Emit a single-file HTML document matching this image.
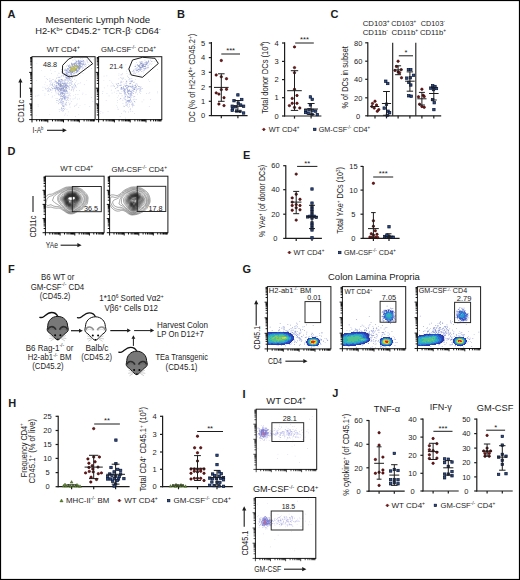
<!DOCTYPE html>
<html><head><meta charset="utf-8"><style>
html,body{margin:0;padding:0;background:#fff;}
svg{display:block;}
text{font-family:"Liberation Sans", sans-serif;fill:#1c1c1c;}
</style></head><body>
<svg width="520" height="580" viewBox="0 0 520 580" font-family='"Liberation Sans", sans-serif'>
<rect x="0" y="0" width="520" height="580" fill="#fff"/>
<text x="7.40" y="17.90" font-size="11" font-weight="bold" fill="#000">A</text>
<text x="177.00" y="17.90" font-size="11" font-weight="bold" fill="#000">B</text>
<text x="330.40" y="17.90" font-size="11" font-weight="bold" fill="#000">C</text>
<text x="7.60" y="154.80" font-size="11" font-weight="bold" fill="#000">D</text>
<text x="243.00" y="159.20" font-size="11" font-weight="bold" fill="#000">E</text>
<text x="8.00" y="273.20" font-size="11" font-weight="bold" fill="#000">F</text>
<text x="242.50" y="272.90" font-size="11" font-weight="bold" fill="#000">G</text>
<text x="8.20" y="406.80" font-size="11" font-weight="bold" fill="#000">H</text>
<text x="242.40" y="397.80" font-size="11" font-weight="bold" fill="#000">I</text>
<text x="332.20" y="397.40" font-size="11" font-weight="bold" fill="#000">J</text>
<line x1="211.40" y1="42.00" x2="211.40" y2="116.10" stroke="#1c1c1c" stroke-width="1.2"/>
<line x1="208.80" y1="43.00" x2="211.40" y2="43.00" stroke="#1c1c1c" stroke-width="1.2"/>
<text x="203.20" y="45.70" font-size="7.5" text-anchor="middle">5</text>
<line x1="208.80" y1="57.60" x2="211.40" y2="57.60" stroke="#1c1c1c" stroke-width="1.2"/>
<text x="203.20" y="60.30" font-size="7.5" text-anchor="middle">4</text>
<line x1="208.80" y1="72.30" x2="211.40" y2="72.30" stroke="#1c1c1c" stroke-width="1.2"/>
<text x="203.20" y="75.00" font-size="7.5" text-anchor="middle">3</text>
<line x1="208.80" y1="86.80" x2="211.40" y2="86.80" stroke="#1c1c1c" stroke-width="1.2"/>
<text x="203.20" y="89.50" font-size="7.5" text-anchor="middle">2</text>
<line x1="208.80" y1="101.30" x2="211.40" y2="101.30" stroke="#1c1c1c" stroke-width="1.2"/>
<text x="203.20" y="104.00" font-size="7.5" text-anchor="middle">1</text>
<line x1="208.80" y1="115.60" x2="211.40" y2="115.60" stroke="#1c1c1c" stroke-width="1.2"/>
<text x="203.20" y="118.30" font-size="7.5" text-anchor="middle">0</text>
<line x1="210.90" y1="115.60" x2="247.60" y2="115.60" stroke="#1c1c1c" stroke-width="1.2"/>
<line x1="221.30" y1="115.60" x2="221.30" y2="118.20" stroke="#1c1c1c" stroke-width="1.2"/>
<line x1="237.90" y1="115.60" x2="237.90" y2="118.20" stroke="#1c1c1c" stroke-width="1.2"/>
<text x="194.90" y="78.00" font-size="8.7" text-anchor="middle" textLength="88.50" lengthAdjust="spacingAndGlyphs" transform="rotate(-90 194.90 78.00)">DC (% of H2-K<tspan font-size="5.39" dy="-3.31">b+</tspan><tspan dy="3.31"> CD45.2</tspan><tspan font-size="5.39" dy="-3.31">+</tspan><tspan dy="3.31">)</tspan></text>
<line x1="221.30" y1="54.00" x2="240.00" y2="54.00" stroke="#1c1c1c" stroke-width="1.0"/>
<text x="230.65" y="53.40" font-size="7.6" text-anchor="middle">***</text>
<circle cx="221.30" cy="60.50" r="1.2" fill="#7d1416" stroke="#2a0505" stroke-width="0.6"/>
<circle cx="216.20" cy="75.00" r="1.2" fill="#7d1416" stroke="#2a0505" stroke-width="0.6"/>
<circle cx="221.30" cy="76.80" r="1.2" fill="#7d1416" stroke="#2a0505" stroke-width="0.6"/>
<circle cx="226.50" cy="78.70" r="1.2" fill="#7d1416" stroke="#2a0505" stroke-width="0.6"/>
<circle cx="221.30" cy="89.60" r="1.2" fill="#7d1416" stroke="#2a0505" stroke-width="0.6"/>
<circle cx="226.50" cy="89.30" r="1.2" fill="#7d1416" stroke="#2a0505" stroke-width="0.6"/>
<circle cx="216.20" cy="92.90" r="1.2" fill="#7d1416" stroke="#2a0505" stroke-width="0.6"/>
<circle cx="218.90" cy="94.10" r="1.2" fill="#7d1416" stroke="#2a0505" stroke-width="0.6"/>
<circle cx="224.00" cy="97.70" r="1.2" fill="#7d1416" stroke="#2a0505" stroke-width="0.6"/>
<circle cx="218.90" cy="104.00" r="1.2" fill="#7d1416" stroke="#2a0505" stroke-width="0.6"/>
<circle cx="224.00" cy="105.60" r="1.2" fill="#7d1416" stroke="#2a0505" stroke-width="0.6"/>
<line x1="214.00" y1="87.40" x2="228.60" y2="87.40" stroke="#1c1c1c" stroke-width="1.0"/>
<line x1="221.30" y1="73.80" x2="221.30" y2="101.30" stroke="#1c1c1c" stroke-width="1.0"/>
<line x1="218.00" y1="73.80" x2="224.60" y2="73.80" stroke="#1c1c1c" stroke-width="1.0"/>
<line x1="218.00" y1="101.30" x2="224.60" y2="101.30" stroke="#1c1c1c" stroke-width="1.0"/>
<rect x="236.70" y="93.70" width="2.40" height="2.40" fill="#2b4e8e" stroke="#0b1530" stroke-width="0.7"/>
<rect x="232.80" y="99.50" width="2.40" height="2.40" fill="#2b4e8e" stroke="#0b1530" stroke-width="0.7"/>
<rect x="240.60" y="98.30" width="2.40" height="2.40" fill="#2b4e8e" stroke="#0b1530" stroke-width="0.7"/>
<rect x="237.00" y="101.90" width="2.40" height="2.40" fill="#2b4e8e" stroke="#0b1530" stroke-width="0.7"/>
<rect x="239.40" y="103.80" width="2.40" height="2.40" fill="#2b4e8e" stroke="#0b1530" stroke-width="0.7"/>
<rect x="242.40" y="105.00" width="2.40" height="2.40" fill="#2b4e8e" stroke="#0b1530" stroke-width="0.7"/>
<rect x="231.00" y="105.00" width="2.40" height="2.40" fill="#2b4e8e" stroke="#0b1530" stroke-width="0.7"/>
<rect x="234.60" y="105.60" width="2.40" height="2.40" fill="#2b4e8e" stroke="#0b1530" stroke-width="0.7"/>
<rect x="231.30" y="107.70" width="2.40" height="2.40" fill="#2b4e8e" stroke="#0b1530" stroke-width="0.7"/>
<rect x="231.00" y="109.20" width="2.40" height="2.40" fill="#2b4e8e" stroke="#0b1530" stroke-width="0.7"/>
<rect x="235.40" y="109.80" width="2.40" height="2.40" fill="#2b4e8e" stroke="#0b1530" stroke-width="0.7"/>
<rect x="238.80" y="110.20" width="2.40" height="2.40" fill="#2b4e8e" stroke="#0b1530" stroke-width="0.7"/>
<rect x="242.40" y="111.80" width="2.40" height="2.40" fill="#2b4e8e" stroke="#0b1530" stroke-width="0.7"/>
<line x1="232.60" y1="106.20" x2="243.20" y2="106.20" stroke="#1c1c1c" stroke-width="1.0"/>
<line x1="237.90" y1="100.50" x2="237.90" y2="111.50" stroke="#1c1c1c" stroke-width="1.0"/>
<line x1="234.60" y1="100.50" x2="241.20" y2="100.50" stroke="#1c1c1c" stroke-width="1.0"/>
<line x1="234.60" y1="111.50" x2="241.20" y2="111.50" stroke="#1c1c1c" stroke-width="1.0"/>
<line x1="284.60" y1="42.20" x2="284.60" y2="116.50" stroke="#1c1c1c" stroke-width="1.2"/>
<line x1="282.00" y1="43.00" x2="284.60" y2="43.00" stroke="#1c1c1c" stroke-width="1.2"/>
<text x="276.60" y="45.70" font-size="7.5" text-anchor="middle">4</text>
<line x1="282.00" y1="61.40" x2="284.60" y2="61.40" stroke="#1c1c1c" stroke-width="1.2"/>
<text x="276.60" y="64.10" font-size="7.5" text-anchor="middle">3</text>
<line x1="282.00" y1="79.60" x2="284.60" y2="79.60" stroke="#1c1c1c" stroke-width="1.2"/>
<text x="276.60" y="82.30" font-size="7.5" text-anchor="middle">2</text>
<line x1="282.00" y1="97.70" x2="284.60" y2="97.70" stroke="#1c1c1c" stroke-width="1.2"/>
<text x="276.60" y="100.40" font-size="7.5" text-anchor="middle">1</text>
<line x1="282.00" y1="116.00" x2="284.60" y2="116.00" stroke="#1c1c1c" stroke-width="1.2"/>
<text x="276.60" y="118.70" font-size="7.5" text-anchor="middle">0</text>
<line x1="284.10" y1="116.00" x2="321.40" y2="116.00" stroke="#1c1c1c" stroke-width="1.2"/>
<line x1="294.50" y1="116.00" x2="294.50" y2="118.60" stroke="#1c1c1c" stroke-width="1.2"/>
<line x1="311.10" y1="116.00" x2="311.10" y2="118.60" stroke="#1c1c1c" stroke-width="1.2"/>
<text x="267.80" y="77.60" font-size="8.7" text-anchor="middle" textLength="72.40" lengthAdjust="spacingAndGlyphs" transform="rotate(-90 267.80 77.60)">Total donor DCs (10<tspan font-size="5.39" dy="-3.31">4</tspan><tspan dy="3.31">)</tspan></text>
<line x1="295.20" y1="43.00" x2="313.80" y2="43.00" stroke="#1c1c1c" stroke-width="1.0"/>
<text x="304.50" y="42.40" font-size="7.6" text-anchor="middle">***</text>
<circle cx="294.50" cy="46.90" r="1.2" fill="#7d1416" stroke="#2a0505" stroke-width="0.6"/>
<circle cx="294.50" cy="67.60" r="1.2" fill="#7d1416" stroke="#2a0505" stroke-width="0.6"/>
<circle cx="294.50" cy="72.70" r="1.2" fill="#7d1416" stroke="#2a0505" stroke-width="0.6"/>
<circle cx="294.50" cy="89.30" r="1.2" fill="#7d1416" stroke="#2a0505" stroke-width="0.6"/>
<circle cx="297.00" cy="95.50" r="1.2" fill="#7d1416" stroke="#2a0505" stroke-width="0.6"/>
<circle cx="292.20" cy="98.40" r="1.2" fill="#7d1416" stroke="#2a0505" stroke-width="0.6"/>
<circle cx="292.20" cy="103.30" r="1.2" fill="#7d1416" stroke="#2a0505" stroke-width="0.6"/>
<circle cx="297.00" cy="103.30" r="1.2" fill="#7d1416" stroke="#2a0505" stroke-width="0.6"/>
<circle cx="289.40" cy="105.60" r="1.2" fill="#7d1416" stroke="#2a0505" stroke-width="0.6"/>
<circle cx="294.50" cy="107.40" r="1.2" fill="#7d1416" stroke="#2a0505" stroke-width="0.6"/>
<circle cx="299.80" cy="108.00" r="1.2" fill="#7d1416" stroke="#2a0505" stroke-width="0.6"/>
<line x1="287.20" y1="90.70" x2="301.80" y2="90.70" stroke="#1c1c1c" stroke-width="1.0"/>
<line x1="294.50" y1="70.70" x2="294.50" y2="110.40" stroke="#1c1c1c" stroke-width="1.0"/>
<line x1="290.80" y1="70.70" x2="298.20" y2="70.70" stroke="#1c1c1c" stroke-width="1.0"/>
<line x1="290.80" y1="110.40" x2="298.20" y2="110.40" stroke="#1c1c1c" stroke-width="1.0"/>
<rect x="309.20" y="95.70" width="2.40" height="2.40" fill="#2b4e8e" stroke="#0b1530" stroke-width="0.7"/>
<rect x="311.00" y="98.20" width="2.40" height="2.40" fill="#2b4e8e" stroke="#0b1530" stroke-width="0.7"/>
<rect x="309.20" y="103.70" width="2.40" height="2.40" fill="#2b4e8e" stroke="#0b1530" stroke-width="0.7"/>
<rect x="304.40" y="109.50" width="2.40" height="2.40" fill="#2b4e8e" stroke="#0b1530" stroke-width="0.7"/>
<rect x="307.80" y="108.60" width="2.40" height="2.40" fill="#2b4e8e" stroke="#0b1530" stroke-width="0.7"/>
<rect x="311.30" y="109.20" width="2.40" height="2.40" fill="#2b4e8e" stroke="#0b1530" stroke-width="0.7"/>
<rect x="314.40" y="109.90" width="2.40" height="2.40" fill="#2b4e8e" stroke="#0b1530" stroke-width="0.7"/>
<rect x="304.40" y="111.30" width="2.40" height="2.40" fill="#2b4e8e" stroke="#0b1530" stroke-width="0.7"/>
<rect x="307.10" y="112.00" width="2.40" height="2.40" fill="#2b4e8e" stroke="#0b1530" stroke-width="0.7"/>
<rect x="310.80" y="113.00" width="2.40" height="2.40" fill="#2b4e8e" stroke="#0b1530" stroke-width="0.7"/>
<rect x="316.10" y="113.40" width="2.40" height="2.40" fill="#2b4e8e" stroke="#0b1530" stroke-width="0.7"/>
<line x1="304.20" y1="109.00" x2="318.00" y2="109.00" stroke="#1c1c1c" stroke-width="1.0"/>
<line x1="311.10" y1="103.50" x2="311.10" y2="114.50" stroke="#1c1c1c" stroke-width="1.0"/>
<line x1="307.60" y1="103.50" x2="314.60" y2="103.50" stroke="#1c1c1c" stroke-width="1.0"/>
<line x1="307.60" y1="114.50" x2="314.60" y2="114.50" stroke="#1c1c1c" stroke-width="1.0"/>
<path d="M263.80,127.90 L265.30,129.40 L263.80,130.90 L262.30,129.40 Z" fill="#7d1416" stroke="#3a0a0a" stroke-width="0.5"/>
<text x="268.70" y="132.20" font-size="7.8" textLength="30.70" lengthAdjust="spacingAndGlyphs">WT CD4<tspan font-size="4.84" dy="-2.96">+</tspan></text>
<rect x="313.60" y="128.20" width="2.40" height="2.40" fill="#2b4e8e" stroke="#0b1530" stroke-width="0.7"/>
<text x="318.80" y="132.20" font-size="7.8" textLength="51.40" lengthAdjust="spacingAndGlyphs">GM-CSF<tspan font-size="4.84" dy="-2.96">-/-</tspan><tspan dy="2.96"> CD4</tspan><tspan font-size="4.84" dy="-2.96">+</tspan></text>
<text x="362.70" y="25.70" font-size="7.6" textLength="27.00" lengthAdjust="spacingAndGlyphs">CD103<tspan font-size="4.71" dy="-2.89">+</tspan></text>
<text x="362.70" y="34.80" font-size="7.6" textLength="25.20" lengthAdjust="spacingAndGlyphs">CD11b<tspan font-size="4.71" dy="-2.89">-</tspan></text>
<text x="391.20" y="25.70" font-size="7.6" textLength="25.00" lengthAdjust="spacingAndGlyphs">CD103<tspan font-size="4.71" dy="-2.89">+</tspan></text>
<text x="391.60" y="34.80" font-size="7.6" textLength="26.50" lengthAdjust="spacingAndGlyphs">CD11b<tspan font-size="4.71" dy="-2.89">+</tspan></text>
<text x="420.80" y="25.70" font-size="7.6" textLength="24.20" lengthAdjust="spacingAndGlyphs">CD103<tspan font-size="4.71" dy="-2.89">-</tspan></text>
<text x="419.90" y="34.80" font-size="7.6" textLength="26.10" lengthAdjust="spacingAndGlyphs">CD11b<tspan font-size="4.71" dy="-2.89">+</tspan></text>
<line x1="367.80" y1="42.30" x2="367.80" y2="116.30" stroke="#1c1c1c" stroke-width="1.2"/>
<line x1="365.20" y1="42.80" x2="367.80" y2="42.80" stroke="#1c1c1c" stroke-width="1.2"/>
<text x="358.20" y="45.50" font-size="7.5" text-anchor="middle">80</text>
<line x1="365.20" y1="61.20" x2="367.80" y2="61.20" stroke="#1c1c1c" stroke-width="1.2"/>
<text x="358.20" y="63.90" font-size="7.5" text-anchor="middle">60</text>
<line x1="365.20" y1="79.30" x2="367.80" y2="79.30" stroke="#1c1c1c" stroke-width="1.2"/>
<text x="358.20" y="82.00" font-size="7.5" text-anchor="middle">40</text>
<line x1="365.20" y1="97.80" x2="367.80" y2="97.80" stroke="#1c1c1c" stroke-width="1.2"/>
<text x="358.20" y="100.50" font-size="7.5" text-anchor="middle">20</text>
<line x1="365.20" y1="115.80" x2="367.80" y2="115.80" stroke="#1c1c1c" stroke-width="1.2"/>
<text x="358.20" y="118.50" font-size="7.5" text-anchor="middle">0</text>
<line x1="367.30" y1="115.80" x2="441.20" y2="115.80" stroke="#1c1c1c" stroke-width="1.2"/>
<line x1="375.00" y1="115.80" x2="375.00" y2="118.40" stroke="#1c1c1c" stroke-width="1.2"/>
<line x1="386.50" y1="115.80" x2="386.50" y2="118.40" stroke="#1c1c1c" stroke-width="1.2"/>
<line x1="398.10" y1="115.80" x2="398.10" y2="118.40" stroke="#1c1c1c" stroke-width="1.2"/>
<line x1="409.90" y1="115.80" x2="409.90" y2="118.40" stroke="#1c1c1c" stroke-width="1.2"/>
<line x1="421.90" y1="115.80" x2="421.90" y2="118.40" stroke="#1c1c1c" stroke-width="1.2"/>
<line x1="433.80" y1="115.80" x2="433.80" y2="118.40" stroke="#1c1c1c" stroke-width="1.2"/>
<line x1="392.70" y1="42.80" x2="392.70" y2="115.80" stroke="#1c1c1c" stroke-width="1.1"/>
<line x1="415.80" y1="42.80" x2="415.80" y2="115.80" stroke="#1c1c1c" stroke-width="1.1"/>
<text x="348.30" y="77.40" font-size="8.7" text-anchor="middle" textLength="62.30" lengthAdjust="spacingAndGlyphs" transform="rotate(-90 348.30 77.40)">% of DCs in subset</text>
<line x1="398.80" y1="55.80" x2="413.00" y2="55.80" stroke="#1c1c1c" stroke-width="1.0"/>
<text x="405.90" y="55.20" font-size="7.6" text-anchor="middle">*</text>
<circle cx="375.00" cy="101.20" r="1.2" fill="#7d1416" stroke="#2a0505" stroke-width="0.6"/>
<circle cx="371.90" cy="106.50" r="1.2" fill="#7d1416" stroke="#2a0505" stroke-width="0.6"/>
<circle cx="376.50" cy="105.00" r="1.2" fill="#7d1416" stroke="#2a0505" stroke-width="0.6"/>
<circle cx="374.20" cy="108.10" r="1.2" fill="#7d1416" stroke="#2a0505" stroke-width="0.6"/>
<circle cx="378.80" cy="109.60" r="1.2" fill="#7d1416" stroke="#2a0505" stroke-width="0.6"/>
<circle cx="377.30" cy="111.20" r="1.2" fill="#7d1416" stroke="#2a0505" stroke-width="0.6"/>
<circle cx="372.50" cy="103.50" r="1.2" fill="#7d1416" stroke="#2a0505" stroke-width="0.6"/>
<line x1="370.40" y1="106.50" x2="379.20" y2="106.50" stroke="#1c1c1c" stroke-width="1.0"/>
<rect x="384.60" y="80.00" width="2.40" height="2.40" fill="#2b4e8e" stroke="#0b1530" stroke-width="0.7"/>
<rect x="386.60" y="82.30" width="2.40" height="2.40" fill="#2b4e8e" stroke="#0b1530" stroke-width="0.7"/>
<rect x="385.30" y="103.00" width="2.40" height="2.40" fill="#2b4e8e" stroke="#0b1530" stroke-width="0.7"/>
<rect x="383.00" y="106.90" width="2.40" height="2.40" fill="#2b4e8e" stroke="#0b1530" stroke-width="0.7"/>
<rect x="386.90" y="110.00" width="2.40" height="2.40" fill="#2b4e8e" stroke="#0b1530" stroke-width="0.7"/>
<rect x="388.40" y="111.50" width="2.40" height="2.40" fill="#2b4e8e" stroke="#0b1530" stroke-width="0.7"/>
<rect x="386.10" y="114.10" width="2.40" height="2.40" fill="#2b4e8e" stroke="#0b1530" stroke-width="0.7"/>
<line x1="381.90" y1="103.50" x2="391.10" y2="103.50" stroke="#1c1c1c" stroke-width="1.0"/>
<line x1="386.50" y1="91.50" x2="386.50" y2="115.30" stroke="#1c1c1c" stroke-width="1.0"/>
<line x1="383.10" y1="91.50" x2="389.90" y2="91.50" stroke="#1c1c1c" stroke-width="1.0"/>
<line x1="383.10" y1="115.30" x2="389.90" y2="115.30" stroke="#1c1c1c" stroke-width="1.0"/>
<circle cx="398.10" cy="61.20" r="1.2" fill="#7d1416" stroke="#2a0505" stroke-width="0.6"/>
<circle cx="396.50" cy="66.50" r="1.2" fill="#7d1416" stroke="#2a0505" stroke-width="0.6"/>
<circle cx="401.20" cy="69.60" r="1.2" fill="#7d1416" stroke="#2a0505" stroke-width="0.6"/>
<circle cx="395.00" cy="70.40" r="1.2" fill="#7d1416" stroke="#2a0505" stroke-width="0.6"/>
<circle cx="398.10" cy="71.90" r="1.2" fill="#7d1416" stroke="#2a0505" stroke-width="0.6"/>
<circle cx="399.60" cy="72.70" r="1.2" fill="#7d1416" stroke="#2a0505" stroke-width="0.6"/>
<circle cx="401.50" cy="77.80" r="1.2" fill="#7d1416" stroke="#2a0505" stroke-width="0.6"/>
<line x1="393.80" y1="69.90" x2="402.40" y2="69.90" stroke="#1c1c1c" stroke-width="1.0"/>
<line x1="398.10" y1="65.80" x2="398.10" y2="74.70" stroke="#1c1c1c" stroke-width="1.0"/>
<line x1="395.10" y1="65.80" x2="401.10" y2="65.80" stroke="#1c1c1c" stroke-width="1.0"/>
<line x1="395.10" y1="74.70" x2="401.10" y2="74.70" stroke="#1c1c1c" stroke-width="1.0"/>
<rect x="407.20" y="68.40" width="2.40" height="2.40" fill="#2b4e8e" stroke="#0b1530" stroke-width="0.7"/>
<rect x="409.60" y="68.40" width="2.40" height="2.40" fill="#2b4e8e" stroke="#0b1530" stroke-width="0.7"/>
<rect x="412.30" y="74.10" width="2.40" height="2.40" fill="#2b4e8e" stroke="#0b1530" stroke-width="0.7"/>
<rect x="405.60" y="76.90" width="2.40" height="2.40" fill="#2b4e8e" stroke="#0b1530" stroke-width="0.7"/>
<rect x="409.20" y="76.60" width="2.40" height="2.40" fill="#2b4e8e" stroke="#0b1530" stroke-width="0.7"/>
<rect x="407.60" y="81.20" width="2.40" height="2.40" fill="#2b4e8e" stroke="#0b1530" stroke-width="0.7"/>
<rect x="409.60" y="83.80" width="2.40" height="2.40" fill="#2b4e8e" stroke="#0b1530" stroke-width="0.7"/>
<rect x="407.60" y="94.60" width="2.40" height="2.40" fill="#2b4e8e" stroke="#0b1530" stroke-width="0.7"/>
<rect x="410.00" y="95.00" width="2.40" height="2.40" fill="#2b4e8e" stroke="#0b1530" stroke-width="0.7"/>
<line x1="405.10" y1="81.20" x2="414.70" y2="81.20" stroke="#1c1c1c" stroke-width="1.0"/>
<line x1="409.90" y1="71.90" x2="409.90" y2="91.20" stroke="#1c1c1c" stroke-width="1.0"/>
<line x1="406.70" y1="71.90" x2="413.10" y2="71.90" stroke="#1c1c1c" stroke-width="1.0"/>
<line x1="406.70" y1="91.20" x2="413.10" y2="91.20" stroke="#1c1c1c" stroke-width="1.0"/>
<circle cx="421.90" cy="89.20" r="1.2" fill="#7d1416" stroke="#2a0505" stroke-width="0.6"/>
<circle cx="423.20" cy="95.30" r="1.2" fill="#7d1416" stroke="#2a0505" stroke-width="0.6"/>
<circle cx="418.50" cy="96.80" r="1.2" fill="#7d1416" stroke="#2a0505" stroke-width="0.6"/>
<circle cx="424.20" cy="96.50" r="1.2" fill="#7d1416" stroke="#2a0505" stroke-width="0.6"/>
<circle cx="419.60" cy="104.20" r="1.2" fill="#7d1416" stroke="#2a0505" stroke-width="0.6"/>
<circle cx="421.90" cy="106.50" r="1.2" fill="#7d1416" stroke="#2a0505" stroke-width="0.6"/>
<circle cx="424.20" cy="107.30" r="1.2" fill="#7d1416" stroke="#2a0505" stroke-width="0.6"/>
<line x1="417.30" y1="98.80" x2="426.50" y2="98.80" stroke="#1c1c1c" stroke-width="1.0"/>
<line x1="421.90" y1="92.40" x2="421.90" y2="105.00" stroke="#1c1c1c" stroke-width="1.0"/>
<line x1="418.90" y1="92.40" x2="424.90" y2="92.40" stroke="#1c1c1c" stroke-width="1.0"/>
<line x1="418.90" y1="105.00" x2="424.90" y2="105.00" stroke="#1c1c1c" stroke-width="1.0"/>
<rect x="431.50" y="84.60" width="2.40" height="2.40" fill="#2b4e8e" stroke="#0b1530" stroke-width="0.7"/>
<rect x="433.80" y="85.30" width="2.40" height="2.40" fill="#2b4e8e" stroke="#0b1530" stroke-width="0.7"/>
<rect x="429.60" y="86.90" width="2.40" height="2.40" fill="#2b4e8e" stroke="#0b1530" stroke-width="0.7"/>
<rect x="435.30" y="87.30" width="2.40" height="2.40" fill="#2b4e8e" stroke="#0b1530" stroke-width="0.7"/>
<rect x="432.30" y="88.40" width="2.40" height="2.40" fill="#2b4e8e" stroke="#0b1530" stroke-width="0.7"/>
<rect x="431.50" y="98.40" width="2.40" height="2.40" fill="#2b4e8e" stroke="#0b1530" stroke-width="0.7"/>
<rect x="433.00" y="101.50" width="2.40" height="2.40" fill="#2b4e8e" stroke="#0b1530" stroke-width="0.7"/>
<rect x="432.70" y="108.40" width="2.40" height="2.40" fill="#2b4e8e" stroke="#0b1530" stroke-width="0.7"/>
<line x1="429.00" y1="93.50" x2="438.60" y2="93.50" stroke="#1c1c1c" stroke-width="1.0"/>
<line x1="433.80" y1="87.50" x2="433.80" y2="100.00" stroke="#1c1c1c" stroke-width="1.0"/>
<line x1="430.80" y1="87.50" x2="436.80" y2="87.50" stroke="#1c1c1c" stroke-width="1.0"/>
<line x1="430.80" y1="100.00" x2="436.80" y2="100.00" stroke="#1c1c1c" stroke-width="1.0"/>
<line x1="285.80" y1="165.20" x2="285.80" y2="238.90" stroke="#1c1c1c" stroke-width="1.2"/>
<line x1="283.20" y1="165.70" x2="285.80" y2="165.70" stroke="#1c1c1c" stroke-width="1.2"/>
<text x="275.40" y="168.40" font-size="7.5" text-anchor="middle">60</text>
<line x1="283.20" y1="189.70" x2="285.80" y2="189.70" stroke="#1c1c1c" stroke-width="1.2"/>
<text x="275.40" y="192.40" font-size="7.5" text-anchor="middle">40</text>
<line x1="283.20" y1="214.20" x2="285.80" y2="214.20" stroke="#1c1c1c" stroke-width="1.2"/>
<text x="275.40" y="216.90" font-size="7.5" text-anchor="middle">20</text>
<line x1="283.20" y1="238.40" x2="285.80" y2="238.40" stroke="#1c1c1c" stroke-width="1.2"/>
<text x="275.40" y="241.10" font-size="7.5" text-anchor="middle">0</text>
<line x1="285.30" y1="238.40" x2="321.90" y2="238.40" stroke="#1c1c1c" stroke-width="1.2"/>
<line x1="296.20" y1="238.40" x2="296.20" y2="241.00" stroke="#1c1c1c" stroke-width="1.2"/>
<line x1="312.00" y1="238.40" x2="312.00" y2="241.00" stroke="#1c1c1c" stroke-width="1.2"/>
<text x="265.40" y="201.00" font-size="8.7" text-anchor="middle" textLength="72.10" lengthAdjust="spacingAndGlyphs" transform="rotate(-90 265.40 201.00)">% YAe<tspan font-size="5.39" dy="-3.31">+</tspan><tspan dy="3.31"> (of donor DCs)</tspan></text>
<line x1="297.10" y1="166.40" x2="317.40" y2="166.40" stroke="#1c1c1c" stroke-width="1.0"/>
<text x="307.25" y="165.80" font-size="7.6" text-anchor="middle">**</text>
<circle cx="296.20" cy="174.10" r="1.2" fill="#7d1416" stroke="#2a0505" stroke-width="0.6"/>
<circle cx="296.20" cy="194.20" r="1.2" fill="#7d1416" stroke="#2a0505" stroke-width="0.6"/>
<circle cx="292.20" cy="197.90" r="1.2" fill="#7d1416" stroke="#2a0505" stroke-width="0.6"/>
<circle cx="300.00" cy="199.30" r="1.2" fill="#7d1416" stroke="#2a0505" stroke-width="0.6"/>
<circle cx="292.20" cy="202.10" r="1.2" fill="#7d1416" stroke="#2a0505" stroke-width="0.6"/>
<circle cx="296.20" cy="204.60" r="1.2" fill="#7d1416" stroke="#2a0505" stroke-width="0.6"/>
<circle cx="300.00" cy="205.50" r="1.2" fill="#7d1416" stroke="#2a0505" stroke-width="0.6"/>
<circle cx="292.20" cy="205.50" r="1.2" fill="#7d1416" stroke="#2a0505" stroke-width="0.6"/>
<circle cx="296.20" cy="207.80" r="1.2" fill="#7d1416" stroke="#2a0505" stroke-width="0.6"/>
<circle cx="292.20" cy="210.20" r="1.2" fill="#7d1416" stroke="#2a0505" stroke-width="0.6"/>
<circle cx="300.00" cy="209.80" r="1.2" fill="#7d1416" stroke="#2a0505" stroke-width="0.6"/>
<circle cx="296.20" cy="220.10" r="1.2" fill="#7d1416" stroke="#2a0505" stroke-width="0.6"/>
<line x1="291.00" y1="202.10" x2="301.40" y2="202.10" stroke="#1c1c1c" stroke-width="1.0"/>
<line x1="296.20" y1="191.40" x2="296.20" y2="213.70" stroke="#1c1c1c" stroke-width="1.0"/>
<line x1="293.20" y1="191.40" x2="299.20" y2="191.40" stroke="#1c1c1c" stroke-width="1.0"/>
<line x1="293.20" y1="213.70" x2="299.20" y2="213.70" stroke="#1c1c1c" stroke-width="1.0"/>
<rect x="310.80" y="187.80" width="2.40" height="2.40" fill="#2b4e8e" stroke="#0b1530" stroke-width="0.7"/>
<rect x="310.80" y="201.90" width="2.40" height="2.40" fill="#2b4e8e" stroke="#0b1530" stroke-width="0.7"/>
<rect x="310.80" y="205.50" width="2.40" height="2.40" fill="#2b4e8e" stroke="#0b1530" stroke-width="0.7"/>
<rect x="310.80" y="208.00" width="2.40" height="2.40" fill="#2b4e8e" stroke="#0b1530" stroke-width="0.7"/>
<rect x="310.80" y="210.40" width="2.40" height="2.40" fill="#2b4e8e" stroke="#0b1530" stroke-width="0.7"/>
<rect x="310.80" y="213.30" width="2.40" height="2.40" fill="#2b4e8e" stroke="#0b1530" stroke-width="0.7"/>
<rect x="306.60" y="215.70" width="2.40" height="2.40" fill="#2b4e8e" stroke="#0b1530" stroke-width="0.7"/>
<rect x="308.70" y="215.10" width="2.40" height="2.40" fill="#2b4e8e" stroke="#0b1530" stroke-width="0.7"/>
<rect x="312.90" y="215.10" width="2.40" height="2.40" fill="#2b4e8e" stroke="#0b1530" stroke-width="0.7"/>
<rect x="315.00" y="216.10" width="2.40" height="2.40" fill="#2b4e8e" stroke="#0b1530" stroke-width="0.7"/>
<rect x="310.80" y="216.80" width="2.40" height="2.40" fill="#2b4e8e" stroke="#0b1530" stroke-width="0.7"/>
<rect x="310.80" y="221.70" width="2.40" height="2.40" fill="#2b4e8e" stroke="#0b1530" stroke-width="0.7"/>
<rect x="310.80" y="224.10" width="2.40" height="2.40" fill="#2b4e8e" stroke="#0b1530" stroke-width="0.7"/>
<rect x="310.80" y="226.70" width="2.40" height="2.40" fill="#2b4e8e" stroke="#0b1530" stroke-width="0.7"/>
<rect x="310.80" y="228.80" width="2.40" height="2.40" fill="#2b4e8e" stroke="#0b1530" stroke-width="0.7"/>
<rect x="310.80" y="236.60" width="2.40" height="2.40" fill="#2b4e8e" stroke="#0b1530" stroke-width="0.7"/>
<line x1="306.30" y1="216.60" x2="317.70" y2="216.60" stroke="#1c1c1c" stroke-width="1.0"/>
<line x1="312.00" y1="205.30" x2="312.00" y2="228.60" stroke="#1c1c1c" stroke-width="1.0"/>
<line x1="309.00" y1="205.30" x2="315.00" y2="205.30" stroke="#1c1c1c" stroke-width="1.0"/>
<line x1="309.00" y1="228.60" x2="315.00" y2="228.60" stroke="#1c1c1c" stroke-width="1.0"/>
<line x1="363.10" y1="165.90" x2="363.10" y2="238.90" stroke="#1c1c1c" stroke-width="1.2"/>
<line x1="360.50" y1="166.40" x2="363.10" y2="166.40" stroke="#1c1c1c" stroke-width="1.2"/>
<text x="353.40" y="169.10" font-size="7.5" text-anchor="middle">15</text>
<line x1="360.50" y1="190.10" x2="363.10" y2="190.10" stroke="#1c1c1c" stroke-width="1.2"/>
<text x="353.40" y="192.80" font-size="7.5" text-anchor="middle">10</text>
<line x1="360.50" y1="214.20" x2="363.10" y2="214.20" stroke="#1c1c1c" stroke-width="1.2"/>
<text x="353.40" y="216.90" font-size="7.5" text-anchor="middle">5</text>
<line x1="360.50" y1="238.40" x2="363.10" y2="238.40" stroke="#1c1c1c" stroke-width="1.2"/>
<text x="353.40" y="241.10" font-size="7.5" text-anchor="middle">0</text>
<line x1="362.60" y1="238.40" x2="399.60" y2="238.40" stroke="#1c1c1c" stroke-width="1.2"/>
<line x1="373.40" y1="238.40" x2="373.40" y2="241.00" stroke="#1c1c1c" stroke-width="1.2"/>
<line x1="389.00" y1="238.40" x2="389.00" y2="241.00" stroke="#1c1c1c" stroke-width="1.2"/>
<text x="343.10" y="200.30" font-size="8.7" text-anchor="middle" textLength="66.70" lengthAdjust="spacingAndGlyphs" transform="rotate(-90 343.10 200.30)">Total YAe<tspan font-size="5.39" dy="-3.31">+</tspan><tspan dy="3.31"> DCs (10</tspan><tspan font-size="5.39" dy="-3.31">3</tspan><tspan dy="3.31">)</tspan></text>
<line x1="373.20" y1="177.00" x2="393.20" y2="177.00" stroke="#1c1c1c" stroke-width="1.0"/>
<text x="383.20" y="176.40" font-size="7.6" text-anchor="middle">***</text>
<circle cx="373.40" cy="183.30" r="1.2" fill="#7d1416" stroke="#2a0505" stroke-width="0.6"/>
<circle cx="373.40" cy="220.80" r="1.2" fill="#7d1416" stroke="#2a0505" stroke-width="0.6"/>
<circle cx="373.40" cy="226.20" r="1.2" fill="#7d1416" stroke="#2a0505" stroke-width="0.6"/>
<circle cx="375.30" cy="230.70" r="1.2" fill="#7d1416" stroke="#2a0505" stroke-width="0.6"/>
<circle cx="371.30" cy="233.80" r="1.2" fill="#7d1416" stroke="#2a0505" stroke-width="0.6"/>
<circle cx="377.00" cy="234.30" r="1.2" fill="#7d1416" stroke="#2a0505" stroke-width="0.6"/>
<circle cx="373.40" cy="235.00" r="1.2" fill="#7d1416" stroke="#2a0505" stroke-width="0.6"/>
<circle cx="369.90" cy="237.10" r="1.2" fill="#7d1416" stroke="#2a0505" stroke-width="0.6"/>
<circle cx="375.60" cy="237.10" r="1.2" fill="#7d1416" stroke="#2a0505" stroke-width="0.6"/>
<circle cx="372.00" cy="237.50" r="1.2" fill="#7d1416" stroke="#2a0505" stroke-width="0.6"/>
<circle cx="377.70" cy="237.50" r="1.2" fill="#7d1416" stroke="#2a0505" stroke-width="0.6"/>
<line x1="368.00" y1="228.60" x2="378.80" y2="228.60" stroke="#1c1c1c" stroke-width="1.0"/>
<line x1="373.40" y1="212.60" x2="373.40" y2="238.00" stroke="#1c1c1c" stroke-width="1.0"/>
<line x1="371.10" y1="212.60" x2="375.70" y2="212.60" stroke="#1c1c1c" stroke-width="1.0"/>
<line x1="371.10" y1="238.00" x2="375.70" y2="238.00" stroke="#1c1c1c" stroke-width="1.0"/>
<rect x="387.80" y="225.60" width="2.40" height="2.40" fill="#2b4e8e" stroke="#0b1530" stroke-width="0.7"/>
<rect x="383.60" y="235.30" width="2.40" height="2.40" fill="#2b4e8e" stroke="#0b1530" stroke-width="0.7"/>
<rect x="385.70" y="236.00" width="2.40" height="2.40" fill="#2b4e8e" stroke="#0b1530" stroke-width="0.7"/>
<rect x="387.80" y="235.30" width="2.40" height="2.40" fill="#2b4e8e" stroke="#0b1530" stroke-width="0.7"/>
<rect x="389.90" y="236.00" width="2.40" height="2.40" fill="#2b4e8e" stroke="#0b1530" stroke-width="0.7"/>
<rect x="392.00" y="236.00" width="2.40" height="2.40" fill="#2b4e8e" stroke="#0b1530" stroke-width="0.7"/>
<rect x="385.70" y="233.80" width="2.40" height="2.40" fill="#2b4e8e" stroke="#0b1530" stroke-width="0.7"/>
<line x1="384.50" y1="236.40" x2="393.50" y2="236.40" stroke="#1c1c1c" stroke-width="1.0"/>
<line x1="389.00" y1="233.80" x2="389.00" y2="238.00" stroke="#1c1c1c" stroke-width="1.0"/>
<line x1="386.50" y1="233.80" x2="391.50" y2="233.80" stroke="#1c1c1c" stroke-width="1.0"/>
<line x1="386.50" y1="238.00" x2="391.50" y2="238.00" stroke="#1c1c1c" stroke-width="1.0"/>
<path d="M289.40,251.00 L290.90,252.50 L289.40,254.00 L287.90,252.50 Z" fill="#7d1416" stroke="#3a0a0a" stroke-width="0.5"/>
<text x="293.50" y="255.20" font-size="7.8" textLength="30.90" lengthAdjust="spacingAndGlyphs">WT CD4<tspan font-size="4.84" dy="-2.96">+</tspan></text>
<rect x="338.60" y="251.30" width="2.40" height="2.40" fill="#2b4e8e" stroke="#0b1530" stroke-width="0.7"/>
<text x="344.00" y="255.20" font-size="7.8" textLength="51.80" lengthAdjust="spacingAndGlyphs">GM-CSF<tspan font-size="4.84" dy="-2.96">-/-</tspan><tspan dy="2.96"> CD4</tspan><tspan font-size="4.84" dy="-2.96">+</tspan></text>
<line x1="58.20" y1="415.80" x2="58.20" y2="487.20" stroke="#1c1c1c" stroke-width="1.2"/>
<line x1="55.60" y1="416.30" x2="58.20" y2="416.30" stroke="#1c1c1c" stroke-width="1.2"/>
<text x="47.50" y="419.00" font-size="7.5" text-anchor="middle">25</text>
<line x1="55.60" y1="430.50" x2="58.20" y2="430.50" stroke="#1c1c1c" stroke-width="1.2"/>
<text x="47.50" y="433.20" font-size="7.5" text-anchor="middle">20</text>
<line x1="55.60" y1="444.50" x2="58.20" y2="444.50" stroke="#1c1c1c" stroke-width="1.2"/>
<text x="47.50" y="447.20" font-size="7.5" text-anchor="middle">15</text>
<line x1="55.60" y1="458.40" x2="58.20" y2="458.40" stroke="#1c1c1c" stroke-width="1.2"/>
<text x="47.50" y="461.10" font-size="7.5" text-anchor="middle">10</text>
<line x1="55.60" y1="472.60" x2="58.20" y2="472.60" stroke="#1c1c1c" stroke-width="1.2"/>
<text x="47.50" y="475.30" font-size="7.5" text-anchor="middle">5</text>
<line x1="55.60" y1="486.70" x2="58.20" y2="486.70" stroke="#1c1c1c" stroke-width="1.2"/>
<text x="47.50" y="489.40" font-size="7.5" text-anchor="middle">0</text>
<line x1="57.70" y1="486.70" x2="129.60" y2="486.70" stroke="#1c1c1c" stroke-width="1.2"/>
<line x1="71.60" y1="486.70" x2="71.60" y2="489.30" stroke="#1c1c1c" stroke-width="1.2"/>
<line x1="93.70" y1="486.70" x2="93.70" y2="489.30" stroke="#1c1c1c" stroke-width="1.2"/>
<line x1="115.60" y1="486.70" x2="115.60" y2="489.30" stroke="#1c1c1c" stroke-width="1.2"/>
<text x="26.60" y="450.30" font-size="8.7" text-anchor="middle" textLength="54.00" lengthAdjust="spacingAndGlyphs" transform="rotate(-90 26.60 450.30)">Frequency CD4<tspan font-size="5.39" dy="-3.31">+</tspan></text>
<text x="35.50" y="451.20" font-size="8.7" text-anchor="middle" textLength="64.40" lengthAdjust="spacingAndGlyphs" transform="rotate(-90 35.50 451.20)">CD45.1<tspan font-size="5.39" dy="-3.31">+</tspan><tspan dy="3.31"> (% of live)</tspan></text>
<line x1="94.20" y1="424.00" x2="119.90" y2="424.00" stroke="#1c1c1c" stroke-width="1.0"/>
<text x="107.05" y="423.40" font-size="7.6" text-anchor="middle">**</text>
<path d="M71.60,480.60 L73.00,483.12 L70.20,483.12 Z" fill="#5e8a2a" stroke="#2e4a10" stroke-width="0.4"/>
<path d="M63.50,484.40 L64.90,486.92 L62.10,486.92 Z" fill="#5e8a2a" stroke="#2e4a10" stroke-width="0.4"/>
<path d="M66.00,484.60 L67.40,487.12 L64.60,487.12 Z" fill="#5e8a2a" stroke="#2e4a10" stroke-width="0.4"/>
<path d="M68.50,484.10 L69.90,486.62 L67.10,486.62 Z" fill="#5e8a2a" stroke="#2e4a10" stroke-width="0.4"/>
<path d="M70.50,484.80 L71.90,487.32 L69.10,487.32 Z" fill="#5e8a2a" stroke="#2e4a10" stroke-width="0.4"/>
<path d="M73.00,484.20 L74.40,486.72 L71.60,486.72 Z" fill="#5e8a2a" stroke="#2e4a10" stroke-width="0.4"/>
<path d="M75.50,484.60 L76.90,487.12 L74.10,487.12 Z" fill="#5e8a2a" stroke="#2e4a10" stroke-width="0.4"/>
<path d="M78.00,484.40 L79.40,486.92 L76.60,486.92 Z" fill="#5e8a2a" stroke="#2e4a10" stroke-width="0.4"/>
<path d="M80.00,484.80 L81.40,487.32 L78.60,487.32 Z" fill="#5e8a2a" stroke="#2e4a10" stroke-width="0.4"/>
<path d="M65.00,483.10 L66.40,485.62 L63.60,485.62 Z" fill="#5e8a2a" stroke="#2e4a10" stroke-width="0.4"/>
<path d="M77.00,483.40 L78.40,485.92 L75.60,485.92 Z" fill="#5e8a2a" stroke="#2e4a10" stroke-width="0.4"/>
<line x1="66.50" y1="484.80" x2="76.60" y2="484.80" stroke="#1c1c1c" stroke-width="0.9"/>
<circle cx="93.70" cy="428.60" r="1.2" fill="#7d1416" stroke="#2a0505" stroke-width="0.6"/>
<circle cx="87.90" cy="458.90" r="1.2" fill="#7d1416" stroke="#2a0505" stroke-width="0.6"/>
<circle cx="93.70" cy="457.00" r="1.2" fill="#7d1416" stroke="#2a0505" stroke-width="0.6"/>
<circle cx="99.40" cy="457.00" r="1.2" fill="#7d1416" stroke="#2a0505" stroke-width="0.6"/>
<circle cx="88.90" cy="463.20" r="1.2" fill="#7d1416" stroke="#2a0505" stroke-width="0.6"/>
<circle cx="95.10" cy="461.80" r="1.2" fill="#7d1416" stroke="#2a0505" stroke-width="0.6"/>
<circle cx="92.20" cy="465.70" r="1.2" fill="#7d1416" stroke="#2a0505" stroke-width="0.6"/>
<circle cx="98.00" cy="467.10" r="1.2" fill="#7d1416" stroke="#2a0505" stroke-width="0.6"/>
<circle cx="88.90" cy="467.50" r="1.2" fill="#7d1416" stroke="#2a0505" stroke-width="0.6"/>
<circle cx="92.80" cy="469.00" r="1.2" fill="#7d1416" stroke="#2a0505" stroke-width="0.6"/>
<circle cx="85.60" cy="472.90" r="1.2" fill="#7d1416" stroke="#2a0505" stroke-width="0.6"/>
<circle cx="89.30" cy="471.40" r="1.2" fill="#7d1416" stroke="#2a0505" stroke-width="0.6"/>
<circle cx="93.20" cy="471.90" r="1.2" fill="#7d1416" stroke="#2a0505" stroke-width="0.6"/>
<circle cx="98.30" cy="473.70" r="1.2" fill="#7d1416" stroke="#2a0505" stroke-width="0.6"/>
<circle cx="101.40" cy="472.90" r="1.2" fill="#7d1416" stroke="#2a0505" stroke-width="0.6"/>
<circle cx="91.10" cy="477.20" r="1.2" fill="#7d1416" stroke="#2a0505" stroke-width="0.6"/>
<circle cx="96.50" cy="479.50" r="1.2" fill="#7d1416" stroke="#2a0505" stroke-width="0.6"/>
<circle cx="90.80" cy="482.00" r="1.2" fill="#7d1416" stroke="#2a0505" stroke-width="0.6"/>
<line x1="84.60" y1="467.10" x2="102.80" y2="467.10" stroke="#1c1c1c" stroke-width="1.0"/>
<line x1="93.70" y1="455.30" x2="93.70" y2="478.60" stroke="#1c1c1c" stroke-width="1.0"/>
<line x1="89.00" y1="455.30" x2="98.40" y2="455.30" stroke="#1c1c1c" stroke-width="1.0"/>
<line x1="89.00" y1="478.60" x2="98.40" y2="478.60" stroke="#1c1c1c" stroke-width="1.0"/>
<rect x="114.70" y="438.90" width="2.40" height="2.40" fill="#2b4e8e" stroke="#0b1530" stroke-width="0.7"/>
<rect x="114.70" y="462.40" width="2.40" height="2.40" fill="#2b4e8e" stroke="#0b1530" stroke-width="0.7"/>
<rect x="109.80" y="466.30" width="2.40" height="2.40" fill="#2b4e8e" stroke="#0b1530" stroke-width="0.7"/>
<rect x="116.50" y="468.20" width="2.40" height="2.40" fill="#2b4e8e" stroke="#0b1530" stroke-width="0.7"/>
<rect x="119.40" y="469.20" width="2.40" height="2.40" fill="#2b4e8e" stroke="#0b1530" stroke-width="0.7"/>
<rect x="112.90" y="470.70" width="2.40" height="2.40" fill="#2b4e8e" stroke="#0b1530" stroke-width="0.7"/>
<rect x="108.60" y="472.80" width="2.40" height="2.40" fill="#2b4e8e" stroke="#0b1530" stroke-width="0.7"/>
<rect x="119.40" y="472.80" width="2.40" height="2.40" fill="#2b4e8e" stroke="#0b1530" stroke-width="0.7"/>
<rect x="106.40" y="475.40" width="2.40" height="2.40" fill="#2b4e8e" stroke="#0b1530" stroke-width="0.7"/>
<rect x="110.80" y="474.20" width="2.40" height="2.40" fill="#2b4e8e" stroke="#0b1530" stroke-width="0.7"/>
<rect x="114.40" y="475.00" width="2.40" height="2.40" fill="#2b4e8e" stroke="#0b1530" stroke-width="0.7"/>
<rect x="118.00" y="475.40" width="2.40" height="2.40" fill="#2b4e8e" stroke="#0b1530" stroke-width="0.7"/>
<rect x="106.40" y="477.80" width="2.40" height="2.40" fill="#2b4e8e" stroke="#0b1530" stroke-width="0.7"/>
<rect x="109.30" y="477.80" width="2.40" height="2.40" fill="#2b4e8e" stroke="#0b1530" stroke-width="0.7"/>
<rect x="112.90" y="477.40" width="2.40" height="2.40" fill="#2b4e8e" stroke="#0b1530" stroke-width="0.7"/>
<rect x="117.30" y="477.80" width="2.40" height="2.40" fill="#2b4e8e" stroke="#0b1530" stroke-width="0.7"/>
<rect x="122.70" y="477.40" width="2.40" height="2.40" fill="#2b4e8e" stroke="#0b1530" stroke-width="0.7"/>
<rect x="111.50" y="480.00" width="2.40" height="2.40" fill="#2b4e8e" stroke="#0b1530" stroke-width="0.7"/>
<rect x="116.10" y="479.30" width="2.40" height="2.40" fill="#2b4e8e" stroke="#0b1530" stroke-width="0.7"/>
<rect x="114.40" y="482.80" width="2.40" height="2.40" fill="#2b4e8e" stroke="#0b1530" stroke-width="0.7"/>
<rect x="112.90" y="484.80" width="2.40" height="2.40" fill="#2b4e8e" stroke="#0b1530" stroke-width="0.7"/>
<line x1="106.20" y1="474.30" x2="125.00" y2="474.30" stroke="#1c1c1c" stroke-width="1.0"/>
<line x1="115.60" y1="464.20" x2="115.60" y2="484.10" stroke="#1c1c1c" stroke-width="1.0"/>
<line x1="111.70" y1="464.20" x2="119.50" y2="464.20" stroke="#1c1c1c" stroke-width="1.0"/>
<line x1="111.70" y1="484.10" x2="119.50" y2="484.10" stroke="#1c1c1c" stroke-width="1.0"/>
<line x1="162.60" y1="415.80" x2="162.60" y2="487.20" stroke="#1c1c1c" stroke-width="1.2"/>
<line x1="160.00" y1="416.30" x2="162.60" y2="416.30" stroke="#1c1c1c" stroke-width="1.2"/>
<text x="154.50" y="419.00" font-size="7.5" text-anchor="middle">4</text>
<line x1="160.00" y1="434.40" x2="162.60" y2="434.40" stroke="#1c1c1c" stroke-width="1.2"/>
<text x="154.50" y="437.10" font-size="7.5" text-anchor="middle">3</text>
<line x1="160.00" y1="452.00" x2="162.60" y2="452.00" stroke="#1c1c1c" stroke-width="1.2"/>
<text x="154.50" y="454.70" font-size="7.5" text-anchor="middle">2</text>
<line x1="160.00" y1="469.30" x2="162.60" y2="469.30" stroke="#1c1c1c" stroke-width="1.2"/>
<text x="154.50" y="472.00" font-size="7.5" text-anchor="middle">1</text>
<line x1="160.00" y1="486.70" x2="162.60" y2="486.70" stroke="#1c1c1c" stroke-width="1.2"/>
<text x="154.50" y="489.40" font-size="7.5" text-anchor="middle">0</text>
<line x1="162.10" y1="486.70" x2="232.80" y2="486.70" stroke="#1c1c1c" stroke-width="1.2"/>
<line x1="178.50" y1="486.70" x2="178.50" y2="489.30" stroke="#1c1c1c" stroke-width="1.2"/>
<line x1="197.50" y1="486.70" x2="197.50" y2="489.30" stroke="#1c1c1c" stroke-width="1.2"/>
<line x1="217.00" y1="486.70" x2="217.00" y2="489.30" stroke="#1c1c1c" stroke-width="1.2"/>
<text x="145.90" y="449.30" font-size="8.7" text-anchor="middle" textLength="84.50" lengthAdjust="spacingAndGlyphs" transform="rotate(-90 145.90 449.30)">Total CD4<tspan font-size="5.39" dy="-3.31">+</tspan><tspan dy="3.31"> CD45.1</tspan><tspan font-size="5.39" dy="-3.31">+</tspan><tspan dy="3.31"> (10</tspan><tspan font-size="5.39" dy="-3.31">5</tspan><tspan dy="3.31">)</tspan></text>
<line x1="197.20" y1="431.50" x2="223.00" y2="431.50" stroke="#1c1c1c" stroke-width="1.0"/>
<text x="210.10" y="430.90" font-size="7.6" text-anchor="middle">**</text>
<path d="M170.50,484.60 L171.90,487.12 L169.10,487.12 Z" fill="#5e8a2a" stroke="#2e4a10" stroke-width="0.4"/>
<path d="M173.00,484.00 L174.40,486.52 L171.60,486.52 Z" fill="#5e8a2a" stroke="#2e4a10" stroke-width="0.4"/>
<path d="M175.50,484.80 L176.90,487.32 L174.10,487.32 Z" fill="#5e8a2a" stroke="#2e4a10" stroke-width="0.4"/>
<path d="M178.00,484.10 L179.40,486.62 L176.60,486.62 Z" fill="#5e8a2a" stroke="#2e4a10" stroke-width="0.4"/>
<path d="M180.50,484.60 L181.90,487.12 L179.10,487.12 Z" fill="#5e8a2a" stroke="#2e4a10" stroke-width="0.4"/>
<path d="M183.00,484.20 L184.40,486.72 L181.60,486.72 Z" fill="#5e8a2a" stroke="#2e4a10" stroke-width="0.4"/>
<path d="M185.50,484.80 L186.90,487.32 L184.10,487.32 Z" fill="#5e8a2a" stroke="#2e4a10" stroke-width="0.4"/>
<path d="M176.00,483.20 L177.40,485.72 L174.60,485.72 Z" fill="#5e8a2a" stroke="#2e4a10" stroke-width="0.4"/>
<path d="M181.00,483.40 L182.40,485.92 L179.60,485.92 Z" fill="#5e8a2a" stroke="#2e4a10" stroke-width="0.4"/>
<line x1="172.00" y1="485.00" x2="184.00" y2="485.00" stroke="#1c1c1c" stroke-width="0.9"/>
<circle cx="197.50" cy="436.20" r="1.2" fill="#7d1416" stroke="#2a0505" stroke-width="0.6"/>
<circle cx="194.60" cy="447.80" r="1.2" fill="#7d1416" stroke="#2a0505" stroke-width="0.6"/>
<circle cx="200.70" cy="447.80" r="1.2" fill="#7d1416" stroke="#2a0505" stroke-width="0.6"/>
<circle cx="197.50" cy="452.80" r="1.2" fill="#7d1416" stroke="#2a0505" stroke-width="0.6"/>
<circle cx="197.50" cy="461.00" r="1.2" fill="#7d1416" stroke="#2a0505" stroke-width="0.6"/>
<circle cx="191.00" cy="469.00" r="1.2" fill="#7d1416" stroke="#2a0505" stroke-width="0.6"/>
<circle cx="194.30" cy="469.00" r="1.2" fill="#7d1416" stroke="#2a0505" stroke-width="0.6"/>
<circle cx="197.50" cy="469.40" r="1.2" fill="#7d1416" stroke="#2a0505" stroke-width="0.6"/>
<circle cx="200.70" cy="469.40" r="1.2" fill="#7d1416" stroke="#2a0505" stroke-width="0.6"/>
<circle cx="204.00" cy="469.00" r="1.2" fill="#7d1416" stroke="#2a0505" stroke-width="0.6"/>
<circle cx="191.00" cy="473.30" r="1.2" fill="#7d1416" stroke="#2a0505" stroke-width="0.6"/>
<circle cx="194.30" cy="471.20" r="1.2" fill="#7d1416" stroke="#2a0505" stroke-width="0.6"/>
<circle cx="197.50" cy="471.90" r="1.2" fill="#7d1416" stroke="#2a0505" stroke-width="0.6"/>
<circle cx="200.70" cy="471.20" r="1.2" fill="#7d1416" stroke="#2a0505" stroke-width="0.6"/>
<circle cx="204.00" cy="473.30" r="1.2" fill="#7d1416" stroke="#2a0505" stroke-width="0.6"/>
<circle cx="191.00" cy="479.00" r="1.2" fill="#7d1416" stroke="#2a0505" stroke-width="0.6"/>
<circle cx="194.30" cy="478.30" r="1.2" fill="#7d1416" stroke="#2a0505" stroke-width="0.6"/>
<circle cx="197.50" cy="478.30" r="1.2" fill="#7d1416" stroke="#2a0505" stroke-width="0.6"/>
<circle cx="200.70" cy="478.30" r="1.2" fill="#7d1416" stroke="#2a0505" stroke-width="0.6"/>
<circle cx="204.00" cy="480.50" r="1.2" fill="#7d1416" stroke="#2a0505" stroke-width="0.6"/>
<line x1="189.90" y1="468.30" x2="205.10" y2="468.30" stroke="#1c1c1c" stroke-width="1.0"/>
<line x1="197.50" y1="455.60" x2="197.50" y2="480.50" stroke="#1c1c1c" stroke-width="1.0"/>
<line x1="194.10" y1="455.60" x2="200.90" y2="455.60" stroke="#1c1c1c" stroke-width="1.0"/>
<line x1="194.10" y1="480.50" x2="200.90" y2="480.50" stroke="#1c1c1c" stroke-width="1.0"/>
<rect x="215.80" y="454.10" width="2.40" height="2.40" fill="#2b4e8e" stroke="#0b1530" stroke-width="0.7"/>
<rect x="215.80" y="463.40" width="2.40" height="2.40" fill="#2b4e8e" stroke="#0b1530" stroke-width="0.7"/>
<rect x="217.90" y="470.70" width="2.40" height="2.40" fill="#2b4e8e" stroke="#0b1530" stroke-width="0.7"/>
<rect x="211.40" y="472.80" width="2.40" height="2.40" fill="#2b4e8e" stroke="#0b1530" stroke-width="0.7"/>
<rect x="220.10" y="472.50" width="2.40" height="2.40" fill="#2b4e8e" stroke="#0b1530" stroke-width="0.7"/>
<rect x="213.60" y="474.30" width="2.40" height="2.40" fill="#2b4e8e" stroke="#0b1530" stroke-width="0.7"/>
<rect x="217.90" y="475.00" width="2.40" height="2.40" fill="#2b4e8e" stroke="#0b1530" stroke-width="0.7"/>
<rect x="222.30" y="476.40" width="2.40" height="2.40" fill="#2b4e8e" stroke="#0b1530" stroke-width="0.7"/>
<rect x="208.60" y="476.90" width="2.40" height="2.40" fill="#2b4e8e" stroke="#0b1530" stroke-width="0.7"/>
<rect x="211.40" y="477.40" width="2.40" height="2.40" fill="#2b4e8e" stroke="#0b1530" stroke-width="0.7"/>
<rect x="215.30" y="477.40" width="2.40" height="2.40" fill="#2b4e8e" stroke="#0b1530" stroke-width="0.7"/>
<rect x="219.40" y="477.10" width="2.40" height="2.40" fill="#2b4e8e" stroke="#0b1530" stroke-width="0.7"/>
<rect x="222.30" y="478.60" width="2.40" height="2.40" fill="#2b4e8e" stroke="#0b1530" stroke-width="0.7"/>
<rect x="210.70" y="480.80" width="2.40" height="2.40" fill="#2b4e8e" stroke="#0b1530" stroke-width="0.7"/>
<rect x="215.80" y="481.20" width="2.40" height="2.40" fill="#2b4e8e" stroke="#0b1530" stroke-width="0.7"/>
<rect x="218.70" y="481.20" width="2.40" height="2.40" fill="#2b4e8e" stroke="#0b1530" stroke-width="0.7"/>
<rect x="208.60" y="484.10" width="2.40" height="2.40" fill="#2b4e8e" stroke="#0b1530" stroke-width="0.7"/>
<rect x="212.90" y="484.40" width="2.40" height="2.40" fill="#2b4e8e" stroke="#0b1530" stroke-width="0.7"/>
<rect x="217.90" y="484.70" width="2.40" height="2.40" fill="#2b4e8e" stroke="#0b1530" stroke-width="0.7"/>
<rect x="222.30" y="485.10" width="2.40" height="2.40" fill="#2b4e8e" stroke="#0b1530" stroke-width="0.7"/>
<line x1="209.50" y1="477.60" x2="224.50" y2="477.60" stroke="#1c1c1c" stroke-width="1.0"/>
<line x1="217.00" y1="470.40" x2="217.00" y2="485.00" stroke="#1c1c1c" stroke-width="1.0"/>
<line x1="213.80" y1="470.40" x2="220.20" y2="470.40" stroke="#1c1c1c" stroke-width="1.0"/>
<line x1="213.80" y1="485.00" x2="220.20" y2="485.00" stroke="#1c1c1c" stroke-width="1.0"/>
<path d="M61.50,499.00 L63.10,501.88 L59.90,501.88 Z" fill="#5e8a2a" stroke="#2e4a10" stroke-width="0.4"/>
<text x="66.00" y="503.40" font-size="7.8" textLength="43.20" lengthAdjust="spacingAndGlyphs">MHC-II<tspan font-size="4.84" dy="-2.96">-/-</tspan><tspan dy="2.96"> BM</tspan></text>
<path d="M119.40,499.10 L120.90,500.60 L119.40,502.10 L117.90,500.60 Z" fill="#7d1416" stroke="#3a0a0a" stroke-width="0.5"/>
<text x="124.20" y="503.40" font-size="7.8" textLength="33.60" lengthAdjust="spacingAndGlyphs">WT CD4<tspan font-size="4.84" dy="-2.96">+</tspan></text>
<rect x="167.50" y="499.40" width="2.40" height="2.40" fill="#2b4e8e" stroke="#0b1530" stroke-width="0.7"/>
<text x="173.50" y="503.40" font-size="7.8" textLength="57.40" lengthAdjust="spacingAndGlyphs">GM-CSF<tspan font-size="4.84" dy="-2.96">-/-</tspan><tspan dy="2.96"> CD4</tspan><tspan font-size="4.84" dy="-2.96">+</tspan></text>
<text x="373.80" y="411.90" font-size="9.0" textLength="26.40" lengthAdjust="spacingAndGlyphs">TNF-α</text>
<text x="429.80" y="410.40" font-size="9.0" textLength="22.10" lengthAdjust="spacingAndGlyphs">IFN-γ</text>
<text x="476.80" y="410.90" font-size="9.0" textLength="36.60" lengthAdjust="spacingAndGlyphs">GM-CSF</text>
<line x1="369.00" y1="420.00" x2="369.00" y2="491.70" stroke="#1c1c1c" stroke-width="1.2"/>
<line x1="366.40" y1="420.50" x2="369.00" y2="420.50" stroke="#1c1c1c" stroke-width="1.2"/>
<text x="358.50" y="423.20" font-size="7.5" text-anchor="middle">60</text>
<line x1="366.40" y1="444.30" x2="369.00" y2="444.30" stroke="#1c1c1c" stroke-width="1.2"/>
<text x="358.50" y="447.00" font-size="7.5" text-anchor="middle">40</text>
<line x1="366.40" y1="467.80" x2="369.00" y2="467.80" stroke="#1c1c1c" stroke-width="1.2"/>
<text x="358.50" y="470.50" font-size="7.5" text-anchor="middle">20</text>
<line x1="366.40" y1="491.20" x2="369.00" y2="491.20" stroke="#1c1c1c" stroke-width="1.2"/>
<text x="358.50" y="493.90" font-size="7.5" text-anchor="middle">0</text>
<line x1="368.50" y1="491.20" x2="404.70" y2="491.20" stroke="#1c1c1c" stroke-width="1.2"/>
<line x1="379.10" y1="491.20" x2="379.10" y2="493.80" stroke="#1c1c1c" stroke-width="1.2"/>
<line x1="394.30" y1="491.20" x2="394.30" y2="493.80" stroke="#1c1c1c" stroke-width="1.2"/>
<text x="348.90" y="454.80" font-size="8.7" text-anchor="middle" textLength="82.00" lengthAdjust="spacingAndGlyphs" transform="rotate(-90 348.90 454.80)">% cytokine<tspan font-size="5.39" dy="-3.31">+</tspan><tspan dy="3.31"> (of CD45.1</tspan><tspan font-size="5.39" dy="-3.31">+</tspan><tspan dy="3.31">)</tspan></text>
<circle cx="379.10" cy="432.70" r="1.2" fill="#7d1416" stroke="#2a0505" stroke-width="0.6"/>
<circle cx="379.10" cy="445.10" r="1.2" fill="#7d1416" stroke="#2a0505" stroke-width="0.6"/>
<circle cx="375.40" cy="459.50" r="1.2" fill="#7d1416" stroke="#2a0505" stroke-width="0.6"/>
<circle cx="382.90" cy="457.10" r="1.2" fill="#7d1416" stroke="#2a0505" stroke-width="0.6"/>
<circle cx="382.90" cy="470.00" r="1.2" fill="#7d1416" stroke="#2a0505" stroke-width="0.6"/>
<circle cx="375.40" cy="473.30" r="1.2" fill="#7d1416" stroke="#2a0505" stroke-width="0.6"/>
<circle cx="379.10" cy="472.30" r="1.2" fill="#7d1416" stroke="#2a0505" stroke-width="0.6"/>
<circle cx="382.90" cy="473.00" r="1.2" fill="#7d1416" stroke="#2a0505" stroke-width="0.6"/>
<circle cx="379.10" cy="485.40" r="1.2" fill="#7d1416" stroke="#2a0505" stroke-width="0.6"/>
<line x1="374.20" y1="463.30" x2="384.00" y2="463.30" stroke="#1c1c1c" stroke-width="1.0"/>
<line x1="379.10" y1="446.80" x2="379.10" y2="479.20" stroke="#1c1c1c" stroke-width="1.0"/>
<line x1="376.70" y1="446.80" x2="381.50" y2="446.80" stroke="#1c1c1c" stroke-width="1.0"/>
<line x1="376.70" y1="479.20" x2="381.50" y2="479.20" stroke="#1c1c1c" stroke-width="1.0"/>
<rect x="393.10" y="452.20" width="2.40" height="2.40" fill="#2b4e8e" stroke="#0b1530" stroke-width="0.7"/>
<rect x="389.40" y="469.80" width="2.40" height="2.40" fill="#2b4e8e" stroke="#0b1530" stroke-width="0.7"/>
<rect x="393.10" y="468.30" width="2.40" height="2.40" fill="#2b4e8e" stroke="#0b1530" stroke-width="0.7"/>
<rect x="396.80" y="469.30" width="2.40" height="2.40" fill="#2b4e8e" stroke="#0b1530" stroke-width="0.7"/>
<rect x="389.40" y="478.60" width="2.40" height="2.40" fill="#2b4e8e" stroke="#0b1530" stroke-width="0.7"/>
<rect x="393.10" y="478.30" width="2.40" height="2.40" fill="#2b4e8e" stroke="#0b1530" stroke-width="0.7"/>
<rect x="396.80" y="478.60" width="2.40" height="2.40" fill="#2b4e8e" stroke="#0b1530" stroke-width="0.7"/>
<rect x="389.40" y="482.60" width="2.40" height="2.40" fill="#2b4e8e" stroke="#0b1530" stroke-width="0.7"/>
<rect x="393.10" y="481.50" width="2.40" height="2.40" fill="#2b4e8e" stroke="#0b1530" stroke-width="0.7"/>
<rect x="396.80" y="482.60" width="2.40" height="2.40" fill="#2b4e8e" stroke="#0b1530" stroke-width="0.7"/>
<line x1="389.30" y1="475.10" x2="399.30" y2="475.10" stroke="#1c1c1c" stroke-width="1.0"/>
<line x1="394.30" y1="464.70" x2="394.30" y2="485.40" stroke="#1c1c1c" stroke-width="1.0"/>
<line x1="391.10" y1="464.70" x2="397.50" y2="464.70" stroke="#1c1c1c" stroke-width="1.0"/>
<line x1="391.10" y1="485.40" x2="397.50" y2="485.40" stroke="#1c1c1c" stroke-width="1.0"/>
<line x1="423.00" y1="418.60" x2="423.00" y2="491.50" stroke="#1c1c1c" stroke-width="1.2"/>
<line x1="420.40" y1="419.10" x2="423.00" y2="419.10" stroke="#1c1c1c" stroke-width="1.2"/>
<text x="412.50" y="421.80" font-size="7.5" text-anchor="middle">40</text>
<line x1="420.40" y1="437.10" x2="423.00" y2="437.10" stroke="#1c1c1c" stroke-width="1.2"/>
<text x="412.50" y="439.80" font-size="7.5" text-anchor="middle">30</text>
<line x1="420.40" y1="455.30" x2="423.00" y2="455.30" stroke="#1c1c1c" stroke-width="1.2"/>
<text x="412.50" y="458.00" font-size="7.5" text-anchor="middle">20</text>
<line x1="420.40" y1="473.30" x2="423.00" y2="473.30" stroke="#1c1c1c" stroke-width="1.2"/>
<text x="412.50" y="476.00" font-size="7.5" text-anchor="middle">10</text>
<line x1="420.40" y1="491.00" x2="423.00" y2="491.00" stroke="#1c1c1c" stroke-width="1.2"/>
<text x="412.50" y="493.70" font-size="7.5" text-anchor="middle">0</text>
<line x1="422.50" y1="491.00" x2="458.70" y2="491.00" stroke="#1c1c1c" stroke-width="1.2"/>
<line x1="433.10" y1="491.00" x2="433.10" y2="493.60" stroke="#1c1c1c" stroke-width="1.2"/>
<line x1="448.30" y1="491.00" x2="448.30" y2="493.60" stroke="#1c1c1c" stroke-width="1.2"/>
<line x1="433.40" y1="431.30" x2="452.50" y2="431.30" stroke="#1c1c1c" stroke-width="1.0"/>
<text x="442.95" y="430.70" font-size="7.6" text-anchor="middle">***</text>
<circle cx="433.10" cy="438.50" r="1.2" fill="#7d1416" stroke="#2a0505" stroke-width="0.6"/>
<circle cx="429.40" cy="445.70" r="1.2" fill="#7d1416" stroke="#2a0505" stroke-width="0.6"/>
<circle cx="436.90" cy="443.70" r="1.2" fill="#7d1416" stroke="#2a0505" stroke-width="0.6"/>
<circle cx="429.40" cy="449.80" r="1.2" fill="#7d1416" stroke="#2a0505" stroke-width="0.6"/>
<circle cx="433.10" cy="450.60" r="1.2" fill="#7d1416" stroke="#2a0505" stroke-width="0.6"/>
<circle cx="436.90" cy="452.30" r="1.2" fill="#7d1416" stroke="#2a0505" stroke-width="0.6"/>
<circle cx="429.40" cy="454.80" r="1.2" fill="#7d1416" stroke="#2a0505" stroke-width="0.6"/>
<circle cx="429.40" cy="458.50" r="1.2" fill="#7d1416" stroke="#2a0505" stroke-width="0.6"/>
<circle cx="436.90" cy="458.10" r="1.2" fill="#7d1416" stroke="#2a0505" stroke-width="0.6"/>
<circle cx="433.10" cy="463.30" r="1.2" fill="#7d1416" stroke="#2a0505" stroke-width="0.6"/>
<line x1="427.90" y1="451.60" x2="438.30" y2="451.60" stroke="#1c1c1c" stroke-width="1.0"/>
<line x1="433.10" y1="443.30" x2="433.10" y2="459.50" stroke="#1c1c1c" stroke-width="1.0"/>
<line x1="428.90" y1="443.30" x2="437.30" y2="443.30" stroke="#1c1c1c" stroke-width="1.0"/>
<line x1="428.90" y1="459.50" x2="437.30" y2="459.50" stroke="#1c1c1c" stroke-width="1.0"/>
<rect x="443.40" y="457.70" width="2.40" height="2.40" fill="#2b4e8e" stroke="#0b1530" stroke-width="0.7"/>
<rect x="447.10" y="458.00" width="2.40" height="2.40" fill="#2b4e8e" stroke="#0b1530" stroke-width="0.7"/>
<rect x="443.40" y="461.40" width="2.40" height="2.40" fill="#2b4e8e" stroke="#0b1530" stroke-width="0.7"/>
<rect x="450.80" y="460.80" width="2.40" height="2.40" fill="#2b4e8e" stroke="#0b1530" stroke-width="0.7"/>
<rect x="447.10" y="465.20" width="2.40" height="2.40" fill="#2b4e8e" stroke="#0b1530" stroke-width="0.7"/>
<rect x="450.80" y="470.40" width="2.40" height="2.40" fill="#2b4e8e" stroke="#0b1530" stroke-width="0.7"/>
<rect x="443.40" y="472.90" width="2.40" height="2.40" fill="#2b4e8e" stroke="#0b1530" stroke-width="0.7"/>
<rect x="447.10" y="472.90" width="2.40" height="2.40" fill="#2b4e8e" stroke="#0b1530" stroke-width="0.7"/>
<rect x="443.40" y="476.60" width="2.40" height="2.40" fill="#2b4e8e" stroke="#0b1530" stroke-width="0.7"/>
<rect x="450.80" y="474.60" width="2.40" height="2.40" fill="#2b4e8e" stroke="#0b1530" stroke-width="0.7"/>
<line x1="443.20" y1="467.80" x2="453.40" y2="467.80" stroke="#1c1c1c" stroke-width="1.0"/>
<line x1="448.30" y1="460.60" x2="448.30" y2="475.10" stroke="#1c1c1c" stroke-width="1.0"/>
<line x1="444.80" y1="460.60" x2="451.80" y2="460.60" stroke="#1c1c1c" stroke-width="1.0"/>
<line x1="444.80" y1="475.10" x2="451.80" y2="475.10" stroke="#1c1c1c" stroke-width="1.0"/>
<line x1="476.80" y1="418.60" x2="476.80" y2="491.50" stroke="#1c1c1c" stroke-width="1.2"/>
<line x1="474.20" y1="419.10" x2="476.80" y2="419.10" stroke="#1c1c1c" stroke-width="1.2"/>
<text x="466.30" y="421.80" font-size="7.5" text-anchor="middle">50</text>
<line x1="474.20" y1="433.60" x2="476.80" y2="433.60" stroke="#1c1c1c" stroke-width="1.2"/>
<text x="466.30" y="436.30" font-size="7.5" text-anchor="middle">40</text>
<line x1="474.20" y1="448.10" x2="476.80" y2="448.10" stroke="#1c1c1c" stroke-width="1.2"/>
<text x="466.30" y="450.80" font-size="7.5" text-anchor="middle">30</text>
<line x1="474.20" y1="462.70" x2="476.80" y2="462.70" stroke="#1c1c1c" stroke-width="1.2"/>
<text x="466.30" y="465.40" font-size="7.5" text-anchor="middle">20</text>
<line x1="474.20" y1="476.90" x2="476.80" y2="476.90" stroke="#1c1c1c" stroke-width="1.2"/>
<text x="466.30" y="479.60" font-size="7.5" text-anchor="middle">10</text>
<line x1="474.20" y1="491.00" x2="476.80" y2="491.00" stroke="#1c1c1c" stroke-width="1.2"/>
<text x="466.30" y="493.70" font-size="7.5" text-anchor="middle">0</text>
<line x1="476.30" y1="491.00" x2="512.70" y2="491.00" stroke="#1c1c1c" stroke-width="1.2"/>
<line x1="487.10" y1="491.00" x2="487.10" y2="493.60" stroke="#1c1c1c" stroke-width="1.2"/>
<line x1="502.30" y1="491.00" x2="502.30" y2="493.60" stroke="#1c1c1c" stroke-width="1.2"/>
<line x1="486.20" y1="430.20" x2="505.10" y2="430.20" stroke="#1c1c1c" stroke-width="1.0"/>
<text x="495.65" y="429.60" font-size="7.6" text-anchor="middle">*</text>
<circle cx="487.10" cy="435.40" r="1.2" fill="#7d1416" stroke="#2a0505" stroke-width="0.6"/>
<circle cx="487.10" cy="448.10" r="1.2" fill="#7d1416" stroke="#2a0505" stroke-width="0.6"/>
<circle cx="483.70" cy="451.00" r="1.2" fill="#7d1416" stroke="#2a0505" stroke-width="0.6"/>
<circle cx="487.10" cy="451.20" r="1.2" fill="#7d1416" stroke="#2a0505" stroke-width="0.6"/>
<circle cx="490.60" cy="451.00" r="1.2" fill="#7d1416" stroke="#2a0505" stroke-width="0.6"/>
<circle cx="485.00" cy="453.60" r="1.2" fill="#7d1416" stroke="#2a0505" stroke-width="0.6"/>
<circle cx="489.20" cy="453.40" r="1.2" fill="#7d1416" stroke="#2a0505" stroke-width="0.6"/>
<circle cx="485.00" cy="456.20" r="1.2" fill="#7d1416" stroke="#2a0505" stroke-width="0.6"/>
<circle cx="489.20" cy="456.20" r="1.2" fill="#7d1416" stroke="#2a0505" stroke-width="0.6"/>
<line x1="482.30" y1="451.20" x2="491.90" y2="451.20" stroke="#1c1c1c" stroke-width="1.0"/>
<line x1="487.10" y1="444.00" x2="487.10" y2="456.20" stroke="#1c1c1c" stroke-width="1.0"/>
<line x1="483.90" y1="444.00" x2="490.30" y2="444.00" stroke="#1c1c1c" stroke-width="1.0"/>
<line x1="483.90" y1="456.20" x2="490.30" y2="456.20" stroke="#1c1c1c" stroke-width="1.0"/>
<rect x="501.10" y="435.20" width="2.40" height="2.40" fill="#2b4e8e" stroke="#0b1530" stroke-width="0.7"/>
<rect x="501.10" y="443.90" width="2.40" height="2.40" fill="#2b4e8e" stroke="#0b1530" stroke-width="0.7"/>
<rect x="501.10" y="453.20" width="2.40" height="2.40" fill="#2b4e8e" stroke="#0b1530" stroke-width="0.7"/>
<rect x="497.40" y="455.90" width="2.40" height="2.40" fill="#2b4e8e" stroke="#0b1530" stroke-width="0.7"/>
<rect x="504.80" y="455.00" width="2.40" height="2.40" fill="#2b4e8e" stroke="#0b1530" stroke-width="0.7"/>
<rect x="501.10" y="459.10" width="2.40" height="2.40" fill="#2b4e8e" stroke="#0b1530" stroke-width="0.7"/>
<rect x="501.10" y="463.20" width="2.40" height="2.40" fill="#2b4e8e" stroke="#0b1530" stroke-width="0.7"/>
<rect x="497.40" y="473.20" width="2.40" height="2.40" fill="#2b4e8e" stroke="#0b1530" stroke-width="0.7"/>
<rect x="504.80" y="472.50" width="2.40" height="2.40" fill="#2b4e8e" stroke="#0b1530" stroke-width="0.7"/>
<line x1="497.50" y1="457.10" x2="507.10" y2="457.10" stroke="#1c1c1c" stroke-width="1.0"/>
<line x1="502.30" y1="445.70" x2="502.30" y2="470.20" stroke="#1c1c1c" stroke-width="1.0"/>
<line x1="499.10" y1="445.70" x2="505.50" y2="445.70" stroke="#1c1c1c" stroke-width="1.0"/>
<line x1="499.10" y1="470.20" x2="505.50" y2="470.20" stroke="#1c1c1c" stroke-width="1.0"/>
<path d="M387.40,503.90 L388.90,505.40 L387.40,506.90 L385.90,505.40 Z" fill="#7d1416" stroke="#3a0a0a" stroke-width="0.5"/>
<text x="391.50" y="507.80" font-size="7.8" textLength="33.50" lengthAdjust="spacingAndGlyphs">WT CD4<tspan font-size="4.84" dy="-2.96">+</tspan></text>
<rect x="434.20" y="504.20" width="2.40" height="2.40" fill="#2b4e8e" stroke="#0b1530" stroke-width="0.7"/>
<text x="440.50" y="507.80" font-size="7.8" textLength="54.90" lengthAdjust="spacingAndGlyphs">GM-CSF<tspan font-size="4.84" dy="-2.96">-/-</tspan><tspan dy="2.96"> CD4</tspan><tspan font-size="4.84" dy="-2.96">+</tspan></text>
<text x="45.60" y="22.70" font-size="8.2" textLength="104.60" lengthAdjust="spacingAndGlyphs">Mesenteric Lymph Node</text>
<text x="35.20" y="34.20" font-size="8.2" textLength="125.60" lengthAdjust="spacingAndGlyphs">H2-K<tspan font-size="5.08" dy="-3.12">b+</tspan><tspan dy="3.12"> CD45.2</tspan><tspan font-size="5.08" dy="-3.12">+</tspan><tspan dy="3.12"> TCR-β</tspan><tspan font-size="5.08" dy="-3.12">-</tspan><tspan dy="3.12"> CD64</tspan><tspan font-size="5.08" dy="-3.12">-</tspan></text>
<text x="46.70" y="51.50" font-size="7.6" textLength="33.10" lengthAdjust="spacingAndGlyphs">WT CD4<tspan font-size="4.71" dy="-2.89">+</tspan></text>
<text x="101.00" y="52.00" font-size="7.6" textLength="55.00" lengthAdjust="spacingAndGlyphs">GM-CSF<tspan font-size="4.71" dy="-2.89">-/-</tspan><tspan dy="2.89"> CD4</tspan><tspan font-size="4.71" dy="-2.89">+</tspan></text>
<path d="M74.5 84.6h0.7v0.7h-0.7zM74.2 87.1h0.7v0.7h-0.7zM47.8 88.6h0.7v0.7h-0.7zM44.5 83.9h0.7v0.7h-0.7zM51.4 92.3h0.7v0.7h-0.7zM47.3 79.3h0.7v0.7h-0.7zM76.3 87.4h0.7v0.7h-0.7zM51.5 82.3h0.7v0.7h-0.7zM73.2 89.2h0.7v0.7h-0.7zM79.1 90.0h0.7v0.7h-0.7zM74.7 84.7h0.7v0.7h-0.7zM69.4 88.8h0.7v0.7h-0.7zM55.8 93.5h0.7v0.7h-0.7zM52.4 79.2h0.7v0.7h-0.7zM70.7 90.4h0.7v0.7h-0.7zM75.9 80.5h0.7v0.7h-0.7zM44.6 94.8h0.7v0.7h-0.7zM45.7 89.0h0.7v0.7h-0.7zM72.7 86.8h0.7v0.7h-0.7zM42.6 90.1h0.7v0.7h-0.7zM56.3 78.0h0.7v0.7h-0.7zM46.8 85.6h0.7v0.7h-0.7zM83.9 84.1h0.7v0.7h-0.7zM47.9 91.2h0.7v0.7h-0.7zM75.3 82.2h0.7v0.7h-0.7zM82.1 94.4h0.7v0.7h-0.7zM42.6 86.8h0.7v0.7h-0.7zM49.3 91.2h0.7v0.7h-0.7zM36.3 80.4h0.7v0.7h-0.7zM73.3 90.8h0.7v0.7h-0.7zM68.9 91.7h0.7v0.7h-0.7zM54.4 80.4h0.7v0.7h-0.7zM49.3 86.4h0.7v0.7h-0.7zM78.5 83.2h0.7v0.7h-0.7zM76.2 75.2h0.7v0.7h-0.7zM61.0 103.5h0.7v0.7h-0.7zM58.9 111.2h0.7v0.7h-0.7zM71.0 101.0h0.7v0.7h-0.7zM65.1 107.9h0.7v0.7h-0.7zM69.1 104.6h0.7v0.7h-0.7zM68.3 101.9h0.7v0.7h-0.7zM66.6 109.1h0.7v0.7h-0.7zM62.1 111.1h0.7v0.7h-0.7zM58.8 109.2h0.7v0.7h-0.7zM68.2 100.0h0.7v0.7h-0.7zM61.0 71.5h0.7v0.7h-0.7zM66.2 101.7h0.7v0.7h-0.7zM62.1 108.9h0.7v0.7h-0.7zM66.9 115.4h0.7v0.7h-0.7zM62.3 109.8h0.7v0.7h-0.7zM57.0 92.8h0.7v0.7h-0.7zM66.4 104.4h0.7v0.7h-0.7zM64.4 114.8h0.7v0.7h-0.7zM59.8 109.6h0.7v0.7h-0.7zM68.1 96.6h0.7v0.7h-0.7zM58.3 103.6h0.7v0.7h-0.7zM66.7 93.3h0.7v0.7h-0.7zM63.1 110.8h0.7v0.7h-0.7zM65.2 113.6h0.7v0.7h-0.7zM56.8 99.9h0.7v0.7h-0.7zM69.7 102.8h0.7v0.7h-0.7zM56.5 102.2h0.7v0.7h-0.7zM69.2 103.9h0.7v0.7h-0.7zM49.8 80.5h0.7v0.7h-0.7zM44.6 92.9h0.7v0.7h-0.7zM54.4 94.9h0.7v0.7h-0.7zM74.6 77.5h0.7v0.7h-0.7zM49.4 113.9h0.7v0.7h-0.7zM47.1 90.8h0.7v0.7h-0.7zM77.2 98.7h0.7v0.7h-0.7zM49.7 84.8h0.7v0.7h-0.7zM69.7 106.8h0.7v0.7h-0.7zM79.2 98.5h0.7v0.7h-0.7zM74.6 98.1h0.7v0.7h-0.7zM72.7 98.9h0.7v0.7h-0.7zM73.1 95.4h0.7v0.7h-0.7zM44.6 86.7h0.7v0.7h-0.7zM80.0 82.6h0.7v0.7h-0.7zM55.7 98.2h0.7v0.7h-0.7zM77.6 94.2h0.7v0.7h-0.7zM69.8 99.5h0.7v0.7h-0.7zM73.3 89.7h0.7v0.7h-0.7zM68.4 94.8h0.7v0.7h-0.7zM72.7 98.6h0.7v0.7h-0.7zM67.9 111.5h0.7v0.7h-0.7zM76.1 103.9h0.7v0.7h-0.7zM74.5 104.9h0.7v0.7h-0.7zM73.4 88.9h0.7v0.7h-0.7zM69.5 103.5h0.7v0.7h-0.7zM75.0 96.8h0.7v0.7h-0.7zM51.2 73.3h0.7v0.7h-0.7zM79.6 104.9h0.7v0.7h-0.7zM85.6 94.4h0.7v0.7h-0.7zM57.4 74.7h0.7v0.7h-0.7zM47.1 79.1h0.7v0.7h-0.7zM49.5 79.7h0.7v0.7h-0.7zM48.0 94.1h0.7v0.7h-0.7zM52.1 95.7h0.7v0.7h-0.7zM50.7 84.7h0.7v0.7h-0.7zM72.2 77.0h0.7v0.7h-0.7zM77.3 83.8h0.7v0.7h-0.7zM38.5 94.8h0.7v0.7h-0.7zM45.9 78.2h0.7v0.7h-0.7zM50.4 69.7h0.7v0.7h-0.7zM49.5 78.1h0.7v0.7h-0.7zM58.7 73.2h0.7v0.7h-0.7zM75.6 105.0h0.7v0.7h-0.7zM76.7 103.6h0.7v0.7h-0.7zM70.1 80.1h0.7v0.7h-0.7zM74.1 79.3h0.7v0.7h-0.7zM88.9 61.5h0.7v0.7h-0.7zM86.3 60.6h0.7v0.7h-0.7zM84.9 65.9h0.7v0.7h-0.7zM80.8 65.9h0.7v0.7h-0.7zM87.0 62.5h0.7v0.7h-0.7zM90.0 58.6h0.7v0.7h-0.7zM78.6 71.5h0.7v0.7h-0.7zM58.5 72.7h0.7v0.7h-0.7zM84.4 67.9h0.7v0.7h-0.7zM86.3 64.8h0.7v0.7h-0.7zM87.3 57.5h0.7v0.7h-0.7zM86.6 59.3h0.7v0.7h-0.7zM93.3 59.5h0.7v0.7h-0.7zM90.5 60.9h0.7v0.7h-0.7zM86.9 60.3h0.7v0.7h-0.7zM87.6 61.9h0.7v0.7h-0.7zM85.9 57.3h0.7v0.7h-0.7zM60.4 76.5h0.7v0.7h-0.7zM80.3 58.3h0.7v0.7h-0.7zM88.2 64.3h0.7v0.7h-0.7zM91.8 64.1h0.7v0.7h-0.7zM89.6 58.5h0.7v0.7h-0.7zM88.7 59.1h0.7v0.7h-0.7zM86.9 61.0h0.7v0.7h-0.7zM64.9 68.2h0.7v0.7h-0.7zM81.7 69.1h0.7v0.7h-0.7zM54.7 71.3h0.7v0.7h-0.7zM79.6 75.6h0.7v0.7h-0.7zM36.8 95.6h0.7v0.7h-0.7zM37.7 104.6h0.7v0.7h-0.7zM35.9 115.4h0.7v0.7h-0.7zM89.4 106.1h0.7v0.7h-0.7zM51.8 96.7h0.7v0.7h-0.7zM92.5 101.0h0.7v0.7h-0.7zM35.2 95.7h0.7v0.7h-0.7zM44.5 76.3h0.7v0.7h-0.7zM86.4 79.9h0.7v0.7h-0.7zM91.3 68.0h0.7v0.7h-0.7zM74.2 106.3h0.7v0.7h-0.7zM78.4 107.1h0.7v0.7h-0.7zM36.5 62.9h0.7v0.7h-0.7zM41.0 69.9h0.7v0.7h-0.7zM76.1 90.3h0.7v0.7h-0.7zM75.4 94.0h0.7v0.7h-0.7zM84.6 104.4h0.7v0.7h-0.7zM78.4 113.9h0.7v0.7h-0.7zM45.4 81.8h0.7v0.7h-0.7zM82.6 73.1h0.7v0.7h-0.7zM82.6 92.8h0.7v0.7h-0.7zM74.9 75.8h0.7v0.7h-0.7zM91.3 97.1h0.7v0.7h-0.7zM37.8 106.4h0.7v0.7h-0.7zM75.0 116.0h0.7v0.7h-0.7z" fill="#c8cee9"/>
<path d="M54.7 86.5h0.7v0.7h-0.7zM69.1 88.9h0.7v0.7h-0.7zM56.0 85.8h0.7v0.7h-0.7zM63.2 80.4h0.7v0.7h-0.7zM57.9 94.6h0.7v0.7h-0.7zM57.8 77.3h0.7v0.7h-0.7zM69.4 84.8h0.7v0.7h-0.7zM55.1 90.8h0.7v0.7h-0.7zM75.1 85.2h0.7v0.7h-0.7zM67.7 85.8h0.7v0.7h-0.7zM64.1 95.5h0.7v0.7h-0.7zM49.5 88.5h0.7v0.7h-0.7zM60.2 91.3h0.7v0.7h-0.7zM58.0 78.9h0.7v0.7h-0.7zM58.6 81.8h0.7v0.7h-0.7zM73.0 85.4h0.7v0.7h-0.7zM73.0 85.6h0.7v0.7h-0.7zM66.2 90.1h0.7v0.7h-0.7zM59.4 84.1h0.7v0.7h-0.7zM64.1 80.7h0.7v0.7h-0.7zM72.4 87.1h0.7v0.7h-0.7zM51.1 87.2h0.7v0.7h-0.7zM68.7 87.6h0.7v0.7h-0.7zM45.4 88.0h0.7v0.7h-0.7zM51.1 84.4h0.7v0.7h-0.7zM61.1 79.3h0.7v0.7h-0.7zM69.7 93.4h0.7v0.7h-0.7zM48.5 89.5h0.7v0.7h-0.7zM53.6 88.1h0.7v0.7h-0.7zM64.8 90.9h0.7v0.7h-0.7zM55.4 88.8h0.7v0.7h-0.7zM52.4 83.3h0.7v0.7h-0.7zM53.5 86.0h0.7v0.7h-0.7zM68.7 88.7h0.7v0.7h-0.7zM50.4 89.2h0.7v0.7h-0.7zM61.9 79.1h0.7v0.7h-0.7zM50.0 89.4h0.7v0.7h-0.7zM69.7 83.3h0.7v0.7h-0.7zM68.5 87.1h0.7v0.7h-0.7zM47.5 90.6h0.7v0.7h-0.7zM49.5 81.1h0.7v0.7h-0.7zM51.9 85.2h0.7v0.7h-0.7zM52.7 86.6h0.7v0.7h-0.7zM66.5 83.5h0.7v0.7h-0.7zM68.8 86.9h0.7v0.7h-0.7zM70.2 85.1h0.7v0.7h-0.7zM59.9 78.9h0.7v0.7h-0.7zM71.2 86.6h0.7v0.7h-0.7zM66.9 81.8h0.7v0.7h-0.7zM71.3 84.1h0.7v0.7h-0.7zM57.3 82.5h0.7v0.7h-0.7zM60.8 89.0h0.7v0.7h-0.7zM71.0 89.8h0.7v0.7h-0.7zM46.9 88.0h0.7v0.7h-0.7zM64.8 82.1h0.7v0.7h-0.7zM50.3 90.0h0.7v0.7h-0.7zM71.3 82.7h0.7v0.7h-0.7zM75.7 86.5h0.7v0.7h-0.7zM74.4 84.1h0.7v0.7h-0.7zM48.3 87.5h0.7v0.7h-0.7zM68.5 85.9h0.7v0.7h-0.7zM51.0 80.5h0.7v0.7h-0.7zM55.8 81.7h0.7v0.7h-0.7zM71.8 87.7h0.7v0.7h-0.7zM54.1 84.0h0.7v0.7h-0.7zM66.1 87.4h0.7v0.7h-0.7zM53.7 81.9h0.7v0.7h-0.7zM65.8 86.3h0.7v0.7h-0.7zM55.5 81.1h0.7v0.7h-0.7zM63.6 80.7h0.7v0.7h-0.7zM64.1 80.7h0.7v0.7h-0.7zM49.7 83.9h0.7v0.7h-0.7zM74.3 83.6h0.7v0.7h-0.7zM59.4 77.3h0.7v0.7h-0.7zM66.0 90.5h0.7v0.7h-0.7zM55.8 83.4h0.7v0.7h-0.7zM56.5 77.6h0.7v0.7h-0.7zM65.7 80.1h0.7v0.7h-0.7zM60.9 81.7h0.7v0.7h-0.7zM60.9 88.7h0.7v0.7h-0.7zM68.4 86.3h0.7v0.7h-0.7zM53.9 85.4h0.7v0.7h-0.7zM48.1 90.4h0.7v0.7h-0.7zM49.5 88.2h0.7v0.7h-0.7zM71.7 83.7h0.7v0.7h-0.7zM52.1 85.1h0.7v0.7h-0.7zM55.5 85.0h0.7v0.7h-0.7zM55.3 90.1h0.7v0.7h-0.7zM64.8 83.3h0.7v0.7h-0.7zM67.3 88.3h0.7v0.7h-0.7zM69.5 75.3h0.7v0.7h-0.7zM55.9 89.2h0.7v0.7h-0.7zM50.2 82.7h0.7v0.7h-0.7zM51.6 89.8h0.7v0.7h-0.7zM70.5 81.8h0.7v0.7h-0.7zM66.4 104.7h0.7v0.7h-0.7zM62.3 105.5h0.7v0.7h-0.7zM66.3 92.8h0.7v0.7h-0.7zM58.4 103.2h0.7v0.7h-0.7zM66.6 95.6h0.7v0.7h-0.7zM58.9 99.3h0.7v0.7h-0.7zM67.9 81.1h0.7v0.7h-0.7zM60.3 101.2h0.7v0.7h-0.7zM58.8 99.5h0.7v0.7h-0.7zM67.2 98.5h0.7v0.7h-0.7zM58.9 81.3h0.7v0.7h-0.7zM68.1 94.9h0.7v0.7h-0.7zM59.6 94.1h0.7v0.7h-0.7zM64.0 109.3h0.7v0.7h-0.7zM67.2 92.9h0.7v0.7h-0.7zM64.7 99.2h0.7v0.7h-0.7zM67.4 97.3h0.7v0.7h-0.7zM66.0 84.7h0.7v0.7h-0.7zM57.0 99.9h0.7v0.7h-0.7zM64.4 95.5h0.7v0.7h-0.7zM59.4 102.2h0.7v0.7h-0.7zM64.8 80.5h0.7v0.7h-0.7zM59.4 99.5h0.7v0.7h-0.7zM66.4 91.3h0.7v0.7h-0.7zM65.9 102.6h0.7v0.7h-0.7zM66.0 102.2h0.7v0.7h-0.7zM61.9 103.3h0.7v0.7h-0.7zM63.3 108.0h0.7v0.7h-0.7zM67.0 99.6h0.7v0.7h-0.7zM61.2 107.0h0.7v0.7h-0.7zM62.9 106.2h0.7v0.7h-0.7zM61.8 103.5h0.7v0.7h-0.7zM64.8 99.9h0.7v0.7h-0.7zM69.1 94.6h0.7v0.7h-0.7zM57.0 81.9h0.7v0.7h-0.7zM63.7 106.6h0.7v0.7h-0.7zM62.3 105.2h0.7v0.7h-0.7zM60.0 102.3h0.7v0.7h-0.7zM65.0 98.5h0.7v0.7h-0.7zM62.8 103.2h0.7v0.7h-0.7zM64.8 102.7h0.7v0.7h-0.7zM60.6 100.3h0.7v0.7h-0.7zM66.8 95.8h0.7v0.7h-0.7zM62.3 105.8h0.7v0.7h-0.7zM63.7 104.5h0.7v0.7h-0.7zM61.5 101.9h0.7v0.7h-0.7zM65.0 95.7h0.7v0.7h-0.7zM62.9 108.1h0.7v0.7h-0.7zM61.1 98.6h0.7v0.7h-0.7zM68.2 97.9h0.7v0.7h-0.7zM69.3 77.9h0.7v0.7h-0.7zM62.2 86.1h0.7v0.7h-0.7zM59.5 98.8h0.7v0.7h-0.7zM64.0 97.6h0.7v0.7h-0.7zM66.2 100.0h0.7v0.7h-0.7zM62.8 102.3h0.7v0.7h-0.7zM66.6 91.2h0.7v0.7h-0.7zM64.2 92.8h0.7v0.7h-0.7zM62.3 101.5h0.7v0.7h-0.7zM66.7 82.6h0.7v0.7h-0.7zM63.6 108.0h0.7v0.7h-0.7zM65.0 104.6h0.7v0.7h-0.7zM56.9 97.9h0.7v0.7h-0.7zM61.7 108.3h0.7v0.7h-0.7zM55.7 91.8h0.7v0.7h-0.7zM69.8 98.4h0.7v0.7h-0.7zM61.4 110.3h0.7v0.7h-0.7zM61.1 102.3h0.7v0.7h-0.7zM63.9 99.0h0.7v0.7h-0.7zM60.2 102.6h0.7v0.7h-0.7zM63.7 104.9h0.7v0.7h-0.7zM61.3 100.8h0.7v0.7h-0.7zM63.1 105.6h0.7v0.7h-0.7zM65.1 97.2h0.7v0.7h-0.7zM61.7 104.2h0.7v0.7h-0.7zM58.2 100.7h0.7v0.7h-0.7zM62.3 99.0h0.7v0.7h-0.7zM61.5 99.9h0.7v0.7h-0.7zM65.4 103.7h0.7v0.7h-0.7zM65.6 95.9h0.7v0.7h-0.7zM65.4 78.8h0.7v0.7h-0.7zM64.8 93.1h0.7v0.7h-0.7zM63.0 110.2h0.7v0.7h-0.7zM69.1 82.5h0.7v0.7h-0.7zM61.3 99.2h0.7v0.7h-0.7zM67.8 92.8h0.7v0.7h-0.7zM64.4 96.5h0.7v0.7h-0.7zM62.4 104.9h0.7v0.7h-0.7zM61.8 100.8h0.7v0.7h-0.7zM63.6 105.7h0.7v0.7h-0.7zM61.4 108.8h0.7v0.7h-0.7zM56.2 100.0h0.7v0.7h-0.7zM66.5 91.0h0.7v0.7h-0.7zM54.7 86.6h0.7v0.7h-0.7zM69.8 95.5h0.7v0.7h-0.7zM75.2 85.0h0.7v0.7h-0.7zM60.7 80.6h0.7v0.7h-0.7zM52.9 78.9h0.7v0.7h-0.7zM56.1 88.3h0.7v0.7h-0.7zM66.5 86.8h0.7v0.7h-0.7zM69.6 82.4h0.7v0.7h-0.7zM67.0 91.8h0.7v0.7h-0.7zM61.4 75.9h0.7v0.7h-0.7zM65.4 90.9h0.7v0.7h-0.7zM52.5 88.5h0.7v0.7h-0.7zM72.1 86.5h0.7v0.7h-0.7zM55.7 81.2h0.7v0.7h-0.7zM70.8 78.9h0.7v0.7h-0.7zM55.3 79.8h0.7v0.7h-0.7zM54.7 86.9h0.7v0.7h-0.7zM63.6 75.6h0.7v0.7h-0.7zM58.2 93.8h0.7v0.7h-0.7zM66.7 96.9h0.7v0.7h-0.7zM66.3 77.0h0.7v0.7h-0.7zM69.8 80.3h0.7v0.7h-0.7zM61.2 75.4h0.7v0.7h-0.7zM71.2 76.1h0.7v0.7h-0.7zM62.4 83.2h0.7v0.7h-0.7zM59.6 95.1h0.7v0.7h-0.7zM58.0 93.3h0.7v0.7h-0.7zM74.7 86.3h0.7v0.7h-0.7zM53.7 88.4h0.7v0.7h-0.7zM73.7 88.3h0.7v0.7h-0.7zM71.5 89.3h0.7v0.7h-0.7zM68.2 96.9h0.7v0.7h-0.7zM70.2 78.2h0.7v0.7h-0.7zM68.2 77.6h0.7v0.7h-0.7zM71.9 77.1h0.7v0.7h-0.7zM71.1 79.7h0.7v0.7h-0.7zM65.3 79.0h0.7v0.7h-0.7zM68.7 79.0h0.7v0.7h-0.7zM69.0 84.7h0.7v0.7h-0.7zM66.5 78.8h0.7v0.7h-0.7zM71.5 81.6h0.7v0.7h-0.7zM66.1 77.2h0.7v0.7h-0.7zM71.8 77.7h0.7v0.7h-0.7zM70.9 75.1h0.7v0.7h-0.7zM72.2 81.1h0.7v0.7h-0.7zM68.8 77.7h0.7v0.7h-0.7zM67.3 78.6h0.7v0.7h-0.7zM63.9 73.4h0.7v0.7h-0.7zM65.9 72.8h0.7v0.7h-0.7zM69.7 78.3h0.7v0.7h-0.7zM67.2 76.0h0.7v0.7h-0.7zM68.5 78.5h0.7v0.7h-0.7zM73.5 73.4h0.7v0.7h-0.7zM64.9 77.4h0.7v0.7h-0.7zM74.5 62.5h0.7v0.7h-0.7zM80.4 61.6h0.7v0.7h-0.7zM80.3 62.4h0.7v0.7h-0.7zM78.6 71.0h0.7v0.7h-0.7zM85.1 64.2h0.7v0.7h-0.7zM73.8 72.9h0.7v0.7h-0.7zM75.7 72.8h0.7v0.7h-0.7zM78.0 60.3h0.7v0.7h-0.7zM82.4 68.3h0.7v0.7h-0.7zM65.3 72.2h0.7v0.7h-0.7zM83.8 65.5h0.7v0.7h-0.7zM64.0 69.9h0.7v0.7h-0.7zM78.1 59.7h0.7v0.7h-0.7zM78.4 70.4h0.7v0.7h-0.7zM68.2 78.1h0.7v0.7h-0.7zM77.3 60.7h0.7v0.7h-0.7zM82.6 61.1h0.7v0.7h-0.7zM83.3 66.9h0.7v0.7h-0.7zM69.4 65.0h0.7v0.7h-0.7zM69.2 64.4h0.7v0.7h-0.7zM73.5 75.2h0.7v0.7h-0.7zM66.9 76.0h0.7v0.7h-0.7zM72.7 73.9h0.7v0.7h-0.7zM63.4 71.7h0.7v0.7h-0.7zM77.2 71.5h0.7v0.7h-0.7zM82.2 63.8h0.7v0.7h-0.7zM84.7 61.8h0.7v0.7h-0.7zM84.2 64.4h0.7v0.7h-0.7zM83.3 61.9h0.7v0.7h-0.7zM76.1 71.8h0.7v0.7h-0.7zM67.4 72.3h0.7v0.7h-0.7zM62.7 75.3h0.7v0.7h-0.7zM75.4 60.4h0.7v0.7h-0.7zM65.2 74.3h0.7v0.7h-0.7zM80.2 60.0h0.7v0.7h-0.7zM68.7 74.7h0.7v0.7h-0.7zM80.4 67.6h0.7v0.7h-0.7zM63.1 75.7h0.7v0.7h-0.7zM71.0 76.6h0.7v0.7h-0.7zM84.8 63.2h0.7v0.7h-0.7zM66.5 78.0h0.7v0.7h-0.7zM64.9 69.8h0.7v0.7h-0.7zM62.3 70.3h0.7v0.7h-0.7zM67.1 64.7h0.7v0.7h-0.7zM78.5 70.5h0.7v0.7h-0.7zM61.2 69.0h0.7v0.7h-0.7zM84.9 64.3h0.7v0.7h-0.7zM82.7 60.1h0.7v0.7h-0.7zM80.3 62.2h0.7v0.7h-0.7zM84.4 64.5h0.7v0.7h-0.7zM74.6 58.8h0.7v0.7h-0.7zM65.3 73.8h0.7v0.7h-0.7zM66.1 65.8h0.7v0.7h-0.7zM65.0 75.2h0.7v0.7h-0.7zM72.8 64.4h0.7v0.7h-0.7zM82.5 68.2h0.7v0.7h-0.7zM83.3 60.2h0.7v0.7h-0.7zM78.3 69.9h0.7v0.7h-0.7zM61.9 71.5h0.7v0.7h-0.7zM63.9 69.6h0.7v0.7h-0.7zM82.6 61.9h0.7v0.7h-0.7zM82.6 60.7h0.7v0.7h-0.7zM71.3 64.4h0.7v0.7h-0.7zM75.6 61.4h0.7v0.7h-0.7zM69.2 75.2h0.7v0.7h-0.7zM65.7 70.7h0.7v0.7h-0.7zM58.7 76.8h0.7v0.7h-0.7zM78.3 69.0h0.7v0.7h-0.7zM83.5 61.6h0.7v0.7h-0.7zM81.8 58.6h0.7v0.7h-0.7zM81.6 66.4h0.7v0.7h-0.7zM78.7 59.9h0.7v0.7h-0.7zM85.1 66.4h0.7v0.7h-0.7zM65.4 72.2h0.7v0.7h-0.7zM67.2 77.1h0.7v0.7h-0.7zM78.4 60.5h0.7v0.7h-0.7zM64.1 73.1h0.7v0.7h-0.7zM72.6 59.8h0.7v0.7h-0.7zM64.9 96.3h0.7v0.7h-0.7zM61.0 108.1h0.7v0.7h-0.7z" fill="#aab3de"/>
<path d="M61.0 79.5h0.75v0.75h-0.75zM65.0 85.5h0.75v0.75h-0.75zM59.1 80.7h0.75v0.75h-0.75zM65.4 87.0h0.75v0.75h-0.75zM60.6 80.7h0.75v0.75h-0.75zM65.5 83.5h0.75v0.75h-0.75zM59.9 85.3h0.75v0.75h-0.75zM60.2 93.3h0.75v0.75h-0.75zM57.9 82.9h0.75v0.75h-0.75zM63.7 89.4h0.75v0.75h-0.75zM59.5 79.4h0.75v0.75h-0.75zM64.3 82.8h0.75v0.75h-0.75zM58.6 91.7h0.75v0.75h-0.75zM65.4 89.2h0.75v0.75h-0.75zM60.9 86.2h0.75v0.75h-0.75zM55.6 86.3h0.75v0.75h-0.75zM58.3 84.6h0.75v0.75h-0.75zM54.1 88.0h0.75v0.75h-0.75zM64.9 84.2h0.75v0.75h-0.75zM58.7 87.7h0.75v0.75h-0.75zM66.1 87.0h0.75v0.75h-0.75zM60.4 89.6h0.75v0.75h-0.75zM64.9 87.9h0.75v0.75h-0.75zM56.1 85.1h0.75v0.75h-0.75zM61.7 81.2h0.75v0.75h-0.75zM55.3 88.5h0.75v0.75h-0.75zM56.8 82.0h0.75v0.75h-0.75zM58.8 83.2h0.75v0.75h-0.75zM58.8 80.4h0.75v0.75h-0.75zM59.4 89.3h0.75v0.75h-0.75zM54.5 87.3h0.75v0.75h-0.75zM60.3 90.3h0.75v0.75h-0.75zM57.2 88.0h0.75v0.75h-0.75zM63.4 91.4h0.75v0.75h-0.75zM58.9 91.1h0.75v0.75h-0.75zM63.2 83.5h0.75v0.75h-0.75zM58.1 89.7h0.75v0.75h-0.75zM63.4 89.7h0.75v0.75h-0.75zM65.7 85.3h0.75v0.75h-0.75zM64.8 84.2h0.75v0.75h-0.75zM56.3 86.7h0.75v0.75h-0.75zM59.4 88.9h0.75v0.75h-0.75zM60.6 89.4h0.75v0.75h-0.75zM60.0 84.4h0.75v0.75h-0.75zM64.2 91.2h0.75v0.75h-0.75zM56.8 87.6h0.75v0.75h-0.75zM60.1 80.9h0.75v0.75h-0.75zM56.9 87.7h0.75v0.75h-0.75zM57.0 89.1h0.75v0.75h-0.75zM60.9 92.1h0.75v0.75h-0.75zM65.0 83.6h0.75v0.75h-0.75zM65.8 90.2h0.75v0.75h-0.75zM56.5 84.8h0.75v0.75h-0.75zM67.1 86.1h0.75v0.75h-0.75zM64.9 86.4h0.75v0.75h-0.75zM57.6 90.6h0.75v0.75h-0.75zM63.6 85.8h0.75v0.75h-0.75zM60.4 92.1h0.75v0.75h-0.75zM54.9 87.7h0.75v0.75h-0.75zM67.2 85.5h0.75v0.75h-0.75zM58.9 87.4h0.75v0.75h-0.75zM60.2 86.0h0.75v0.75h-0.75zM52.0 84.1h0.75v0.75h-0.75zM64.4 89.6h0.75v0.75h-0.75zM60.3 86.8h0.75v0.75h-0.75zM59.4 83.4h0.75v0.75h-0.75zM57.1 87.4h0.75v0.75h-0.75zM61.6 88.6h0.75v0.75h-0.75zM62.0 93.6h0.75v0.75h-0.75zM58.5 82.7h0.75v0.75h-0.75zM60.4 85.8h0.75v0.75h-0.75zM64.2 86.0h0.75v0.75h-0.75zM62.3 89.7h0.75v0.75h-0.75zM61.3 88.5h0.75v0.75h-0.75zM60.5 89.7h0.75v0.75h-0.75zM62.1 80.0h0.75v0.75h-0.75zM66.5 84.8h0.75v0.75h-0.75zM58.0 84.0h0.75v0.75h-0.75zM64.9 75.5h0.75v0.75h-0.75zM55.7 81.0h0.75v0.75h-0.75zM63.4 83.6h0.75v0.75h-0.75zM63.5 84.9h0.75v0.75h-0.75zM57.6 89.6h0.75v0.75h-0.75zM65.3 85.0h0.75v0.75h-0.75zM56.2 82.5h0.75v0.75h-0.75zM61.0 85.1h0.75v0.75h-0.75zM66.8 90.8h0.75v0.75h-0.75zM61.8 85.5h0.75v0.75h-0.75zM65.4 87.0h0.75v0.75h-0.75zM56.0 87.3h0.75v0.75h-0.75zM64.4 82.5h0.75v0.75h-0.75zM61.6 91.5h0.75v0.75h-0.75zM61.2 95.8h0.75v0.75h-0.75zM62.0 98.3h0.75v0.75h-0.75zM64.5 94.3h0.75v0.75h-0.75zM60.2 81.9h0.75v0.75h-0.75zM60.6 90.3h0.75v0.75h-0.75zM63.8 98.3h0.75v0.75h-0.75zM60.0 86.3h0.75v0.75h-0.75zM59.7 94.3h0.75v0.75h-0.75zM61.4 95.9h0.75v0.75h-0.75zM62.4 98.4h0.75v0.75h-0.75zM65.6 89.4h0.75v0.75h-0.75zM62.4 85.0h0.75v0.75h-0.75zM60.6 92.4h0.75v0.75h-0.75zM62.6 92.8h0.75v0.75h-0.75zM64.5 87.0h0.75v0.75h-0.75zM61.5 95.9h0.75v0.75h-0.75zM62.2 96.3h0.75v0.75h-0.75zM64.9 88.1h0.75v0.75h-0.75zM64.1 96.9h0.75v0.75h-0.75zM65.3 91.8h0.75v0.75h-0.75zM64.2 98.0h0.75v0.75h-0.75zM60.8 84.3h0.75v0.75h-0.75zM62.5 82.0h0.75v0.75h-0.75zM63.1 101.0h0.75v0.75h-0.75zM60.8 88.3h0.75v0.75h-0.75zM60.9 93.2h0.75v0.75h-0.75zM63.9 83.8h0.75v0.75h-0.75zM61.1 89.6h0.75v0.75h-0.75zM65.8 86.4h0.75v0.75h-0.75zM62.7 86.5h0.75v0.75h-0.75zM58.8 79.9h0.75v0.75h-0.75zM65.5 90.7h0.75v0.75h-0.75zM60.9 92.5h0.75v0.75h-0.75zM65.5 98.3h0.75v0.75h-0.75zM63.9 83.0h0.75v0.75h-0.75zM65.9 89.6h0.75v0.75h-0.75zM61.8 85.7h0.75v0.75h-0.75zM62.1 92.4h0.75v0.75h-0.75zM60.1 86.0h0.75v0.75h-0.75zM63.6 94.7h0.75v0.75h-0.75zM62.7 97.1h0.75v0.75h-0.75zM63.7 96.4h0.75v0.75h-0.75zM63.2 89.8h0.75v0.75h-0.75zM60.7 83.7h0.75v0.75h-0.75zM64.0 93.6h0.75v0.75h-0.75zM61.9 92.7h0.75v0.75h-0.75zM63.3 93.0h0.75v0.75h-0.75zM63.8 97.4h0.75v0.75h-0.75zM62.6 95.8h0.75v0.75h-0.75zM62.4 87.1h0.75v0.75h-0.75zM61.7 94.1h0.75v0.75h-0.75zM65.7 97.0h0.75v0.75h-0.75zM60.7 97.9h0.75v0.75h-0.75zM63.2 95.3h0.75v0.75h-0.75zM60.8 95.2h0.75v0.75h-0.75zM66.2 87.6h0.75v0.75h-0.75zM65.1 90.6h0.75v0.75h-0.75zM58.4 87.1h0.75v0.75h-0.75zM62.9 91.6h0.75v0.75h-0.75zM60.7 92.1h0.75v0.75h-0.75zM60.0 94.3h0.75v0.75h-0.75zM64.0 90.0h0.75v0.75h-0.75zM58.2 81.3h0.75v0.75h-0.75zM60.6 82.7h0.75v0.75h-0.75zM58.3 82.6h0.75v0.75h-0.75zM67.4 85.2h0.75v0.75h-0.75zM60.3 96.0h0.75v0.75h-0.75zM54.7 81.5h0.75v0.75h-0.75zM52.2 88.3h0.75v0.75h-0.75zM66.2 89.8h0.75v0.75h-0.75zM68.9 76.5h0.75v0.75h-0.75zM58.1 80.3h0.75v0.75h-0.75zM58.6 84.1h0.75v0.75h-0.75zM75.5 71.9h0.75v0.75h-0.75zM60.0 83.7h0.75v0.75h-0.75zM55.4 88.4h0.75v0.75h-0.75zM67.6 83.1h0.75v0.75h-0.75zM66.3 77.7h0.75v0.75h-0.75zM66.2 83.8h0.75v0.75h-0.75zM63.4 96.6h0.75v0.75h-0.75zM56.8 88.6h0.75v0.75h-0.75zM55.9 87.5h0.75v0.75h-0.75zM60.2 97.7h0.75v0.75h-0.75zM58.8 85.3h0.75v0.75h-0.75zM72.6 71.0h0.75v0.75h-0.75zM67.3 68.2h0.75v0.75h-0.75zM69.1 79.4h0.75v0.75h-0.75zM68.3 74.7h0.75v0.75h-0.75zM67.6 80.2h0.75v0.75h-0.75zM70.7 74.2h0.75v0.75h-0.75zM67.6 76.7h0.75v0.75h-0.75zM65.5 76.7h0.75v0.75h-0.75zM64.4 79.4h0.75v0.75h-0.75zM69.4 75.6h0.75v0.75h-0.75zM67.5 78.5h0.75v0.75h-0.75zM69.0 75.8h0.75v0.75h-0.75zM69.9 73.6h0.75v0.75h-0.75zM66.2 74.4h0.75v0.75h-0.75zM70.4 73.5h0.75v0.75h-0.75zM70.1 71.0h0.75v0.75h-0.75zM76.5 66.6h0.75v0.75h-0.75zM77.6 69.7h0.75v0.75h-0.75zM73.8 63.3h0.75v0.75h-0.75zM80.3 67.0h0.75v0.75h-0.75zM71.9 65.0h0.75v0.75h-0.75zM80.4 66.0h0.75v0.75h-0.75zM79.5 63.0h0.75v0.75h-0.75zM75.8 63.1h0.75v0.75h-0.75zM82.1 63.5h0.75v0.75h-0.75zM76.0 68.3h0.75v0.75h-0.75zM80.2 63.4h0.75v0.75h-0.75zM77.1 67.8h0.75v0.75h-0.75zM71.7 70.9h0.75v0.75h-0.75zM77.9 60.8h0.75v0.75h-0.75zM78.6 61.0h0.75v0.75h-0.75zM82.1 63.9h0.75v0.75h-0.75zM78.1 66.9h0.75v0.75h-0.75zM71.8 65.1h0.75v0.75h-0.75zM69.0 75.7h0.75v0.75h-0.75zM80.7 60.8h0.75v0.75h-0.75zM71.3 68.5h0.75v0.75h-0.75zM79.2 63.6h0.75v0.75h-0.75zM71.3 74.4h0.75v0.75h-0.75zM68.1 72.3h0.75v0.75h-0.75zM71.8 63.7h0.75v0.75h-0.75zM65.8 70.8h0.75v0.75h-0.75zM81.4 60.8h0.75v0.75h-0.75zM77.0 71.3h0.75v0.75h-0.75zM83.1 64.3h0.75v0.75h-0.75zM78.8 66.8h0.75v0.75h-0.75zM71.4 73.0h0.75v0.75h-0.75zM70.5 65.4h0.75v0.75h-0.75zM81.5 66.4h0.75v0.75h-0.75zM73.4 63.2h0.75v0.75h-0.75zM70.8 74.1h0.75v0.75h-0.75zM71.0 72.2h0.75v0.75h-0.75zM78.5 64.1h0.75v0.75h-0.75zM68.4 70.8h0.75v0.75h-0.75zM79.6 65.5h0.75v0.75h-0.75zM65.3 69.6h0.75v0.75h-0.75zM79.1 60.7h0.75v0.75h-0.75zM79.8 61.6h0.75v0.75h-0.75zM78.9 69.3h0.75v0.75h-0.75zM78.5 65.9h0.75v0.75h-0.75zM74.0 71.7h0.75v0.75h-0.75zM65.6 69.8h0.75v0.75h-0.75zM79.0 67.3h0.75v0.75h-0.75zM80.9 62.9h0.75v0.75h-0.75zM66.4 73.7h0.75v0.75h-0.75zM80.9 63.7h0.75v0.75h-0.75zM66.9 70.6h0.75v0.75h-0.75zM72.0 63.4h0.75v0.75h-0.75zM80.2 66.0h0.75v0.75h-0.75zM78.7 61.7h0.75v0.75h-0.75zM82.0 60.9h0.75v0.75h-0.75zM77.5 63.0h0.75v0.75h-0.75zM69.2 70.1h0.75v0.75h-0.75zM77.2 70.5h0.75v0.75h-0.75zM69.7 66.5h0.75v0.75h-0.75zM81.7 63.8h0.75v0.75h-0.75zM81.8 66.8h0.75v0.75h-0.75zM79.6 62.2h0.75v0.75h-0.75zM78.3 67.7h0.75v0.75h-0.75zM81.9 65.2h0.75v0.75h-0.75zM70.6 73.3h0.75v0.75h-0.75zM76.2 60.8h0.75v0.75h-0.75zM76.8 67.3h0.75v0.75h-0.75zM68.2 66.3h0.75v0.75h-0.75zM78.2 65.9h0.75v0.75h-0.75zM67.5 74.4h0.75v0.75h-0.75zM72.8 71.7h0.75v0.75h-0.75zM75.6 62.5h0.75v0.75h-0.75zM79.4 62.0h0.75v0.75h-0.75zM66.3 70.3h0.75v0.75h-0.75zM72.3 70.9h0.75v0.75h-0.75zM73.6 72.9h0.75v0.75h-0.75zM75.7 64.6h0.75v0.75h-0.75zM71.2 62.8h0.75v0.75h-0.75zM71.2 64.1h0.75v0.75h-0.75zM80.1 64.1h0.75v0.75h-0.75zM78.3 64.6h0.75v0.75h-0.75zM70.2 72.2h0.75v0.75h-0.75zM76.3 69.8h0.75v0.75h-0.75zM76.2 64.2h0.75v0.75h-0.75zM73.5 66.6h0.75v0.75h-0.75zM75.4 62.5h0.75v0.75h-0.75zM78.8 69.1h0.75v0.75h-0.75zM68.6 64.9h0.75v0.75h-0.75zM83.1 63.2h0.75v0.75h-0.75zM72.9 71.3h0.75v0.75h-0.75zM71.1 69.5h0.75v0.75h-0.75zM66.4 75.8h0.75v0.75h-0.75zM72.4 71.4h0.75v0.75h-0.75zM76.4 72.3h0.75v0.75h-0.75zM75.2 62.3h0.75v0.75h-0.75zM78.4 63.3h0.75v0.75h-0.75zM69.2 66.5h0.75v0.75h-0.75zM67.8 71.9h0.75v0.75h-0.75zM72.0 72.3h0.75v0.75h-0.75zM67.2 70.9h0.75v0.75h-0.75zM67.0 73.8h0.75v0.75h-0.75zM71.5 75.1h0.75v0.75h-0.75zM79.1 64.4h0.75v0.75h-0.75zM80.7 61.0h0.75v0.75h-0.75zM80.1 62.0h0.75v0.75h-0.75zM79.3 67.2h0.75v0.75h-0.75zM68.4 65.3h0.75v0.75h-0.75zM83.5 64.1h0.75v0.75h-0.75zM71.1 63.3h0.75v0.75h-0.75zM79.0 67.3h0.75v0.75h-0.75zM70.8 71.3h0.75v0.75h-0.75zM68.3 66.1h0.75v0.75h-0.75zM65.9 73.1h0.75v0.75h-0.75zM81.3 66.4h0.75v0.75h-0.75zM81.1 61.6h0.75v0.75h-0.75zM73.8 70.2h0.75v0.75h-0.75zM67.6 68.9h0.75v0.75h-0.75zM67.0 68.3h0.75v0.75h-0.75zM70.9 71.3h0.75v0.75h-0.75zM81.3 66.3h0.75v0.75h-0.75zM75.8 70.8h0.75v0.75h-0.75zM78.3 65.9h0.75v0.75h-0.75zM72.6 63.7h0.75v0.75h-0.75zM68.1 68.5h0.75v0.75h-0.75zM66.4 72.2h0.75v0.75h-0.75zM78.2 67.5h0.75v0.75h-0.75zM76.4 70.9h0.75v0.75h-0.75zM72.3 64.5h0.75v0.75h-0.75zM71.8 66.0h0.75v0.75h-0.75zM66.7 72.9h0.75v0.75h-0.75zM64.5 69.8h0.75v0.75h-0.75zM74.2 63.1h0.75v0.75h-0.75zM83.5 60.7h0.75v0.75h-0.75zM62.7 97.1h0.75v0.75h-0.75zM66.6 69.1h0.75v0.75h-0.75zM56.7 83.3h0.75v0.75h-0.75zM61.3 79.0h0.75v0.75h-0.75zM63.7 95.6h0.75v0.75h-0.75zM68.2 68.6h0.75v0.75h-0.75zM76.5 62.2h0.75v0.75h-0.75z" fill="#929dd2"/>
<path d="M61.3 88.1h0.8v0.8h-0.8zM63.2 84.4h0.8v0.8h-0.8zM61.8 87.5h0.8v0.8h-0.8zM61.9 92.3h0.8v0.8h-0.8zM61.2 84.8h0.8v0.8h-0.8zM57.9 83.1h0.8v0.8h-0.8zM56.8 87.3h0.8v0.8h-0.8zM57.5 85.8h0.8v0.8h-0.8zM62.4 93.5h0.8v0.8h-0.8zM59.2 85.6h0.8v0.8h-0.8zM59.7 85.6h0.8v0.8h-0.8zM59.5 88.3h0.8v0.8h-0.8zM61.5 90.4h0.8v0.8h-0.8zM59.9 89.9h0.8v0.8h-0.8zM60.1 88.6h0.8v0.8h-0.8zM65.6 87.9h0.8v0.8h-0.8zM60.1 83.6h0.8v0.8h-0.8zM58.5 87.7h0.8v0.8h-0.8zM61.8 83.2h0.8v0.8h-0.8zM59.7 86.0h0.8v0.8h-0.8zM63.6 86.9h0.8v0.8h-0.8zM63.2 89.9h0.8v0.8h-0.8zM63.5 90.9h0.8v0.8h-0.8zM60.7 88.8h0.8v0.8h-0.8zM63.1 87.3h0.8v0.8h-0.8zM65.6 85.2h0.8v0.8h-0.8zM59.7 89.5h0.8v0.8h-0.8zM59.4 88.0h0.8v0.8h-0.8zM63.2 88.2h0.8v0.8h-0.8zM65.7 87.0h0.8v0.8h-0.8zM62.6 89.1h0.8v0.8h-0.8zM61.5 85.7h0.8v0.8h-0.8zM62.2 87.9h0.8v0.8h-0.8zM63.0 88.1h0.8v0.8h-0.8zM61.6 89.9h0.8v0.8h-0.8zM63.7 90.6h0.8v0.8h-0.8zM59.9 84.9h0.8v0.8h-0.8zM58.1 87.4h0.8v0.8h-0.8zM63.4 86.3h0.8v0.8h-0.8zM63.9 89.6h0.8v0.8h-0.8zM62.8 83.2h0.8v0.8h-0.8zM75.4 68.4h0.8v0.8h-0.8zM58.3 89.6h0.8v0.8h-0.8zM64.4 85.6h0.8v0.8h-0.8zM73.7 63.7h0.8v0.8h-0.8zM72.2 72.0h0.8v0.8h-0.8zM71.7 68.8h0.8v0.8h-0.8zM76.3 67.9h0.8v0.8h-0.8zM78.0 61.6h0.8v0.8h-0.8zM72.9 70.7h0.8v0.8h-0.8zM72.2 68.5h0.8v0.8h-0.8zM79.5 67.9h0.8v0.8h-0.8zM77.4 65.2h0.8v0.8h-0.8zM78.1 65.9h0.8v0.8h-0.8zM77.1 65.3h0.8v0.8h-0.8zM79.8 63.1h0.8v0.8h-0.8zM76.4 61.1h0.8v0.8h-0.8zM69.5 69.7h0.8v0.8h-0.8zM79.5 64.9h0.8v0.8h-0.8zM74.5 69.6h0.8v0.8h-0.8zM78.8 68.4h0.8v0.8h-0.8zM74.0 67.6h0.8v0.8h-0.8zM71.1 70.8h0.8v0.8h-0.8zM68.6 67.6h0.8v0.8h-0.8zM72.0 65.4h0.8v0.8h-0.8zM70.3 70.9h0.8v0.8h-0.8zM70.4 69.6h0.8v0.8h-0.8zM68.7 71.6h0.8v0.8h-0.8zM73.4 64.5h0.8v0.8h-0.8zM74.2 67.9h0.8v0.8h-0.8zM77.5 65.2h0.8v0.8h-0.8zM66.5 69.9h0.8v0.8h-0.8zM68.5 71.7h0.8v0.8h-0.8zM78.6 65.4h0.8v0.8h-0.8zM77.3 65.3h0.8v0.8h-0.8zM75.6 68.7h0.8v0.8h-0.8zM78.7 62.6h0.8v0.8h-0.8zM78.6 65.7h0.8v0.8h-0.8zM71.5 67.4h0.8v0.8h-0.8zM78.3 67.9h0.8v0.8h-0.8zM74.1 64.8h0.8v0.8h-0.8zM70.1 66.6h0.8v0.8h-0.8zM75.0 65.3h0.8v0.8h-0.8zM73.9 66.6h0.8v0.8h-0.8zM75.4 65.4h0.8v0.8h-0.8zM75.7 68.9h0.8v0.8h-0.8zM74.4 69.8h0.8v0.8h-0.8zM71.9 67.8h0.8v0.8h-0.8zM76.1 64.9h0.8v0.8h-0.8zM74.0 68.8h0.8v0.8h-0.8zM76.0 68.3h0.8v0.8h-0.8zM69.7 71.8h0.8v0.8h-0.8zM74.6 67.4h0.8v0.8h-0.8zM76.5 69.0h0.8v0.8h-0.8zM78.1 66.4h0.8v0.8h-0.8zM79.4 65.8h0.8v0.8h-0.8zM71.8 70.0h0.8v0.8h-0.8zM75.5 70.0h0.8v0.8h-0.8zM69.8 69.9h0.8v0.8h-0.8zM70.0 69.8h0.8v0.8h-0.8zM70.1 67.8h0.8v0.8h-0.8zM76.5 66.4h0.8v0.8h-0.8zM76.6 64.5h0.8v0.8h-0.8zM68.6 72.4h0.8v0.8h-0.8zM75.2 69.1h0.8v0.8h-0.8zM75.7 70.1h0.8v0.8h-0.8zM73.0 69.6h0.8v0.8h-0.8zM74.9 63.3h0.8v0.8h-0.8zM69.1 67.3h0.8v0.8h-0.8zM79.1 65.3h0.8v0.8h-0.8zM76.5 64.5h0.8v0.8h-0.8zM76.8 70.0h0.8v0.8h-0.8zM79.3 64.7h0.8v0.8h-0.8zM73.3 68.4h0.8v0.8h-0.8zM72.4 65.8h0.8v0.8h-0.8zM73.9 65.3h0.8v0.8h-0.8zM68.6 72.2h0.8v0.8h-0.8zM74.4 64.2h0.8v0.8h-0.8zM71.8 67.6h0.8v0.8h-0.8zM75.7 63.5h0.8v0.8h-0.8zM71.9 68.3h0.8v0.8h-0.8zM80.0 65.5h0.8v0.8h-0.8zM75.5 66.0h0.8v0.8h-0.8zM72.7 66.5h0.8v0.8h-0.8zM78.8 68.1h0.8v0.8h-0.8zM68.9 70.1h0.8v0.8h-0.8zM70.7 70.1h0.8v0.8h-0.8zM71.8 70.3h0.8v0.8h-0.8zM69.9 68.7h0.8v0.8h-0.8zM78.4 67.0h0.8v0.8h-0.8zM77.0 66.3h0.8v0.8h-0.8zM79.6 65.1h0.8v0.8h-0.8zM77.7 63.0h0.8v0.8h-0.8zM74.0 70.8h0.8v0.8h-0.8zM68.5 68.7h0.8v0.8h-0.8zM75.6 70.0h0.8v0.8h-0.8zM72.0 71.4h0.8v0.8h-0.8zM71.2 68.3h0.8v0.8h-0.8zM75.8 65.8h0.8v0.8h-0.8zM69.1 71.8h0.8v0.8h-0.8zM74.6 69.0h0.8v0.8h-0.8zM72.9 68.4h0.8v0.8h-0.8zM77.9 67.2h0.8v0.8h-0.8zM73.4 66.2h0.8v0.8h-0.8zM79.0 62.9h0.8v0.8h-0.8zM79.8 65.9h0.8v0.8h-0.8zM74.5 66.4h0.8v0.8h-0.8zM71.1 67.6h0.8v0.8h-0.8zM75.6 69.9h0.8v0.8h-0.8zM70.5 67.4h0.8v0.8h-0.8zM69.1 67.2h0.8v0.8h-0.8zM76.0 69.8h0.8v0.8h-0.8zM69.9 70.9h0.8v0.8h-0.8zM73.8 67.4h0.8v0.8h-0.8zM75.2 70.3h0.8v0.8h-0.8zM69.7 67.0h0.8v0.8h-0.8zM76.9 66.3h0.8v0.8h-0.8zM71.4 71.9h0.8v0.8h-0.8zM60.9 87.4h0.8v0.8h-0.8z" fill="#8a94c4"/>
<path d="M61.2 85.2h0.8v0.8h-0.8zM76.8 66.9h0.8v0.8h-0.8zM69.3 70.5h0.8v0.8h-0.8zM71.3 69.7h0.8v0.8h-0.8zM70.2 70.4h0.8v0.8h-0.8zM71.2 68.5h0.8v0.8h-0.8zM73.8 70.6h0.8v0.8h-0.8zM73.4 68.5h0.8v0.8h-0.8zM76.5 66.6h0.8v0.8h-0.8zM78.9 65.8h0.8v0.8h-0.8zM74.7 69.5h0.8v0.8h-0.8zM77.3 67.2h0.8v0.8h-0.8zM70.7 70.5h0.8v0.8h-0.8zM71.0 66.8h0.8v0.8h-0.8zM75.6 65.8h0.8v0.8h-0.8zM75.1 68.4h0.8v0.8h-0.8zM74.7 70.3h0.8v0.8h-0.8zM71.2 70.4h0.8v0.8h-0.8zM71.5 71.5h0.8v0.8h-0.8zM77.6 66.4h0.8v0.8h-0.8zM72.4 69.4h0.8v0.8h-0.8zM71.7 69.3h0.8v0.8h-0.8zM75.8 67.8h0.8v0.8h-0.8zM72.3 69.7h0.8v0.8h-0.8zM77.0 67.2h0.8v0.8h-0.8zM77.0 66.1h0.8v0.8h-0.8zM74.8 68.1h0.8v0.8h-0.8zM74.1 65.5h0.8v0.8h-0.8zM74.7 68.6h0.8v0.8h-0.8zM71.5 70.5h0.8v0.8h-0.8zM70.7 69.3h0.8v0.8h-0.8zM77.7 68.1h0.8v0.8h-0.8zM75.8 68.4h0.8v0.8h-0.8zM71.9 70.9h0.8v0.8h-0.8zM75.6 67.7h0.8v0.8h-0.8z" fill="#a8b468"/>
<path d="M75.2 65.5h0.85v0.85h-0.85zM72.0 69.0h0.85v0.85h-0.85zM72.8 67.2h0.85v0.85h-0.85zM71.6 65.8h0.85v0.85h-0.85zM71.0 68.8h0.85v0.85h-0.85zM75.0 66.2h0.85v0.85h-0.85zM74.1 68.0h0.85v0.85h-0.85zM70.3 67.7h0.85v0.85h-0.85zM75.6 68.4h0.85v0.85h-0.85zM75.1 65.0h0.85v0.85h-0.85zM73.8 67.1h0.85v0.85h-0.85zM73.2 67.5h0.85v0.85h-0.85zM73.6 70.3h0.85v0.85h-0.85zM73.5 70.5h0.85v0.85h-0.85zM72.0 67.9h0.85v0.85h-0.85zM75.2 65.4h0.85v0.85h-0.85zM70.9 67.1h0.85v0.85h-0.85zM75.9 65.0h0.85v0.85h-0.85zM74.2 69.9h0.85v0.85h-0.85zM73.5 67.8h0.85v0.85h-0.85zM71.7 70.1h0.85v0.85h-0.85zM75.5 68.2h0.85v0.85h-0.85zM77.6 67.1h0.85v0.85h-0.85zM73.2 68.3h0.85v0.85h-0.85zM73.4 70.5h0.85v0.85h-0.85zM75.6 68.2h0.85v0.85h-0.85zM73.6 69.4h0.85v0.85h-0.85zM71.3 68.2h0.85v0.85h-0.85zM74.9 67.6h0.85v0.85h-0.85zM73.5 67.5h0.85v0.85h-0.85zM75.4 68.3h0.85v0.85h-0.85zM75.5 68.0h0.85v0.85h-0.85zM71.2 70.7h0.85v0.85h-0.85zM73.3 66.9h0.85v0.85h-0.85zM74.0 67.6h0.85v0.85h-0.85zM73.7 68.8h0.85v0.85h-0.85zM72.9 67.2h0.85v0.85h-0.85zM72.3 67.0h0.85v0.85h-0.85zM70.2 68.9h0.85v0.85h-0.85zM73.8 67.0h0.85v0.85h-0.85zM70.9 70.2h0.85v0.85h-0.85zM71.7 65.2h0.85v0.85h-0.85zM74.3 68.6h0.85v0.85h-0.85zM71.9 68.5h0.85v0.85h-0.85z" fill="#c8c040"/>
<path d="M111.0 89.9h0.7v0.7h-0.7zM109.5 80.2h0.7v0.7h-0.7zM140.8 90.9h0.7v0.7h-0.7zM110.6 85.8h0.7v0.7h-0.7zM107.4 85.5h0.7v0.7h-0.7zM137.0 93.7h0.7v0.7h-0.7zM106.6 93.3h0.7v0.7h-0.7zM110.9 89.7h0.7v0.7h-0.7zM140.0 93.2h0.7v0.7h-0.7zM112.4 83.2h0.7v0.7h-0.7zM118.5 78.5h0.7v0.7h-0.7zM123.6 111.2h0.7v0.7h-0.7zM133.8 105.1h0.7v0.7h-0.7zM128.2 111.9h0.7v0.7h-0.7zM136.3 99.2h0.7v0.7h-0.7zM134.0 113.0h0.7v0.7h-0.7zM132.4 111.0h0.7v0.7h-0.7zM128.0 110.9h0.7v0.7h-0.7zM133.3 104.9h0.7v0.7h-0.7zM130.4 111.2h0.7v0.7h-0.7zM125.4 111.3h0.7v0.7h-0.7zM128.8 74.2h0.7v0.7h-0.7zM125.1 117.7h0.7v0.7h-0.7zM132.6 105.3h0.7v0.7h-0.7zM135.3 98.9h0.7v0.7h-0.7zM121.1 113.2h0.7v0.7h-0.7zM125.0 111.7h0.7v0.7h-0.7zM118.6 73.6h0.7v0.7h-0.7zM126.0 70.8h0.7v0.7h-0.7zM134.6 95.9h0.7v0.7h-0.7zM117.8 109.4h0.7v0.7h-0.7zM146.0 93.3h0.7v0.7h-0.7zM117.1 101.9h0.7v0.7h-0.7zM103.9 87.6h0.7v0.7h-0.7zM149.4 81.0h0.7v0.7h-0.7zM126.8 69.4h0.7v0.7h-0.7zM111.1 81.8h0.7v0.7h-0.7zM119.8 116.2h0.7v0.7h-0.7zM113.9 91.8h0.7v0.7h-0.7zM143.5 99.5h0.7v0.7h-0.7zM111.7 92.8h0.7v0.7h-0.7zM130.7 74.7h0.7v0.7h-0.7zM105.8 100.2h0.7v0.7h-0.7zM117.7 108.7h0.7v0.7h-0.7zM103.7 75.7h0.7v0.7h-0.7zM116.6 90.8h0.7v0.7h-0.7zM121.3 74.5h0.7v0.7h-0.7zM111.7 85.6h0.7v0.7h-0.7zM142.4 76.5h0.7v0.7h-0.7zM135.3 79.2h0.7v0.7h-0.7zM106.5 75.6h0.7v0.7h-0.7zM102.5 91.3h0.7v0.7h-0.7zM148.1 79.5h0.7v0.7h-0.7zM117.2 100.0h0.7v0.7h-0.7zM120.5 74.6h0.7v0.7h-0.7zM116.5 93.2h0.7v0.7h-0.7zM102.3 93.3h0.7v0.7h-0.7zM134.7 101.9h0.7v0.7h-0.7zM122.2 73.3h0.7v0.7h-0.7zM141.7 101.6h0.7v0.7h-0.7zM118.5 75.4h0.7v0.7h-0.7zM118.1 95.6h0.7v0.7h-0.7zM129.1 73.5h0.7v0.7h-0.7zM154.5 61.3h0.7v0.7h-0.7zM126.6 73.3h0.7v0.7h-0.7zM151.8 62.9h0.7v0.7h-0.7zM150.2 69.5h0.7v0.7h-0.7zM130.4 71.3h0.7v0.7h-0.7zM152.0 58.3h0.7v0.7h-0.7zM136.3 62.3h0.7v0.7h-0.7zM152.5 67.3h0.7v0.7h-0.7zM150.9 64.3h0.7v0.7h-0.7zM142.6 71.3h0.7v0.7h-0.7zM100.5 111.0h0.7v0.7h-0.7zM116.0 105.4h0.7v0.7h-0.7zM100.0 112.9h0.7v0.7h-0.7zM148.6 93.0h0.7v0.7h-0.7zM148.9 106.1h0.7v0.7h-0.7zM150.3 99.0h0.7v0.7h-0.7zM157.2 92.6h0.7v0.7h-0.7zM140.9 86.5h0.7v0.7h-0.7zM158.3 59.3h0.7v0.7h-0.7zM143.2 72.5h0.7v0.7h-0.7zM119.5 99.2h0.7v0.7h-0.7zM140.6 74.7h0.7v0.7h-0.7zM121.8 73.8h0.7v0.7h-0.7zM108.7 95.6h0.7v0.7h-0.7zM137.6 75.9h0.7v0.7h-0.7zM117.2 106.8h0.7v0.7h-0.7zM117.2 96.9h0.7v0.7h-0.7zM102.6 112.6h0.7v0.7h-0.7zM157.0 69.0h0.7v0.7h-0.7zM125.5 64.5h0.7v0.7h-0.7zM123.8 110.1h0.7v0.7h-0.7zM157.2 91.4h0.7v0.7h-0.7zM103.5 79.9h0.7v0.7h-0.7zM107.7 111.0h0.7v0.7h-0.7zM149.4 92.1h0.7v0.7h-0.7z" fill="#c8cee9"/>
<path d="M137.5 89.2h0.7v0.7h-0.7zM123.7 96.9h0.7v0.7h-0.7zM121.3 78.4h0.7v0.7h-0.7zM133.6 91.1h0.7v0.7h-0.7zM120.3 92.9h0.7v0.7h-0.7zM117.4 86.9h0.7v0.7h-0.7zM129.1 78.6h0.7v0.7h-0.7zM115.1 87.9h0.7v0.7h-0.7zM131.1 80.4h0.7v0.7h-0.7zM124.4 98.7h0.7v0.7h-0.7zM125.4 82.7h0.7v0.7h-0.7zM122.8 77.4h0.7v0.7h-0.7zM139.1 88.5h0.7v0.7h-0.7zM120.0 82.5h0.7v0.7h-0.7zM124.8 78.9h0.7v0.7h-0.7zM139.1 86.6h0.7v0.7h-0.7zM115.8 83.4h0.7v0.7h-0.7zM120.8 81.5h0.7v0.7h-0.7zM119.2 85.1h0.7v0.7h-0.7zM120.2 84.8h0.7v0.7h-0.7zM142.2 88.3h0.7v0.7h-0.7zM139.9 89.7h0.7v0.7h-0.7zM126.5 81.7h0.7v0.7h-0.7zM113.7 85.8h0.7v0.7h-0.7zM126.4 80.6h0.7v0.7h-0.7zM116.6 87.0h0.7v0.7h-0.7zM139.9 90.7h0.7v0.7h-0.7zM140.3 87.2h0.7v0.7h-0.7zM135.0 92.5h0.7v0.7h-0.7zM132.3 81.3h0.7v0.7h-0.7zM139.2 89.9h0.7v0.7h-0.7zM117.5 85.0h0.7v0.7h-0.7zM116.0 84.1h0.7v0.7h-0.7zM130.3 80.7h0.7v0.7h-0.7zM117.6 90.2h0.7v0.7h-0.7zM117.6 83.1h0.7v0.7h-0.7zM131.0 80.5h0.7v0.7h-0.7zM133.0 82.3h0.7v0.7h-0.7zM120.0 88.6h0.7v0.7h-0.7zM121.5 82.2h0.7v0.7h-0.7zM136.8 83.7h0.7v0.7h-0.7zM123.7 83.7h0.7v0.7h-0.7zM120.1 82.5h0.7v0.7h-0.7zM121.6 91.4h0.7v0.7h-0.7zM138.3 86.2h0.7v0.7h-0.7zM121.7 95.6h0.7v0.7h-0.7zM135.0 83.7h0.7v0.7h-0.7zM114.1 86.1h0.7v0.7h-0.7zM137.2 85.1h0.7v0.7h-0.7zM132.8 92.9h0.7v0.7h-0.7zM117.6 86.2h0.7v0.7h-0.7zM118.1 90.6h0.7v0.7h-0.7zM139.8 85.9h0.7v0.7h-0.7zM126.4 81.3h0.7v0.7h-0.7zM139.8 88.0h0.7v0.7h-0.7zM135.8 91.8h0.7v0.7h-0.7zM115.4 88.0h0.7v0.7h-0.7zM119.1 92.7h0.7v0.7h-0.7zM117.7 84.7h0.7v0.7h-0.7zM126.2 82.9h0.7v0.7h-0.7zM139.1 91.8h0.7v0.7h-0.7zM138.6 85.9h0.7v0.7h-0.7zM117.1 85.4h0.7v0.7h-0.7zM129.7 78.5h0.7v0.7h-0.7zM124.2 106.1h0.7v0.7h-0.7zM132.1 103.7h0.7v0.7h-0.7zM125.2 102.6h0.7v0.7h-0.7zM132.4 94.9h0.7v0.7h-0.7zM130.7 95.7h0.7v0.7h-0.7zM123.4 105.7h0.7v0.7h-0.7zM133.3 93.1h0.7v0.7h-0.7zM124.5 92.8h0.7v0.7h-0.7zM131.5 80.7h0.7v0.7h-0.7zM132.4 105.4h0.7v0.7h-0.7zM129.8 109.6h0.7v0.7h-0.7zM131.1 101.0h0.7v0.7h-0.7zM126.5 102.9h0.7v0.7h-0.7zM127.1 105.7h0.7v0.7h-0.7zM128.4 107.4h0.7v0.7h-0.7zM122.6 102.9h0.7v0.7h-0.7zM124.2 94.6h0.7v0.7h-0.7zM126.6 104.1h0.7v0.7h-0.7zM122.5 99.7h0.7v0.7h-0.7zM131.1 81.3h0.7v0.7h-0.7zM131.1 95.0h0.7v0.7h-0.7zM126.2 102.0h0.7v0.7h-0.7zM137.5 88.7h0.7v0.7h-0.7zM131.4 103.7h0.7v0.7h-0.7zM127.1 103.8h0.7v0.7h-0.7zM131.4 97.4h0.7v0.7h-0.7zM133.9 101.1h0.7v0.7h-0.7zM132.8 99.5h0.7v0.7h-0.7zM132.7 90.9h0.7v0.7h-0.7zM131.4 81.6h0.7v0.7h-0.7zM126.4 105.0h0.7v0.7h-0.7zM130.0 108.6h0.7v0.7h-0.7zM129.1 104.4h0.7v0.7h-0.7zM129.2 104.6h0.7v0.7h-0.7zM132.0 106.5h0.7v0.7h-0.7zM133.0 103.7h0.7v0.7h-0.7zM131.7 102.4h0.7v0.7h-0.7zM131.7 104.6h0.7v0.7h-0.7zM132.2 102.7h0.7v0.7h-0.7zM125.4 104.8h0.7v0.7h-0.7zM128.0 77.2h0.7v0.7h-0.7zM129.0 106.4h0.7v0.7h-0.7zM120.8 93.2h0.7v0.7h-0.7zM120.1 98.1h0.7v0.7h-0.7zM122.8 78.3h0.7v0.7h-0.7zM134.0 96.0h0.7v0.7h-0.7zM138.0 86.2h0.7v0.7h-0.7zM132.4 80.1h0.7v0.7h-0.7zM125.9 81.0h0.7v0.7h-0.7zM112.9 84.7h0.7v0.7h-0.7zM120.5 77.2h0.7v0.7h-0.7zM133.2 96.6h0.7v0.7h-0.7zM134.1 81.8h0.7v0.7h-0.7zM133.4 73.5h0.7v0.7h-0.7zM120.7 80.8h0.7v0.7h-0.7zM129.5 81.3h0.7v0.7h-0.7zM134.9 73.2h0.7v0.7h-0.7zM133.8 98.8h0.7v0.7h-0.7zM136.2 83.6h0.7v0.7h-0.7zM118.3 83.1h0.7v0.7h-0.7zM122.8 81.4h0.7v0.7h-0.7zM122.0 78.8h0.7v0.7h-0.7zM141.3 88.5h0.7v0.7h-0.7zM139.9 89.1h0.7v0.7h-0.7zM120.0 85.4h0.7v0.7h-0.7zM134.4 101.2h0.7v0.7h-0.7zM131.5 78.0h0.7v0.7h-0.7zM128.6 79.6h0.7v0.7h-0.7zM148.0 65.5h0.7v0.7h-0.7zM151.1 61.1h0.7v0.7h-0.7zM150.2 59.7h0.7v0.7h-0.7zM135.6 64.7h0.7v0.7h-0.7zM133.7 73.2h0.7v0.7h-0.7zM141.0 71.0h0.7v0.7h-0.7zM148.8 63.9h0.7v0.7h-0.7zM138.1 71.1h0.7v0.7h-0.7zM142.8 69.7h0.7v0.7h-0.7zM135.8 71.9h0.7v0.7h-0.7zM138.7 70.8h0.7v0.7h-0.7zM138.7 74.6h0.7v0.7h-0.7zM133.7 72.1h0.7v0.7h-0.7zM133.3 70.0h0.7v0.7h-0.7zM133.9 70.7h0.7v0.7h-0.7zM143.8 69.9h0.7v0.7h-0.7zM144.6 59.7h0.7v0.7h-0.7zM147.7 67.0h0.7v0.7h-0.7zM132.1 71.3h0.7v0.7h-0.7zM137.7 71.8h0.7v0.7h-0.7zM147.5 67.8h0.7v0.7h-0.7zM148.0 60.2h0.7v0.7h-0.7zM149.6 62.7h0.7v0.7h-0.7zM146.8 65.2h0.7v0.7h-0.7zM133.6 69.4h0.7v0.7h-0.7zM151.6 61.2h0.7v0.7h-0.7zM149.8 62.9h0.7v0.7h-0.7zM148.1 67.1h0.7v0.7h-0.7zM150.3 59.7h0.7v0.7h-0.7zM147.1 66.8h0.7v0.7h-0.7zM133.2 70.7h0.7v0.7h-0.7zM127.0 75.8h0.7v0.7h-0.7zM123.5 97.9h0.7v0.7h-0.7zM144.3 69.5h0.7v0.7h-0.7zM120.5 98.3h0.7v0.7h-0.7z" fill="#aab3de"/>
<path d="M129.1 89.6h0.75v0.75h-0.75zM132.3 90.3h0.75v0.75h-0.75zM127.0 88.6h0.75v0.75h-0.75zM121.0 87.4h0.75v0.75h-0.75zM131.5 87.2h0.75v0.75h-0.75zM135.2 87.2h0.75v0.75h-0.75zM128.0 86.3h0.75v0.75h-0.75zM133.3 85.8h0.75v0.75h-0.75zM129.1 85.8h0.75v0.75h-0.75zM128.2 91.2h0.75v0.75h-0.75zM136.1 90.4h0.75v0.75h-0.75zM133.5 89.1h0.75v0.75h-0.75zM121.7 89.3h0.75v0.75h-0.75zM124.6 92.9h0.75v0.75h-0.75zM123.4 90.0h0.75v0.75h-0.75zM135.0 85.1h0.75v0.75h-0.75zM131.6 87.2h0.75v0.75h-0.75zM134.0 87.6h0.75v0.75h-0.75zM123.5 90.7h0.75v0.75h-0.75zM128.2 92.9h0.75v0.75h-0.75zM124.8 89.2h0.75v0.75h-0.75zM124.6 85.3h0.75v0.75h-0.75zM135.8 87.8h0.75v0.75h-0.75zM124.8 88.4h0.75v0.75h-0.75zM120.8 87.1h0.75v0.75h-0.75zM126.9 89.4h0.75v0.75h-0.75zM129.8 91.1h0.75v0.75h-0.75zM125.2 95.7h0.75v0.75h-0.75zM120.8 88.8h0.75v0.75h-0.75zM135.6 87.3h0.75v0.75h-0.75zM128.2 86.0h0.75v0.75h-0.75zM131.6 87.1h0.75v0.75h-0.75zM130.4 82.7h0.75v0.75h-0.75zM131.9 92.6h0.75v0.75h-0.75zM132.6 88.4h0.75v0.75h-0.75zM133.7 89.2h0.75v0.75h-0.75zM123.0 88.1h0.75v0.75h-0.75zM133.5 87.5h0.75v0.75h-0.75zM126.1 87.5h0.75v0.75h-0.75zM132.6 87.8h0.75v0.75h-0.75zM131.9 84.4h0.75v0.75h-0.75zM123.2 87.2h0.75v0.75h-0.75zM125.1 93.8h0.75v0.75h-0.75zM131.1 90.9h0.75v0.75h-0.75zM127.0 95.7h0.75v0.75h-0.75zM124.0 91.4h0.75v0.75h-0.75zM123.8 92.6h0.75v0.75h-0.75zM136.2 85.9h0.75v0.75h-0.75zM127.5 85.8h0.75v0.75h-0.75zM129.4 94.5h0.75v0.75h-0.75zM134.5 87.5h0.75v0.75h-0.75zM120.9 84.8h0.75v0.75h-0.75zM130.2 91.3h0.75v0.75h-0.75zM126.3 87.9h0.75v0.75h-0.75zM125.7 85.3h0.75v0.75h-0.75zM126.1 84.8h0.75v0.75h-0.75zM128.9 90.2h0.75v0.75h-0.75zM132.0 85.7h0.75v0.75h-0.75zM127.0 88.7h0.75v0.75h-0.75zM127.5 90.0h0.75v0.75h-0.75zM124.7 89.9h0.75v0.75h-0.75zM135.0 84.9h0.75v0.75h-0.75zM126.4 87.8h0.75v0.75h-0.75zM128.8 93.3h0.75v0.75h-0.75zM121.5 87.0h0.75v0.75h-0.75zM123.7 89.3h0.75v0.75h-0.75zM127.8 96.2h0.75v0.75h-0.75zM130.8 86.3h0.75v0.75h-0.75zM130.7 89.8h0.75v0.75h-0.75zM121.3 88.1h0.75v0.75h-0.75zM134.4 89.3h0.75v0.75h-0.75zM127.0 89.6h0.75v0.75h-0.75zM123.8 88.4h0.75v0.75h-0.75zM129.3 83.3h0.75v0.75h-0.75zM135.1 85.7h0.75v0.75h-0.75zM129.1 97.3h0.75v0.75h-0.75zM128.0 93.7h0.75v0.75h-0.75zM127.8 85.4h0.75v0.75h-0.75zM128.6 100.9h0.75v0.75h-0.75zM127.6 91.7h0.75v0.75h-0.75zM130.4 93.4h0.75v0.75h-0.75zM131.3 94.0h0.75v0.75h-0.75zM130.0 98.5h0.75v0.75h-0.75zM128.9 99.8h0.75v0.75h-0.75zM127.6 87.2h0.75v0.75h-0.75zM130.1 94.5h0.75v0.75h-0.75zM129.9 86.4h0.75v0.75h-0.75zM124.2 91.3h0.75v0.75h-0.75zM128.1 91.2h0.75v0.75h-0.75zM124.5 91.3h0.75v0.75h-0.75zM127.3 92.4h0.75v0.75h-0.75zM127.9 100.8h0.75v0.75h-0.75zM129.7 96.6h0.75v0.75h-0.75zM127.4 90.8h0.75v0.75h-0.75zM129.8 95.6h0.75v0.75h-0.75zM125.0 91.9h0.75v0.75h-0.75zM131.0 90.9h0.75v0.75h-0.75zM131.2 92.1h0.75v0.75h-0.75zM130.1 92.8h0.75v0.75h-0.75zM124.9 86.3h0.75v0.75h-0.75zM123.3 86.2h0.75v0.75h-0.75zM129.7 102.0h0.75v0.75h-0.75zM132.0 92.5h0.75v0.75h-0.75zM129.6 96.9h0.75v0.75h-0.75zM130.5 100.1h0.75v0.75h-0.75zM129.1 97.0h0.75v0.75h-0.75zM128.3 100.0h0.75v0.75h-0.75zM129.5 83.5h0.75v0.75h-0.75zM128.6 99.8h0.75v0.75h-0.75zM128.4 102.5h0.75v0.75h-0.75zM126.9 100.0h0.75v0.75h-0.75zM129.4 100.8h0.75v0.75h-0.75zM125.7 100.6h0.75v0.75h-0.75zM129.0 100.3h0.75v0.75h-0.75zM129.6 86.1h0.75v0.75h-0.75zM124.7 97.4h0.75v0.75h-0.75zM126.2 94.4h0.75v0.75h-0.75zM125.4 99.1h0.75v0.75h-0.75zM129.7 101.8h0.75v0.75h-0.75zM129.4 90.8h0.75v0.75h-0.75zM128.5 91.3h0.75v0.75h-0.75zM127.2 100.7h0.75v0.75h-0.75zM126.7 87.2h0.75v0.75h-0.75zM130.0 99.0h0.75v0.75h-0.75zM128.0 97.0h0.75v0.75h-0.75zM126.7 101.1h0.75v0.75h-0.75zM127.1 97.6h0.75v0.75h-0.75zM132.2 86.2h0.75v0.75h-0.75zM126.8 91.6h0.75v0.75h-0.75zM124.3 89.9h0.75v0.75h-0.75zM124.8 96.3h0.75v0.75h-0.75zM133.3 90.6h0.75v0.75h-0.75zM128.1 90.1h0.75v0.75h-0.75zM125.6 85.8h0.75v0.75h-0.75zM131.0 93.3h0.75v0.75h-0.75zM128.2 100.2h0.75v0.75h-0.75zM130.6 85.7h0.75v0.75h-0.75zM134.3 88.5h0.75v0.75h-0.75zM135.8 89.6h0.75v0.75h-0.75zM134.5 84.9h0.75v0.75h-0.75zM137.8 88.2h0.75v0.75h-0.75zM128.8 89.4h0.75v0.75h-0.75zM124.6 88.7h0.75v0.75h-0.75zM130.0 83.2h0.75v0.75h-0.75zM142.7 66.9h0.75v0.75h-0.75zM145.2 68.3h0.75v0.75h-0.75zM145.2 65.7h0.75v0.75h-0.75zM136.4 70.5h0.75v0.75h-0.75zM140.1 69.8h0.75v0.75h-0.75zM135.8 69.9h0.75v0.75h-0.75zM139.6 70.1h0.75v0.75h-0.75zM147.4 62.7h0.75v0.75h-0.75zM148.4 60.7h0.75v0.75h-0.75zM146.1 64.3h0.75v0.75h-0.75zM147.7 61.8h0.75v0.75h-0.75zM142.7 67.0h0.75v0.75h-0.75zM134.8 68.8h0.75v0.75h-0.75zM145.4 64.1h0.75v0.75h-0.75zM148.2 60.9h0.75v0.75h-0.75zM139.8 62.0h0.75v0.75h-0.75zM137.0 70.2h0.75v0.75h-0.75zM146.6 61.8h0.75v0.75h-0.75zM147.7 62.2h0.75v0.75h-0.75zM137.2 69.7h0.75v0.75h-0.75zM139.0 69.0h0.75v0.75h-0.75zM148.0 61.0h0.75v0.75h-0.75zM146.5 63.9h0.75v0.75h-0.75zM143.5 68.1h0.75v0.75h-0.75zM142.1 62.7h0.75v0.75h-0.75zM138.5 68.6h0.75v0.75h-0.75zM137.9 69.3h0.75v0.75h-0.75zM137.7 69.0h0.75v0.75h-0.75zM146.3 61.4h0.75v0.75h-0.75zM144.4 62.4h0.75v0.75h-0.75zM134.9 68.5h0.75v0.75h-0.75zM139.6 61.5h0.75v0.75h-0.75zM145.4 62.0h0.75v0.75h-0.75zM145.6 68.6h0.75v0.75h-0.75zM145.8 67.4h0.75v0.75h-0.75zM137.5 65.2h0.75v0.75h-0.75zM137.9 65.8h0.75v0.75h-0.75zM136.0 69.6h0.75v0.75h-0.75zM145.6 61.7h0.75v0.75h-0.75zM137.6 65.0h0.75v0.75h-0.75zM144.5 68.6h0.75v0.75h-0.75zM138.5 65.3h0.75v0.75h-0.75zM138.2 69.0h0.75v0.75h-0.75zM144.9 66.4h0.75v0.75h-0.75zM139.9 69.6h0.75v0.75h-0.75zM145.1 64.6h0.75v0.75h-0.75zM138.0 66.2h0.75v0.75h-0.75zM143.7 68.3h0.75v0.75h-0.75zM146.1 63.1h0.75v0.75h-0.75zM140.8 62.1h0.75v0.75h-0.75zM136.0 67.8h0.75v0.75h-0.75zM145.6 63.9h0.75v0.75h-0.75zM145.6 63.2h0.75v0.75h-0.75zM140.9 61.2h0.75v0.75h-0.75zM140.1 69.7h0.75v0.75h-0.75zM137.1 67.6h0.75v0.75h-0.75zM146.2 63.1h0.75v0.75h-0.75zM145.0 64.5h0.75v0.75h-0.75zM145.7 61.6h0.75v0.75h-0.75zM142.4 61.4h0.75v0.75h-0.75zM137.0 64.3h0.75v0.75h-0.75zM147.0 63.0h0.75v0.75h-0.75zM141.4 69.1h0.75v0.75h-0.75zM146.5 62.6h0.75v0.75h-0.75zM137.8 64.9h0.75v0.75h-0.75zM124.5 88.8h0.75v0.75h-0.75zM135.2 65.9h0.75v0.75h-0.75zM126.8 85.0h0.75v0.75h-0.75zM134.6 66.2h0.75v0.75h-0.75zM122.5 88.0h0.75v0.75h-0.75z" fill="#929dd2"/>
<path d="M144.6 65.8h0.8v0.8h-0.8zM139.4 67.1h0.8v0.8h-0.8zM142.0 65.1h0.8v0.8h-0.8zM144.0 66.2h0.8v0.8h-0.8zM140.6 67.9h0.8v0.8h-0.8zM142.3 66.4h0.8v0.8h-0.8zM140.1 62.9h0.8v0.8h-0.8zM141.9 65.6h0.8v0.8h-0.8zM141.1 66.8h0.8v0.8h-0.8zM143.9 64.0h0.8v0.8h-0.8zM142.1 66.8h0.8v0.8h-0.8zM140.7 63.1h0.8v0.8h-0.8zM140.3 68.7h0.8v0.8h-0.8zM143.0 64.7h0.8v0.8h-0.8zM141.5 63.0h0.8v0.8h-0.8zM140.5 66.8h0.8v0.8h-0.8zM143.3 64.5h0.8v0.8h-0.8zM143.4 63.6h0.8v0.8h-0.8zM143.2 64.2h0.8v0.8h-0.8zM138.9 65.8h0.8v0.8h-0.8zM144.5 66.3h0.8v0.8h-0.8zM139.0 65.9h0.8v0.8h-0.8zM139.5 64.6h0.8v0.8h-0.8zM142.1 65.1h0.8v0.8h-0.8zM142.2 64.0h0.8v0.8h-0.8zM143.0 65.1h0.8v0.8h-0.8zM142.5 65.1h0.8v0.8h-0.8zM140.4 66.6h0.8v0.8h-0.8zM139.7 64.1h0.8v0.8h-0.8zM141.0 63.1h0.8v0.8h-0.8zM140.2 67.2h0.8v0.8h-0.8zM140.4 67.5h0.8v0.8h-0.8zM141.3 64.9h0.8v0.8h-0.8zM143.2 66.3h0.8v0.8h-0.8zM142.4 66.0h0.8v0.8h-0.8zM140.8 67.3h0.8v0.8h-0.8zM139.4 64.9h0.8v0.8h-0.8zM144.3 66.1h0.8v0.8h-0.8zM141.8 66.7h0.8v0.8h-0.8zM138.9 66.1h0.8v0.8h-0.8zM141.4 64.5h0.8v0.8h-0.8zM139.4 68.6h0.8v0.8h-0.8z" fill="#8a94c4"/>
<rect x="32.00" y="56.70" width="63.10" height="62.90" stroke="#1a1a1a" stroke-width="1.0" fill="none"/>
<path d="M29.2 119.6H32.0M30.2 114.9H32.0M30.2 112.1H32.0M30.2 110.2H32.0M30.2 108.6H32.0M30.2 107.3H32.0M30.2 106.2H32.0M30.2 105.4H32.0M30.2 104.7H32.0M29.2 103.9H32.0M30.2 99.2H32.0M30.2 96.3H32.0M30.2 94.4H32.0M30.2 92.9H32.0M30.2 91.6H32.0M30.2 90.5H32.0M30.2 89.7H32.0M30.2 88.9H32.0M29.2 88.2H32.0M30.2 83.4H32.0M30.2 80.6H32.0M30.2 78.7H32.0M30.2 77.1H32.0M30.2 75.9H32.0M30.2 74.8H32.0M30.2 74.0H32.0M30.2 73.2H32.0M29.2 72.4H32.0M30.2 67.7H32.0M30.2 64.9H32.0M30.2 63.0H32.0M30.2 61.4H32.0M30.2 60.2H32.0M30.2 59.1H32.0M30.2 58.3H32.0M30.2 57.5H32.0M32.0 119.6V122.4M36.7 119.6V121.4M39.6 119.6V121.4M41.5 119.6V121.4M43.0 119.6V121.4M44.3 119.6V121.4M45.4 119.6V121.4M46.2 119.6V121.4M47.0 119.6V121.4M47.8 119.6V122.4M52.5 119.6V121.4M55.3 119.6V121.4M57.2 119.6V121.4M58.8 119.6V121.4M60.1 119.6V121.4M61.2 119.6V121.4M62.0 119.6V121.4M62.8 119.6V121.4M63.5 119.6V122.4M68.3 119.6V121.4M71.1 119.6V121.4M73.0 119.6V121.4M74.6 119.6V121.4M75.9 119.6V121.4M77.0 119.6V121.4M77.7 119.6V121.4M78.5 119.6V121.4M79.3 119.6V122.4M84.1 119.6V121.4M86.9 119.6V121.4M88.8 119.6V121.4M90.4 119.6V121.4M91.6 119.6V121.4M92.7 119.6V121.4M93.5 119.6V121.4M94.3 119.6V121.4" stroke="#000" stroke-width="0.95" fill="none"/>
<rect x="98.60" y="56.70" width="63.20" height="62.90" stroke="#1a1a1a" stroke-width="1.0" fill="none"/>
<path d="M95.8 119.6H98.6M96.8 114.9H98.6M96.8 112.1H98.6M96.8 110.2H98.6M96.8 108.6H98.6M96.8 107.3H98.6M96.8 106.2H98.6M96.8 105.4H98.6M96.8 104.7H98.6M95.8 103.9H98.6M96.8 99.2H98.6M96.8 96.3H98.6M96.8 94.4H98.6M96.8 92.9H98.6M96.8 91.6H98.6M96.8 90.5H98.6M96.8 89.7H98.6M96.8 88.9H98.6M95.8 88.2H98.6M96.8 83.4H98.6M96.8 80.6H98.6M96.8 78.7H98.6M96.8 77.1H98.6M96.8 75.9H98.6M96.8 74.8H98.6M96.8 74.0H98.6M96.8 73.2H98.6M95.8 72.4H98.6M96.8 67.7H98.6M96.8 64.9H98.6M96.8 63.0H98.6M96.8 61.4H98.6M96.8 60.2H98.6M96.8 59.1H98.6M96.8 58.3H98.6M96.8 57.5H98.6M98.6 119.6V122.4M103.3 119.6V121.4M106.2 119.6V121.4M108.1 119.6V121.4M109.7 119.6V121.4M110.9 119.6V121.4M112.0 119.6V121.4M112.8 119.6V121.4M113.6 119.6V121.4M114.4 119.6V122.4M119.1 119.6V121.4M122.0 119.6V121.4M123.9 119.6V121.4M125.5 119.6V121.4M126.7 119.6V121.4M127.8 119.6V121.4M128.6 119.6V121.4M129.4 119.6V121.4M130.2 119.6V122.4M134.9 119.6V121.4M137.8 119.6V121.4M139.7 119.6V121.4M141.3 119.6V121.4M142.5 119.6V121.4M143.6 119.6V121.4M144.4 119.6V121.4M145.2 119.6V121.4M146.0 119.6V122.4M150.7 119.6V121.4M153.6 119.6V121.4M155.5 119.6V121.4M157.1 119.6V121.4M158.3 119.6V121.4M159.4 119.6V121.4M160.2 119.6V121.4M161.0 119.6V121.4" stroke="#000" stroke-width="0.95" fill="none"/>
<path d="M62.6,65.4 L68.7,59 L73.5,57 L86.9,57 L92.6,63.7 L76.8,75.5 L69.1,76.9 L62.4,73.2 Z" fill="none" stroke="#111" stroke-width="0.95"/>
<path d="M128.8,69 L132.5,60 L142.5,57.3 L155,58.3 L158.3,63.5 L142.5,77.3 L131.3,75 Z" fill="none" stroke="#111" stroke-width="0.95"/>
<text x="42.90" y="66.90" font-size="7.5" textLength="14.10" lengthAdjust="spacingAndGlyphs">48.8</text>
<text x="109.40" y="69.10" font-size="7.5" textLength="13.40" lengthAdjust="spacingAndGlyphs">21.4</text>
<text x="23.60" y="122.70" font-size="9.2" textLength="23.10" lengthAdjust="spacingAndGlyphs" transform="rotate(-90 23.60 122.70)">CD11c</text>
<line x1="20.40" y1="97.80" x2="20.40" y2="82.00" stroke="#1c1c1c" stroke-width="1.1"/>
<path d="M20.40,78.30 L18.30,82.50 L22.50,82.50 Z" fill="#1c1c1c"/>
<text x="32.60" y="133.00" font-size="9.2" textLength="10.80" lengthAdjust="spacingAndGlyphs">I-A<tspan font-size="5.70" dy="-3.50">b</tspan></text>
<line x1="47.00" y1="130.30" x2="63.10" y2="130.30" stroke="#1c1c1c" stroke-width="1.1"/>
<path d="M66.80,130.30 L62.60,128.20 L62.60,132.40 Z" fill="#1c1c1c"/>
<text x="60.20" y="171.30" font-size="7.6" textLength="33.00" lengthAdjust="spacingAndGlyphs">WT CD4<tspan font-size="4.71" dy="-2.89">+</tspan></text>
<text x="111.40" y="172.00" font-size="7.6" textLength="55.60" lengthAdjust="spacingAndGlyphs">GM-CSF<tspan font-size="4.71" dy="-2.89">-/-</tspan><tspan dy="2.89"> CD4</tspan><tspan font-size="4.71" dy="-2.89">+</tspan></text>
<path d="M71.4 200.2L70.6 200.3L70.0 200.2L69.4 199.9L69.0 199.6L68.6 199.2L68.2 198.7L68.1 198.2L68.3 197.8L68.6 197.4L69.4 197.0L69.8 196.9L70.6 196.9L71.4 197.0L72.2 196.9L73.0 196.7L73.8 196.6L74.6 196.9L75.0 197.3L75.2 197.8L75.1 198.6L74.8 199.0L74.3 199.4L73.8 199.7L73.4 199.8L72.6 200.0L71.8 200.2L71.4 200.2M71.4 200.6L70.6 200.8L69.8 200.8L69.4 200.5L69.0 200.1L68.6 199.7L68.2 199.3L67.8 198.6L68.0 197.8L68.3 197.4L68.8 197.0L69.4 196.8L70.2 196.7L71.0 196.8L71.8 196.7L72.5 196.6L73.0 196.5L73.8 196.4L74.5 196.6L75.0 197.0L75.2 197.4L75.4 198.2L75.1 199.0L74.7 199.4L74.2 199.7L73.8 199.9L73.0 200.2L72.6 200.3L71.8 200.5L71.4 200.6M69.8 202.6L69.3 202.6L69.2 201.8L69.1 201.0L68.9 200.6L68.6 200.1L68.2 199.7L67.8 199.2L67.5 198.6L67.7 197.8L68.0 197.4L68.5 197.0L69.0 196.7L69.5 196.6L70.2 196.5L71.0 196.6L71.8 196.5L72.6 196.4L73.4 196.3L74.2 196.3L74.8 196.6L75.2 197.0L75.4 197.4L75.6 198.2L75.4 198.8L75.0 199.4L74.6 199.8L74.2 200.0L73.7 200.2L73.0 200.4L72.5 200.6L71.8 200.8L71.4 201.0L70.7 201.4L70.4 201.8L70.1 202.2L69.8 202.6M69.8 203.1L69.1 203.0L68.8 202.6L68.7 201.8L68.7 201.0L68.5 200.6L68.2 200.1L67.8 199.6L67.4 199.0L67.3 198.6L67.4 197.9L67.7 197.4L68.2 197.0L68.6 196.7L69.0 196.5L69.8 196.4L70.6 196.4L71.4 196.4L72.2 196.3L72.8 196.2L73.4 196.1L74.2 196.1L74.6 196.3L75.1 196.6L75.4 197.0L75.7 197.8L75.7 198.6L75.4 199.2L75.0 199.7L74.6 200.0L74.2 200.2L73.4 200.6L73.0 200.7L72.2 201.0L71.8 201.2L71.4 201.4L71.0 201.8L70.6 202.3L70.2 202.9L69.8 203.1M69.8 203.5L69.2 203.4L68.7 203.0L68.6 202.6L68.4 201.8L68.3 201.0L68.2 200.6L67.8 200.0L67.4 199.5L67.1 199.0L67.1 198.2L67.4 197.5L67.8 197.1L68.2 196.8L68.6 196.5L69.4 196.3L70.2 196.2L71.0 196.2L71.5 196.2L72.2 196.1L73.0 196.0L73.8 196.0L74.6 196.1L75.0 196.3L75.4 196.7L75.8 197.4L75.9 197.8L75.9 198.6L75.7 199.0L75.4 199.5L75.0 200.0L74.6 200.2L73.9 200.6L73.4 200.8L72.9 201.0L72.2 201.3L71.8 201.6L71.4 201.9L71.0 202.4L70.6 202.9L70.2 203.3L69.8 203.5M70.2 203.6L69.4 203.7L68.8 203.4L68.5 203.0L68.2 202.2L68.2 201.8L68.1 201.0L67.8 200.4L67.4 199.9L67.1 199.4L66.9 199.0L66.9 198.2L67.0 197.8L67.4 197.3L67.8 196.9L68.2 196.6L69.0 196.2L69.4 196.1L70.2 196.0L71.0 196.0L71.8 196.0L72.6 195.9L73.4 195.8L73.8 195.8L74.2 195.8L75.0 196.1L75.4 196.5L75.8 197.0L75.9 197.4L76.1 198.2L75.9 199.0L75.7 199.4L75.4 199.8L75.0 200.2L74.4 200.6L73.8 200.9L73.4 201.1L72.7 201.4L72.2 201.7L71.8 202.0L71.4 202.4L71.0 202.9L70.6 203.3L70.2 203.6M70.2 203.9L69.4 203.9L69.0 203.8L68.5 203.4L68.2 202.8L68.0 202.2L67.9 201.4L67.8 201.0L67.4 200.2L67.1 199.8L66.9 199.4L66.6 198.6L66.8 197.8L67.1 197.4L67.4 197.0L67.9 196.6L68.6 196.2L69.0 196.1L69.8 195.9L70.6 195.9L71.4 195.9L72.2 195.8L72.6 195.8L73.4 195.7L74.2 195.7L74.7 195.8L75.3 196.2L75.7 196.6L75.9 197.0L76.2 197.8L76.2 198.2L76.2 198.6L75.9 199.4L75.7 199.8L75.3 200.2L74.8 200.6L74.2 201.0L73.8 201.2L73.3 201.4L72.6 201.8L72.2 202.1L71.8 202.5L71.4 202.9L71.0 203.3L70.6 203.6L70.2 203.9M70.6 203.9L69.8 204.2L69.0 204.0L68.6 203.8L68.2 203.2L67.9 202.6L67.8 201.9L67.7 201.4L67.4 200.6L67.1 200.2L66.9 199.8L66.6 199.3L66.4 198.6L66.6 197.9L66.9 197.4L67.2 197.0L67.7 196.6L68.2 196.2L68.6 196.0L69.4 195.8L69.8 195.8L70.6 195.7L71.4 195.7L72.2 195.6L73.0 195.5L73.8 195.5L74.6 195.6L75.0 195.8L75.5 196.2L75.8 196.6L76.2 197.3L76.3 197.8L76.3 198.6L76.2 199.2L75.9 199.8L75.5 200.2L75.1 200.6L74.6 201.0L74.2 201.2L73.8 201.4L73.1 201.8L72.6 202.2L72.2 202.5L71.8 202.9L71.4 203.3L71.0 203.7L70.6 203.9M70.2 204.3L69.4 204.3L69.0 204.2L68.4 203.8L68.1 203.4L67.8 202.7L67.7 202.2L67.5 201.4L67.3 201.0L67.0 200.4L66.6 199.8L66.4 199.4L66.3 198.6L66.5 197.8L66.7 197.4L67.0 197.0L67.4 196.6L68.0 196.2L68.6 195.9L69.0 195.7L69.8 195.6L70.6 195.6L71.4 195.5L72.2 195.5L72.9 195.4L73.4 195.4L74.2 195.4L74.6 195.5L75.3 195.8L75.7 196.2L76.0 196.6L76.2 197.0L76.5 197.8L76.5 198.6L76.3 199.4L76.1 199.8L75.8 200.2L75.4 200.6L74.9 201.0L74.3 201.4L73.8 201.7L73.4 202.0L73.0 202.3L72.6 202.6L72.2 203.0L71.8 203.4L71.3 203.8L70.6 204.2L70.2 204.3M71.0 204.3L70.2 204.5L69.4 204.5L68.6 204.2L68.2 203.8L67.9 203.4L67.7 203.0L67.5 202.2L67.4 201.8L67.1 201.0L66.9 200.6L66.6 200.1L66.2 199.4L66.1 199.0L66.1 198.2L66.3 197.8L66.6 197.3L67.0 196.8L67.4 196.4L67.8 196.1L68.4 195.8L69.0 195.6L69.8 195.4L70.5 195.4L71.0 195.4L71.8 195.3L72.6 195.3L73.4 195.2L74.2 195.2L74.8 195.4L75.4 195.7L75.8 196.1L76.2 196.6L76.4 197.0L76.6 197.6L76.7 198.2L76.6 199.0L76.5 199.4L76.2 199.9L75.8 200.5L75.4 200.9L75.0 201.2L74.6 201.5L74.1 201.8L73.5 202.2L73.0 202.6L72.6 203.0L72.2 203.4L71.8 203.8L71.4 204.0L71.0 204.3M70.6 204.6L69.8 204.7L69.0 204.6L68.6 204.4L68.2 204.1L67.8 203.5L67.6 203.0L67.4 202.5L67.2 201.8L67.0 201.2L66.7 200.6L66.5 200.2L66.2 199.8L65.9 199.0L66.0 198.2L66.2 197.6L66.6 197.0L67.0 196.6L67.4 196.2L67.8 196.0L68.2 195.7L69.0 195.4L69.4 195.3L70.2 195.3L71.0 195.2L71.8 195.2L72.6 195.1L73.4 195.1L74.2 195.1L75.0 195.3L75.4 195.5L75.8 195.9L76.2 196.4L76.5 197.0L76.7 197.4L76.8 198.2L76.8 199.0L76.6 199.5L76.2 200.2L75.9 200.6L75.5 201.0L75.1 201.4L74.6 201.7L74.2 202.0L73.8 202.3L73.4 202.7L73.0 203.1L72.6 203.5L72.2 203.8L71.7 204.2L71.0 204.5L70.6 204.6M71.4 204.7L70.6 204.9L69.8 204.9L69.0 204.8L68.6 204.6L68.1 204.2L67.8 203.8L67.4 203.0L67.2 202.6L67.0 201.8L66.9 201.4L66.6 200.8L66.2 200.2L66.0 199.8L65.8 199.2L65.7 198.6L65.8 198.2L66.1 197.4L66.4 197.0L66.8 196.6L67.2 196.2L67.8 195.8L68.2 195.6L68.6 195.4L69.4 195.2L70.2 195.1L71.0 195.0L71.8 195.0L72.2 195.0L73.0 194.9L73.8 194.9L74.6 195.0L75.0 195.1L75.5 195.4L75.9 195.8L76.3 196.2L76.6 196.8L76.9 197.4L77.0 198.1L77.0 198.6L76.9 199.0L76.7 199.8L76.4 200.2L76.2 200.6L75.8 201.0L75.4 201.4L74.9 201.8L74.4 202.2L73.9 202.6L73.5 203.0L73.1 203.4L72.7 203.8L72.3 204.2L71.8 204.5L71.4 204.7M71.0 205.0L70.2 205.1L69.4 205.1L69.0 205.0L68.3 204.6L67.9 204.2L67.6 203.8L67.4 203.4L67.1 202.6L66.9 202.2L66.7 201.4L66.5 201.0L66.2 200.5L65.8 199.8L65.7 199.4L65.6 198.6L65.8 197.8L66.0 197.4L66.2 197.0L66.6 196.6L67.0 196.2L67.5 195.8L68.2 195.4L68.6 195.2L69.4 195.0L69.8 195.0L70.6 194.9L71.4 194.8L72.2 194.8L73.0 194.7L73.8 194.7L74.6 194.8L75.1 195.0L75.7 195.4L76.1 195.8L76.4 196.2L76.7 196.6L77.0 197.3L77.1 197.8L77.2 198.6L77.0 199.4L76.9 199.8L76.6 200.3L76.2 200.8L75.8 201.3L75.4 201.7L75.0 202.0L74.6 202.4L74.2 202.7L73.8 203.1L73.4 203.5L73.0 204.0L72.6 204.3L72.2 204.6L71.4 204.9L71.0 205.0M71.8 205.1L71.0 205.3L70.2 205.3L69.4 205.3L68.7 205.0L68.2 204.7L67.8 204.3L67.4 203.8L67.2 203.4L67.0 202.9L66.8 202.2L66.6 201.8L66.3 201.0L66.0 200.6L65.8 200.2L65.5 199.4L65.4 199.0L65.4 198.4L65.6 197.8L65.8 197.4L66.2 196.8L66.6 196.3L67.0 196.0L67.4 195.7L67.8 195.4L68.6 195.1L69.0 194.9L69.8 194.8L70.6 194.7L71.4 194.7L72.2 194.6L72.6 194.6L73.4 194.6L74.0 194.6L74.6 194.7L75.4 195.0L75.8 195.3L76.2 195.6L76.6 196.2L76.9 196.6L77.1 197.0L77.3 197.8L77.4 198.6L77.2 199.4L77.0 199.9L76.6 200.6L76.3 201.0L76.0 201.4L75.6 201.8L75.1 202.2L74.7 202.6L74.3 203.0L73.9 203.4L73.6 203.8L73.2 204.2L72.8 204.6L72.2 205.0L71.8 205.1M71.8 205.4L71.0 205.5L70.2 205.5L69.4 205.5L69.0 205.3L68.3 205.0L67.8 204.6L67.5 204.2L67.2 203.8L67.0 203.3L66.7 202.6L66.6 202.2L66.2 201.4L66.0 201.0L65.8 200.6L65.4 199.8L65.3 199.4L65.2 198.6L65.4 197.8L65.6 197.4L65.8 197.0L66.2 196.5L66.6 196.1L67.0 195.8L67.5 195.4L68.2 195.0L68.6 194.9L69.4 194.7L69.9 194.6L70.6 194.5L71.4 194.5L72.2 194.4L73.0 194.4L73.8 194.4L74.6 194.5L75.0 194.6L75.7 195.0L76.2 195.4L76.5 195.8L76.8 196.2L77.1 196.6L77.4 197.4L77.5 197.8L77.6 198.6L77.4 199.4L77.3 199.8L77.0 200.3L76.6 201.0L76.2 201.4L75.9 201.8L75.5 202.2L75.1 202.6L74.7 203.0L74.3 203.4L74.0 203.8L73.6 204.2L73.2 204.6L72.7 205.0L72.2 205.3L71.8 205.4M71.4 205.8L70.6 205.8L70.2 205.8L69.4 205.7L68.6 205.4L68.2 205.2L67.8 204.8L67.4 204.3L67.1 203.8L66.8 203.4L66.6 202.8L66.4 202.2L66.2 201.8L65.8 201.0L65.6 200.6L65.3 200.2L65.0 199.4L65.0 199.0L65.0 198.5L65.2 197.8L65.4 197.4L65.8 196.8L66.2 196.3L66.6 195.9L67.0 195.6L67.4 195.3L67.9 195.0L68.6 194.7L69.0 194.6L69.8 194.4L70.6 194.3L71.4 194.3L72.2 194.2L73.0 194.2L73.8 194.2L74.6 194.4L75.3 194.6L75.8 194.9L76.2 195.2L76.6 195.6L77.0 196.2L77.3 196.6L77.4 197.0L77.7 197.8L77.7 198.6L77.6 199.4L77.4 200.0L77.1 200.6L76.8 201.0L76.5 201.4L76.2 201.8L75.8 202.2L75.4 202.7L75.0 203.1L74.6 203.5L74.2 204.0L73.8 204.5L73.4 204.9L73.0 205.2L72.6 205.5L71.8 205.8L71.4 205.8M72.6 205.8L71.8 206.1L71.0 206.1L70.2 206.1L69.4 205.9L69.0 205.8L68.2 205.4L67.8 205.1L67.4 204.6L67.1 204.2L66.8 203.8L66.6 203.3L66.3 202.6L66.1 202.2L65.8 201.5L65.5 201.0L65.3 200.6L65.0 200.0L64.8 199.4L64.8 198.6L65.0 197.8L65.2 197.4L65.4 197.0L65.8 196.5L66.2 196.0L66.6 195.7L67.0 195.3L67.5 195.0L68.2 194.6L68.6 194.5L69.4 194.3L70.0 194.2L70.6 194.1L71.4 194.1L72.2 194.0L73.0 194.0L73.8 194.1L74.6 194.2L75.0 194.3L75.7 194.6L76.2 194.9L76.6 195.3L77.0 195.8L77.2 196.2L77.5 196.6L77.8 197.4L77.9 197.8L78.0 198.6L77.8 199.4L77.7 199.8L77.4 200.5L77.1 201.0L76.8 201.4L76.5 201.8L76.2 202.2L75.8 202.6L75.4 203.1L75.0 203.6L74.6 204.0L74.2 204.5L73.8 204.9L73.4 205.3L73.0 205.6L72.6 205.8M72.2 206.3L71.4 206.5L70.6 206.4L69.8 206.3L69.4 206.2L68.6 205.9L68.2 205.6L67.8 205.3L67.4 204.9L67.0 204.4L66.6 203.8L66.4 203.4L66.2 202.9L65.9 202.2L65.7 201.8L65.4 201.2L65.0 200.6L64.8 200.2L64.6 199.5L64.5 199.0L64.6 198.2L64.7 197.8L65.0 197.3L65.4 196.7L65.8 196.2L66.2 195.8L66.6 195.4L67.0 195.1L67.4 194.8L67.8 194.6L68.6 194.3L69.0 194.2L69.8 194.0L70.6 193.9L71.4 193.8L72.2 193.8L73.0 193.8L73.8 193.9L74.6 194.0L75.3 194.2L75.8 194.4L76.2 194.7L76.6 195.0L77.0 195.5L77.4 196.1L77.7 196.6L77.9 197.0L78.1 197.8L78.2 198.6L78.1 199.4L77.8 200.2L77.6 200.6L77.4 201.0L77.0 201.6L76.6 202.1L76.2 202.6L75.9 203.0L75.6 203.4L75.2 203.8L74.9 204.2L74.5 204.6L74.2 205.0L73.7 205.4L73.2 205.8L72.6 206.2L72.2 206.3M72.2 206.7L71.4 206.8L70.6 206.7L69.9 206.6L69.4 206.5L68.7 206.2L68.2 205.9L67.8 205.6L67.4 205.2L67.0 204.8L66.6 204.2L66.4 203.8L66.2 203.4L65.8 202.6L65.6 202.2L65.4 201.7L65.0 201.0L64.8 200.6L64.6 200.2L64.3 199.4L64.3 198.6L64.5 197.8L64.7 197.4L65.0 196.9L65.4 196.4L65.8 195.9L66.2 195.5L66.6 195.1L67.0 194.8L67.4 194.6L68.2 194.2L68.6 194.0L69.4 193.8L69.8 193.8L70.6 193.7L71.4 193.6L72.2 193.6L73.0 193.6L73.8 193.7L74.6 193.8L75.0 193.9L75.8 194.2L76.2 194.4L76.6 194.8L77.0 195.2L77.4 195.7L77.7 196.2L78.0 196.6L78.2 197.1L78.4 197.8L78.5 198.6L78.3 199.4L78.2 199.8L77.9 200.6L77.7 201.0L77.4 201.4L77.0 202.0L76.6 202.6L76.3 203.0L76.0 203.4L75.7 203.8L75.3 204.2L75.0 204.6L74.6 205.0L74.2 205.4L73.8 205.8L73.2 206.2L72.6 206.6L72.2 206.7M72.2 207.1L71.4 207.2L70.6 207.1L70.1 207.0L69.4 206.8L68.9 206.6L68.2 206.2L67.8 206.0L67.4 205.6L67.0 205.1L66.6 204.6L66.4 204.2L66.2 203.8L65.8 203.1L65.6 202.6L65.4 202.2L65.0 201.6L64.7 201.0L64.4 200.6L64.2 200.1L64.0 199.4L64.0 198.6L64.2 197.8L64.4 197.4L64.6 197.0L65.0 196.5L65.4 196.0L65.8 195.6L66.2 195.2L66.6 194.9L67.0 194.6L67.6 194.2L68.2 193.9L68.6 193.8L69.4 193.6L70.2 193.5L70.7 193.4L71.4 193.4L72.2 193.3L73.0 193.4L73.4 193.4L74.2 193.5L75.0 193.7L75.4 193.8L76.2 194.2L76.6 194.5L77.0 194.8L77.4 195.3L77.8 195.8L78.0 196.2L78.3 196.6L78.6 197.4L78.7 197.8L78.7 198.6L78.6 199.4L78.5 199.8L78.2 200.6L78.0 201.0L77.8 201.4L77.4 202.0L77.0 202.6L76.7 203.0L76.4 203.4L76.1 203.8L75.8 204.2L75.4 204.7L75.0 205.1L74.6 205.5L74.2 205.8L73.8 206.2L73.2 206.6L72.6 206.9L72.2 207.1M72.2 207.5L71.4 207.6L70.6 207.5L70.0 207.4L69.4 207.2L68.9 207.0L68.2 206.6L67.8 206.3L67.4 206.0L67.0 205.5L66.6 205.0L66.3 204.6L66.1 204.2L65.8 203.6L65.5 203.0L65.3 202.6L65.0 202.1L64.6 201.5L64.3 201.0L64.1 200.6L63.8 200.0L63.6 199.4L63.6 198.6L63.8 197.9L64.0 197.4L64.3 197.0L64.6 196.6L65.0 196.1L65.4 195.6L65.8 195.2L66.2 194.9L66.6 194.5L67.1 194.2L67.8 193.8L68.2 193.6L69.0 193.4L69.4 193.3L70.2 193.2L71.0 193.1L71.8 193.1L72.6 193.1L73.4 193.2L74.2 193.3L74.9 193.4L75.4 193.5L76.0 193.8L76.6 194.2L77.0 194.5L77.4 194.9L77.8 195.4L78.1 195.8L78.4 196.2L78.6 196.6L78.9 197.4L79.0 197.8L79.0 198.6L79.0 199.1L78.8 199.8L78.6 200.5L78.4 201.0L78.2 201.4L77.8 202.0L77.4 202.6L77.2 203.0L76.9 203.4L76.6 203.8L76.2 204.3L75.8 204.8L75.4 205.2L75.0 205.6L74.6 205.9L74.2 206.3L73.8 206.6L73.3 207.0L72.6 207.4L72.2 207.5M72.2 207.9L71.4 208.0L70.6 208.0L69.8 207.8L69.4 207.7L68.8 207.4L68.2 207.0L67.8 206.7L67.4 206.4L67.0 206.0L66.6 205.5L66.3 205.0L66.0 204.6L65.8 204.2L65.4 203.5L65.1 203.0L64.9 202.6L64.6 202.1L64.2 201.5L63.9 201.0L63.7 200.6L63.4 200.1L63.2 199.4L63.2 198.6L63.4 197.9L63.6 197.4L63.9 197.0L64.2 196.6L64.6 196.1L65.0 195.6L65.4 195.2L65.8 194.8L66.2 194.5L66.6 194.2L67.2 193.8L67.8 193.5L68.2 193.3L69.0 193.1L69.4 193.0L70.2 192.8L71.0 192.8L71.8 192.8L72.6 192.8L73.4 192.9L74.2 193.0L74.6 193.1L75.4 193.3L75.8 193.4L76.5 193.8L77.0 194.1L77.4 194.5L77.8 194.9L78.2 195.4L78.5 195.8L78.7 196.2L79.0 196.7L79.3 197.4L79.4 198.1L79.4 198.6L79.4 199.0L79.2 199.8L79.0 200.6L78.8 201.0L78.6 201.5L78.2 202.2L78.0 202.6L77.7 203.0L77.4 203.5L77.0 204.0L76.6 204.5L76.2 204.9L75.8 205.3L75.4 205.7L75.0 206.1L74.6 206.4L74.2 206.8L73.8 207.1L73.3 207.4L72.6 207.8L72.2 207.9M72.6 208.2L71.8 208.4L71.0 208.5L70.2 208.4L69.5 208.2L69.0 208.0L68.6 207.8L68.0 207.4L67.5 207.0L67.1 206.6L66.8 206.2L66.4 205.8L66.2 205.4L65.8 204.8L65.4 204.2L65.2 203.8L65.0 203.4L64.6 202.8L64.2 202.2L63.9 201.8L63.7 201.4L63.4 201.0L63.0 200.3L62.8 199.8L62.6 199.0L62.7 198.2L63.0 197.6L63.4 197.0L63.7 196.6L64.0 196.2L64.3 195.8L64.7 195.4L65.1 195.0L65.5 194.6L66.0 194.2L66.6 193.8L67.0 193.5L67.4 193.3L68.1 193.0L68.6 192.8L69.4 192.6L69.8 192.5L70.6 192.4L71.4 192.4L72.2 192.4L73.0 192.5L73.6 192.6L74.2 192.7L75.0 192.8L75.5 193.0L76.2 193.2L76.6 193.5L77.1 193.8L77.6 194.2L78.0 194.6L78.3 195.0L78.7 195.4L79.0 195.9L79.4 196.6L79.6 197.0L79.8 197.8L79.9 198.2L79.8 199.0L79.8 199.4L79.6 200.2L79.4 201.0L79.3 201.4L79.0 202.0L78.6 202.6L78.4 203.0L78.1 203.4L77.8 203.8L77.4 204.3L77.0 204.7L76.6 205.1L76.2 205.5L75.8 205.9L75.4 206.2L75.0 206.6L74.5 207.0L74.0 207.4L73.5 207.8L73.0 208.1L72.6 208.2M72.6 208.7L71.8 208.9L71.0 209.0L70.2 208.9L69.4 208.7L69.0 208.6L68.3 208.2L67.8 207.9L67.4 207.5L67.0 207.1L66.6 206.7L66.2 206.2L66.0 205.8L65.7 205.4L65.4 204.9L65.0 204.2L64.7 203.8L64.5 203.4L64.2 203.0L63.8 202.4L63.4 201.8L63.1 201.4L62.8 201.0L62.5 200.6L62.2 199.9L62.0 199.4L62.0 198.6L62.2 197.9L62.4 197.4L62.7 197.0L63.0 196.6L63.4 196.1L63.8 195.7L64.2 195.2L64.6 194.8L65.0 194.5L65.4 194.1L65.9 193.8L66.5 193.4L67.0 193.1L67.4 192.8L67.9 192.6L68.6 192.4L69.2 192.2L69.8 192.1L70.6 192.0L71.4 192.0L72.2 192.0L73.0 192.1L73.5 192.2L74.2 192.3L75.0 192.5L75.5 192.6L76.2 192.8L76.6 193.0L77.2 193.4L77.8 193.8L78.2 194.2L78.6 194.6L78.9 195.0L79.2 195.4L79.5 195.8L79.8 196.3L80.1 197.0L80.3 197.4L80.4 198.2L80.4 199.0L80.3 199.8L80.2 200.5L80.1 201.0L79.9 201.8L79.7 202.2L79.4 202.7L79.0 203.3L78.6 203.8L78.2 204.2L77.9 204.6L77.4 205.0L77.0 205.4L76.6 205.7L76.2 206.1L75.8 206.4L75.4 206.8L75.0 207.1L74.6 207.5L74.2 207.8L73.7 208.2L73.0 208.6L72.6 208.7M72.2 209.4L71.4 209.5L70.6 209.6L69.8 209.5L69.4 209.4L68.6 209.1L68.2 208.9L67.8 208.6L67.3 208.2L66.9 207.8L66.6 207.4L66.2 207.0L65.8 206.4L65.4 205.8L65.1 205.4L64.9 205.0L64.6 204.5L64.2 203.9L63.8 203.4L63.5 203.0L63.2 202.6L62.9 202.2L62.6 201.8L62.2 201.3L61.8 200.7L61.5 200.2L61.4 199.8L61.2 199.0L61.3 198.2L61.5 197.8L61.8 197.1L62.1 196.6L62.4 196.2L62.8 195.8L63.1 195.4L63.5 195.0L63.9 194.6L64.4 194.2L64.9 193.8L65.4 193.5L65.8 193.2L66.2 192.9L66.8 192.6L67.4 192.3L67.8 192.1L68.6 191.8L69.0 191.7L69.8 191.5L70.6 191.5L71.4 191.5L72.2 191.5L73.0 191.6L73.8 191.7L74.2 191.8L75.0 192.0L75.8 192.2L76.2 192.3L76.9 192.6L77.4 192.9L77.8 193.2L78.2 193.5L78.6 193.8L79.0 194.2L79.4 194.7L79.8 195.2L80.2 195.8L80.4 196.2L80.7 196.6L81.0 197.4L81.1 197.8L81.2 198.6L81.2 199.4L81.1 200.2L81.0 200.7L80.9 201.4L80.6 202.2L80.5 202.6L80.2 203.0L79.8 203.6L79.4 204.0L79.0 204.4L78.6 204.8L78.2 205.2L77.8 205.5L77.4 205.8L76.9 206.2L76.4 206.6L75.9 207.0L75.5 207.4L75.0 207.8L74.6 208.2L74.2 208.5L73.8 208.8L73.4 209.0L72.6 209.3L72.2 209.4M71.4 210.2L70.6 210.3L69.8 210.2L69.4 210.1L68.6 209.9L68.2 209.7L67.7 209.4L67.2 209.0L66.8 208.6L66.4 208.2L66.0 207.8L65.7 207.4L65.4 207.0L65.0 206.5L64.6 205.9L64.3 205.4L64.1 205.0L63.8 204.6L63.4 204.1L63.0 203.6L62.6 203.1L62.2 202.6L61.9 202.2L61.5 201.8L61.2 201.4L61.0 201.0L60.6 200.3L60.4 199.8L60.3 199.0L60.3 198.2L60.6 197.4L60.8 197.0L61.0 196.6L61.4 196.0L61.8 195.4L62.2 195.0L62.5 194.6L63.0 194.2L63.4 193.8L63.8 193.6L64.2 193.3L64.7 193.0L65.4 192.6L65.8 192.4L66.2 192.1L66.8 191.8L67.4 191.5L67.8 191.3L68.6 191.1L69.0 191.0L69.8 190.8L70.6 190.8L71.4 190.8L72.2 190.8L73.0 190.9L73.5 191.0L74.2 191.1L75.0 191.3L75.4 191.4L76.2 191.6L76.7 191.8L77.4 192.1L77.8 192.3L78.3 192.6L78.8 193.0L79.3 193.4L79.7 193.8L80.0 194.2L80.4 194.6L80.7 195.0L81.0 195.5L81.4 196.0L81.8 196.6L82.0 197.0L82.2 197.7L82.3 198.2L82.3 199.0L82.3 199.8L82.2 200.2L82.1 201.0L81.9 201.8L81.7 202.2L81.4 203.0L81.2 203.4L80.9 203.8L80.5 204.2L80.2 204.6L79.7 205.0L79.2 205.4L78.7 205.8L78.2 206.1L77.8 206.4L77.4 206.7L77.0 207.0L76.5 207.4L76.0 207.8L75.6 208.2L75.1 208.6L74.6 209.0L74.2 209.3L73.8 209.6L73.3 209.8L72.6 210.0L71.8 210.2L71.4 210.2M72.6 211.0L71.8 211.2L71.0 211.3L70.2 211.3L69.4 211.2L68.7 211.0L68.2 210.8L67.8 210.6L67.2 210.2L66.7 209.8L66.2 209.4L65.8 209.0L65.4 208.6L65.0 208.2L64.7 207.8L64.3 207.4L64.0 207.0L63.7 206.6L63.4 206.2L63.0 205.7L62.6 205.2L62.2 204.8L61.8 204.4L61.4 204.0L61.0 203.5L60.6 203.0L60.3 202.6L60.1 202.2L59.8 201.8L59.4 201.1L59.1 200.6L59.0 200.2L58.8 199.4L58.8 198.6L58.9 197.8L59.0 197.2L59.2 196.6L59.4 196.2L59.8 195.6L60.2 195.1L60.6 194.6L61.0 194.2L61.4 193.8L61.8 193.4L62.2 193.1L62.6 192.8L63.0 192.6L63.6 192.2L64.2 191.9L64.6 191.7L65.1 191.4L65.8 191.0L66.2 190.8L66.7 190.6L67.4 190.3L67.8 190.2L68.6 190.0L69.4 189.8L69.8 189.8L70.6 189.7L71.4 189.7L72.2 189.7L72.7 189.8L73.4 189.9L74.2 190.0L75.0 190.2L75.4 190.3L76.2 190.5L76.6 190.6L77.4 190.9L77.8 191.1L78.5 191.4L79.0 191.7L79.4 192.0L79.8 192.3L80.2 192.6L80.6 193.0L81.0 193.4L81.4 193.8L81.8 194.2L82.2 194.6L82.6 195.1L83.0 195.5L83.4 196.0L83.7 196.6L83.8 197.0L84.0 197.8L84.1 198.6L84.0 199.4L83.9 200.2L83.8 200.7L83.6 201.4L83.4 201.9L83.1 202.6L82.9 203.0L82.6 203.6L82.2 204.2L81.9 204.6L81.5 205.0L81.1 205.4L80.7 205.8L80.2 206.2L79.8 206.5L79.4 206.7L79.0 207.0L78.3 207.4L77.8 207.7L77.4 208.0L77.0 208.3L76.6 208.6L76.1 209.0L75.7 209.4L75.1 209.8L74.6 210.2L74.2 210.4L73.8 210.6L73.0 210.9L72.6 211.0M71.4 211.8L70.6 211.9L69.8 211.8L69.4 211.8L68.6 211.6L68.2 211.4L67.4 211.0L67.0 210.7L66.6 210.4L66.2 210.1L65.8 209.8L65.4 209.4L65.0 209.0L64.6 208.6L64.2 208.2L63.8 207.8L63.4 207.4L63.0 206.9L62.6 206.5L62.2 206.1L61.8 205.7L61.4 205.3L61.0 204.9L60.6 204.6L60.2 204.1L59.8 203.7L59.4 203.1L59.0 202.6L58.7 202.2L58.5 201.8L58.2 201.2L57.9 200.6L57.8 200.0L57.7 199.4L57.7 198.6L57.7 197.8L57.8 197.3L57.9 196.6L58.2 195.8L58.5 195.4L58.8 195.0L59.2 194.6L59.6 194.2L60.0 193.8L60.5 193.4L61.0 193.0L61.4 192.7L61.8 192.4L62.2 192.2L62.9 191.8L63.4 191.5L63.8 191.3L64.3 191.0L65.0 190.6L65.4 190.4L65.8 190.2L66.6 189.9L67.0 189.7L67.8 189.5L68.4 189.4L69.0 189.3L69.8 189.2L70.6 189.1L71.4 189.1L72.2 189.1L73.0 189.2L73.8 189.3L74.3 189.4L75.0 189.5L75.8 189.7L76.2 189.8L77.0 190.1L77.4 190.2L78.2 190.5L78.6 190.7L79.2 191.0L79.8 191.4L80.2 191.6L80.6 191.9L81.0 192.3L81.4 192.7L81.8 193.1L82.2 193.5L82.6 193.9L83.0 194.3L83.4 194.7L83.8 195.1L84.2 195.6L84.5 196.2L84.7 196.6L84.9 197.4L85.0 198.0L85.0 198.6L85.0 199.2L84.9 199.8L84.8 200.6L84.6 201.2L84.4 201.8L84.2 202.2L83.8 203.0L83.6 203.4L83.3 203.8L83.0 204.3L82.6 204.8L82.2 205.3L81.8 205.7L81.4 206.1L81.0 206.5L80.6 206.8L80.2 207.1L79.7 207.4L79.0 207.8L78.6 208.1L78.2 208.3L77.7 208.6L77.1 209.0L76.6 209.4L76.2 209.7L75.8 210.0L75.4 210.3L75.0 210.6L74.3 211.0L73.8 211.3L73.4 211.4L72.6 211.7L71.8 211.8L71.4 211.8M71.4 212.6L70.6 212.6L70.0 212.6L69.4 212.5L68.6 212.3L68.2 212.2L67.4 211.8L67.0 211.6L66.6 211.3L66.2 211.0L65.6 210.6L65.2 210.2L64.7 209.8L64.2 209.4L63.8 209.0L63.4 208.7L63.0 208.4L62.6 208.0L62.2 207.6L61.8 207.3L61.4 206.9L61.0 206.6L60.5 206.2L59.9 205.8L59.4 205.5L59.0 205.3L58.5 205.0L57.8 204.6L57.4 204.3L57.0 204.1L56.5 203.8L55.9 203.4L55.4 203.1L55.0 202.8L54.6 202.4L54.2 202.1L53.7 201.8L53.3 201.4L52.9 201.0L52.6 200.2L52.8 199.4L53.0 199.0L53.3 198.2L53.4 197.8L53.7 197.0L54.0 196.6L54.3 196.2L54.6 195.8L55.0 195.4L55.5 195.0L56.0 194.6L56.6 194.3L57.0 194.0L57.4 193.8L58.1 193.4L58.6 193.1L59.0 192.9L59.5 192.6L60.2 192.2L60.6 191.9L61.0 191.7L61.5 191.4L62.2 191.0L62.6 190.8L63.0 190.6L63.6 190.2L64.2 189.9L64.6 189.6L65.1 189.4L65.8 189.1L66.2 189.0L67.0 188.7L67.8 188.6L68.2 188.5L69.0 188.4L69.8 188.3L70.6 188.3L71.4 188.3L72.2 188.3L73.0 188.3L73.8 188.4L74.6 188.6L75.0 188.6L75.8 188.8L76.5 189.0L77.0 189.1L77.8 189.3L78.2 189.5L79.0 189.8L79.4 190.0L79.8 190.2L80.5 190.6L81.0 191.0L81.4 191.3L81.8 191.6L82.2 192.0L82.6 192.4L83.0 192.9L83.4 193.3L83.8 193.7L84.2 194.0L84.6 194.5L85.0 194.9L85.4 195.4L85.6 195.8L85.8 196.2L86.1 197.0L86.2 197.8L86.2 198.6L86.1 199.4L86.0 200.2L85.8 201.0L85.7 201.4L85.5 202.2L85.3 202.6L85.0 203.1L84.6 203.8L84.3 204.2L84.0 204.6L83.7 205.0L83.4 205.4L83.0 205.8L82.6 206.3L82.2 206.7L81.8 207.1L81.4 207.4L80.9 207.8L80.3 208.2L79.8 208.5L79.4 208.7L78.9 209.0L78.2 209.4L77.8 209.6L77.4 209.9L76.9 210.2L76.3 210.6L75.8 211.0L75.4 211.2L75.0 211.5L74.5 211.8L73.8 212.1L73.4 212.3L72.6 212.5L71.8 212.6L71.4 212.6M73.0 213.1L72.2 213.2L71.4 213.3L70.6 213.3L69.8 213.2L69.0 213.0L68.6 212.9L67.8 212.6L67.4 212.5L67.0 212.2L66.3 211.8L65.8 211.4L65.4 211.1L65.0 210.8L64.6 210.5L64.2 210.2L63.6 209.8L63.1 209.4L62.6 209.0L62.2 208.7L61.8 208.4L61.4 208.1L61.0 207.8L60.4 207.4L59.8 207.1L59.4 206.9L58.6 206.7L57.8 206.6L57.0 206.6L56.6 206.6L55.8 206.5L55.0 206.4L54.2 206.2L53.8 206.1L53.0 205.8L52.6 205.6L52.2 205.4L51.5 205.0L51.0 204.8L50.2 204.8L49.7 205.0L49.0 205.3L48.6 205.4L47.8 205.5L47.4 205.4L46.6 205.0L46.2 204.6L46.0 204.2L45.8 203.4L46.1 202.6L46.2 202.2L46.4 201.4L46.6 200.6L46.6 200.2L46.8 199.4L47.0 198.9L47.4 198.2L47.8 197.8L48.2 197.4L48.6 197.1L49.0 196.8L49.4 196.5L50.2 196.2L50.6 196.1L51.4 195.9L51.8 195.8L52.5 195.4L53.0 195.1L53.4 194.8L53.8 194.5L54.3 194.2L54.9 193.8L55.4 193.5L55.8 193.3L56.4 193.0L57.0 192.7L57.4 192.5L58.1 192.2L58.6 191.9L59.0 191.7L59.7 191.4L60.2 191.1L60.6 190.9L61.2 190.6L61.8 190.2L62.2 190.0L62.6 189.8L63.3 189.4L63.8 189.1L64.2 188.9L64.8 188.6L65.4 188.3L65.9 188.2L66.6 188.0L67.4 187.9L68.0 187.8L68.6 187.7L69.4 187.6L70.2 187.6L71.0 187.6L71.8 187.6L72.6 187.6L73.4 187.7L74.1 187.8L74.6 187.9L75.4 188.0L76.2 188.2L76.6 188.3L77.4 188.4L78.0 188.6L78.6 188.8L79.2 189.0L79.8 189.3L80.2 189.5L80.7 189.8L81.4 190.2L81.8 190.5L82.2 190.9L82.6 191.2L83.0 191.7L83.4 192.1L83.8 192.6L84.2 193.0L84.6 193.3L85.0 193.7L85.4 194.1L85.8 194.6L86.1 195.0L86.3 195.4L86.6 195.9L86.8 196.6L87.0 197.3L87.1 197.8L87.1 198.6L87.0 199.3L86.9 199.8L86.8 200.6L86.7 201.4L86.6 201.8L86.4 202.6L86.2 203.0L85.8 203.7L85.5 204.2L85.1 204.6L84.8 205.0L84.4 205.4L84.1 205.8L83.7 206.2L83.4 206.6L83.0 207.0L82.6 207.4L82.2 207.8L81.7 208.2L81.2 208.6L80.6 208.9L80.2 209.2L79.8 209.4L79.0 209.8L78.6 210.0L78.2 210.3L77.6 210.6L77.0 211.0L76.6 211.2L76.2 211.5L75.7 211.8L75.0 212.2L74.6 212.5L74.2 212.6L73.4 212.9L73.0 213.1M45.4 197.7L45.8 197.0L46.1 196.6L46.4 196.2L46.7 195.8L47.1 195.4L47.7 195.0L48.2 194.7L48.6 194.6L49.4 194.3L50.2 194.3L51.0 194.2L51.4 194.2L52.2 194.0L52.7 193.8L53.4 193.4L53.8 193.2L54.2 193.0L54.9 192.6L55.4 192.3L55.8 192.1L56.5 191.8L57.0 191.5L57.4 191.4L58.2 191.0L58.6 190.8L59.0 190.6L59.8 190.2L60.2 190.0L60.6 189.8L61.3 189.4L61.8 189.1L62.2 188.9L62.8 188.6L63.4 188.3L63.8 188.1L64.5 187.8L65.0 187.6L65.5 187.4L66.2 187.2L67.0 187.1L67.6 187.0L68.2 186.9L69.0 186.9L69.8 186.8L70.6 186.8L71.4 186.9L72.2 186.9L73.0 187.0L73.4 187.0L74.2 187.1L75.0 187.2L75.8 187.3L76.3 187.4L77.0 187.5L77.8 187.7L78.2 187.8L79.0 188.0L79.5 188.2L80.2 188.5L80.6 188.7L81.2 189.0L81.8 189.4L82.2 189.7L82.6 190.0L83.0 190.4L83.4 190.8L83.8 191.2L84.2 191.7L84.6 192.1L85.0 192.4L85.4 192.8L85.8 193.2L86.2 193.6L86.6 194.1L86.9 194.6L87.1 195.0L87.4 195.6L87.7 196.2L87.8 196.7L88.0 197.4L88.0 198.2L88.0 199.0L87.9 199.8L87.8 200.6L87.8 201.0L87.7 201.8L87.5 202.6L87.4 203.1L87.1 203.8L86.9 204.2L86.6 204.6L86.2 205.0L85.8 205.5L85.4 205.9L85.0 206.3L84.6 206.7L84.2 207.1L83.8 207.5L83.4 207.9L83.0 208.3L82.6 208.7L82.2 209.0L81.6 209.4L81.0 209.7L80.6 210.0L80.1 210.2L79.4 210.6L79.0 210.8L78.5 211.0L77.8 211.4L77.4 211.6L77.0 211.8L76.4 212.2L75.8 212.6L75.4 212.8L75.0 213.0L74.2 213.4L73.8 213.5L73.0 213.7L72.6 213.8L71.8 213.9L71.0 213.9L70.2 213.9L69.6 213.8L69.0 213.7L68.2 213.5L67.8 213.3L67.2 213.0L66.6 212.7L66.2 212.4L65.8 212.2L65.3 211.8L64.7 211.4L64.2 211.1L63.8 210.8L63.4 210.5L62.9 210.2L62.3 209.8L61.8 209.5L61.4 209.2L61.0 209.0L60.3 208.6L59.8 208.4L59.3 208.2L58.6 208.1L57.8 208.1L57.0 208.2L56.2 208.2L55.4 208.1L54.6 208.0L53.8 207.9L53.4 207.8L52.6 207.6L52.1 207.4L51.4 207.2L50.6 207.1L49.8 207.2L49.0 207.3L48.2 207.3L47.4 207.2L46.6 207.0L46.2 206.8L45.8 206.6" fill="none" stroke="#262626" stroke-width="0.42"/>
<path d="M136.0 198.1L135.2 197.9L135.2 197.5L135.6 197.2L136.4 197.4L136.0 198.1M134.0 204.5L133.3 204.2L133.6 203.7L134.2 203.8L134.0 204.5M136.4 198.2L135.6 198.5L134.8 198.2L134.5 197.8L134.8 197.3L135.2 197.0L136.0 196.8L136.5 197.0L136.7 197.8L136.4 198.2M134.4 204.6L133.6 204.9L133.1 204.6L133.0 203.8L133.3 203.4L134.0 203.2L134.4 203.4L134.6 204.2L134.4 204.6M136.0 198.8L135.2 198.8L134.7 198.6L134.1 198.2L133.9 197.8L134.1 197.4L134.7 197.0L135.2 196.8L136.0 196.6L136.8 197.0L137.0 197.4L136.8 198.1L136.4 198.6L136.0 198.8M134.0 205.2L133.2 205.0L132.9 204.6L132.8 204.2L132.8 203.7L133.2 203.1L133.6 202.9L134.4 202.9L134.8 203.3L134.9 203.8L134.8 204.4L134.4 205.0L134.0 205.2M136.0 199.1L135.2 199.1L134.8 199.0L134.0 198.6L133.6 198.4L133.2 198.0L133.2 197.7L133.6 197.3L134.2 197.0L134.8 196.7L135.2 196.6L136.0 196.4L136.6 196.6L137.0 197.0L137.2 197.8L136.8 198.5L136.4 198.9L136.0 199.1M134.0 205.4L133.5 205.4L132.9 205.0L132.7 204.6L132.5 203.8L132.8 203.2L133.2 202.8L133.9 202.6L134.4 202.6L134.8 202.7L135.2 203.4L135.1 204.2L134.8 204.8L134.4 205.3L134.0 205.4M136.0 199.4L135.2 199.5L134.8 199.4L134.1 199.0L133.6 198.8L133.1 198.6L132.6 198.2L132.8 197.4L133.2 197.2L133.6 197.0L134.4 196.7L134.8 196.5L135.6 196.3L136.4 196.3L136.9 196.6L137.3 197.0L137.3 197.8L137.2 198.2L136.8 198.8L136.4 199.2L136.0 199.4M134.4 205.5L133.6 205.6L133.1 205.4L132.7 205.0L132.4 204.3L132.4 203.8L132.4 203.4L132.8 202.8L133.2 202.5L134.0 202.3L134.8 202.3L135.2 202.6L135.4 203.4L135.3 204.2L135.2 204.6L134.8 205.2L134.4 205.5M136.0 199.9L135.2 200.1L134.8 199.8L134.1 199.4L133.6 199.2L133.2 199.0L132.4 198.7L132.0 198.2L132.3 197.4L132.8 197.1L133.2 196.9L134.0 196.6L134.4 196.5L135.2 196.2L135.6 196.1L136.4 196.2L136.8 196.3L137.2 196.6L137.5 197.4L137.4 198.2L137.2 198.6L136.8 199.1L136.4 199.6L136.0 199.9M134.0 205.8L133.5 205.8L132.8 205.4L132.5 205.0L132.3 204.6L132.2 203.8L132.4 203.0L132.7 202.6L133.2 202.3L133.6 202.1L134.4 201.8L134.8 201.7L135.3 201.8L135.6 202.3L135.7 203.0L135.6 203.8L135.5 204.2L135.2 204.9L134.9 205.4L134.4 205.7L134.0 205.8M134.4 205.9L133.6 206.0L133.1 205.8L132.6 205.4L132.3 205.0L132.1 204.2L132.0 203.4L132.3 202.6L132.8 202.2L133.2 201.9L133.6 201.8L134.2 201.4L134.6 201.0L134.5 200.2L134.1 199.8L133.6 199.5L133.2 199.4L132.4 199.1L132.0 198.8L131.7 198.2L131.9 197.4L132.4 197.1L132.8 196.9L133.5 196.6L134.0 196.4L134.7 196.2L135.2 196.0L136.0 196.0L136.8 196.1L137.2 196.4L137.6 197.0L137.7 197.4L137.6 198.2L137.4 198.6L137.1 199.0L136.8 199.5L136.4 200.1L136.1 200.6L136.0 201.0L136.0 201.8L136.0 202.2L136.0 202.7L135.9 203.4L135.7 204.2L135.6 204.6L135.2 205.3L134.8 205.7L134.4 205.9M134.0 206.2L133.5 206.2L132.8 205.8L132.4 205.4L132.2 205.0L132.0 204.6L131.8 203.8L131.9 203.0L132.0 202.6L132.4 202.1L132.8 201.8L133.5 201.4L133.8 201.0L133.8 200.2L133.3 199.8L132.8 199.6L132.3 199.4L131.7 199.0L131.4 198.6L131.4 197.8L131.6 197.4L132.1 197.0L132.8 196.7L133.2 196.5L134.0 196.3L134.4 196.1L135.2 195.9L136.0 195.8L136.8 196.0L137.2 196.2L137.6 196.6L137.9 197.4L137.8 198.2L137.6 198.6L137.2 199.3L136.9 199.8L136.7 200.2L136.5 201.0L136.4 201.8L136.4 202.2L136.2 203.0L136.1 203.8L135.9 204.2L135.6 205.0L135.3 205.4L135.0 205.8L134.4 206.2L134.0 206.2M134.4 206.4L133.6 206.4L133.0 206.2L132.5 205.8L132.2 205.4L132.0 205.0L131.7 204.2L131.7 203.4L131.8 202.6L132.0 202.1L132.4 201.6L132.8 201.3L133.2 200.6L132.8 200.1L132.2 199.8L131.6 199.4L131.3 199.0L131.1 198.6L131.1 197.8L131.3 197.4L131.7 197.0L132.4 196.6L132.8 196.5L133.6 196.2L134.0 196.1L134.8 195.8L135.2 195.7L136.0 195.7L136.7 195.8L137.2 196.1L137.6 196.4L137.9 197.0L138.0 197.4L138.0 198.0L137.8 198.6L137.6 199.0L137.2 199.8L137.0 200.2L136.9 201.0L136.8 201.6L136.7 202.2L136.5 203.0L136.4 203.4L136.1 204.2L136.0 204.6L135.6 205.4L135.3 205.8L134.8 206.2L134.4 206.4M134.0 206.7L133.5 206.6L132.8 206.3L132.4 205.9L132.0 205.4L131.8 205.0L131.6 204.2L131.5 203.8L131.5 203.0L131.6 202.2L131.8 201.8L132.0 201.4L132.2 200.6L131.9 200.2L131.4 199.8L131.1 199.4L130.8 198.6L130.9 197.8L131.2 197.2L131.6 196.8L132.0 196.6L132.8 196.3L133.2 196.2L134.0 195.9L134.4 195.8L135.2 195.6L136.0 195.5L136.8 195.7L137.2 195.9L137.6 196.2L138.0 196.8L138.2 197.4L138.1 198.2L138.0 198.6L137.7 199.4L137.5 199.8L137.3 200.6L137.2 201.1L137.1 201.8L136.9 202.6L136.8 203.0L136.5 203.8L136.4 204.2L136.0 205.0L135.8 205.4L135.5 205.8L135.1 206.2L134.4 206.6L134.0 206.7M134.8 206.7L134.0 206.9L133.2 206.7L132.8 206.5L132.4 206.2L132.0 205.6L131.7 205.0L131.5 204.6L131.3 203.8L131.3 203.0L131.3 202.2L131.5 201.4L131.4 200.6L131.2 200.2L130.8 199.6L130.6 199.0L130.6 198.2L130.8 197.5L131.1 197.0L131.6 196.6L132.0 196.4L132.5 196.2L133.2 196.0L133.8 195.8L134.4 195.6L135.2 195.5L136.0 195.4L136.8 195.6L137.3 195.8L137.8 196.2L138.1 196.6L138.4 197.4L138.3 198.2L138.1 199.0L137.9 199.4L137.7 200.2L137.6 200.6L137.5 201.4L137.3 202.2L137.2 202.6L136.9 203.4L136.7 203.8L136.4 204.6L136.2 205.0L136.0 205.5L135.6 206.0L135.2 206.4L134.8 206.7M134.4 207.0L133.6 207.1L133.2 206.9L132.6 206.6L132.2 206.2L131.9 205.8L131.6 205.2L131.4 204.6L131.2 203.9L131.1 203.4L131.0 202.6L131.0 201.8L130.9 201.0L130.8 200.6L130.5 199.8L130.4 199.4L130.3 198.6L130.4 197.9L130.6 197.4L130.9 197.0L131.3 196.6L132.0 196.2L132.4 196.1L133.2 195.8L133.6 195.7L134.4 195.5L134.8 195.4L135.6 195.3L136.4 195.3L136.8 195.4L137.6 195.8L138.0 196.2L138.3 196.6L138.5 197.0L138.6 197.8L138.4 198.6L138.3 199.0L138.1 199.8L138.0 200.2L137.9 201.0L137.8 201.8L137.6 202.3L137.3 203.0L137.2 203.4L136.8 204.2L136.6 204.6L136.4 205.1L136.0 205.8L135.7 206.2L135.3 206.6L134.8 206.9L134.4 207.0M134.8 207.2L134.0 207.3L133.2 207.2L132.8 207.0L132.3 206.6L132.0 206.2L131.6 205.6L131.4 205.0L131.2 204.5L131.0 203.8L130.8 203.0L130.7 202.6L130.6 201.8L130.5 201.0L130.3 200.6L130.1 199.8L130.0 199.0L130.1 198.2L130.4 197.4L130.6 197.0L131.0 196.6L131.6 196.2L132.0 196.0L132.7 195.8L133.2 195.6L134.0 195.4L134.4 195.3L135.2 195.1L136.0 195.1L136.8 195.3L137.2 195.4L137.8 195.8L138.2 196.2L138.5 196.6L138.7 197.4L138.7 198.2L138.6 199.0L138.4 199.8L138.3 200.2L138.3 201.0L138.1 201.8L138.0 202.2L137.6 203.0L137.4 203.4L137.2 203.9L136.9 204.6L136.7 205.0L136.4 205.6L136.0 206.2L135.7 206.6L135.2 207.0L134.8 207.2M134.8 207.4L134.0 207.6L133.2 207.4L132.8 207.3L132.4 207.0L132.0 206.6L131.6 206.0L131.3 205.4L131.2 205.0L130.9 204.2L130.8 203.8L130.6 203.0L130.4 202.3L130.3 201.8L130.0 201.0L129.9 200.6L129.7 199.8L129.7 199.0L129.9 198.2L130.0 197.7L130.4 197.0L130.7 196.6L131.2 196.2L131.6 196.0L132.1 195.8L132.8 195.6L133.4 195.4L134.0 195.2L134.8 195.0L135.2 195.0L136.0 195.0L136.4 195.0L137.2 195.3L137.6 195.5L138.0 195.8L138.4 196.2L138.8 196.9L138.9 197.4L139.0 198.2L138.9 199.0L138.8 199.4L138.7 200.2L138.7 201.0L138.5 201.8L138.4 202.2L138.0 202.9L137.7 203.4L137.5 203.8L137.2 204.5L137.0 205.0L136.8 205.4L136.4 206.1L136.0 206.6L135.6 207.0L135.2 207.2L134.8 207.4M134.0 207.8L133.6 207.8L132.8 207.5L132.4 207.3L132.0 206.9L131.6 206.4L131.3 205.8L131.1 205.4L130.9 204.6L130.7 204.2L130.4 203.4L130.3 203.0L130.0 202.2L129.9 201.8L129.6 201.1L129.5 200.6L129.4 199.8L129.4 199.0L129.6 198.2L129.7 197.8L130.0 197.2L130.4 196.6L130.8 196.3L131.2 196.0L131.6 195.8L132.4 195.5L132.8 195.4L133.6 195.1L134.2 195.0L134.8 194.9L135.6 194.8L136.4 194.9L136.9 195.0L137.6 195.3L138.0 195.6L138.4 195.9L138.8 196.5L139.0 197.0L139.2 197.7L139.2 198.2L139.2 198.8L139.2 199.4L139.2 200.2L139.2 200.6L139.2 201.0L139.0 201.8L138.8 202.2L138.4 202.8L138.1 203.4L137.9 203.8L137.6 204.3L137.2 205.0L137.0 205.4L136.8 205.9L136.4 206.5L136.0 207.0L135.6 207.3L135.2 207.5L134.4 207.8L134.0 207.8M135.2 207.8L134.4 208.1L133.6 208.1L132.8 207.8L132.4 207.6L132.0 207.3L131.6 206.8L131.3 206.2L131.1 205.8L130.8 205.0L130.6 204.6L130.4 203.9L130.2 203.4L130.0 203.0L129.6 202.2L129.4 201.8L129.2 201.1L129.1 200.6L129.0 199.8L129.2 199.0L129.2 198.6L129.5 197.8L129.6 197.4L130.0 196.8L130.4 196.3L130.8 196.0L131.2 195.8L132.0 195.4L132.4 195.3L133.2 195.1L133.6 194.9L134.4 194.7L135.2 194.6L136.0 194.6L136.8 194.8L137.4 195.0L138.0 195.3L138.4 195.7L138.8 196.2L139.1 196.6L139.3 197.0L139.5 197.8L139.6 198.6L139.6 199.4L139.6 199.8L139.7 200.6L139.6 201.3L139.4 201.8L139.2 202.2L138.8 202.8L138.4 203.4L138.2 203.8L138.0 204.2L137.6 204.9L137.3 205.4L137.1 205.8L136.8 206.4L136.4 206.9L136.0 207.3L135.6 207.6L135.2 207.8M134.8 208.2L134.0 208.4L133.2 208.3L132.8 208.1L132.2 207.8L131.7 207.4L131.4 207.0L131.2 206.6L130.8 205.8L130.7 205.4L130.4 204.6L130.2 204.2L130.0 203.7L129.7 203.0L129.4 202.6L129.2 202.2L128.9 201.4L128.7 201.0L128.6 200.2L128.7 199.4L128.8 199.0L129.1 198.2L129.2 197.8L129.6 197.0L129.8 196.6L130.2 196.2L130.7 195.8L131.2 195.5L131.6 195.4L132.4 195.1L132.8 195.0L133.6 194.7L134.1 194.6L134.8 194.5L135.6 194.4L136.4 194.5L136.8 194.6L137.6 194.9L138.0 195.1L138.4 195.4L138.8 195.8L139.2 196.4L139.5 197.0L139.7 197.4L139.9 198.2L140.0 198.9L140.1 199.4L140.2 200.2L140.2 201.0L140.0 201.5L139.6 202.2L139.4 202.6L139.1 203.0L138.8 203.5L138.4 204.1L138.1 204.6L137.9 205.0L137.6 205.5L137.2 206.2L137.0 206.6L136.7 207.0L136.3 207.4L135.8 207.8L135.2 208.1L134.8 208.2M134.4 208.6L133.6 208.6L133.2 208.6L132.4 208.3L132.0 208.1L131.6 207.7L131.2 207.3L130.9 206.6L130.7 206.2L130.4 205.4L130.3 205.0L130.0 204.3L129.7 203.8L129.5 203.4L129.2 202.9L128.8 202.3L128.6 201.8L128.4 201.3L128.3 200.6L128.3 199.8L128.4 199.4L128.6 198.6L128.8 198.1L129.1 197.4L129.3 197.0L129.6 196.5L130.0 196.1L130.4 195.7L131.0 195.4L131.6 195.1L132.0 195.0L132.8 194.7L133.2 194.6L134.0 194.4L134.8 194.3L135.6 194.2L136.4 194.3L137.2 194.6L137.6 194.7L138.1 195.0L138.7 195.4L139.0 195.8L139.4 196.2L139.6 196.6L140.0 197.4L140.2 197.8L140.4 198.5L140.5 199.0L140.7 199.8L140.8 200.6L140.5 201.4L140.3 201.8L140.0 202.3L139.6 203.0L139.3 203.4L139.0 203.8L138.8 204.2L138.4 204.8L138.0 205.4L137.8 205.8L137.6 206.2L137.2 206.8L136.8 207.3L136.4 207.7L136.0 208.0L135.6 208.2L134.8 208.5L134.4 208.6M135.2 208.7L134.4 208.9L133.6 208.9L132.8 208.8L132.2 208.6L131.6 208.2L131.2 207.9L130.9 207.4L130.6 207.0L130.4 206.3L130.2 205.8L130.0 205.0L129.8 204.6L129.6 204.2L129.2 203.6L128.8 203.0L128.5 202.6L128.3 202.2L128.0 201.4L127.9 201.0L127.9 200.2L128.0 199.4L128.1 199.0L128.4 198.3L128.6 197.8L128.8 197.4L129.2 196.6L129.5 196.2L129.9 195.8L130.4 195.4L130.8 195.2L131.3 195.0L132.0 194.7L132.4 194.6L133.2 194.3L133.7 194.2L134.4 194.1L135.2 194.0L136.0 194.1L136.7 194.2L137.2 194.3L137.8 194.6L138.4 194.9L138.8 195.2L139.2 195.6L139.6 196.1L139.9 196.6L140.2 197.0L140.4 197.4L140.8 198.2L141.0 198.6L141.2 199.3L141.3 199.8L141.3 200.6L141.2 201.0L140.8 201.8L140.6 202.2L140.3 202.6L140.0 203.0L139.6 203.7L139.2 204.2L139.0 204.6L138.7 205.0L138.4 205.5L138.0 206.2L137.7 206.6L137.4 207.0L137.1 207.4L136.7 207.8L136.1 208.2L135.6 208.5L135.2 208.7M134.8 209.1L134.0 209.3L133.2 209.2L132.4 209.0L132.0 208.9L131.5 208.6L130.9 208.2L130.6 207.8L130.4 207.4L130.1 206.6L130.0 206.2L129.8 205.4L129.6 205.0L129.2 204.3L128.8 203.8L128.5 203.4L128.2 203.0L128.0 202.6L127.7 201.8L127.5 201.4L127.4 200.6L127.5 199.8L127.6 199.3L127.9 198.6L128.1 198.2L128.4 197.5L128.6 197.0L128.9 196.6L129.2 196.1L129.6 195.7L130.0 195.4L130.6 195.0L131.2 194.7L131.6 194.6L132.4 194.3L132.8 194.2L133.6 193.9L134.3 193.8L134.8 193.8L135.6 193.8L136.0 193.8L136.8 194.0L137.4 194.2L138.0 194.4L138.4 194.7L138.9 195.0L139.3 195.4L139.7 195.8L140.0 196.2L140.4 196.7L140.8 197.3L141.1 197.8L141.3 198.2L141.6 198.9L141.8 199.4L141.8 200.2L141.7 201.0L141.5 201.4L141.2 201.9L140.8 202.6L140.5 203.0L140.3 203.4L140.0 203.8L139.6 204.4L139.2 205.0L139.0 205.4L138.7 205.8L138.4 206.2L138.0 206.8L137.6 207.3L137.2 207.7L136.8 208.1L136.4 208.4L136.0 208.6L135.2 209.0L134.8 209.1M134.8 209.4L134.0 209.6L133.2 209.6L132.4 209.4L132.0 209.3L131.3 209.0L130.8 208.7L130.4 208.3L130.1 207.8L129.9 207.4L129.6 206.6L129.5 206.2L129.3 205.4L129.1 205.0L128.8 204.5L128.4 204.0L128.0 203.5L127.6 203.0L127.4 202.6L127.2 201.9L127.1 201.4L126.9 200.6L127.0 199.8L127.2 199.0L127.4 198.6L127.6 198.2L128.0 197.4L128.2 197.0L128.4 196.6L128.8 196.1L129.2 195.6L129.6 195.2L130.0 195.0L130.7 194.6L131.2 194.4L131.7 194.2L132.4 193.9L132.8 193.8L133.6 193.6L134.4 193.5L135.2 193.5L136.0 193.6L136.8 193.7L137.2 193.9L138.0 194.2L138.4 194.4L138.8 194.6L139.3 195.0L139.8 195.4L140.1 195.8L140.5 196.2L140.8 196.6L141.2 197.1L141.6 197.7L141.9 198.2L142.1 198.6L142.3 199.4L142.3 200.2L142.2 201.0L142.0 201.4L141.6 202.1L141.3 202.6L141.0 203.0L140.8 203.4L140.4 204.0L140.1 204.6L139.8 205.0L139.5 205.4L139.2 205.8L138.8 206.3L138.4 206.8L138.0 207.3L137.6 207.8L137.2 208.1L136.8 208.5L136.4 208.7L135.9 209.0L135.2 209.3L134.8 209.4M134.4 209.9L133.6 209.9L132.8 209.9L132.4 209.8L131.6 209.6L131.1 209.4L130.5 209.0L130.1 208.6L129.8 208.2L129.5 207.8L129.2 207.0L129.1 206.6L128.9 205.8L128.7 205.4L128.4 204.9L128.0 204.4L127.6 204.0L127.2 203.4L127.0 203.0L126.8 202.5L126.6 201.8L126.4 201.0L126.4 200.6L126.4 199.8L126.5 199.4L126.8 198.6L127.0 198.2L127.3 197.8L127.6 197.2L127.9 196.6L128.2 196.2L128.5 195.8L128.8 195.4L129.3 195.0L129.9 194.6L130.4 194.3L130.8 194.1L131.6 193.8L132.0 193.6L132.7 193.4L133.2 193.2L134.0 193.1L134.8 193.1L135.6 193.2L136.4 193.3L136.8 193.4L137.6 193.7L138.0 193.8L138.8 194.2L139.2 194.5L139.6 194.8L140.0 195.1L140.4 195.5L140.8 195.9L141.2 196.4L141.6 196.9L142.0 197.4L142.2 197.8L142.4 198.2L142.7 199.0L142.8 199.4L142.9 200.2L142.8 200.7L142.6 201.4L142.3 201.8L142.0 202.4L141.6 203.0L141.3 203.4L141.1 203.8L140.8 204.3L140.4 205.0L140.1 205.4L139.8 205.8L139.5 206.2L139.1 206.6L138.8 207.0L138.4 207.4L138.0 207.9L137.6 208.2L137.2 208.6L136.6 209.0L136.0 209.3L135.6 209.5L134.8 209.8L134.4 209.9M134.4 210.2L133.6 210.3L132.8 210.3L132.2 210.2L131.6 210.1L130.9 209.8L130.4 209.5L130.0 209.2L129.6 208.8L129.2 208.3L128.9 207.8L128.8 207.4L128.5 206.6L128.3 206.2L128.0 205.6L127.6 205.0L127.3 204.6L127.0 204.2L126.7 203.8L126.4 203.3L126.1 202.6L126.0 202.1L125.8 201.4L125.7 200.6L125.6 199.8L125.8 199.0L126.0 198.6L126.4 198.0L126.8 197.4L127.1 197.0L127.3 196.6L127.6 196.1L128.0 195.5L128.4 195.1L128.8 194.8L129.2 194.5L129.6 194.2L130.4 193.8L130.8 193.6L131.3 193.4L132.0 193.1L132.4 192.9L133.2 192.7L134.0 192.6L134.8 192.7L135.6 192.8L136.4 193.0L136.8 193.1L137.6 193.3L138.0 193.5L138.8 193.8L139.2 194.0L139.6 194.2L140.1 194.6L140.6 195.0L141.0 195.4L141.4 195.8L141.7 196.2L142.0 196.6L142.4 197.1L142.8 197.8L143.0 198.2L143.2 198.6L143.4 199.4L143.4 200.2L143.3 201.0L143.2 201.4L142.8 202.2L142.5 202.6L142.3 203.0L142.0 203.5L141.6 204.2L141.4 204.6L141.1 205.0L140.8 205.4L140.4 205.9L140.0 206.3L139.6 206.8L139.2 207.2L138.8 207.6L138.4 208.0L138.0 208.4L137.6 208.7L137.2 209.0L136.6 209.4L136.0 209.7L135.6 209.9L134.8 210.2L134.4 210.2M134.8 210.6L134.0 210.8L133.2 210.8L132.4 210.7L131.6 210.6L131.2 210.5L130.5 210.2L130.0 209.9L129.6 209.5L129.2 209.2L128.8 208.7L128.5 208.2L128.3 207.8L128.0 207.3L127.7 206.6L127.4 206.2L127.2 205.8L126.8 205.3L126.4 204.8L126.0 204.2L125.8 203.8L125.6 203.4L125.2 202.6L125.1 202.2L124.9 201.4L124.8 200.9L124.7 200.2L124.8 199.4L124.9 199.0L125.2 198.3L125.5 197.8L125.9 197.4L126.2 197.0L126.4 196.6L126.8 196.0L127.2 195.4L127.5 195.0L128.0 194.6L128.4 194.3L128.8 194.0L129.2 193.8L129.9 193.4L130.4 193.1L130.8 192.9L131.6 192.6L132.0 192.4L132.7 192.2L133.2 192.1L134.0 192.0L134.8 192.1L135.3 192.2L136.0 192.4L136.8 192.6L137.2 192.7L138.0 193.0L138.4 193.1L139.1 193.4L139.6 193.6L140.0 193.8L140.6 194.2L141.1 194.6L141.5 195.0L141.9 195.4L142.2 195.8L142.5 196.2L142.8 196.7L143.2 197.3L143.5 197.8L143.7 198.2L144.0 199.0L144.0 199.4L144.1 200.2L144.0 201.0L144.0 201.4L143.6 202.2L143.4 202.6L143.2 203.0L142.8 203.7L142.5 204.2L142.3 204.6L142.0 205.0L141.6 205.5L141.2 205.9L140.8 206.4L140.4 206.8L140.0 207.1L139.6 207.5L139.2 207.9L138.8 208.3L138.4 208.7L138.0 209.0L137.4 209.4L136.8 209.8L136.4 210.0L136.0 210.2L135.2 210.5L134.8 210.6M135.2 211.1L134.4 211.3L133.6 211.4L132.8 211.4L132.0 211.3L131.2 211.2L130.8 211.0L130.0 210.6L129.6 210.3L129.2 210.0L128.8 209.6L128.4 209.2L128.0 208.7L127.6 208.2L127.4 207.8L127.1 207.4L126.8 207.0L126.4 206.4L126.0 205.9L125.7 205.4L125.4 205.0L125.1 204.6L124.8 204.2L124.4 203.6L124.1 203.0L123.9 202.6L123.7 201.8L123.6 201.4L123.5 200.6L123.5 199.8L123.6 199.1L123.7 198.6L124.0 198.0L124.4 197.4L124.7 197.0L125.1 196.6L125.4 196.2L125.7 195.8L126.0 195.4L126.4 194.9L126.8 194.4L127.2 194.1L127.6 193.8L128.2 193.4L128.8 193.1L129.2 192.9L129.8 192.6L130.4 192.3L130.8 192.1L131.4 191.8L132.0 191.6L132.7 191.4L133.2 191.3L134.0 191.3L134.8 191.4L135.2 191.4L136.0 191.6L136.5 191.8L137.2 192.0L137.8 192.2L138.4 192.4L139.0 192.6L139.6 192.8L140.1 193.0L140.8 193.4L141.2 193.6L141.6 193.9L142.0 194.2L142.4 194.7L142.8 195.3L143.2 195.8L143.4 196.2L143.7 196.6L144.0 197.2L144.3 197.8L144.5 198.2L144.8 199.0L144.9 199.4L145.1 200.2L145.1 201.0L144.9 201.8L144.8 202.2L144.5 203.0L144.3 203.4L144.0 203.9L143.6 204.6L143.3 205.0L143.0 205.4L142.6 205.8L142.2 206.2L141.7 206.6L141.2 207.0L140.8 207.4L140.4 207.7L140.0 208.1L139.6 208.5L139.2 208.8L138.8 209.2L138.4 209.5L137.9 209.8L137.2 210.2L136.8 210.4L136.4 210.6L135.6 210.9L135.2 211.1M134.0 212.3L133.2 212.4L132.4 212.4L131.6 212.3L131.2 212.2L130.4 211.8L130.0 211.6L129.6 211.4L129.1 211.0L128.6 210.6L128.1 210.2L127.7 209.8L127.3 209.4L126.9 209.0L126.6 208.6L126.2 208.2L125.8 207.8L125.4 207.4L125.1 207.0L124.7 206.6L124.3 206.2L124.0 205.8L123.6 205.4L123.1 205.0L122.7 204.6L122.2 204.2L121.8 203.8L121.6 203.4L121.4 202.6L121.5 201.8L121.5 201.0L121.5 200.2L121.6 199.4L121.7 199.0L121.9 198.2L122.1 197.8L122.4 197.3L122.8 196.8L123.2 196.3L123.6 195.9L124.0 195.4L124.4 195.0L124.7 194.6L125.1 194.2L125.5 193.8L125.9 193.4L126.4 193.1L126.8 192.8L127.2 192.6L128.0 192.2L128.4 192.0L128.9 191.8L129.6 191.5L130.0 191.3L130.5 191.0L131.2 190.7L131.6 190.5L132.4 190.3L133.1 190.2L133.6 190.2L134.4 190.2L134.8 190.2L135.6 190.4L136.4 190.6L136.8 190.7L137.6 190.9L138.0 191.0L138.8 191.3L139.2 191.4L140.0 191.6L140.4 191.8L141.2 192.1L141.6 192.3L142.1 192.6L142.6 193.0L143.0 193.4L143.4 193.8L143.7 194.2L144.0 194.7L144.4 195.4L144.6 195.8L144.8 196.2L145.2 196.9L145.5 197.4L145.7 197.8L146.0 198.5L146.2 199.0L146.4 199.7L146.5 200.2L146.5 201.0L146.4 201.8L146.3 202.2L146.0 203.0L145.8 203.4L145.6 203.9L145.2 204.6L145.0 205.0L144.8 205.4L144.4 205.9L144.0 206.4L143.6 206.7L143.2 207.1L142.7 207.4L142.1 207.8L141.6 208.2L141.2 208.5L140.8 208.8L140.4 209.2L140.0 209.5L139.6 209.8L139.0 210.2L138.4 210.6L138.0 210.8L137.6 211.0L136.8 211.4L136.4 211.6L135.8 211.8L135.2 212.0L134.4 212.2L134.0 212.3M134.8 212.7L134.0 212.9L133.2 212.9L132.4 213.0L131.6 212.9L130.8 212.6L130.4 212.5L129.9 212.2L129.3 211.8L128.8 211.4L128.4 211.1L128.0 210.8L127.6 210.4L127.2 210.1L126.8 209.7L126.4 209.3L126.0 209.0L125.6 208.6L125.1 208.2L124.6 207.8L124.2 207.4L123.7 207.0L123.2 206.6L122.8 206.3L122.4 206.0L122.0 205.8L121.3 205.4L120.8 205.2L120.4 205.0L119.7 204.6L119.3 204.2L119.1 203.8L119.1 203.0L119.3 202.6L119.5 201.8L119.7 201.4L119.8 200.6L119.9 199.8L120.0 199.4L120.4 198.6L120.6 198.2L120.8 197.8L121.2 197.3L121.6 196.7L122.0 196.3L122.4 195.8L122.8 195.4L123.2 195.0L123.6 194.6L123.9 194.2L124.3 193.8L124.7 193.4L125.2 193.0L125.6 192.7L126.0 192.4L126.4 192.2L127.2 191.8L127.6 191.6L128.2 191.4L128.8 191.1L129.2 190.9L129.9 190.6L130.4 190.3L130.8 190.1L131.6 189.8L132.0 189.7L132.8 189.5L133.6 189.5L134.4 189.5L135.2 189.6L136.0 189.7L136.4 189.8L137.2 190.0L137.9 190.2L138.4 190.3L139.2 190.5L139.6 190.7L140.4 190.9L140.8 191.1L141.5 191.4L142.0 191.7L142.4 191.9L142.8 192.2L143.3 192.6L143.8 193.0L144.1 193.4L144.4 193.8L144.8 194.3L145.2 195.0L145.4 195.4L145.6 195.8L146.0 196.6L146.2 197.0L146.4 197.4L146.8 198.2L146.9 198.6L147.2 199.4L147.3 199.8L147.4 200.6L147.3 201.4L147.2 201.9L147.0 202.6L146.8 203.0L146.4 203.8L146.2 204.2L146.0 204.6L145.6 205.4L145.4 205.8L145.1 206.2L144.8 206.6L144.4 207.0L144.0 207.4L143.5 207.8L143.0 208.2L142.4 208.6L142.0 208.9L141.6 209.2L141.2 209.5L140.8 209.8L140.2 210.2L139.6 210.6L139.2 210.8L138.8 211.0L138.1 211.4L137.6 211.6L137.2 211.8L136.4 212.2L136.0 212.3L135.2 212.6L134.8 212.7M134.8 213.5L134.0 213.6L133.2 213.7L132.4 213.8L131.6 213.7L130.8 213.5L130.4 213.3L129.8 213.0L129.2 212.6L128.8 212.3L128.4 212.0L128.0 211.7L127.6 211.4L127.1 211.0L126.6 210.6L126.1 210.2L125.6 209.8L125.2 209.5L124.8 209.3L124.4 209.0L123.7 208.6L123.2 208.4L122.8 208.1L122.1 207.8L121.6 207.6L121.0 207.4L120.4 207.3L119.6 207.3L118.8 207.3L118.0 207.3L117.2 207.1L116.8 207.0L116.0 206.7L115.6 206.5L114.9 206.2L114.4 205.8L114.0 205.4L113.7 205.0L113.4 204.6L113.2 204.2L112.9 203.4L112.8 203.0L112.7 202.2L112.8 201.7L113.1 201.0L113.4 200.6L113.8 200.2L114.4 199.9L114.8 199.7L115.5 199.4L116.0 199.2L116.6 199.0L117.2 198.7L117.6 198.5L118.2 198.2L118.7 197.8L119.2 197.4L119.6 197.0L120.0 196.6L120.4 196.2L120.8 195.8L121.2 195.4L121.6 195.1L122.0 194.7L122.4 194.3L122.8 193.8L123.2 193.4L123.6 193.0L124.0 192.7L124.4 192.3L124.8 192.0L125.2 191.7L125.7 191.4L126.4 191.0L126.8 190.9L127.5 190.6L128.0 190.4L128.5 190.2L129.2 189.9L129.6 189.7L130.2 189.4L130.8 189.1L131.2 189.0L132.0 188.7L132.8 188.6L133.2 188.6L134.0 188.5L134.8 188.5L135.3 188.6L136.0 188.7L136.8 188.8L137.6 189.0L138.0 189.1L138.8 189.3L139.3 189.4L140.0 189.6L140.6 189.8L141.2 190.1L141.6 190.3L142.2 190.6L142.8 190.9L143.2 191.2L143.6 191.5L144.0 191.8L144.4 192.2L144.9 192.6L145.3 193.0L145.6 193.4L146.0 193.9L146.4 194.5L146.7 195.0L146.9 195.4L147.2 196.2L147.4 196.6L147.6 197.2L147.8 197.8L148.0 198.3L148.2 199.0L148.4 199.8L148.4 200.4L148.4 200.9L148.4 201.4L148.2 202.2L148.0 202.7L147.7 203.4L147.5 203.8L147.2 204.3L146.8 205.0L146.6 205.4L146.4 205.9L146.0 206.6L145.7 207.0L145.4 207.4L145.1 207.8L144.7 208.2L144.3 208.6L143.8 209.0L143.3 209.4L142.8 209.8L142.4 210.1L142.0 210.3L141.5 210.6L140.8 211.0L140.4 211.2L140.0 211.4L139.3 211.8L138.8 212.0L138.4 212.2L137.6 212.6L137.2 212.8L136.5 213.0L136.0 213.2L135.2 213.4L134.8 213.5M134.0 214.2L133.2 214.4L132.4 214.4L131.6 214.3L131.0 214.2L130.4 214.0L130.0 213.8L129.3 213.4L128.8 213.1L128.4 212.8L128.0 212.5L127.6 212.2L127.1 211.8L126.6 211.4L126.1 211.0L125.6 210.7L125.2 210.4L124.8 210.2L124.0 209.8L123.6 209.6L123.0 209.4L122.4 209.2L121.6 209.1L120.8 209.1L120.0 209.2L119.2 209.4L118.8 209.4L118.0 209.4L117.6 209.4L116.8 209.2L116.3 209.0L115.6 208.8L115.2 208.6L114.5 208.2L114.0 207.9L113.6 207.5L113.2 207.2L112.8 206.7L112.4 206.2L112.2 205.8L111.9 205.4L111.6 204.8L111.3 204.2L111.1 203.8L110.8 203.0L110.6 202.6L110.5 201.8L110.4 201.0L110.4 200.6L110.3 199.8L110.3 199.0L110.4 198.2L110.5 197.8L110.8 197.4L111.4 197.0L112.0 196.9L112.8 196.9L113.3 197.0L114.0 197.2L114.8 197.4L115.6 197.4L116.4 197.2L117.2 197.0L117.6 196.9L118.2 196.6L118.8 196.2L119.2 195.9L119.6 195.6L120.0 195.3L120.4 195.0L120.8 194.6L121.3 194.2L121.7 193.8L122.1 193.4L122.5 193.0L122.9 192.6L123.3 192.2L123.8 191.8L124.3 191.4L124.8 191.0L125.2 190.7L125.6 190.5L126.2 190.2L126.8 189.9L127.2 189.8L128.0 189.5L128.4 189.3L129.0 189.0L129.6 188.7L130.0 188.5L130.8 188.2L131.2 188.1L132.0 187.9L132.8 187.8L133.2 187.8L134.0 187.7L134.8 187.7L135.6 187.8L136.0 187.8L136.8 188.0L137.6 188.1L138.0 188.2L138.8 188.4L139.6 188.6L140.0 188.7L140.8 189.0L141.2 189.1L141.8 189.4L142.4 189.7L142.8 190.0L143.2 190.2L143.7 190.6L144.3 191.0L144.8 191.4L145.2 191.7L145.6 192.1L146.0 192.4L146.4 192.8L146.8 193.3L147.2 193.8L147.4 194.2L147.6 194.6L148.0 195.4L148.1 195.8L148.4 196.5L148.6 197.0L148.8 197.8L148.9 198.2L149.1 199.0L149.2 199.8L149.2 200.2L149.2 201.0L149.2 201.4L149.0 202.2L148.8 202.9L148.6 203.4L148.4 203.8L148.0 204.5L147.7 205.0L147.5 205.4L147.2 206.1L146.9 206.6L146.7 207.0L146.4 207.5L146.0 208.0L145.6 208.5L145.2 208.9L144.8 209.3L144.4 209.7L144.0 210.1L143.6 210.4L143.2 210.6L142.6 211.0L142.0 211.3L141.6 211.5L141.0 211.8L140.4 212.1L140.0 212.3L139.4 212.6L138.8 212.9L138.4 213.1L137.6 213.4L137.2 213.5L136.4 213.8L136.0 213.9L135.2 214.0L134.4 214.2L134.0 214.2M109.6 196.2L110.0 195.7L110.4 195.4L111.2 195.0L111.6 194.9L112.4 194.9L113.2 194.9L114.0 195.0L114.4 195.1L115.2 195.3L115.6 195.4L116.4 195.5L117.2 195.5L117.6 195.4L118.4 195.0L118.8 194.8L119.2 194.6L119.7 194.2L120.3 193.8L120.8 193.4L121.2 193.0L121.6 192.6L122.0 192.2L122.4 191.9L122.8 191.5L123.2 191.2L123.6 190.8L124.0 190.5L124.5 190.2L125.1 189.8L125.6 189.5L126.0 189.3L126.6 189.0L127.2 188.7L127.6 188.6L128.4 188.2L128.8 188.0L129.4 187.8L130.0 187.5L130.4 187.4L131.2 187.2L132.0 187.0L132.4 187.0L133.2 186.9L134.0 186.9L134.8 186.9L135.6 186.9L136.3 187.0L136.8 187.1L137.6 187.2L138.4 187.4L138.8 187.5L139.6 187.7L140.1 187.8L140.8 188.0L141.3 188.2L142.0 188.5L142.4 188.7L142.9 189.0L143.5 189.4L144.0 189.7L144.4 190.0L144.8 190.3L145.2 190.6L145.8 191.0L146.3 191.4L146.8 191.8L147.2 192.2L147.6 192.6L147.9 193.0L148.1 193.4L148.4 193.9L148.7 194.6L148.9 195.0L149.2 195.7L149.4 196.2L149.6 197.0L149.7 197.4L149.9 198.2L150.0 199.0L150.0 199.4L150.1 200.2L150.1 201.0L150.0 201.8L149.9 202.2L149.7 203.0L149.6 203.4L149.2 204.2L149.0 204.6L148.8 205.0L148.4 205.8L148.2 206.2L148.0 206.7L147.6 207.4L147.4 207.8L147.1 208.2L146.8 208.6L146.4 209.1L146.0 209.5L145.6 209.9L145.2 210.3L144.8 210.6L144.3 211.0L143.7 211.4L143.2 211.7L142.8 211.9L142.2 212.2L141.6 212.5L141.2 212.6L140.5 213.0L140.0 213.2L139.6 213.4L138.8 213.8L138.4 213.9L137.6 214.2L137.2 214.3L136.4 214.5L135.7 214.6L135.2 214.7L134.4 214.8L133.6 214.9L132.8 215.0L132.4 215.0L131.9 215.0L131.2 214.9L130.4 214.7L130.0 214.6L129.3 214.2L128.8 213.9L128.4 213.7L128.0 213.4L127.5 213.0L127.0 212.6L126.4 212.2L126.0 211.9L125.6 211.6L125.2 211.4L124.4 211.0L124.0 210.8L123.5 210.6L122.8 210.4L122.0 210.3L121.2 210.4L120.5 210.6L120.0 210.8L119.2 211.0L118.8 211.0L118.0 211.1L117.2 211.1L116.8 211.0L116.0 210.8L115.4 210.6L114.8 210.3L114.4 210.0L114.0 209.8L113.5 209.4L113.0 209.0L112.6 208.6L112.1 208.2L111.7 207.8L111.4 207.4L111.1 207.0L110.8 206.5L110.4 205.8L110.3 205.4L110.0 204.8L109.7 204.2" fill="none" stroke="#262626" stroke-width="0.42"/>
<rect x="45.40" y="176.20" width="58.70" height="56.50" stroke="#1a1a1a" stroke-width="1.0" fill="none"/>
<path d="M42.6 232.7H45.4M43.6 228.5H45.4M43.6 225.9H45.4M43.6 224.2H45.4M43.6 222.8H45.4M43.6 221.7H45.4M43.6 220.7H45.4M43.6 220.0H45.4M43.6 219.3H45.4M42.6 218.6H45.4M43.6 214.3H45.4M43.6 211.8H45.4M43.6 210.1H45.4M43.6 208.7H45.4M43.6 207.6H45.4M43.6 206.6H45.4M43.6 205.9H45.4M43.6 205.2H45.4M42.6 204.4H45.4M43.6 200.2H45.4M43.6 197.7H45.4M43.6 196.0H45.4M43.6 194.6H45.4M43.6 193.4H45.4M43.6 192.4H45.4M43.6 191.7H45.4M43.6 191.0H45.4M42.6 190.3H45.4M43.6 186.1H45.4M43.6 183.5H45.4M43.6 181.8H45.4M43.6 180.4H45.4M43.6 179.3H45.4M43.6 178.3H45.4M43.6 177.6H45.4M43.6 176.9H45.4M45.4 232.7V235.5M49.8 232.7V234.5M52.4 232.7V234.5M54.2 232.7V234.5M55.7 232.7V234.5M56.8 232.7V234.5M57.9 232.7V234.5M58.6 232.7V234.5M59.3 232.7V234.5M60.1 232.7V235.5M64.5 232.7V234.5M67.1 232.7V234.5M68.9 232.7V234.5M70.3 232.7V234.5M71.5 232.7V234.5M72.5 232.7V234.5M73.3 232.7V234.5M74.0 232.7V234.5M74.8 232.7V235.5M79.2 232.7V234.5M81.8 232.7V234.5M83.6 232.7V234.5M85.0 232.7V234.5M86.2 232.7V234.5M87.2 232.7V234.5M88.0 232.7V234.5M88.7 232.7V234.5M89.4 232.7V235.5M93.8 232.7V234.5M96.5 232.7V234.5M98.2 232.7V234.5M99.7 232.7V234.5M100.9 232.7V234.5M101.9 232.7V234.5M102.6 232.7V234.5M103.4 232.7V234.5" stroke="#000" stroke-width="0.95" fill="none"/>
<rect x="109.60" y="176.20" width="58.30" height="56.50" stroke="#1a1a1a" stroke-width="1.0" fill="none"/>
<path d="M106.8 232.7H109.6M107.8 228.5H109.6M107.8 225.9H109.6M107.8 224.2H109.6M107.8 222.8H109.6M107.8 221.7H109.6M107.8 220.7H109.6M107.8 220.0H109.6M107.8 219.3H109.6M106.8 218.6H109.6M107.8 214.3H109.6M107.8 211.8H109.6M107.8 210.1H109.6M107.8 208.7H109.6M107.8 207.6H109.6M107.8 206.6H109.6M107.8 205.9H109.6M107.8 205.2H109.6M106.8 204.4H109.6M107.8 200.2H109.6M107.8 197.7H109.6M107.8 196.0H109.6M107.8 194.6H109.6M107.8 193.4H109.6M107.8 192.4H109.6M107.8 191.7H109.6M107.8 191.0H109.6M106.8 190.3H109.6M107.8 186.1H109.6M107.8 183.5H109.6M107.8 181.8H109.6M107.8 180.4H109.6M107.8 179.3H109.6M107.8 178.3H109.6M107.8 177.6H109.6M107.8 176.9H109.6M109.6 232.7V235.5M114.0 232.7V234.5M116.6 232.7V234.5M118.3 232.7V234.5M119.8 232.7V234.5M121.0 232.7V234.5M122.0 232.7V234.5M122.7 232.7V234.5M123.4 232.7V234.5M124.2 232.7V235.5M128.5 232.7V234.5M131.2 232.7V234.5M132.9 232.7V234.5M134.4 232.7V234.5M135.5 232.7V234.5M136.6 232.7V234.5M137.3 232.7V234.5M138.0 232.7V234.5M138.8 232.7V235.5M143.1 232.7V234.5M145.7 232.7V234.5M147.5 232.7V234.5M149.0 232.7V234.5M150.1 232.7V234.5M151.1 232.7V234.5M151.9 232.7V234.5M152.6 232.7V234.5M153.3 232.7V235.5M157.7 232.7V234.5M160.3 232.7V234.5M162.1 232.7V234.5M163.5 232.7V234.5M164.7 232.7V234.5M165.7 232.7V234.5M166.4 232.7V234.5M167.2 232.7V234.5" stroke="#000" stroke-width="0.95" fill="none"/>
<rect x="72.30" y="186.50" width="29.00" height="25.20" stroke="#222" stroke-width="0.95" fill="none"/>
<rect x="137.20" y="186.30" width="28.60" height="25.20" stroke="#222" stroke-width="0.95" fill="none"/>
<text x="83.90" y="211.00" font-size="6.9" textLength="14.00" lengthAdjust="spacingAndGlyphs">36.5</text>
<text x="148.50" y="210.80" font-size="6.9" textLength="14.00" lengthAdjust="spacingAndGlyphs">17.8</text>
<text x="36.50" y="237.60" font-size="9.2" textLength="22.00" lengthAdjust="spacingAndGlyphs" transform="rotate(-90 36.50 237.60)">CD11c</text>
<line x1="33.00" y1="212.00" x2="33.00" y2="196.00" stroke="#1c1c1c" stroke-width="1.1"/>
<text x="45.80" y="248.20" font-size="9.2" textLength="12.20" lengthAdjust="spacingAndGlyphs">YAe</text>
<line x1="60.60" y1="245.20" x2="77.90" y2="245.20" stroke="#1c1c1c" stroke-width="1.1"/>
<path d="M81.60,245.20 L77.40,243.10 L77.40,247.30 Z" fill="#1c1c1c"/>
<text x="328.00" y="279.80" font-size="8.6" textLength="91.90" lengthAdjust="spacingAndGlyphs">Colon Lamina Propria</text>
<path d="M300.1 330.0h0.7v0.7h-0.7zM279.8 323.2h0.7v0.7h-0.7zM286.5 333.5h0.7v0.7h-0.7zM283.3 337.6h0.7v0.7h-0.7zM288.9 329.0h0.7v0.7h-0.7zM279.5 334.5h0.7v0.7h-0.7zM293.1 336.3h0.7v0.7h-0.7zM275.5 332.3h0.7v0.7h-0.7zM294.7 341.1h0.7v0.7h-0.7zM285.9 331.8h0.7v0.7h-0.7zM295.1 331.2h0.7v0.7h-0.7zM294.6 341.0h0.7v0.7h-0.7zM292.0 334.1h0.7v0.7h-0.7zM291.8 330.4h0.7v0.7h-0.7zM284.9 332.6h0.7v0.7h-0.7zM284.8 333.1h0.7v0.7h-0.7zM285.1 333.5h0.7v0.7h-0.7zM287.8 335.1h0.7v0.7h-0.7zM291.1 341.2h0.7v0.7h-0.7zM276.7 344.5h0.7v0.7h-0.7zM283.6 329.5h0.7v0.7h-0.7zM285.8 335.8h0.7v0.7h-0.7zM293.9 327.7h0.7v0.7h-0.7zM288.8 335.1h0.7v0.7h-0.7zM272.5 332.8h0.7v0.7h-0.7zM292.5 337.1h0.7v0.7h-0.7zM296.1 335.3h0.7v0.7h-0.7zM290.2 334.8h0.7v0.7h-0.7zM295.3 328.4h0.7v0.7h-0.7zM286.4 337.2h0.7v0.7h-0.7zM276.5 344.6h0.7v0.7h-0.7zM280.8 336.3h0.7v0.7h-0.7zM302.6 326.5h0.7v0.7h-0.7zM284.9 343.6h0.7v0.7h-0.7zM278.1 335.1h0.7v0.7h-0.7zM291.6 336.1h0.7v0.7h-0.7zM292.1 335.6h0.7v0.7h-0.7zM298.7 337.1h0.7v0.7h-0.7zM290.7 330.5h0.7v0.7h-0.7zM279.0 327.3h0.7v0.7h-0.7zM290.0 324.8h0.7v0.7h-0.7zM296.2 342.1h0.7v0.7h-0.7zM277.9 333.9h0.7v0.7h-0.7zM284.4 340.0h0.7v0.7h-0.7zM280.2 336.2h0.7v0.7h-0.7zM282.6 334.9h0.7v0.7h-0.7zM295.7 327.7h0.7v0.7h-0.7zM287.9 336.2h0.7v0.7h-0.7zM292.0 327.1h0.7v0.7h-0.7zM296.2 334.8h0.7v0.7h-0.7zM293.8 333.5h0.7v0.7h-0.7zM273.5 335.3h0.7v0.7h-0.7zM293.4 333.5h0.7v0.7h-0.7zM288.9 343.8h0.7v0.7h-0.7zM304.0 330.3h0.7v0.7h-0.7zM299.4 321.4h0.7v0.7h-0.7zM272.3 343.4h0.7v0.7h-0.7zM285.7 338.3h0.7v0.7h-0.7zM290.9 333.5h0.7v0.7h-0.7zM292.5 334.3h0.7v0.7h-0.7zM275.4 339.2h0.7v0.7h-0.7zM290.8 343.5h0.7v0.7h-0.7zM278.3 337.4h0.7v0.7h-0.7zM283.5 335.2h0.7v0.7h-0.7zM300.3 333.4h0.7v0.7h-0.7zM283.6 336.7h0.7v0.7h-0.7zM291.6 328.6h0.7v0.7h-0.7zM287.0 343.0h0.7v0.7h-0.7zM293.6 333.0h0.7v0.7h-0.7zM283.1 335.2h0.7v0.7h-0.7zM276.2 342.8h0.7v0.7h-0.7zM289.8 335.0h0.7v0.7h-0.7zM276.0 334.2h0.7v0.7h-0.7zM291.3 335.2h0.7v0.7h-0.7zM283.8 338.5h0.7v0.7h-0.7zM293.4 329.8h0.7v0.7h-0.7zM281.8 331.9h0.7v0.7h-0.7zM279.1 341.2h0.7v0.7h-0.7zM291.4 335.6h0.7v0.7h-0.7zM276.6 332.4h0.7v0.7h-0.7zM285.9 333.1h0.7v0.7h-0.7zM287.0 331.4h0.7v0.7h-0.7zM294.4 342.3h0.7v0.7h-0.7zM301.0 339.6h0.7v0.7h-0.7zM288.7 339.3h0.7v0.7h-0.7zM285.3 340.2h0.7v0.7h-0.7zM283.4 333.4h0.7v0.7h-0.7zM282.9 339.7h0.7v0.7h-0.7zM289.4 335.3h0.7v0.7h-0.7zM278.4 338.0h0.7v0.7h-0.7zM277.8 345.1h0.7v0.7h-0.7zM286.2 336.2h0.7v0.7h-0.7zM284.1 327.6h0.7v0.7h-0.7zM276.4 337.7h0.7v0.7h-0.7zM297.1 326.5h0.7v0.7h-0.7zM281.5 336.2h0.7v0.7h-0.7zM271.8 330.3h0.7v0.7h-0.7zM283.8 335.6h0.7v0.7h-0.7zM286.0 343.2h0.7v0.7h-0.7zM286.2 337.1h0.7v0.7h-0.7zM301.6 339.9h0.7v0.7h-0.7zM274.2 336.5h0.7v0.7h-0.7zM294.2 325.9h0.7v0.7h-0.7zM278.2 330.6h0.7v0.7h-0.7zM275.0 332.3h0.7v0.7h-0.7zM290.0 340.8h0.7v0.7h-0.7zM298.8 331.9h0.7v0.7h-0.7zM271.7 338.8h0.7v0.7h-0.7zM284.8 337.4h0.7v0.7h-0.7zM283.7 326.6h0.7v0.7h-0.7zM287.5 324.2h0.7v0.7h-0.7zM282.1 337.9h0.7v0.7h-0.7zM291.7 341.9h0.7v0.7h-0.7zM269.2 341.5h0.7v0.7h-0.7zM291.9 332.0h0.7v0.7h-0.7zM290.5 328.4h0.7v0.7h-0.7zM292.8 336.2h0.7v0.7h-0.7zM278.6 333.8h0.7v0.7h-0.7zM284.7 332.2h0.7v0.7h-0.7zM295.3 333.7h0.7v0.7h-0.7zM298.7 338.0h0.7v0.7h-0.7zM287.2 333.9h0.7v0.7h-0.7zM278.6 333.1h0.7v0.7h-0.7zM281.3 338.3h0.7v0.7h-0.7zM280.3 337.2h0.7v0.7h-0.7zM287.8 332.2h0.7v0.7h-0.7zM287.4 342.4h0.7v0.7h-0.7zM298.4 327.9h0.7v0.7h-0.7zM285.0 333.6h0.7v0.7h-0.7zM286.9 343.0h0.7v0.7h-0.7zM293.9 339.7h0.7v0.7h-0.7zM300.2 329.2h0.7v0.7h-0.7zM285.6 335.6h0.7v0.7h-0.7zM294.8 332.4h0.7v0.7h-0.7zM293.5 339.3h0.7v0.7h-0.7zM296.6 334.7h0.7v0.7h-0.7zM278.9 329.1h0.7v0.7h-0.7zM296.3 334.9h0.7v0.7h-0.7zM279.1 334.5h0.7v0.7h-0.7zM281.4 327.8h0.7v0.7h-0.7zM287.9 330.7h0.7v0.7h-0.7zM285.7 339.2h0.7v0.7h-0.7zM287.0 337.8h0.7v0.7h-0.7zM290.3 334.3h0.7v0.7h-0.7zM289.8 343.9h0.7v0.7h-0.7zM287.8 343.2h0.7v0.7h-0.7zM280.9 340.4h0.7v0.7h-0.7zM287.4 331.1h0.7v0.7h-0.7zM276.8 332.7h0.7v0.7h-0.7zM288.1 335.0h0.7v0.7h-0.7zM288.8 333.2h0.7v0.7h-0.7zM276.5 342.3h0.7v0.7h-0.7zM280.3 338.0h0.7v0.7h-0.7zM293.0 339.5h0.7v0.7h-0.7zM284.9 334.0h0.7v0.7h-0.7zM282.8 326.6h0.7v0.7h-0.7zM279.9 331.7h0.7v0.7h-0.7zM278.3 338.2h0.7v0.7h-0.7zM286.7 343.4h0.7v0.7h-0.7zM296.1 322.8h0.7v0.7h-0.7zM286.7 329.9h0.7v0.7h-0.7zM291.5 334.6h0.7v0.7h-0.7zM294.6 334.6h0.7v0.7h-0.7zM292.5 332.0h0.7v0.7h-0.7zM279.8 334.4h0.7v0.7h-0.7zM281.3 345.0h0.7v0.7h-0.7zM287.4 341.6h0.7v0.7h-0.7zM286.5 343.7h0.7v0.7h-0.7zM278.5 340.4h0.7v0.7h-0.7zM277.3 339.9h0.7v0.7h-0.7zM297.1 323.8h0.7v0.7h-0.7zM280.6 338.0h0.7v0.7h-0.7zM283.8 328.8h0.7v0.7h-0.7zM296.0 332.9h0.7v0.7h-0.7zM297.4 333.9h0.7v0.7h-0.7zM277.5 335.1h0.7v0.7h-0.7zM295.9 325.4h0.7v0.7h-0.7zM284.2 338.9h0.7v0.7h-0.7zM295.9 336.9h0.7v0.7h-0.7zM285.7 335.4h0.7v0.7h-0.7zM286.7 333.9h0.7v0.7h-0.7zM279.1 335.4h0.7v0.7h-0.7zM295.5 325.7h0.7v0.7h-0.7zM268.9 342.6h0.7v0.7h-0.7zM290.6 337.8h0.7v0.7h-0.7zM299.4 327.9h0.7v0.7h-0.7zM289.0 337.1h0.7v0.7h-0.7zM297.8 337.4h0.7v0.7h-0.7zM278.7 330.1h0.7v0.7h-0.7zM282.8 327.8h0.7v0.7h-0.7zM295.1 330.8h0.7v0.7h-0.7zM283.1 331.4h0.7v0.7h-0.7zM299.1 333.2h0.7v0.7h-0.7zM284.6 338.8h0.7v0.7h-0.7zM287.1 338.0h0.7v0.7h-0.7zM296.8 331.0h0.7v0.7h-0.7zM291.6 336.2h0.7v0.7h-0.7zM319.9 343.6h0.7v0.7h-0.7zM313.3 338.0h0.7v0.7h-0.7zM314.9 336.2h0.7v0.7h-0.7zM317.0 341.2h0.7v0.7h-0.7zM316.4 338.6h0.7v0.7h-0.7zM308.3 336.8h0.7v0.7h-0.7zM319.7 339.9h0.7v0.7h-0.7zM311.7 332.8h0.7v0.7h-0.7zM312.8 325.3h0.7v0.7h-0.7zM321.3 339.8h0.7v0.7h-0.7zM313.2 334.5h0.7v0.7h-0.7zM306.5 343.6h0.7v0.7h-0.7zM311.8 342.8h0.7v0.7h-0.7zM320.7 343.9h0.7v0.7h-0.7zM301.7 336.5h0.7v0.7h-0.7zM306.3 336.8h0.7v0.7h-0.7zM300.6 331.7h0.7v0.7h-0.7zM308.6 338.2h0.7v0.7h-0.7zM316.2 339.4h0.7v0.7h-0.7zM321.6 332.7h0.7v0.7h-0.7zM304.7 342.0h0.7v0.7h-0.7zM311.5 336.4h0.7v0.7h-0.7zM317.7 345.8h0.7v0.7h-0.7zM321.0 339.1h0.7v0.7h-0.7zM313.0 341.9h0.7v0.7h-0.7zM313.4 345.5h0.7v0.7h-0.7zM310.1 342.6h0.7v0.7h-0.7zM299.8 344.3h0.7v0.7h-0.7zM322.9 340.8h0.7v0.7h-0.7zM319.3 333.4h0.7v0.7h-0.7zM311.1 334.0h0.7v0.7h-0.7zM315.0 343.2h0.7v0.7h-0.7zM304.9 337.1h0.7v0.7h-0.7zM312.7 341.4h0.7v0.7h-0.7zM315.3 342.2h0.7v0.7h-0.7zM311.7 334.9h0.7v0.7h-0.7zM314.6 339.2h0.7v0.7h-0.7zM305.0 340.6h0.7v0.7h-0.7zM313.3 338.0h0.7v0.7h-0.7zM318.4 338.2h0.7v0.7h-0.7zM312.1 344.7h0.7v0.7h-0.7zM314.4 345.9h0.7v0.7h-0.7zM311.7 338.9h0.7v0.7h-0.7zM315.9 341.9h0.7v0.7h-0.7zM320.2 342.7h0.7v0.7h-0.7zM312.9 342.9h0.7v0.7h-0.7zM317.0 335.9h0.7v0.7h-0.7zM312.2 339.4h0.7v0.7h-0.7zM320.3 338.7h0.7v0.7h-0.7zM319.5 335.2h0.7v0.7h-0.7zM312.8 345.7h0.7v0.7h-0.7zM311.5 346.1h0.7v0.7h-0.7zM300.9 341.0h0.7v0.7h-0.7zM314.1 340.3h0.7v0.7h-0.7zM304.0 343.9h0.7v0.7h-0.7zM299.1 345.2h0.7v0.7h-0.7zM314.9 345.3h0.7v0.7h-0.7zM311.6 335.9h0.7v0.7h-0.7zM310.0 338.8h0.7v0.7h-0.7zM316.7 339.5h0.7v0.7h-0.7zM315.6 343.1h0.7v0.7h-0.7zM321.6 332.0h0.7v0.7h-0.7zM310.7 344.0h0.7v0.7h-0.7zM317.3 338.4h0.7v0.7h-0.7zM311.6 340.5h0.7v0.7h-0.7zM314.0 338.4h0.7v0.7h-0.7zM309.3 335.9h0.7v0.7h-0.7zM310.9 347.2h0.7v0.7h-0.7zM307.5 345.3h0.7v0.7h-0.7zM324.8 341.9h0.7v0.7h-0.7zM327.4 340.4h0.7v0.7h-0.7zM323.3 340.8h0.7v0.7h-0.7zM306.0 342.6h0.7v0.7h-0.7zM324.6 338.4h0.7v0.7h-0.7zM316.2 336.6h0.7v0.7h-0.7zM308.0 343.1h0.7v0.7h-0.7zM312.2 343.6h0.7v0.7h-0.7zM321.0 335.8h0.7v0.7h-0.7zM309.2 341.3h0.7v0.7h-0.7zM327.3 339.7h0.7v0.7h-0.7zM310.5 343.1h0.7v0.7h-0.7zM326.1 338.5h0.7v0.7h-0.7zM311.6 341.4h0.7v0.7h-0.7zM306.0 333.7h0.7v0.7h-0.7zM314.5 343.6h0.7v0.7h-0.7zM300.2 338.5h0.7v0.7h-0.7zM319.3 338.9h0.7v0.7h-0.7zM297.3 336.7h0.7v0.7h-0.7zM299.7 338.5h0.7v0.7h-0.7zM294.3 344.3h0.7v0.7h-0.7zM282.8 336.4h0.7v0.7h-0.7zM306.5 331.7h0.7v0.7h-0.7zM285.6 330.3h0.7v0.7h-0.7zM301.1 336.2h0.7v0.7h-0.7zM286.9 337.5h0.7v0.7h-0.7zM290.3 342.0h0.7v0.7h-0.7zM278.7 336.8h0.7v0.7h-0.7zM297.4 334.0h0.7v0.7h-0.7zM287.6 339.5h0.7v0.7h-0.7zM298.7 334.9h0.7v0.7h-0.7zM290.7 331.7h0.7v0.7h-0.7zM298.6 334.8h0.7v0.7h-0.7zM268.9 333.4h0.7v0.7h-0.7zM299.4 337.5h0.7v0.7h-0.7zM278.3 340.7h0.7v0.7h-0.7zM299.1 339.8h0.7v0.7h-0.7zM311.9 333.1h0.7v0.7h-0.7zM298.9 333.6h0.7v0.7h-0.7zM304.2 343.5h0.7v0.7h-0.7zM297.2 340.6h0.7v0.7h-0.7zM279.0 339.7h0.7v0.7h-0.7zM306.3 324.6h0.7v0.7h-0.7zM278.0 339.0h0.7v0.7h-0.7zM271.7 335.6h0.7v0.7h-0.7zM280.8 339.3h0.7v0.7h-0.7zM285.1 345.5h0.7v0.7h-0.7zM279.1 344.0h0.7v0.7h-0.7zM289.4 338.7h0.7v0.7h-0.7zM304.3 326.4h0.7v0.7h-0.7zM284.8 332.7h0.7v0.7h-0.7zM277.0 336.4h0.7v0.7h-0.7zM269.8 326.7h0.7v0.7h-0.7zM302.4 329.3h0.7v0.7h-0.7zM299.9 339.6h0.7v0.7h-0.7zM310.7 338.1h0.7v0.7h-0.7zM283.7 343.5h0.7v0.7h-0.7zM294.3 331.5h0.7v0.7h-0.7zM295.5 332.4h0.7v0.7h-0.7zM297.1 336.0h0.7v0.7h-0.7zM304.9 337.2h0.7v0.7h-0.7zM303.3 334.8h0.7v0.7h-0.7z" fill="#4555bb" fill-opacity="0.7"/>
<path d="M268 332h21v1h-21zM268 333h23v1h-23zM268 334h24v1h-24zM268 335h25v1h-25zM268 336h26v1h-26zM268 337h26v1h-26zM312 337h4v1h-4zM268 338h26v1h-26zM308 338h10v1h-10zM268 339h26v1h-26zM307 339h12v1h-12zM268 340h25v1h-25zM307 340h13v1h-13zM268 341h24v1h-24zM306 341h14v1h-14zM268 342h23v1h-23zM306 342h14v1h-14zM268 343h22v1h-22zM307 343h12v1h-12zM268 344h17v1h-17zM307 344h12v1h-12zM308 345h10v1h-10z" fill="#2a3aa8" shape-rendering="crispEdges"/>
<path d="M277 332h2v1h-2zM280 332h3v1h-3zM268 333h20v1h-20zM268 334h22v1h-22zM268 335h23v1h-23zM268 336h24v1h-24zM268 337h25v1h-25zM268 338h25v1h-25zM309 338h8v1h-8zM268 339h24v1h-24zM308 339h10v1h-10zM268 340h23v1h-23zM307 340h12v1h-12zM268 341h23v1h-23zM307 341h12v1h-12zM268 342h21v1h-21zM307 342h12v1h-12zM268 343h18v1h-18zM308 343h11v1h-11zM270 344h1v1h-1zM308 344h10v1h-10zM310 345h6v1h-6z" fill="#2850c4" shape-rendering="crispEdges"/>
<path d="M272 333h12v1h-12zM268 334h20v1h-20zM268 335h21v1h-21zM268 336h23v1h-23zM268 337h23v1h-23zM268 338h23v1h-23zM311 338h5v1h-5zM268 339h23v1h-23zM309 339h9v1h-9zM268 340h22v1h-22zM308 340h10v1h-10zM268 341h20v1h-20zM308 341h10v1h-10zM268 342h18v1h-18zM308 342h10v1h-10zM269 343h2v1h-2zM273 343h4v1h-4zM279 343h2v1h-2zM308 343h10v1h-10zM309 344h8v1h-8zM312 345h1v1h-1z" fill="#2a72d2" shape-rendering="crispEdges"/>
<path d="M270 334h16v1h-16zM268 335h20v1h-20zM268 336h21v1h-21zM268 337h23v1h-23zM268 338h23v1h-23zM268 339h22v1h-22zM309 339h8v1h-8zM268 340h20v1h-20zM308 340h10v1h-10zM268 341h19v1h-19zM308 341h10v1h-10zM269 342h15v1h-15zM308 342h10v1h-10zM309 343h8v1h-8zM310 344h6v1h-6z" fill="#2a9ad0" shape-rendering="crispEdges"/>
<path d="M274 334h1v1h-1zM279 334h4v1h-4zM270 335h15v1h-15zM269 336h19v1h-19zM268 337h21v1h-21zM268 338h22v1h-22zM268 339h20v1h-20zM310 339h6v1h-6zM268 340h17v1h-17zM309 340h8v1h-8zM269 341h16v1h-16zM309 341h8v1h-8zM275 342h1v1h-1zM309 342h8v1h-8zM309 343h8v1h-8zM311 344h5v1h-5z" fill="#2cb6bc" shape-rendering="crispEdges"/>
<path d="M275 335h3v1h-3zM279 335h5v1h-5zM271 336h1v1h-1zM274 336h12v1h-12zM270 337h18v1h-18zM269 338h1v1h-1zM271 338h17v1h-17zM270 339h16v1h-16zM311 339h4v1h-4zM272 340h12v1h-12zM310 340h7v1h-7zM274 341h2v1h-2zM277 341h2v1h-2zM309 341h8v1h-8zM309 342h8v1h-8zM310 343h6v1h-6zM312 344h1v1h-1z" fill="#52c290" shape-rendering="crispEdges"/>
<path d="M275 336h2v1h-2zM273 337h2v1h-2zM276 337h2v1h-2zM279 337h8v1h-8zM272 338h2v1h-2zM276 338h1v1h-1zM279 338h2v1h-2zM282 338h5v1h-5zM276 339h6v1h-6zM278 340h1v1h-1zM310 340h6v1h-6zM310 341h7v1h-7zM310 342h7v1h-7zM311 343h5v1h-5z" fill="#8cc858" shape-rendering="crispEdges"/>
<path d="M282 337h4v1h-4zM282 338h3v1h-3zM311 340h5v1h-5zM310 341h7v1h-7zM310 342h6v1h-6zM311 343h5v1h-5z" fill="#c8d034" shape-rendering="crispEdges"/>
<path d="M284 337h2v1h-2zM311 340h4v1h-4zM311 341h5v1h-5zM311 342h5v1h-5zM312 343h3v1h-3z" fill="#f0d424" shape-rendering="crispEdges"/>
<path d="M312 340h2v1h-2zM311 341h5v1h-5zM311 342h4v1h-4zM313 343h1v1h-1z" fill="#f09020" shape-rendering="crispEdges"/>
<path d="M311 341h4v1h-4zM311 342h3v1h-3z" fill="#e02820" shape-rendering="crispEdges"/>
<rect x="267.40" y="286.60" width="63.50" height="62.30" stroke="#1a1a1a" stroke-width="1.0" fill="none"/>
<path d="M264.6 348.9H267.4M265.6 344.2H267.4M265.6 341.4H267.4M265.6 339.6H267.4M265.6 338.0H267.4M265.6 336.8H267.4M265.6 335.7H267.4M265.6 334.9H267.4M265.6 334.1H267.4M264.6 333.3H267.4M265.6 328.7H267.4M265.6 325.8H267.4M265.6 324.0H267.4M265.6 322.4H267.4M265.6 321.2H267.4M265.6 320.1H267.4M265.6 319.3H267.4M265.6 318.5H267.4M264.6 317.8H267.4M265.6 313.1H267.4M265.6 310.3H267.4M265.6 308.4H267.4M265.6 306.8H267.4M265.6 305.6H267.4M265.6 304.5H267.4M265.6 303.7H267.4M265.6 303.0H267.4M264.6 302.2H267.4M265.6 297.5H267.4M265.6 294.7H267.4M265.6 292.8H267.4M265.6 291.3H267.4M265.6 290.0H267.4M265.6 288.9H267.4M265.6 288.2H267.4M265.6 287.4H267.4M267.4 348.9V351.7M272.2 348.9V350.7M275.0 348.9V350.7M276.9 348.9V350.7M278.5 348.9V350.7M279.8 348.9V350.7M280.9 348.9V350.7M281.7 348.9V350.7M282.5 348.9V350.7M283.3 348.9V351.7M288.0 348.9V350.7M290.9 348.9V350.7M292.8 348.9V350.7M294.4 348.9V350.7M295.7 348.9V350.7M296.8 348.9V350.7M297.6 348.9V350.7M298.4 348.9V350.7M299.1 348.9V351.7M303.9 348.9V350.7M306.8 348.9V350.7M308.7 348.9V350.7M310.3 348.9V350.7M311.5 348.9V350.7M312.6 348.9V350.7M313.4 348.9V350.7M314.2 348.9V350.7M315.0 348.9V351.7M319.8 348.9V350.7M322.6 348.9V350.7M324.5 348.9V350.7M326.1 348.9V350.7M327.4 348.9V350.7M328.5 348.9V350.7M329.3 348.9V350.7M330.1 348.9V350.7" stroke="#000" stroke-width="0.9" fill="none"/>
<path d="M369.3 332.8h0.7v0.7h-0.7zM369.3 334.7h0.7v0.7h-0.7zM362.5 333.2h0.7v0.7h-0.7zM362.5 337.9h0.7v0.7h-0.7zM347.9 345.7h0.7v0.7h-0.7zM345.5 339.0h0.7v0.7h-0.7zM362.4 339.3h0.7v0.7h-0.7zM365.8 334.3h0.7v0.7h-0.7zM365.9 339.4h0.7v0.7h-0.7zM382.6 332.0h0.7v0.7h-0.7zM347.5 337.2h0.7v0.7h-0.7zM357.6 334.8h0.7v0.7h-0.7zM368.7 335.4h0.7v0.7h-0.7zM355.0 342.3h0.7v0.7h-0.7zM353.5 336.4h0.7v0.7h-0.7zM372.5 325.9h0.7v0.7h-0.7zM363.5 343.8h0.7v0.7h-0.7zM360.6 330.5h0.7v0.7h-0.7zM360.6 340.2h0.7v0.7h-0.7zM351.1 335.2h0.7v0.7h-0.7zM351.2 332.4h0.7v0.7h-0.7zM373.8 331.9h0.7v0.7h-0.7zM361.2 338.0h0.7v0.7h-0.7zM356.9 330.7h0.7v0.7h-0.7zM374.0 336.9h0.7v0.7h-0.7zM358.4 340.2h0.7v0.7h-0.7zM375.9 334.3h0.7v0.7h-0.7zM366.3 328.0h0.7v0.7h-0.7zM360.5 326.2h0.7v0.7h-0.7zM372.4 331.8h0.7v0.7h-0.7zM373.2 328.5h0.7v0.7h-0.7zM368.7 325.5h0.7v0.7h-0.7zM361.5 338.5h0.7v0.7h-0.7zM366.7 334.0h0.7v0.7h-0.7zM352.9 344.8h0.7v0.7h-0.7zM370.6 339.2h0.7v0.7h-0.7zM372.3 330.8h0.7v0.7h-0.7zM370.5 347.0h0.7v0.7h-0.7zM358.0 338.7h0.7v0.7h-0.7zM361.9 344.7h0.7v0.7h-0.7zM364.0 329.6h0.7v0.7h-0.7zM357.4 329.4h0.7v0.7h-0.7zM356.8 331.0h0.7v0.7h-0.7zM364.1 330.6h0.7v0.7h-0.7zM368.0 343.2h0.7v0.7h-0.7zM353.2 331.5h0.7v0.7h-0.7zM374.7 344.4h0.7v0.7h-0.7zM354.9 328.6h0.7v0.7h-0.7zM361.2 333.6h0.7v0.7h-0.7zM368.1 328.3h0.7v0.7h-0.7zM361.5 334.0h0.7v0.7h-0.7zM349.6 330.6h0.7v0.7h-0.7zM368.2 336.7h0.7v0.7h-0.7zM359.8 344.3h0.7v0.7h-0.7zM371.9 335.3h0.7v0.7h-0.7zM369.2 335.4h0.7v0.7h-0.7zM370.8 337.7h0.7v0.7h-0.7zM361.8 324.8h0.7v0.7h-0.7zM361.6 331.2h0.7v0.7h-0.7zM355.4 340.4h0.7v0.7h-0.7zM351.0 342.8h0.7v0.7h-0.7zM357.3 330.3h0.7v0.7h-0.7zM375.1 330.5h0.7v0.7h-0.7zM374.7 341.5h0.7v0.7h-0.7zM356.7 335.4h0.7v0.7h-0.7zM371.7 335.0h0.7v0.7h-0.7zM363.1 343.8h0.7v0.7h-0.7zM369.0 337.8h0.7v0.7h-0.7zM383.4 332.3h0.7v0.7h-0.7zM385.2 330.9h0.7v0.7h-0.7zM362.8 336.0h0.7v0.7h-0.7zM371.7 336.4h0.7v0.7h-0.7zM364.9 326.9h0.7v0.7h-0.7zM355.0 336.0h0.7v0.7h-0.7zM371.6 340.6h0.7v0.7h-0.7zM344.8 339.3h0.7v0.7h-0.7zM360.1 335.4h0.7v0.7h-0.7zM364.4 330.3h0.7v0.7h-0.7zM354.7 342.8h0.7v0.7h-0.7zM369.2 331.3h0.7v0.7h-0.7zM362.0 331.8h0.7v0.7h-0.7zM353.6 341.1h0.7v0.7h-0.7zM357.1 330.8h0.7v0.7h-0.7zM361.3 344.3h0.7v0.7h-0.7zM367.7 335.2h0.7v0.7h-0.7zM365.7 339.0h0.7v0.7h-0.7zM367.9 327.0h0.7v0.7h-0.7zM361.1 332.2h0.7v0.7h-0.7zM365.4 334.2h0.7v0.7h-0.7zM349.5 344.8h0.7v0.7h-0.7zM363.5 325.8h0.7v0.7h-0.7zM372.9 333.1h0.7v0.7h-0.7zM367.5 334.1h0.7v0.7h-0.7zM364.3 332.1h0.7v0.7h-0.7zM349.7 335.4h0.7v0.7h-0.7zM365.1 334.7h0.7v0.7h-0.7zM368.6 333.0h0.7v0.7h-0.7zM346.8 343.2h0.7v0.7h-0.7zM355.4 329.9h0.7v0.7h-0.7zM359.1 328.8h0.7v0.7h-0.7zM365.1 329.5h0.7v0.7h-0.7zM378.4 329.5h0.7v0.7h-0.7zM358.1 332.8h0.7v0.7h-0.7zM345.2 335.1h0.7v0.7h-0.7zM356.9 334.8h0.7v0.7h-0.7zM345.9 339.7h0.7v0.7h-0.7zM372.9 330.0h0.7v0.7h-0.7zM363.5 337.0h0.7v0.7h-0.7zM356.5 334.4h0.7v0.7h-0.7zM371.2 333.8h0.7v0.7h-0.7zM351.5 328.7h0.7v0.7h-0.7zM382.1 332.2h0.7v0.7h-0.7zM351.3 339.0h0.7v0.7h-0.7zM369.1 334.1h0.7v0.7h-0.7zM368.2 332.7h0.7v0.7h-0.7zM368.8 332.4h0.7v0.7h-0.7zM362.3 340.0h0.7v0.7h-0.7zM349.6 344.1h0.7v0.7h-0.7zM368.0 337.9h0.7v0.7h-0.7zM373.2 340.7h0.7v0.7h-0.7zM376.5 336.3h0.7v0.7h-0.7zM361.9 339.2h0.7v0.7h-0.7zM359.0 331.3h0.7v0.7h-0.7zM368.2 335.8h0.7v0.7h-0.7zM370.7 322.0h0.7v0.7h-0.7zM369.8 337.1h0.7v0.7h-0.7zM367.1 342.1h0.7v0.7h-0.7zM357.8 338.6h0.7v0.7h-0.7zM361.3 335.8h0.7v0.7h-0.7zM356.5 336.5h0.7v0.7h-0.7zM369.8 334.3h0.7v0.7h-0.7zM366.0 330.6h0.7v0.7h-0.7zM375.9 328.3h0.7v0.7h-0.7zM365.3 338.0h0.7v0.7h-0.7zM363.9 339.2h0.7v0.7h-0.7zM368.1 343.1h0.7v0.7h-0.7zM369.2 335.9h0.7v0.7h-0.7zM358.6 339.1h0.7v0.7h-0.7zM372.8 335.0h0.7v0.7h-0.7zM356.3 334.4h0.7v0.7h-0.7zM362.5 335.7h0.7v0.7h-0.7zM355.9 347.2h0.7v0.7h-0.7zM363.7 335.9h0.7v0.7h-0.7zM360.8 335.8h0.7v0.7h-0.7zM378.0 326.4h0.7v0.7h-0.7zM358.8 331.1h0.7v0.7h-0.7zM361.9 343.7h0.7v0.7h-0.7zM358.7 334.1h0.7v0.7h-0.7zM349.6 337.1h0.7v0.7h-0.7zM365.3 332.2h0.7v0.7h-0.7zM362.1 339.8h0.7v0.7h-0.7zM368.2 333.4h0.7v0.7h-0.7zM356.1 329.4h0.7v0.7h-0.7zM375.3 324.0h0.7v0.7h-0.7zM369.0 332.7h0.7v0.7h-0.7zM359.6 340.9h0.7v0.7h-0.7zM360.1 342.7h0.7v0.7h-0.7zM356.8 339.6h0.7v0.7h-0.7zM372.9 327.7h0.7v0.7h-0.7zM381.6 334.9h0.7v0.7h-0.7zM348.8 346.4h0.7v0.7h-0.7zM378.7 329.8h0.7v0.7h-0.7zM363.2 337.3h0.7v0.7h-0.7zM349.6 339.8h0.7v0.7h-0.7zM370.8 330.4h0.7v0.7h-0.7zM375.7 343.5h0.7v0.7h-0.7zM346.6 330.4h0.7v0.7h-0.7zM359.5 339.6h0.7v0.7h-0.7zM366.0 329.8h0.7v0.7h-0.7zM354.4 333.9h0.7v0.7h-0.7zM376.1 326.9h0.7v0.7h-0.7zM360.9 340.9h0.7v0.7h-0.7zM360.8 330.8h0.7v0.7h-0.7zM375.8 333.7h0.7v0.7h-0.7zM358.4 334.6h0.7v0.7h-0.7zM371.0 331.4h0.7v0.7h-0.7zM367.4 338.9h0.7v0.7h-0.7zM369.6 324.1h0.7v0.7h-0.7zM360.1 334.5h0.7v0.7h-0.7zM366.1 338.6h0.7v0.7h-0.7zM372.9 330.5h0.7v0.7h-0.7zM356.0 338.4h0.7v0.7h-0.7zM362.0 344.8h0.7v0.7h-0.7zM367.3 334.7h0.7v0.7h-0.7zM371.3 329.9h0.7v0.7h-0.7zM361.6 335.0h0.7v0.7h-0.7zM371.3 340.1h0.7v0.7h-0.7zM371.6 337.2h0.7v0.7h-0.7zM363.3 337.4h0.7v0.7h-0.7zM364.2 341.3h0.7v0.7h-0.7zM359.6 336.1h0.7v0.7h-0.7zM367.4 338.5h0.7v0.7h-0.7zM358.6 335.6h0.7v0.7h-0.7zM356.4 330.4h0.7v0.7h-0.7zM373.5 335.1h0.7v0.7h-0.7zM351.6 333.5h0.7v0.7h-0.7zM389.9 338.2h0.7v0.7h-0.7zM380.2 346.6h0.7v0.7h-0.7zM383.6 339.2h0.7v0.7h-0.7zM389.9 337.7h0.7v0.7h-0.7zM386.6 341.6h0.7v0.7h-0.7zM390.9 337.6h0.7v0.7h-0.7zM393.0 342.4h0.7v0.7h-0.7zM397.2 341.9h0.7v0.7h-0.7zM383.2 338.5h0.7v0.7h-0.7zM379.6 340.8h0.7v0.7h-0.7zM386.0 344.9h0.7v0.7h-0.7zM386.9 337.0h0.7v0.7h-0.7zM392.5 338.9h0.7v0.7h-0.7zM394.0 337.5h0.7v0.7h-0.7zM385.6 346.8h0.7v0.7h-0.7zM392.2 343.2h0.7v0.7h-0.7zM391.6 331.0h0.7v0.7h-0.7zM384.5 334.2h0.7v0.7h-0.7zM382.4 339.0h0.7v0.7h-0.7zM389.0 346.0h0.7v0.7h-0.7zM390.9 341.9h0.7v0.7h-0.7zM384.0 346.4h0.7v0.7h-0.7zM387.7 332.6h0.7v0.7h-0.7zM385.6 342.8h0.7v0.7h-0.7zM380.2 341.5h0.7v0.7h-0.7zM395.1 339.3h0.7v0.7h-0.7zM385.6 340.3h0.7v0.7h-0.7zM380.0 338.3h0.7v0.7h-0.7zM379.8 339.1h0.7v0.7h-0.7zM381.0 344.8h0.7v0.7h-0.7zM385.1 344.2h0.7v0.7h-0.7zM378.1 340.3h0.7v0.7h-0.7zM389.2 343.5h0.7v0.7h-0.7zM382.0 339.9h0.7v0.7h-0.7zM386.4 338.8h0.7v0.7h-0.7zM383.2 342.7h0.7v0.7h-0.7zM378.6 332.1h0.7v0.7h-0.7zM382.8 341.7h0.7v0.7h-0.7zM371.9 346.5h0.7v0.7h-0.7zM386.4 343.0h0.7v0.7h-0.7zM380.7 340.2h0.7v0.7h-0.7zM389.6 339.2h0.7v0.7h-0.7zM385.2 346.4h0.7v0.7h-0.7zM381.5 336.2h0.7v0.7h-0.7zM385.0 344.5h0.7v0.7h-0.7zM379.3 342.0h0.7v0.7h-0.7zM388.0 341.0h0.7v0.7h-0.7zM384.8 344.6h0.7v0.7h-0.7zM389.2 333.7h0.7v0.7h-0.7zM395.4 342.4h0.7v0.7h-0.7zM387.6 338.7h0.7v0.7h-0.7zM383.8 328.8h0.7v0.7h-0.7zM384.2 342.9h0.7v0.7h-0.7zM389.3 337.1h0.7v0.7h-0.7zM371.2 335.0h0.7v0.7h-0.7zM383.6 346.0h0.7v0.7h-0.7zM375.7 340.3h0.7v0.7h-0.7zM389.1 343.0h0.7v0.7h-0.7zM384.9 327.5h0.7v0.7h-0.7zM389.2 340.8h0.7v0.7h-0.7zM388.8 335.9h0.7v0.7h-0.7zM382.6 347.1h0.7v0.7h-0.7zM385.0 340.2h0.7v0.7h-0.7zM381.3 346.0h0.7v0.7h-0.7zM375.7 337.9h0.7v0.7h-0.7zM388.3 340.1h0.7v0.7h-0.7zM391.1 342.3h0.7v0.7h-0.7zM394.5 339.3h0.7v0.7h-0.7zM385.0 341.7h0.7v0.7h-0.7zM375.0 346.9h0.7v0.7h-0.7zM380.3 345.6h0.7v0.7h-0.7zM394.6 345.1h0.7v0.7h-0.7zM387.1 337.6h0.7v0.7h-0.7zM373.0 343.1h0.7v0.7h-0.7zM384.2 343.4h0.7v0.7h-0.7zM383.5 342.5h0.7v0.7h-0.7zM383.9 339.8h0.7v0.7h-0.7zM374.6 337.3h0.7v0.7h-0.7zM385.1 346.4h0.7v0.7h-0.7zM387.7 335.0h0.7v0.7h-0.7zM395.7 342.2h0.7v0.7h-0.7zM392.8 336.4h0.7v0.7h-0.7zM366.0 337.1h0.7v0.7h-0.7zM379.8 341.8h0.7v0.7h-0.7zM376.6 336.5h0.7v0.7h-0.7zM377.7 341.2h0.7v0.7h-0.7zM380.4 346.9h0.7v0.7h-0.7zM375.3 340.5h0.7v0.7h-0.7zM361.1 336.3h0.7v0.7h-0.7zM376.5 328.6h0.7v0.7h-0.7zM381.9 334.1h0.7v0.7h-0.7zM386.5 327.0h0.7v0.7h-0.7zM381.6 332.4h0.7v0.7h-0.7zM358.3 333.0h0.7v0.7h-0.7zM347.6 336.4h0.7v0.7h-0.7zM354.2 342.6h0.7v0.7h-0.7zM368.9 316.2h0.7v0.7h-0.7zM350.6 327.4h0.7v0.7h-0.7zM354.4 329.9h0.7v0.7h-0.7zM367.1 333.5h0.7v0.7h-0.7zM348.7 337.7h0.7v0.7h-0.7zM377.1 334.7h0.7v0.7h-0.7zM381.0 337.7h0.7v0.7h-0.7zM356.3 331.8h0.7v0.7h-0.7zM364.3 338.4h0.7v0.7h-0.7zM366.7 341.6h0.7v0.7h-0.7zM380.6 327.5h0.7v0.7h-0.7zM347.8 333.9h0.7v0.7h-0.7zM370.7 341.1h0.7v0.7h-0.7zM373.4 339.0h0.7v0.7h-0.7zM351.1 337.3h0.7v0.7h-0.7zM355.1 337.6h0.7v0.7h-0.7zM377.0 329.9h0.7v0.7h-0.7zM353.6 331.1h0.7v0.7h-0.7zM348.8 324.5h0.7v0.7h-0.7zM378.3 329.8h0.7v0.7h-0.7zM355.5 329.0h0.7v0.7h-0.7zM356.4 334.2h0.7v0.7h-0.7zM383.6 333.6h0.7v0.7h-0.7zM366.0 335.9h0.7v0.7h-0.7zM382.3 325.1h0.7v0.7h-0.7zM356.3 319.2h0.7v0.7h-0.7zM364.6 339.2h0.7v0.7h-0.7zM357.3 337.8h0.7v0.7h-0.7zM366.5 331.9h0.7v0.7h-0.7zM388.3 344.3h0.7v0.7h-0.7zM355.3 339.9h0.7v0.7h-0.7zM366.5 336.2h0.7v0.7h-0.7zM373.8 331.6h0.7v0.7h-0.7zM368.0 337.3h0.7v0.7h-0.7zM356.8 331.6h0.7v0.7h-0.7z" fill="#4555bb" fill-opacity="0.7"/>
<path d="M351 332h15v1h-15zM344 333h24v1h-24zM343 334h26v1h-26zM343 335h26v1h-26zM343 336h26v1h-26zM343 337h26v1h-26zM383 337h7v1h-7zM343 338h27v1h-27zM381 338h11v1h-11zM343 339h27v1h-27zM380 339h12v1h-12zM343 340h27v1h-27zM380 340h13v1h-13zM343 341h26v1h-26zM380 341h13v1h-13zM343 342h24v1h-24zM380 342h13v1h-13zM343 343h22v1h-22zM380 343h12v1h-12zM343 344h18v1h-18zM380 344h12v1h-12zM343 345h13v1h-13zM382 345h9v1h-9z" fill="#2a3aa8" shape-rendering="crispEdges"/>
<path d="M348 333h16v1h-16zM344 334h22v1h-22zM343 335h24v1h-24zM343 336h24v1h-24zM343 337h24v1h-24zM343 338h25v1h-25zM382 338h9v1h-9zM343 339h26v1h-26zM381 339h11v1h-11zM343 340h25v1h-25zM380 340h12v1h-12zM343 341h24v1h-24zM380 341h12v1h-12zM343 342h22v1h-22zM380 342h12v1h-12zM343 343h19v1h-19zM381 343h11v1h-11zM343 344h14v1h-14zM381 344h10v1h-10zM345 345h2v1h-2zM384 345h4v1h-4z" fill="#2850c4" shape-rendering="crispEdges"/>
<path d="M356 333h1v1h-1zM347 334h17v1h-17zM344 335h21v1h-21zM343 336h23v1h-23zM343 337h23v1h-23zM343 338h24v1h-24zM383 338h6v1h-6zM343 339h25v1h-25zM382 339h9v1h-9zM343 340h24v1h-24zM381 340h11v1h-11zM343 341h23v1h-23zM381 341h11v1h-11zM343 342h20v1h-20zM381 342h11v1h-11zM343 343h16v1h-16zM381 343h10v1h-10zM344 344h2v1h-2zM348 344h2v1h-2zM382 344h8v1h-8z" fill="#2a72d2" shape-rendering="crispEdges"/>
<path d="M354 334h8v1h-8zM346 335h2v1h-2zM349 335h14v1h-14zM344 336h19v1h-19zM343 337h20v1h-20zM343 338h23v1h-23zM384 338h2v1h-2zM387 338h1v1h-1zM343 339h24v1h-24zM383 339h7v1h-7zM343 340h23v1h-23zM382 340h9v1h-9zM343 341h20v1h-20zM381 341h10v1h-10zM343 342h17v1h-17zM381 342h10v1h-10zM343 343h3v1h-3zM347 343h5v1h-5zM354 343h2v1h-2zM382 343h9v1h-9zM383 344h6v1h-6z" fill="#2a9ad0" shape-rendering="crispEdges"/>
<path d="M351 335h9v1h-9zM346 336h1v1h-1zM348 336h13v1h-13zM344 337h18v1h-18zM343 338h21v1h-21zM344 339h22v1h-22zM383 339h7v1h-7zM343 340h22v1h-22zM382 340h8v1h-8zM344 341h16v1h-16zM382 341h9v1h-9zM345 342h11v1h-11zM382 342h9v1h-9zM382 343h8v1h-8zM386 344h2v1h-2z" fill="#2cb6bc" shape-rendering="crispEdges"/>
<path d="M351 336h2v1h-2zM355 336h4v1h-4zM347 337h14v1h-14zM347 338h13v1h-13zM348 339h10v1h-10zM359 339h6v1h-6zM384 339h5v1h-5zM348 340h10v1h-10zM361 340h1v1h-1zM363 340h1v1h-1zM383 340h7v1h-7zM347 341h4v1h-4zM352 341h2v1h-2zM382 341h8v1h-8zM382 342h8v1h-8zM383 343h7v1h-7z" fill="#52c290" shape-rendering="crispEdges"/>
<path d="M361 339h2v1h-2zM384 339h3v1h-3zM383 340h6v1h-6zM383 341h7v1h-7zM383 342h6v1h-6zM384 343h5v1h-5z" fill="#8cc858" shape-rendering="crispEdges"/>
<path d="M383 340h6v1h-6zM383 341h6v1h-6zM383 342h6v1h-6zM385 343h3v1h-3z" fill="#c8d034" shape-rendering="crispEdges"/>
<path d="M384 340h4v1h-4zM383 341h6v1h-6zM384 342h5v1h-5z" fill="#f0d424" shape-rendering="crispEdges"/>
<path d="M385 340h3v1h-3zM385 341h4v1h-4zM385 342h3v1h-3z" fill="#f09020" shape-rendering="crispEdges"/>
<path d="M385 341h3v1h-3zM386 342h2v1h-2z" fill="#e02820" shape-rendering="crispEdges"/>
<path d="M394.6 321.7h0.8v0.8h-0.8zM387.6 309.3h0.8v0.8h-0.8zM382.8 312.5h0.8v0.8h-0.8zM392.5 320.5h0.8v0.8h-0.8zM389.2 309.0h0.8v0.8h-0.8zM388.3 309.6h0.8v0.8h-0.8zM394.8 315.3h0.8v0.8h-0.8zM383.6 319.9h0.8v0.8h-0.8zM385.9 320.7h0.8v0.8h-0.8zM384.3 310.0h0.8v0.8h-0.8zM393.8 317.2h0.8v0.8h-0.8zM393.7 313.7h0.8v0.8h-0.8zM381.8 319.7h0.8v0.8h-0.8zM392.4 308.0h0.8v0.8h-0.8zM383.4 319.9h0.8v0.8h-0.8zM386.7 305.7h0.8v0.8h-0.8zM394.2 318.5h0.8v0.8h-0.8zM393.9 317.7h0.8v0.8h-0.8zM393.6 320.1h0.8v0.8h-0.8zM383.4 310.6h0.8v0.8h-0.8zM390.1 307.7h0.8v0.8h-0.8zM393.3 311.3h0.8v0.8h-0.8zM390.7 321.4h0.8v0.8h-0.8zM382.3 311.3h0.8v0.8h-0.8zM393.7 315.6h0.8v0.8h-0.8zM394.6 316.2h0.8v0.8h-0.8zM383.8 309.8h0.8v0.8h-0.8zM393.5 312.2h0.8v0.8h-0.8zM393.4 321.5h0.8v0.8h-0.8zM383.1 311.7h0.8v0.8h-0.8zM387.8 321.6h0.8v0.8h-0.8zM381.6 316.0h0.8v0.8h-0.8zM381.8 312.0h0.8v0.8h-0.8zM388.4 321.9h0.8v0.8h-0.8zM388.6 321.9h0.8v0.8h-0.8zM383.1 320.8h0.8v0.8h-0.8zM392.4 310.9h0.8v0.8h-0.8zM391.0 308.5h0.8v0.8h-0.8zM390.0 322.9h0.8v0.8h-0.8zM383.4 318.0h0.8v0.8h-0.8zM393.5 316.4h0.8v0.8h-0.8zM382.5 318.6h0.8v0.8h-0.8zM393.9 312.1h0.8v0.8h-0.8zM394.7 319.1h0.8v0.8h-0.8z" fill="#5060c0" fill-opacity="0.8"/>
<path d="M383.0 313.8h0.9v0.9h-0.9zM382.6 316.3h0.9v0.9h-0.9zM392.4 311.7h0.9v0.9h-0.9zM392.4 310.6h0.9v0.9h-0.9zM389.7 319.9h0.9v0.9h-0.9zM384.8 310.6h0.9v0.9h-0.9zM388.6 320.8h0.9v0.9h-0.9zM391.4 311.3h0.9v0.9h-0.9zM392.0 319.3h0.9v0.9h-0.9zM392.4 317.7h0.9v0.9h-0.9zM390.5 320.2h0.9v0.9h-0.9zM388.1 320.6h0.9v0.9h-0.9zM383.4 313.4h0.9v0.9h-0.9zM384.2 313.3h0.9v0.9h-0.9zM387.1 319.8h0.9v0.9h-0.9zM389.9 320.7h0.9v0.9h-0.9zM392.6 313.6h0.9v0.9h-0.9zM392.6 317.6h0.9v0.9h-0.9zM384.3 317.0h0.9v0.9h-0.9zM388.5 310.2h0.9v0.9h-0.9zM384.6 310.5h0.9v0.9h-0.9zM387.5 320.9h0.9v0.9h-0.9zM390.4 320.1h0.9v0.9h-0.9zM389.9 310.3h0.9v0.9h-0.9zM384.1 316.1h0.9v0.9h-0.9zM384.3 316.9h0.9v0.9h-0.9zM383.6 314.4h0.9v0.9h-0.9zM384.0 315.5h0.9v0.9h-0.9zM392.6 313.6h0.9v0.9h-0.9zM392.5 315.9h0.9v0.9h-0.9zM390.5 310.6h0.9v0.9h-0.9zM391.7 310.7h0.9v0.9h-0.9zM391.6 318.9h0.9v0.9h-0.9zM389.5 320.5h0.9v0.9h-0.9zM388.3 321.5h0.9v0.9h-0.9zM385.4 309.8h0.9v0.9h-0.9zM388.0 310.5h0.9v0.9h-0.9zM389.6 311.0h0.9v0.9h-0.9zM392.6 316.7h0.9v0.9h-0.9zM383.8 316.4h0.9v0.9h-0.9zM386.8 319.7h0.9v0.9h-0.9zM384.2 311.5h0.9v0.9h-0.9zM390.3 310.3h0.9v0.9h-0.9zM392.5 315.1h0.9v0.9h-0.9zM384.1 312.8h0.9v0.9h-0.9zM387.9 311.2h0.9v0.9h-0.9zM392.9 313.6h0.9v0.9h-0.9zM392.2 319.0h0.9v0.9h-0.9zM392.1 312.4h0.9v0.9h-0.9zM384.7 318.2h0.9v0.9h-0.9zM388.1 309.8h0.9v0.9h-0.9zM385.2 319.0h0.9v0.9h-0.9zM392.4 317.1h0.9v0.9h-0.9zM391.8 318.6h0.9v0.9h-0.9zM383.6 316.4h0.9v0.9h-0.9zM385.4 310.6h0.9v0.9h-0.9zM392.2 311.8h0.9v0.9h-0.9zM383.5 317.6h0.9v0.9h-0.9zM391.9 318.2h0.9v0.9h-0.9zM391.0 311.5h0.9v0.9h-0.9zM386.1 319.0h0.9v0.9h-0.9zM386.5 310.7h0.9v0.9h-0.9zM390.5 311.3h0.9v0.9h-0.9zM387.8 309.8h0.9v0.9h-0.9zM389.9 320.6h0.9v0.9h-0.9zM384.6 310.6h0.9v0.9h-0.9zM387.3 311.4h0.9v0.9h-0.9zM392.7 315.3h0.9v0.9h-0.9zM385.0 318.3h0.9v0.9h-0.9zM391.5 312.6h0.9v0.9h-0.9zM390.6 320.1h0.9v0.9h-0.9zM382.4 315.7h0.9v0.9h-0.9zM386.0 311.4h0.9v0.9h-0.9zM384.1 313.2h0.9v0.9h-0.9zM386.1 310.0h0.9v0.9h-0.9zM388.5 310.0h0.9v0.9h-0.9zM392.1 310.8h0.9v0.9h-0.9z" fill="#3048c0"/>
<path d="M385.9 313.4h0.9v0.9h-0.9zM392.2 317.2h0.9v0.9h-0.9zM392.0 314.9h0.9v0.9h-0.9zM391.8 313.1h0.9v0.9h-0.9zM387.8 319.5h0.9v0.9h-0.9zM389.5 319.4h0.9v0.9h-0.9zM384.5 312.9h0.9v0.9h-0.9zM392.2 313.5h0.9v0.9h-0.9zM386.3 312.8h0.9v0.9h-0.9zM390.7 319.3h0.9v0.9h-0.9zM385.1 314.9h0.9v0.9h-0.9zM389.1 319.4h0.9v0.9h-0.9zM385.0 316.6h0.9v0.9h-0.9zM390.5 317.0h0.9v0.9h-0.9zM385.4 313.5h0.9v0.9h-0.9zM387.5 319.3h0.9v0.9h-0.9zM387.1 312.6h0.9v0.9h-0.9zM391.0 313.0h0.9v0.9h-0.9zM386.7 318.5h0.9v0.9h-0.9zM386.3 313.5h0.9v0.9h-0.9zM385.1 314.2h0.9v0.9h-0.9zM386.7 319.3h0.9v0.9h-0.9zM386.6 318.9h0.9v0.9h-0.9zM392.0 315.9h0.9v0.9h-0.9zM385.6 317.2h0.9v0.9h-0.9zM386.4 312.2h0.9v0.9h-0.9zM384.8 314.2h0.9v0.9h-0.9zM387.4 319.5h0.9v0.9h-0.9zM386.8 318.4h0.9v0.9h-0.9zM388.7 319.1h0.9v0.9h-0.9zM386.5 318.5h0.9v0.9h-0.9zM386.7 313.1h0.9v0.9h-0.9zM391.4 312.0h0.9v0.9h-0.9zM388.4 319.5h0.9v0.9h-0.9zM385.1 313.2h0.9v0.9h-0.9zM386.7 319.5h0.9v0.9h-0.9zM387.3 312.2h0.9v0.9h-0.9zM388.5 318.8h0.9v0.9h-0.9zM387.5 319.2h0.9v0.9h-0.9zM384.7 316.7h0.9v0.9h-0.9zM391.9 313.8h0.9v0.9h-0.9zM390.1 312.1h0.9v0.9h-0.9zM390.6 317.3h0.9v0.9h-0.9zM386.3 317.8h0.9v0.9h-0.9zM391.6 317.3h0.9v0.9h-0.9zM384.5 316.7h0.9v0.9h-0.9zM387.6 312.4h0.9v0.9h-0.9zM391.9 313.7h0.9v0.9h-0.9zM390.6 319.0h0.9v0.9h-0.9zM387.2 311.7h0.9v0.9h-0.9zM391.2 313.2h0.9v0.9h-0.9zM391.5 315.0h0.9v0.9h-0.9zM385.8 318.3h0.9v0.9h-0.9zM391.0 318.8h0.9v0.9h-0.9zM387.1 319.5h0.9v0.9h-0.9zM385.0 313.8h0.9v0.9h-0.9zM384.7 313.5h0.9v0.9h-0.9zM389.8 319.1h0.9v0.9h-0.9zM390.6 312.2h0.9v0.9h-0.9zM384.5 316.1h0.9v0.9h-0.9zM388.3 312.5h0.9v0.9h-0.9zM385.2 314.1h0.9v0.9h-0.9zM387.9 311.8h0.9v0.9h-0.9zM392.4 317.2h0.9v0.9h-0.9zM386.8 317.7h0.9v0.9h-0.9zM384.7 313.9h0.9v0.9h-0.9zM386.2 317.7h0.9v0.9h-0.9zM386.0 312.2h0.9v0.9h-0.9zM389.6 312.3h0.9v0.9h-0.9zM392.0 314.9h0.9v0.9h-0.9zM384.5 315.2h0.9v0.9h-0.9zM385.0 316.3h0.9v0.9h-0.9zM390.4 317.5h0.9v0.9h-0.9zM385.3 315.8h0.9v0.9h-0.9zM390.9 317.4h0.9v0.9h-0.9zM388.6 312.0h0.9v0.9h-0.9zM390.6 316.8h0.9v0.9h-0.9zM385.0 312.7h0.9v0.9h-0.9zM391.1 319.4h0.9v0.9h-0.9zM390.7 319.4h0.9v0.9h-0.9zM387.7 311.9h0.9v0.9h-0.9zM385.6 318.5h0.9v0.9h-0.9zM389.1 319.0h0.9v0.9h-0.9zM386.7 313.0h0.9v0.9h-0.9zM391.5 313.1h0.9v0.9h-0.9zM390.7 317.3h0.9v0.9h-0.9zM386.5 318.3h0.9v0.9h-0.9zM391.5 316.5h0.9v0.9h-0.9zM386.3 316.9h0.9v0.9h-0.9zM391.6 313.4h0.9v0.9h-0.9zM391.0 318.3h0.9v0.9h-0.9zM390.8 316.9h0.9v0.9h-0.9zM385.3 314.7h0.9v0.9h-0.9zM384.8 316.6h0.9v0.9h-0.9zM385.7 312.8h0.9v0.9h-0.9zM390.4 317.1h0.9v0.9h-0.9zM386.0 312.0h0.9v0.9h-0.9zM384.8 317.0h0.9v0.9h-0.9zM390.9 313.1h0.9v0.9h-0.9zM391.1 313.4h0.9v0.9h-0.9zM386.8 312.3h0.9v0.9h-0.9zM390.7 312.7h0.9v0.9h-0.9zM391.7 316.7h0.9v0.9h-0.9zM387.2 317.8h0.9v0.9h-0.9zM385.0 314.7h0.9v0.9h-0.9zM391.5 314.4h0.9v0.9h-0.9zM391.8 314.7h0.9v0.9h-0.9zM390.2 311.8h0.9v0.9h-0.9zM388.5 319.4h0.9v0.9h-0.9zM386.3 317.3h0.9v0.9h-0.9zM389.9 319.5h0.9v0.9h-0.9zM384.5 315.6h0.9v0.9h-0.9zM392.0 313.1h0.9v0.9h-0.9zM386.2 312.1h0.9v0.9h-0.9zM384.4 314.2h0.9v0.9h-0.9zM389.4 312.4h0.9v0.9h-0.9zM390.8 316.6h0.9v0.9h-0.9zM390.7 318.1h0.9v0.9h-0.9zM386.5 311.9h0.9v0.9h-0.9zM390.4 318.6h0.9v0.9h-0.9zM391.0 317.5h0.9v0.9h-0.9zM387.5 312.0h0.9v0.9h-0.9z" fill="#2a70d0"/>
<path d="M390.6 315.8h0.9v0.9h-0.9zM386.4 316.5h0.9v0.9h-0.9zM388.6 313.2h0.9v0.9h-0.9zM388.0 318.1h0.9v0.9h-0.9zM386.0 314.4h0.9v0.9h-0.9zM390.1 315.6h0.9v0.9h-0.9zM390.3 316.1h0.9v0.9h-0.9zM388.2 317.5h0.9v0.9h-0.9zM390.0 313.1h0.9v0.9h-0.9zM387.4 317.0h0.9v0.9h-0.9zM389.1 317.9h0.9v0.9h-0.9zM389.8 317.5h0.9v0.9h-0.9zM387.2 313.6h0.9v0.9h-0.9zM390.6 315.7h0.9v0.9h-0.9zM386.7 316.2h0.9v0.9h-0.9zM386.1 314.8h0.9v0.9h-0.9zM389.5 316.3h0.9v0.9h-0.9zM388.6 317.5h0.9v0.9h-0.9zM391.1 314.6h0.9v0.9h-0.9zM390.5 316.0h0.9v0.9h-0.9zM388.8 318.5h0.9v0.9h-0.9zM390.0 313.9h0.9v0.9h-0.9zM387.7 316.8h0.9v0.9h-0.9zM385.6 316.5h0.9v0.9h-0.9zM389.6 314.3h0.9v0.9h-0.9zM390.4 316.6h0.9v0.9h-0.9zM389.0 313.4h0.9v0.9h-0.9zM390.0 315.8h0.9v0.9h-0.9zM387.5 318.1h0.9v0.9h-0.9zM387.4 317.1h0.9v0.9h-0.9zM389.0 318.1h0.9v0.9h-0.9zM387.3 316.2h0.9v0.9h-0.9zM390.3 313.6h0.9v0.9h-0.9zM390.7 314.2h0.9v0.9h-0.9zM389.9 315.8h0.9v0.9h-0.9zM390.6 315.3h0.9v0.9h-0.9zM387.1 316.5h0.9v0.9h-0.9zM388.0 317.8h0.9v0.9h-0.9zM388.9 313.6h0.9v0.9h-0.9zM390.0 313.9h0.9v0.9h-0.9zM388.8 318.1h0.9v0.9h-0.9zM387.6 316.6h0.9v0.9h-0.9zM388.8 317.3h0.9v0.9h-0.9zM387.1 314.3h0.9v0.9h-0.9zM385.8 316.3h0.9v0.9h-0.9zM388.7 318.4h0.9v0.9h-0.9zM389.9 312.8h0.9v0.9h-0.9zM389.2 313.0h0.9v0.9h-0.9zM386.7 315.9h0.9v0.9h-0.9zM389.8 316.5h0.9v0.9h-0.9zM391.1 314.6h0.9v0.9h-0.9zM389.2 318.0h0.9v0.9h-0.9zM390.2 313.3h0.9v0.9h-0.9zM390.2 317.8h0.9v0.9h-0.9zM385.6 314.3h0.9v0.9h-0.9zM389.2 313.4h0.9v0.9h-0.9zM389.2 318.4h0.9v0.9h-0.9zM386.2 315.2h0.9v0.9h-0.9zM388.6 317.5h0.9v0.9h-0.9zM389.6 318.4h0.9v0.9h-0.9zM386.5 316.2h0.9v0.9h-0.9zM386.9 316.8h0.9v0.9h-0.9zM388.4 316.9h0.9v0.9h-0.9zM387.4 316.7h0.9v0.9h-0.9zM389.8 316.8h0.9v0.9h-0.9zM388.8 318.4h0.9v0.9h-0.9zM389.0 317.9h0.9v0.9h-0.9zM387.1 315.9h0.9v0.9h-0.9zM387.0 317.1h0.9v0.9h-0.9zM389.4 314.2h0.9v0.9h-0.9zM389.8 317.3h0.9v0.9h-0.9zM389.5 316.7h0.9v0.9h-0.9zM390.7 314.0h0.9v0.9h-0.9zM387.4 312.8h0.9v0.9h-0.9zM388.8 312.7h0.9v0.9h-0.9zM391.0 316.4h0.9v0.9h-0.9zM387.6 317.7h0.9v0.9h-0.9zM385.9 314.3h0.9v0.9h-0.9zM388.6 312.8h0.9v0.9h-0.9zM389.7 314.4h0.9v0.9h-0.9zM389.1 317.2h0.9v0.9h-0.9zM390.6 314.1h0.9v0.9h-0.9zM391.2 314.1h0.9v0.9h-0.9zM386.8 315.7h0.9v0.9h-0.9zM389.6 316.2h0.9v0.9h-0.9zM391.2 315.1h0.9v0.9h-0.9zM386.7 316.2h0.9v0.9h-0.9zM389.5 318.6h0.9v0.9h-0.9zM386.9 313.8h0.9v0.9h-0.9zM390.0 313.3h0.9v0.9h-0.9zM389.6 317.2h0.9v0.9h-0.9zM390.8 316.3h0.9v0.9h-0.9zM385.6 316.4h0.9v0.9h-0.9zM389.1 317.4h0.9v0.9h-0.9zM389.5 315.9h0.9v0.9h-0.9zM385.9 314.7h0.9v0.9h-0.9zM389.0 317.3h0.9v0.9h-0.9zM390.3 316.5h0.9v0.9h-0.9zM389.8 314.5h0.9v0.9h-0.9zM390.8 314.3h0.9v0.9h-0.9zM386.3 315.8h0.9v0.9h-0.9zM386.0 314.2h0.9v0.9h-0.9zM389.7 316.4h0.9v0.9h-0.9zM386.5 316.4h0.9v0.9h-0.9zM387.1 316.2h0.9v0.9h-0.9zM385.4 314.2h0.9v0.9h-0.9z" fill="#2a9ad0"/>
<path d="M388.8 314.2h0.9v0.9h-0.9zM389.3 314.0h0.9v0.9h-0.9zM388.0 316.5h0.9v0.9h-0.9zM386.8 315.3h0.9v0.9h-0.9zM389.5 315.0h0.9v0.9h-0.9zM389.0 315.9h0.9v0.9h-0.9zM387.2 315.5h0.9v0.9h-0.9zM389.5 315.4h0.9v0.9h-0.9zM388.3 314.5h0.9v0.9h-0.9zM389.1 316.3h0.9v0.9h-0.9zM389.1 316.5h0.9v0.9h-0.9zM387.8 316.3h0.9v0.9h-0.9zM389.0 313.6h0.9v0.9h-0.9zM389.2 316.1h0.9v0.9h-0.9zM387.9 314.6h0.9v0.9h-0.9zM388.8 314.8h0.9v0.9h-0.9zM389.2 315.9h0.9v0.9h-0.9zM386.6 314.9h0.9v0.9h-0.9zM389.0 315.6h0.9v0.9h-0.9zM387.7 316.0h0.9v0.9h-0.9zM389.8 314.9h0.9v0.9h-0.9zM388.4 315.6h0.9v0.9h-0.9zM387.8 314.0h0.9v0.9h-0.9zM388.4 314.5h0.9v0.9h-0.9zM389.3 316.4h0.9v0.9h-0.9zM388.8 314.2h0.9v0.9h-0.9zM388.1 315.4h0.9v0.9h-0.9zM388.9 315.0h0.9v0.9h-0.9zM389.1 316.1h0.9v0.9h-0.9zM386.7 314.8h0.9v0.9h-0.9zM388.3 315.0h0.9v0.9h-0.9zM388.0 314.1h0.9v0.9h-0.9zM387.2 314.7h0.9v0.9h-0.9zM388.3 314.5h0.9v0.9h-0.9zM390.2 314.7h0.9v0.9h-0.9zM388.8 315.0h0.9v0.9h-0.9zM388.8 314.2h0.9v0.9h-0.9zM389.2 315.3h0.9v0.9h-0.9zM387.0 314.7h0.9v0.9h-0.9zM389.0 313.9h0.9v0.9h-0.9zM389.5 315.3h0.9v0.9h-0.9zM388.3 315.7h0.9v0.9h-0.9zM388.0 314.7h0.9v0.9h-0.9zM387.5 313.8h0.9v0.9h-0.9zM388.3 316.0h0.9v0.9h-0.9zM388.2 313.8h0.9v0.9h-0.9zM390.2 315.3h0.9v0.9h-0.9zM386.9 314.7h0.9v0.9h-0.9zM387.9 314.9h0.9v0.9h-0.9zM387.5 315.8h0.9v0.9h-0.9zM389.0 313.7h0.9v0.9h-0.9zM388.6 313.8h0.9v0.9h-0.9zM386.8 315.3h0.9v0.9h-0.9zM389.6 315.2h0.9v0.9h-0.9zM387.8 315.1h0.9v0.9h-0.9zM390.2 314.7h0.9v0.9h-0.9zM388.2 315.4h0.9v0.9h-0.9zM387.3 315.5h0.9v0.9h-0.9zM387.8 315.3h0.9v0.9h-0.9zM389.0 315.1h0.9v0.9h-0.9zM388.7 313.9h0.9v0.9h-0.9zM386.9 314.9h0.9v0.9h-0.9zM388.6 315.1h0.9v0.9h-0.9zM388.8 314.7h0.9v0.9h-0.9zM389.0 313.6h0.9v0.9h-0.9zM386.7 315.3h0.9v0.9h-0.9zM388.7 314.0h0.9v0.9h-0.9zM387.2 315.4h0.9v0.9h-0.9zM388.1 313.9h0.9v0.9h-0.9zM388.8 315.1h0.9v0.9h-0.9zM387.1 314.7h0.9v0.9h-0.9z" fill="#30b8b0"/>
<rect x="342.40" y="286.60" width="63.30" height="62.10" stroke="#1a1a1a" stroke-width="1.0" fill="none"/>
<path d="M339.6 348.7H342.4M340.6 344.0H342.4M340.6 341.2H342.4M340.6 339.4H342.4M340.6 337.8H342.4M340.6 336.6H342.4M340.6 335.5H342.4M340.6 334.7H342.4M340.6 334.0H342.4M339.6 333.2H342.4M340.6 328.5H342.4M340.6 325.7H342.4M340.6 323.9H342.4M340.6 322.3H342.4M340.6 321.1H342.4M340.6 320.0H342.4M340.6 319.2H342.4M340.6 318.4H342.4M339.6 317.6H342.4M340.6 313.0H342.4M340.6 310.2H342.4M340.6 308.3H342.4M340.6 306.8H342.4M340.6 305.5H342.4M340.6 304.5H342.4M340.6 303.7H342.4M340.6 302.9H342.4M339.6 302.1H342.4M340.6 297.5H342.4M340.6 294.7H342.4M340.6 292.8H342.4M340.6 291.3H342.4M340.6 290.0H342.4M340.6 288.9H342.4M340.6 288.2H342.4M340.6 287.4H342.4M342.4 348.7V351.5M347.1 348.7V350.5M350.0 348.7V350.5M351.9 348.7V350.5M353.5 348.7V350.5M354.7 348.7V350.5M355.9 348.7V350.5M356.6 348.7V350.5M357.4 348.7V350.5M358.2 348.7V351.5M363.0 348.7V350.5M365.8 348.7V350.5M367.7 348.7V350.5M369.3 348.7V350.5M370.6 348.7V350.5M371.7 348.7V350.5M372.5 348.7V350.5M373.3 348.7V350.5M374.0 348.7V351.5M378.8 348.7V350.5M381.6 348.7V350.5M383.5 348.7V350.5M385.1 348.7V350.5M386.4 348.7V350.5M387.5 348.7V350.5M388.3 348.7V350.5M389.1 348.7V350.5M389.9 348.7V351.5M394.6 348.7V350.5M397.5 348.7V350.5M399.4 348.7V350.5M401.0 348.7V350.5M402.2 348.7V350.5M403.3 348.7V350.5M404.1 348.7V350.5M404.9 348.7V350.5" stroke="#000" stroke-width="0.9" fill="none"/>
<path d="M426.8 345.3h0.7v0.7h-0.7zM442.7 334.4h0.7v0.7h-0.7zM444.1 329.6h0.7v0.7h-0.7zM438.9 339.1h0.7v0.7h-0.7zM427.8 329.9h0.7v0.7h-0.7zM426.4 341.4h0.7v0.7h-0.7zM429.8 334.6h0.7v0.7h-0.7zM435.3 338.0h0.7v0.7h-0.7zM440.1 329.4h0.7v0.7h-0.7zM449.9 333.3h0.7v0.7h-0.7zM440.5 331.2h0.7v0.7h-0.7zM435.3 333.5h0.7v0.7h-0.7zM439.0 336.1h0.7v0.7h-0.7zM441.3 331.9h0.7v0.7h-0.7zM438.2 337.8h0.7v0.7h-0.7zM449.2 337.7h0.7v0.7h-0.7zM436.4 327.9h0.7v0.7h-0.7zM439.7 334.5h0.7v0.7h-0.7zM439.5 336.4h0.7v0.7h-0.7zM434.5 335.7h0.7v0.7h-0.7zM438.0 332.4h0.7v0.7h-0.7zM441.9 331.7h0.7v0.7h-0.7zM433.6 339.6h0.7v0.7h-0.7zM437.7 330.6h0.7v0.7h-0.7zM444.1 334.8h0.7v0.7h-0.7zM440.7 331.8h0.7v0.7h-0.7zM445.3 327.4h0.7v0.7h-0.7zM446.6 339.7h0.7v0.7h-0.7zM431.3 337.0h0.7v0.7h-0.7zM424.1 337.9h0.7v0.7h-0.7zM423.0 331.1h0.7v0.7h-0.7zM441.0 338.8h0.7v0.7h-0.7zM441.6 331.9h0.7v0.7h-0.7zM431.9 335.7h0.7v0.7h-0.7zM458.6 335.9h0.7v0.7h-0.7zM426.6 333.3h0.7v0.7h-0.7zM427.5 339.7h0.7v0.7h-0.7zM433.7 327.1h0.7v0.7h-0.7zM435.9 332.0h0.7v0.7h-0.7zM429.2 334.5h0.7v0.7h-0.7zM443.5 327.6h0.7v0.7h-0.7zM433.2 327.8h0.7v0.7h-0.7zM436.5 341.5h0.7v0.7h-0.7zM441.3 329.4h0.7v0.7h-0.7zM434.9 341.4h0.7v0.7h-0.7zM436.3 331.8h0.7v0.7h-0.7zM446.5 329.7h0.7v0.7h-0.7zM433.1 337.6h0.7v0.7h-0.7zM427.6 334.7h0.7v0.7h-0.7zM432.5 336.5h0.7v0.7h-0.7zM440.0 343.3h0.7v0.7h-0.7zM444.0 332.9h0.7v0.7h-0.7zM442.8 332.0h0.7v0.7h-0.7zM441.5 336.5h0.7v0.7h-0.7zM444.2 340.1h0.7v0.7h-0.7zM442.2 329.6h0.7v0.7h-0.7zM439.4 328.2h0.7v0.7h-0.7zM452.1 320.9h0.7v0.7h-0.7zM438.4 336.9h0.7v0.7h-0.7zM430.9 334.1h0.7v0.7h-0.7zM445.1 326.1h0.7v0.7h-0.7zM445.5 331.1h0.7v0.7h-0.7zM438.4 344.5h0.7v0.7h-0.7zM445.1 334.5h0.7v0.7h-0.7zM436.9 335.6h0.7v0.7h-0.7zM439.7 343.4h0.7v0.7h-0.7zM439.2 330.2h0.7v0.7h-0.7zM435.2 337.2h0.7v0.7h-0.7zM429.1 332.8h0.7v0.7h-0.7zM423.1 326.3h0.7v0.7h-0.7zM456.0 328.4h0.7v0.7h-0.7zM453.2 333.3h0.7v0.7h-0.7zM439.6 328.3h0.7v0.7h-0.7zM438.7 335.1h0.7v0.7h-0.7zM432.7 339.6h0.7v0.7h-0.7zM449.0 334.0h0.7v0.7h-0.7zM438.3 325.5h0.7v0.7h-0.7zM461.5 332.1h0.7v0.7h-0.7zM428.2 331.1h0.7v0.7h-0.7zM432.3 330.8h0.7v0.7h-0.7zM438.0 330.0h0.7v0.7h-0.7zM439.2 331.8h0.7v0.7h-0.7zM435.2 329.0h0.7v0.7h-0.7zM440.5 335.2h0.7v0.7h-0.7zM430.3 327.9h0.7v0.7h-0.7zM436.9 325.3h0.7v0.7h-0.7zM433.1 338.1h0.7v0.7h-0.7zM448.1 330.2h0.7v0.7h-0.7zM442.9 339.8h0.7v0.7h-0.7zM429.8 334.3h0.7v0.7h-0.7zM442.5 340.0h0.7v0.7h-0.7zM427.7 330.7h0.7v0.7h-0.7zM447.6 338.0h0.7v0.7h-0.7zM433.6 335.7h0.7v0.7h-0.7zM445.6 331.0h0.7v0.7h-0.7zM423.7 339.1h0.7v0.7h-0.7zM444.0 325.9h0.7v0.7h-0.7zM448.0 329.8h0.7v0.7h-0.7zM424.4 338.9h0.7v0.7h-0.7zM428.1 343.9h0.7v0.7h-0.7zM444.3 341.7h0.7v0.7h-0.7zM425.2 338.2h0.7v0.7h-0.7zM451.0 336.9h0.7v0.7h-0.7zM443.6 334.5h0.7v0.7h-0.7zM444.5 337.6h0.7v0.7h-0.7zM450.0 321.7h0.7v0.7h-0.7zM429.4 333.3h0.7v0.7h-0.7zM440.2 335.5h0.7v0.7h-0.7zM435.3 334.4h0.7v0.7h-0.7zM445.7 338.3h0.7v0.7h-0.7zM431.5 334.4h0.7v0.7h-0.7zM441.8 346.1h0.7v0.7h-0.7zM433.3 336.9h0.7v0.7h-0.7zM437.9 331.8h0.7v0.7h-0.7zM445.3 331.7h0.7v0.7h-0.7zM434.3 335.4h0.7v0.7h-0.7zM439.3 330.3h0.7v0.7h-0.7zM433.6 341.0h0.7v0.7h-0.7zM434.5 339.7h0.7v0.7h-0.7zM435.4 330.1h0.7v0.7h-0.7zM426.6 328.0h0.7v0.7h-0.7zM443.8 335.6h0.7v0.7h-0.7zM432.8 329.4h0.7v0.7h-0.7zM433.3 335.6h0.7v0.7h-0.7zM446.3 327.9h0.7v0.7h-0.7zM424.4 338.4h0.7v0.7h-0.7zM433.2 330.4h0.7v0.7h-0.7zM423.2 340.4h0.7v0.7h-0.7zM446.7 325.7h0.7v0.7h-0.7zM424.5 334.1h0.7v0.7h-0.7zM435.1 336.8h0.7v0.7h-0.7zM435.2 325.1h0.7v0.7h-0.7zM439.2 334.4h0.7v0.7h-0.7zM432.8 336.1h0.7v0.7h-0.7zM425.4 334.7h0.7v0.7h-0.7zM425.8 336.4h0.7v0.7h-0.7zM439.9 322.3h0.7v0.7h-0.7zM437.7 337.1h0.7v0.7h-0.7zM440.6 340.9h0.7v0.7h-0.7zM438.9 344.3h0.7v0.7h-0.7zM435.9 327.5h0.7v0.7h-0.7zM434.8 330.6h0.7v0.7h-0.7zM448.4 339.1h0.7v0.7h-0.7zM451.3 333.9h0.7v0.7h-0.7zM435.3 331.2h0.7v0.7h-0.7zM429.2 339.4h0.7v0.7h-0.7zM427.0 335.1h0.7v0.7h-0.7zM439.5 335.4h0.7v0.7h-0.7zM424.6 330.6h0.7v0.7h-0.7zM429.1 340.4h0.7v0.7h-0.7zM427.1 331.7h0.7v0.7h-0.7zM443.1 337.1h0.7v0.7h-0.7zM452.0 329.8h0.7v0.7h-0.7zM442.4 323.2h0.7v0.7h-0.7zM443.5 336.8h0.7v0.7h-0.7zM444.5 329.6h0.7v0.7h-0.7zM451.0 338.9h0.7v0.7h-0.7zM438.0 334.2h0.7v0.7h-0.7zM434.9 333.2h0.7v0.7h-0.7zM436.2 327.7h0.7v0.7h-0.7zM426.8 335.5h0.7v0.7h-0.7zM435.0 339.7h0.7v0.7h-0.7zM434.8 329.7h0.7v0.7h-0.7zM423.4 336.0h0.7v0.7h-0.7zM427.0 327.4h0.7v0.7h-0.7zM450.2 320.5h0.7v0.7h-0.7zM454.8 345.5h0.7v0.7h-0.7zM438.2 331.6h0.7v0.7h-0.7zM442.1 328.2h0.7v0.7h-0.7zM440.6 337.4h0.7v0.7h-0.7zM430.3 344.2h0.7v0.7h-0.7zM439.1 335.3h0.7v0.7h-0.7zM446.6 324.4h0.7v0.7h-0.7zM428.7 338.1h0.7v0.7h-0.7zM440.8 332.1h0.7v0.7h-0.7zM437.0 333.1h0.7v0.7h-0.7zM428.9 329.6h0.7v0.7h-0.7zM432.4 336.2h0.7v0.7h-0.7zM439.8 327.0h0.7v0.7h-0.7zM454.6 341.8h0.7v0.7h-0.7zM438.6 329.6h0.7v0.7h-0.7zM437.6 338.2h0.7v0.7h-0.7zM439.7 343.4h0.7v0.7h-0.7zM437.0 339.2h0.7v0.7h-0.7zM444.6 344.0h0.7v0.7h-0.7zM441.9 335.5h0.7v0.7h-0.7zM431.0 334.5h0.7v0.7h-0.7zM438.3 332.9h0.7v0.7h-0.7zM438.9 335.9h0.7v0.7h-0.7zM440.2 324.2h0.7v0.7h-0.7zM448.2 331.7h0.7v0.7h-0.7zM440.1 343.0h0.7v0.7h-0.7zM439.2 329.6h0.7v0.7h-0.7zM432.5 339.7h0.7v0.7h-0.7zM438.8 334.6h0.7v0.7h-0.7zM428.3 337.6h0.7v0.7h-0.7zM431.9 331.5h0.7v0.7h-0.7zM448.6 332.8h0.7v0.7h-0.7zM437.3 339.5h0.7v0.7h-0.7zM450.9 322.7h0.7v0.7h-0.7zM445.9 333.3h0.7v0.7h-0.7zM439.4 341.1h0.7v0.7h-0.7zM444.2 330.1h0.7v0.7h-0.7zM447.8 330.5h0.7v0.7h-0.7zM436.4 327.6h0.7v0.7h-0.7zM439.3 336.9h0.7v0.7h-0.7zM435.6 334.9h0.7v0.7h-0.7zM448.0 330.6h0.7v0.7h-0.7zM435.5 343.7h0.7v0.7h-0.7zM429.4 323.8h0.7v0.7h-0.7zM427.7 335.5h0.7v0.7h-0.7zM427.1 331.0h0.7v0.7h-0.7zM434.0 334.2h0.7v0.7h-0.7zM436.1 334.5h0.7v0.7h-0.7zM448.3 334.8h0.7v0.7h-0.7zM433.0 335.9h0.7v0.7h-0.7zM429.8 336.2h0.7v0.7h-0.7zM431.0 341.6h0.7v0.7h-0.7zM455.9 334.4h0.7v0.7h-0.7zM457.6 323.0h0.7v0.7h-0.7zM444.9 331.7h0.7v0.7h-0.7zM438.2 328.4h0.7v0.7h-0.7zM437.6 333.7h0.7v0.7h-0.7zM434.2 341.1h0.7v0.7h-0.7zM445.7 338.3h0.7v0.7h-0.7zM433.2 331.9h0.7v0.7h-0.7zM430.1 340.6h0.7v0.7h-0.7zM445.8 331.9h0.7v0.7h-0.7zM432.7 336.0h0.7v0.7h-0.7zM442.7 335.6h0.7v0.7h-0.7zM437.7 340.1h0.7v0.7h-0.7zM447.2 327.0h0.7v0.7h-0.7zM440.8 333.8h0.7v0.7h-0.7zM427.4 334.0h0.7v0.7h-0.7zM441.8 339.4h0.7v0.7h-0.7zM432.2 333.7h0.7v0.7h-0.7zM436.0 332.4h0.7v0.7h-0.7zM428.1 341.2h0.7v0.7h-0.7zM437.0 336.7h0.7v0.7h-0.7zM443.0 330.5h0.7v0.7h-0.7zM429.7 332.7h0.7v0.7h-0.7zM433.1 331.1h0.7v0.7h-0.7zM433.9 327.7h0.7v0.7h-0.7zM433.8 332.1h0.7v0.7h-0.7zM440.8 336.0h0.7v0.7h-0.7zM453.9 336.1h0.7v0.7h-0.7zM443.7 332.7h0.7v0.7h-0.7zM439.4 335.8h0.7v0.7h-0.7zM436.8 334.8h0.7v0.7h-0.7zM432.4 337.8h0.7v0.7h-0.7zM430.9 333.8h0.7v0.7h-0.7zM440.8 338.7h0.7v0.7h-0.7zM429.7 339.6h0.7v0.7h-0.7zM437.5 339.3h0.7v0.7h-0.7zM434.1 329.4h0.7v0.7h-0.7zM444.6 332.8h0.7v0.7h-0.7zM428.3 336.5h0.7v0.7h-0.7zM432.2 339.5h0.7v0.7h-0.7zM439.7 335.8h0.7v0.7h-0.7zM433.0 342.7h0.7v0.7h-0.7zM434.6 336.9h0.7v0.7h-0.7zM436.9 335.1h0.7v0.7h-0.7zM429.3 337.1h0.7v0.7h-0.7zM440.1 327.2h0.7v0.7h-0.7zM445.4 327.2h0.7v0.7h-0.7zM433.5 332.3h0.7v0.7h-0.7zM447.0 329.3h0.7v0.7h-0.7zM435.8 336.7h0.7v0.7h-0.7zM441.3 339.5h0.7v0.7h-0.7zM434.6 332.1h0.7v0.7h-0.7zM431.5 332.0h0.7v0.7h-0.7zM444.8 335.2h0.7v0.7h-0.7zM435.8 334.2h0.7v0.7h-0.7zM422.5 342.8h0.7v0.7h-0.7zM439.4 323.0h0.7v0.7h-0.7zM434.1 334.9h0.7v0.7h-0.7zM450.1 332.4h0.7v0.7h-0.7zM450.4 339.3h0.7v0.7h-0.7zM443.1 328.1h0.7v0.7h-0.7zM427.9 335.6h0.7v0.7h-0.7zM445.2 334.7h0.7v0.7h-0.7zM429.5 340.4h0.7v0.7h-0.7zM431.2 334.2h0.7v0.7h-0.7zM446.7 332.7h0.7v0.7h-0.7zM433.6 331.6h0.7v0.7h-0.7zM439.6 335.4h0.7v0.7h-0.7zM436.5 330.8h0.7v0.7h-0.7zM443.4 337.4h0.7v0.7h-0.7zM430.8 339.7h0.7v0.7h-0.7zM433.6 334.3h0.7v0.7h-0.7zM444.6 326.3h0.7v0.7h-0.7zM440.0 342.7h0.7v0.7h-0.7zM449.4 328.5h0.7v0.7h-0.7zM432.1 342.6h0.7v0.7h-0.7zM441.1 335.1h0.7v0.7h-0.7zM427.0 337.9h0.7v0.7h-0.7zM451.1 339.4h0.7v0.7h-0.7zM471.4 346.2h0.7v0.7h-0.7zM469.9 340.9h0.7v0.7h-0.7zM462.7 338.9h0.7v0.7h-0.7zM472.5 338.3h0.7v0.7h-0.7zM451.8 338.5h0.7v0.7h-0.7zM466.7 338.2h0.7v0.7h-0.7zM461.5 334.1h0.7v0.7h-0.7zM456.3 334.6h0.7v0.7h-0.7zM453.4 339.3h0.7v0.7h-0.7zM463.5 335.5h0.7v0.7h-0.7zM453.4 333.5h0.7v0.7h-0.7zM459.3 335.9h0.7v0.7h-0.7zM458.6 335.2h0.7v0.7h-0.7zM469.4 339.0h0.7v0.7h-0.7zM464.5 339.0h0.7v0.7h-0.7zM473.8 333.9h0.7v0.7h-0.7zM463.4 346.8h0.7v0.7h-0.7zM460.2 345.0h0.7v0.7h-0.7zM460.2 345.9h0.7v0.7h-0.7zM451.2 344.4h0.7v0.7h-0.7zM457.7 339.0h0.7v0.7h-0.7zM464.2 338.0h0.7v0.7h-0.7zM456.7 343.5h0.7v0.7h-0.7zM453.9 339.7h0.7v0.7h-0.7zM467.0 337.1h0.7v0.7h-0.7zM468.0 335.9h0.7v0.7h-0.7zM462.1 341.2h0.7v0.7h-0.7zM452.0 344.3h0.7v0.7h-0.7zM469.7 337.7h0.7v0.7h-0.7zM460.8 339.8h0.7v0.7h-0.7zM451.6 336.7h0.7v0.7h-0.7zM459.9 340.5h0.7v0.7h-0.7zM467.9 338.4h0.7v0.7h-0.7zM456.9 343.7h0.7v0.7h-0.7zM465.1 339.5h0.7v0.7h-0.7zM461.7 338.0h0.7v0.7h-0.7zM459.4 330.9h0.7v0.7h-0.7zM449.6 344.5h0.7v0.7h-0.7zM456.4 335.6h0.7v0.7h-0.7zM466.7 342.6h0.7v0.7h-0.7zM471.1 341.9h0.7v0.7h-0.7zM458.6 341.4h0.7v0.7h-0.7zM464.0 340.2h0.7v0.7h-0.7zM457.6 338.1h0.7v0.7h-0.7zM451.8 339.6h0.7v0.7h-0.7zM462.3 334.7h0.7v0.7h-0.7zM455.1 345.1h0.7v0.7h-0.7zM455.3 342.3h0.7v0.7h-0.7zM453.5 331.6h0.7v0.7h-0.7zM462.3 343.2h0.7v0.7h-0.7zM461.4 340.1h0.7v0.7h-0.7zM468.8 338.9h0.7v0.7h-0.7zM455.1 341.4h0.7v0.7h-0.7zM466.2 341.8h0.7v0.7h-0.7zM455.1 339.7h0.7v0.7h-0.7zM458.3 342.9h0.7v0.7h-0.7zM450.1 344.6h0.7v0.7h-0.7zM451.4 341.9h0.7v0.7h-0.7zM457.8 338.1h0.7v0.7h-0.7zM463.1 334.6h0.7v0.7h-0.7zM463.3 338.7h0.7v0.7h-0.7zM451.5 344.6h0.7v0.7h-0.7zM452.3 342.9h0.7v0.7h-0.7zM457.3 338.4h0.7v0.7h-0.7zM467.9 341.4h0.7v0.7h-0.7zM458.3 344.1h0.7v0.7h-0.7zM456.0 342.5h0.7v0.7h-0.7zM456.3 343.3h0.7v0.7h-0.7zM454.4 339.7h0.7v0.7h-0.7zM463.9 334.2h0.7v0.7h-0.7zM458.5 341.9h0.7v0.7h-0.7zM456.6 338.4h0.7v0.7h-0.7zM463.6 343.9h0.7v0.7h-0.7zM450.1 336.0h0.7v0.7h-0.7zM443.7 339.6h0.7v0.7h-0.7zM463.0 335.9h0.7v0.7h-0.7zM452.0 341.7h0.7v0.7h-0.7zM468.0 331.4h0.7v0.7h-0.7zM463.3 342.7h0.7v0.7h-0.7zM463.5 339.6h0.7v0.7h-0.7zM450.4 340.2h0.7v0.7h-0.7zM430.5 346.2h0.7v0.7h-0.7zM446.1 342.6h0.7v0.7h-0.7zM423.2 333.7h0.7v0.7h-0.7zM434.6 327.5h0.7v0.7h-0.7zM431.2 322.7h0.7v0.7h-0.7zM439.0 327.1h0.7v0.7h-0.7zM438.9 336.0h0.7v0.7h-0.7zM433.3 328.2h0.7v0.7h-0.7zM448.2 338.7h0.7v0.7h-0.7zM429.9 340.4h0.7v0.7h-0.7zM443.4 333.0h0.7v0.7h-0.7zM450.3 335.4h0.7v0.7h-0.7zM418.8 333.9h0.7v0.7h-0.7zM461.7 342.4h0.7v0.7h-0.7zM458.6 333.3h0.7v0.7h-0.7zM448.6 333.7h0.7v0.7h-0.7zM437.0 326.5h0.7v0.7h-0.7zM438.7 341.2h0.7v0.7h-0.7zM440.3 321.2h0.7v0.7h-0.7zM446.7 326.4h0.7v0.7h-0.7zM445.9 328.5h0.7v0.7h-0.7zM460.5 332.7h0.7v0.7h-0.7zM453.3 324.2h0.7v0.7h-0.7zM436.1 335.1h0.7v0.7h-0.7zM419.0 330.1h0.7v0.7h-0.7zM431.1 334.8h0.7v0.7h-0.7zM439.5 322.5h0.7v0.7h-0.7zM454.9 338.5h0.7v0.7h-0.7zM430.1 340.9h0.7v0.7h-0.7zM435.3 330.0h0.7v0.7h-0.7zM419.9 315.7h0.7v0.7h-0.7zM442.7 342.0h0.7v0.7h-0.7zM447.4 338.5h0.7v0.7h-0.7zM465.9 323.9h0.7v0.7h-0.7zM435.0 330.5h0.7v0.7h-0.7zM451.4 338.8h0.7v0.7h-0.7zM443.1 340.0h0.7v0.7h-0.7zM437.6 322.9h0.7v0.7h-0.7zM444.2 338.8h0.7v0.7h-0.7zM478.5 331.8h0.7v0.7h-0.7zM442.1 322.6h0.7v0.7h-0.7zM460.5 335.7h0.7v0.7h-0.7zM440.9 331.1h0.7v0.7h-0.7zM443.2 340.8h0.7v0.7h-0.7z" fill="#4555bb" fill-opacity="0.7"/>
<path d="M424 334h17v1h-17zM419 335h24v1h-24zM418 336h26v1h-26zM418 337h26v1h-26zM455 337h9v1h-9zM418 338h26v1h-26zM454 338h12v1h-12zM418 339h26v1h-26zM453 339h13v1h-13zM418 340h26v1h-26zM453 340h14v1h-14zM418 341h25v1h-25zM453 341h14v1h-14zM418 342h24v1h-24zM453 342h13v1h-13zM418 343h22v1h-22zM454 343h12v1h-12zM418 344h18v1h-18zM455 344h10v1h-10zM418 345h12v1h-12zM457 345h6v1h-6z" fill="#2a3aa8" shape-rendering="crispEdges"/>
<path d="M431 334h7v1h-7zM424 335h17v1h-17zM418 336h24v1h-24zM418 337h24v1h-24zM457 337h6v1h-6zM418 338h24v1h-24zM455 338h10v1h-10zM418 339h24v1h-24zM454 339h11v1h-11zM418 340h24v1h-24zM454 340h12v1h-12zM418 341h23v1h-23zM454 341h12v1h-12zM418 342h22v1h-22zM454 342h12v1h-12zM418 343h19v1h-19zM454 343h11v1h-11zM418 344h14v1h-14zM456 344h8v1h-8zM420 345h2v1h-2zM423 345h1v1h-1z" fill="#2850c4" shape-rendering="crispEdges"/>
<path d="M426 335h2v1h-2zM429 335h9v1h-9zM421 336h18v1h-18zM418 337h22v1h-22zM418 338h23v1h-23zM456 338h8v1h-8zM418 339h23v1h-23zM455 339h10v1h-10zM418 340h23v1h-23zM455 340h10v1h-10zM418 341h22v1h-22zM455 341h10v1h-10zM418 342h20v1h-20zM455 342h10v1h-10zM418 343h16v1h-16zM455 343h9v1h-9zM418 344h8v1h-8zM457 344h5v1h-5z" fill="#2a72d2" shape-rendering="crispEdges"/>
<path d="M433 335h1v1h-1zM425 336h12v1h-12zM419 337h19v1h-19zM418 338h20v1h-20zM457 338h6v1h-6zM418 339h21v1h-21zM455 339h9v1h-9zM418 340h21v1h-21zM455 340h10v1h-10zM418 341h20v1h-20zM455 341h10v1h-10zM418 342h18v1h-18zM455 342h9v1h-9zM418 343h13v1h-13zM456 343h8v1h-8zM420 344h1v1h-1z" fill="#2a9ad0" shape-rendering="crispEdges"/>
<path d="M432 336h4v1h-4zM422 337h14v1h-14zM419 338h1v1h-1zM421 338h15v1h-15zM458 338h4v1h-4zM419 339h18v1h-18zM456 339h8v1h-8zM419 340h18v1h-18zM455 340h9v1h-9zM419 341h16v1h-16zM455 341h9v1h-9zM420 342h12v1h-12zM456 342h8v1h-8zM457 343h6v1h-6z" fill="#2cb6bc" shape-rendering="crispEdges"/>
<path d="M429 337h2v1h-2zM432 337h3v1h-3zM422 338h11v1h-11zM434 338h1v1h-1zM459 338h1v1h-1zM424 339h11v1h-11zM457 339h6v1h-6zM423 340h11v1h-11zM456 340h8v1h-8zM422 341h4v1h-4zM427 341h4v1h-4zM433 341h1v1h-1zM456 341h8v1h-8zM425 342h1v1h-1zM456 342h7v1h-7zM458 343h4v1h-4z" fill="#52c290" shape-rendering="crispEdges"/>
<path d="M432 339h1v1h-1zM458 339h4v1h-4zM428 340h1v1h-1zM457 340h6v1h-6zM456 341h7v1h-7zM457 342h6v1h-6z" fill="#8cc858" shape-rendering="crispEdges"/>
<path d="M458 339h4v1h-4zM457 340h6v1h-6zM457 341h6v1h-6zM457 342h6v1h-6z" fill="#c8d034" shape-rendering="crispEdges"/>
<path d="M459 339h2v1h-2zM458 340h5v1h-5zM457 341h6v1h-6zM458 342h4v1h-4z" fill="#f0d424" shape-rendering="crispEdges"/>
<path d="M458 340h4v1h-4zM458 341h4v1h-4z" fill="#f09020" shape-rendering="crispEdges"/>
<path d="M458 340h3v1h-3zM458 341h1v1h-1zM460 341h2v1h-2z" fill="#e02820" shape-rendering="crispEdges"/>
<path d="M458.2 320.3h0.8v0.8h-0.8zM456.5 311.2h0.8v0.8h-0.8zM455.6 317.0h0.8v0.8h-0.8zM464.7 310.2h0.8v0.8h-0.8zM457.1 318.3h0.8v0.8h-0.8zM465.5 319.2h0.8v0.8h-0.8zM459.5 306.9h0.8v0.8h-0.8zM461.5 307.7h0.8v0.8h-0.8zM456.7 311.9h0.8v0.8h-0.8zM463.4 309.2h0.8v0.8h-0.8zM466.1 318.5h0.8v0.8h-0.8zM461.6 308.3h0.8v0.8h-0.8zM457.0 318.4h0.8v0.8h-0.8zM467.0 319.4h0.8v0.8h-0.8zM467.9 313.5h0.8v0.8h-0.8zM463.9 319.9h0.8v0.8h-0.8zM463.1 321.7h0.8v0.8h-0.8zM467.1 317.5h0.8v0.8h-0.8zM466.2 320.2h0.8v0.8h-0.8zM465.7 320.4h0.8v0.8h-0.8zM463.6 307.8h0.8v0.8h-0.8zM461.9 309.2h0.8v0.8h-0.8zM458.8 320.5h0.8v0.8h-0.8zM462.7 308.9h0.8v0.8h-0.8zM456.6 310.5h0.8v0.8h-0.8zM464.7 310.5h0.8v0.8h-0.8zM456.0 313.7h0.8v0.8h-0.8zM468.4 317.5h0.8v0.8h-0.8zM459.4 322.4h0.8v0.8h-0.8zM464.6 322.1h0.8v0.8h-0.8zM457.3 311.5h0.8v0.8h-0.8zM467.0 315.9h0.8v0.8h-0.8zM460.0 321.5h0.8v0.8h-0.8zM458.8 308.6h0.8v0.8h-0.8zM467.1 313.4h0.8v0.8h-0.8zM461.4 320.5h0.8v0.8h-0.8zM460.9 320.0h0.8v0.8h-0.8zM453.9 311.8h0.8v0.8h-0.8zM457.9 309.1h0.8v0.8h-0.8z" fill="#5060c0" fill-opacity="0.8"/>
<path d="M458.8 317.8h0.9v0.9h-0.9zM463.5 310.3h0.9v0.9h-0.9zM464.3 318.3h0.9v0.9h-0.9zM458.0 316.7h0.9v0.9h-0.9zM465.4 318.5h0.9v0.9h-0.9zM465.1 311.9h0.9v0.9h-0.9zM466.1 317.6h0.9v0.9h-0.9zM463.6 317.1h0.9v0.9h-0.9zM462.0 319.3h0.9v0.9h-0.9zM466.6 313.7h0.9v0.9h-0.9zM465.7 313.4h0.9v0.9h-0.9zM459.0 312.2h0.9v0.9h-0.9zM464.1 311.2h0.9v0.9h-0.9zM463.1 319.9h0.9v0.9h-0.9zM458.4 313.5h0.9v0.9h-0.9zM457.1 316.1h0.9v0.9h-0.9zM462.9 318.4h0.9v0.9h-0.9zM464.5 313.2h0.9v0.9h-0.9zM461.0 319.5h0.9v0.9h-0.9zM462.2 310.6h0.9v0.9h-0.9zM467.4 315.3h0.9v0.9h-0.9zM466.5 313.9h0.9v0.9h-0.9zM463.2 319.9h0.9v0.9h-0.9zM462.2 317.8h0.9v0.9h-0.9zM462.7 318.9h0.9v0.9h-0.9zM466.9 314.0h0.9v0.9h-0.9zM463.6 311.8h0.9v0.9h-0.9zM458.5 311.1h0.9v0.9h-0.9zM458.6 312.1h0.9v0.9h-0.9zM464.9 316.8h0.9v0.9h-0.9zM459.6 311.0h0.9v0.9h-0.9zM460.9 317.8h0.9v0.9h-0.9zM462.5 320.3h0.9v0.9h-0.9zM460.7 317.9h0.9v0.9h-0.9zM459.6 317.8h0.9v0.9h-0.9zM465.2 319.7h0.9v0.9h-0.9zM465.8 314.6h0.9v0.9h-0.9zM463.4 311.6h0.9v0.9h-0.9zM462.3 319.1h0.9v0.9h-0.9zM466.2 315.6h0.9v0.9h-0.9zM459.0 312.1h0.9v0.9h-0.9zM463.3 318.4h0.9v0.9h-0.9zM459.7 311.5h0.9v0.9h-0.9zM456.8 313.6h0.9v0.9h-0.9zM464.1 311.6h0.9v0.9h-0.9zM459.1 310.5h0.9v0.9h-0.9zM456.6 315.4h0.9v0.9h-0.9zM456.9 317.1h0.9v0.9h-0.9zM460.5 318.6h0.9v0.9h-0.9zM459.9 311.5h0.9v0.9h-0.9zM465.6 315.7h0.9v0.9h-0.9zM464.3 317.3h0.9v0.9h-0.9zM463.2 319.3h0.9v0.9h-0.9zM462.3 319.3h0.9v0.9h-0.9zM460.4 310.3h0.9v0.9h-0.9zM464.5 319.2h0.9v0.9h-0.9zM463.8 312.5h0.9v0.9h-0.9zM459.9 317.9h0.9v0.9h-0.9zM458.4 315.3h0.9v0.9h-0.9zM461.9 318.2h0.9v0.9h-0.9zM458.3 316.6h0.9v0.9h-0.9zM465.9 315.8h0.9v0.9h-0.9zM459.4 318.4h0.9v0.9h-0.9zM456.6 314.7h0.9v0.9h-0.9zM461.2 317.9h0.9v0.9h-0.9zM460.9 318.0h0.9v0.9h-0.9zM464.3 317.5h0.9v0.9h-0.9zM465.1 312.9h0.9v0.9h-0.9zM463.7 319.6h0.9v0.9h-0.9zM461.6 317.9h0.9v0.9h-0.9zM459.4 318.0h0.9v0.9h-0.9zM458.2 316.7h0.9v0.9h-0.9zM457.3 314.7h0.9v0.9h-0.9zM460.3 318.4h0.9v0.9h-0.9zM459.2 318.1h0.9v0.9h-0.9zM465.3 318.1h0.9v0.9h-0.9zM456.8 316.9h0.9v0.9h-0.9zM459.8 319.2h0.9v0.9h-0.9zM459.4 318.0h0.9v0.9h-0.9z" fill="#3048c0"/>
<path d="M463.4 314.7h0.9v0.9h-0.9zM463.7 315.9h0.9v0.9h-0.9zM461.2 311.0h0.9v0.9h-0.9zM460.1 314.6h0.9v0.9h-0.9zM460.5 311.1h0.9v0.9h-0.9zM461.7 311.8h0.9v0.9h-0.9zM463.5 313.3h0.9v0.9h-0.9zM462.6 316.1h0.9v0.9h-0.9zM458.6 316.0h0.9v0.9h-0.9zM464.5 315.6h0.9v0.9h-0.9zM462.5 317.5h0.9v0.9h-0.9zM461.2 316.9h0.9v0.9h-0.9zM464.2 313.3h0.9v0.9h-0.9zM463.9 315.9h0.9v0.9h-0.9zM462.3 316.8h0.9v0.9h-0.9zM462.9 312.0h0.9v0.9h-0.9zM460.3 311.9h0.9v0.9h-0.9zM462.7 316.4h0.9v0.9h-0.9zM464.6 316.2h0.9v0.9h-0.9zM463.0 316.3h0.9v0.9h-0.9zM462.1 311.7h0.9v0.9h-0.9zM463.3 316.1h0.9v0.9h-0.9zM459.3 315.6h0.9v0.9h-0.9zM464.7 315.9h0.9v0.9h-0.9zM463.7 314.8h0.9v0.9h-0.9zM459.4 314.4h0.9v0.9h-0.9zM463.6 315.6h0.9v0.9h-0.9zM461.4 312.3h0.9v0.9h-0.9zM463.1 313.2h0.9v0.9h-0.9zM460.7 316.8h0.9v0.9h-0.9zM464.3 315.0h0.9v0.9h-0.9zM458.9 317.1h0.9v0.9h-0.9zM459.4 314.2h0.9v0.9h-0.9zM462.5 316.3h0.9v0.9h-0.9zM459.7 314.6h0.9v0.9h-0.9zM460.0 317.0h0.9v0.9h-0.9zM464.5 315.9h0.9v0.9h-0.9zM459.3 316.8h0.9v0.9h-0.9zM460.0 313.5h0.9v0.9h-0.9zM462.2 311.3h0.9v0.9h-0.9zM461.0 313.1h0.9v0.9h-0.9zM463.2 316.5h0.9v0.9h-0.9zM463.9 314.5h0.9v0.9h-0.9zM460.7 312.5h0.9v0.9h-0.9zM460.1 312.9h0.9v0.9h-0.9zM459.8 311.8h0.9v0.9h-0.9zM464.0 316.6h0.9v0.9h-0.9zM458.6 313.1h0.9v0.9h-0.9zM460.3 313.2h0.9v0.9h-0.9zM464.0 315.5h0.9v0.9h-0.9zM462.7 313.2h0.9v0.9h-0.9zM463.9 313.4h0.9v0.9h-0.9zM460.0 316.7h0.9v0.9h-0.9zM460.5 313.5h0.9v0.9h-0.9zM463.3 317.1h0.9v0.9h-0.9zM463.6 314.6h0.9v0.9h-0.9zM458.6 314.6h0.9v0.9h-0.9zM465.3 314.2h0.9v0.9h-0.9zM460.4 316.3h0.9v0.9h-0.9zM460.4 313.3h0.9v0.9h-0.9zM461.5 311.9h0.9v0.9h-0.9zM461.6 311.6h0.9v0.9h-0.9zM465.0 316.5h0.9v0.9h-0.9zM459.9 316.5h0.9v0.9h-0.9zM461.6 316.8h0.9v0.9h-0.9zM463.2 312.9h0.9v0.9h-0.9zM462.3 311.9h0.9v0.9h-0.9zM460.6 313.1h0.9v0.9h-0.9zM462.6 312.2h0.9v0.9h-0.9zM463.8 314.2h0.9v0.9h-0.9zM458.8 312.8h0.9v0.9h-0.9zM464.1 313.2h0.9v0.9h-0.9zM459.2 313.9h0.9v0.9h-0.9zM465.3 316.5h0.9v0.9h-0.9zM461.8 316.7h0.9v0.9h-0.9zM458.5 314.1h0.9v0.9h-0.9zM458.6 316.6h0.9v0.9h-0.9zM464.2 314.1h0.9v0.9h-0.9zM460.9 313.0h0.9v0.9h-0.9zM464.5 315.6h0.9v0.9h-0.9zM462.4 312.1h0.9v0.9h-0.9zM459.2 316.9h0.9v0.9h-0.9zM463.6 313.3h0.9v0.9h-0.9zM461.3 312.6h0.9v0.9h-0.9zM463.4 313.5h0.9v0.9h-0.9zM463.8 315.1h0.9v0.9h-0.9zM458.6 315.0h0.9v0.9h-0.9zM462.0 311.6h0.9v0.9h-0.9zM459.4 314.8h0.9v0.9h-0.9zM460.2 317.4h0.9v0.9h-0.9zM465.1 315.1h0.9v0.9h-0.9zM460.6 311.6h0.9v0.9h-0.9zM460.7 317.5h0.9v0.9h-0.9zM460.8 313.6h0.9v0.9h-0.9zM460.6 317.5h0.9v0.9h-0.9zM460.7 310.9h0.9v0.9h-0.9zM460.7 317.4h0.9v0.9h-0.9zM461.2 313.4h0.9v0.9h-0.9zM464.0 315.3h0.9v0.9h-0.9zM460.1 314.3h0.9v0.9h-0.9zM458.5 315.3h0.9v0.9h-0.9zM458.8 316.2h0.9v0.9h-0.9zM460.2 317.1h0.9v0.9h-0.9zM464.9 316.5h0.9v0.9h-0.9zM463.9 315.9h0.9v0.9h-0.9zM462.5 313.5h0.9v0.9h-0.9zM459.7 316.9h0.9v0.9h-0.9z" fill="#2a70d0"/>
<path d="M462.3 316.0h0.9v0.9h-0.9zM462.2 314.9h0.9v0.9h-0.9zM461.6 313.6h0.9v0.9h-0.9zM461.6 313.5h0.9v0.9h-0.9zM462.7 314.7h0.9v0.9h-0.9zM460.9 316.1h0.9v0.9h-0.9zM460.2 315.0h0.9v0.9h-0.9zM461.9 314.4h0.9v0.9h-0.9zM461.9 316.2h0.9v0.9h-0.9zM462.0 314.1h0.9v0.9h-0.9zM463.1 314.9h0.9v0.9h-0.9zM462.5 315.2h0.9v0.9h-0.9zM461.6 315.4h0.9v0.9h-0.9zM462.9 315.0h0.9v0.9h-0.9zM461.2 316.5h0.9v0.9h-0.9zM461.3 315.0h0.9v0.9h-0.9zM462.2 314.5h0.9v0.9h-0.9zM461.0 315.9h0.9v0.9h-0.9zM461.6 314.4h0.9v0.9h-0.9zM459.5 315.4h0.9v0.9h-0.9zM460.3 315.6h0.9v0.9h-0.9zM460.9 315.6h0.9v0.9h-0.9zM460.9 315.6h0.9v0.9h-0.9zM461.9 315.3h0.9v0.9h-0.9zM463.2 314.6h0.9v0.9h-0.9zM461.8 316.2h0.9v0.9h-0.9zM463.4 315.2h0.9v0.9h-0.9zM463.2 315.6h0.9v0.9h-0.9zM461.9 313.8h0.9v0.9h-0.9zM460.2 315.2h0.9v0.9h-0.9zM460.5 315.4h0.9v0.9h-0.9zM461.7 313.3h0.9v0.9h-0.9zM461.9 316.0h0.9v0.9h-0.9zM459.7 315.0h0.9v0.9h-0.9zM461.4 314.5h0.9v0.9h-0.9zM461.9 313.0h0.9v0.9h-0.9zM461.5 315.0h0.9v0.9h-0.9zM462.9 315.2h0.9v0.9h-0.9zM459.7 315.6h0.9v0.9h-0.9zM461.2 315.1h0.9v0.9h-0.9zM462.3 316.5h0.9v0.9h-0.9zM462.1 314.0h0.9v0.9h-0.9zM459.5 314.8h0.9v0.9h-0.9zM462.6 314.1h0.9v0.9h-0.9zM460.9 315.5h0.9v0.9h-0.9zM461.1 315.2h0.9v0.9h-0.9zM461.5 315.3h0.9v0.9h-0.9zM460.3 314.8h0.9v0.9h-0.9z" fill="#2a9ad0"/>
<rect x="417.40" y="286.70" width="63.20" height="61.80" stroke="#1a1a1a" stroke-width="1.0" fill="none"/>
<path d="M414.6 348.5H417.4M415.6 343.9H417.4M415.6 341.1H417.4M415.6 339.2H417.4M415.6 337.7H417.4M415.6 336.4H417.4M415.6 335.4H417.4M415.6 334.6H417.4M415.6 333.8H417.4M414.6 333.1H417.4M415.6 328.4H417.4M415.6 325.6H417.4M415.6 323.8H417.4M415.6 322.2H417.4M415.6 321.0H417.4M415.6 319.9H417.4M415.6 319.1H417.4M415.6 318.4H417.4M414.6 317.6H417.4M415.6 313.0H417.4M415.6 310.2H417.4M415.6 308.3H417.4M415.6 306.8H417.4M415.6 305.5H417.4M415.6 304.5H417.4M415.6 303.7H417.4M415.6 302.9H417.4M414.6 302.1H417.4M415.6 297.5H417.4M415.6 294.7H417.4M415.6 292.9H417.4M415.6 291.3H417.4M415.6 290.1H417.4M415.6 289.0H417.4M415.6 288.2H417.4M415.6 287.5H417.4M417.4 348.5V351.3M422.1 348.5V350.3M425.0 348.5V350.3M426.9 348.5V350.3M428.5 348.5V350.3M429.7 348.5V350.3M430.8 348.5V350.3M431.6 348.5V350.3M432.4 348.5V350.3M433.2 348.5V351.3M437.9 348.5V350.3M440.8 348.5V350.3M442.7 348.5V350.3M444.3 348.5V350.3M445.5 348.5V350.3M446.6 348.5V350.3M447.4 348.5V350.3M448.2 348.5V350.3M449.0 348.5V351.3M453.7 348.5V350.3M456.6 348.5V350.3M458.5 348.5V350.3M460.1 348.5V350.3M461.3 348.5V350.3M462.4 348.5V350.3M463.2 348.5V350.3M464.0 348.5V350.3M464.8 348.5V351.3M469.5 348.5V350.3M472.4 348.5V350.3M474.3 348.5V350.3M475.9 348.5V350.3M477.1 348.5V350.3M478.2 348.5V350.3M479.0 348.5V350.3M479.8 348.5V350.3" stroke="#000" stroke-width="0.9" fill="none"/>
<text x="268.80" y="293.10" font-size="6.9" textLength="42.40" lengthAdjust="spacingAndGlyphs">H2-ab1<tspan font-size="4.28" dy="-2.62">-/-</tspan><tspan dy="2.62"> BM</tspan></text>
<text x="344.40" y="293.60" font-size="6.9" textLength="27.90" lengthAdjust="spacingAndGlyphs">WT CD4<tspan font-size="4.28" dy="-2.62">+</tspan></text>
<text x="418.70" y="293.20" font-size="6.9" textLength="48.40" lengthAdjust="spacingAndGlyphs">GM-CSF<tspan font-size="4.28" dy="-2.62">-/-</tspan><tspan dy="2.62"> CD4</tspan></text>
<rect x="305.00" y="301.60" width="15.70" height="21.00" stroke="#222" stroke-width="0.95" fill="none"/>
<rect x="380.10" y="301.30" width="15.80" height="20.90" stroke="#222" stroke-width="0.95" fill="none"/>
<rect x="454.60" y="302.30" width="16.00" height="20.30" stroke="#222" stroke-width="0.95" fill="none"/>
<text x="307.30" y="299.50" font-size="6.8" textLength="13.90" lengthAdjust="spacingAndGlyphs">0.01</text>
<text x="381.80" y="299.90" font-size="6.8" textLength="14.20" lengthAdjust="spacingAndGlyphs">7.05</text>
<text x="456.70" y="301.00" font-size="6.8" textLength="14.70" lengthAdjust="spacingAndGlyphs">2.79</text>
<text x="259.80" y="349.50" font-size="9.2" textLength="23.50" lengthAdjust="spacingAndGlyphs" transform="rotate(-90 259.80 349.50)">CD45.1</text>
<line x1="256.20" y1="325.40" x2="256.20" y2="303.70" stroke="#1c1c1c" stroke-width="1.1"/>
<path d="M256.20,300.00 L254.10,304.20 L258.30,304.20 Z" fill="#1c1c1c"/>
<text x="268.00" y="363.60" font-size="9.2" textLength="14.00" lengthAdjust="spacingAndGlyphs">CD4</text>
<line x1="285.40" y1="361.20" x2="303.80" y2="361.20" stroke="#1c1c1c" stroke-width="1.1"/>
<path d="M307.50,361.20 L303.30,359.10 L303.30,363.30 Z" fill="#1c1c1c"/>
<text x="266.20" y="403.50" font-size="8.4" textLength="39.60" lengthAdjust="spacingAndGlyphs">WT CD4<tspan font-size="5.21" dy="-3.19">+</tspan></text>
<text x="252.90" y="492.10" font-size="8.4" textLength="65.40" lengthAdjust="spacingAndGlyphs">GM-CSF<tspan font-size="5.21" dy="-3.19">-/-</tspan><tspan dy="3.19"> CD4</tspan><tspan font-size="5.21" dy="-3.19">+</tspan></text>
<path d="M260.1 440.1h0.7v0.7h-0.7zM266.1 439.8h0.7v0.7h-0.7zM264.3 440.2h0.7v0.7h-0.7zM307.6 428.9h0.7v0.7h-0.7zM298.9 433.8h0.7v0.7h-0.7zM302.0 439.2h0.7v0.7h-0.7zM298.3 433.1h0.7v0.7h-0.7zM274.1 428.1h0.7v0.7h-0.7zM299.6 433.8h0.7v0.7h-0.7zM298.5 434.1h0.7v0.7h-0.7zM287.4 438.5h0.7v0.7h-0.7zM288.6 437.8h0.7v0.7h-0.7zM300.2 436.7h0.7v0.7h-0.7zM301.7 429.2h0.7v0.7h-0.7zM299.2 431.5h0.7v0.7h-0.7zM284.1 437.6h0.7v0.7h-0.7zM298.6 437.6h0.7v0.7h-0.7zM279.5 439.4h0.7v0.7h-0.7zM279.0 428.9h0.7v0.7h-0.7zM275.1 428.8h0.7v0.7h-0.7zM287.0 437.7h0.7v0.7h-0.7zM291.9 437.6h0.7v0.7h-0.7zM298.4 437.3h0.7v0.7h-0.7zM268.8 440.1h0.7v0.7h-0.7zM273.1 430.5h0.7v0.7h-0.7zM302.3 432.3h0.7v0.7h-0.7zM301.3 430.1h0.7v0.7h-0.7zM300.4 434.0h0.7v0.7h-0.7zM296.2 427.9h0.7v0.7h-0.7zM290.1 437.7h0.7v0.7h-0.7zM279.4 426.2h0.7v0.7h-0.7zM279.9 428.6h0.7v0.7h-0.7zM286.1 439.5h0.7v0.7h-0.7zM291.9 441.5h0.7v0.7h-0.7zM278.1 428.2h0.7v0.7h-0.7zM281.3 425.9h0.7v0.7h-0.7zM300.9 435.4h0.7v0.7h-0.7zM285.8 426.5h0.7v0.7h-0.7zM299.0 431.0h0.7v0.7h-0.7zM292.0 426.3h0.7v0.7h-0.7zM296.7 437.3h0.7v0.7h-0.7zM281.2 427.2h0.7v0.7h-0.7zM301.5 427.4h0.7v0.7h-0.7zM292.7 439.6h0.7v0.7h-0.7zM279.2 424.6h0.7v0.7h-0.7zM271.0 436.5h0.7v0.7h-0.7zM308.3 432.5h0.7v0.7h-0.7zM290.2 424.0h0.7v0.7h-0.7zM306.5 431.3h0.7v0.7h-0.7zM294.8 455.8h0.7v0.7h-0.7zM304.8 436.8h0.7v0.7h-0.7zM299.3 462.2h0.7v0.7h-0.7zM293.8 426.0h0.7v0.7h-0.7zM311.9 416.1h0.7v0.7h-0.7zM277.6 453.9h0.7v0.7h-0.7zM307.3 448.2h0.7v0.7h-0.7zM287.4 454.0h0.7v0.7h-0.7zM260.9 425.0h0.7v0.7h-0.7zM291.7 445.9h0.7v0.7h-0.7zM311.5 418.9h0.7v0.7h-0.7zM257.6 448.1h0.7v0.7h-0.7zM277.3 458.1h0.7v0.7h-0.7zM294.1 444.8h0.7v0.7h-0.7zM310.2 438.9h0.7v0.7h-0.7zM289.8 419.7h0.7v0.7h-0.7zM309.0 418.7h0.7v0.7h-0.7z" fill="#d2d2f2"/>
<path d="M267.2 435.4h0.75v0.75h-0.75zM259.2 437.2h0.75v0.75h-0.75zM256.9 436.6h0.75v0.75h-0.75zM266.4 437.4h0.75v0.75h-0.75zM257.1 427.7h0.75v0.75h-0.75zM259.2 428.3h0.75v0.75h-0.75zM268.4 433.0h0.75v0.75h-0.75zM265.2 437.6h0.75v0.75h-0.75zM266.6 435.6h0.75v0.75h-0.75zM263.5 440.1h0.75v0.75h-0.75zM271.1 434.0h0.75v0.75h-0.75zM261.2 438.1h0.75v0.75h-0.75zM257.1 431.3h0.75v0.75h-0.75zM262.3 438.8h0.75v0.75h-0.75zM265.6 437.5h0.75v0.75h-0.75zM266.6 428.8h0.75v0.75h-0.75zM264.2 437.5h0.75v0.75h-0.75zM269.5 435.8h0.75v0.75h-0.75zM268.7 434.8h0.75v0.75h-0.75zM257.6 434.5h0.75v0.75h-0.75zM260.0 435.9h0.75v0.75h-0.75zM270.1 432.5h0.75v0.75h-0.75zM259.0 437.7h0.75v0.75h-0.75zM267.1 435.3h0.75v0.75h-0.75zM269.8 435.3h0.75v0.75h-0.75zM267.7 429.1h0.75v0.75h-0.75zM267.4 437.1h0.75v0.75h-0.75zM267.8 429.1h0.75v0.75h-0.75zM260.0 435.6h0.75v0.75h-0.75zM258.4 428.6h0.75v0.75h-0.75zM260.0 437.8h0.75v0.75h-0.75zM266.4 428.6h0.75v0.75h-0.75zM262.4 426.5h0.75v0.75h-0.75zM268.2 435.2h0.75v0.75h-0.75zM257.8 427.6h0.75v0.75h-0.75zM262.0 438.6h0.75v0.75h-0.75zM264.0 439.3h0.75v0.75h-0.75zM270.6 434.6h0.75v0.75h-0.75zM260.6 438.3h0.75v0.75h-0.75zM260.1 429.0h0.75v0.75h-0.75zM263.3 425.6h0.75v0.75h-0.75zM286.3 431.8h0.75v0.75h-0.75zM288.2 435.3h0.75v0.75h-0.75zM284.1 435.7h0.75v0.75h-0.75zM293.8 434.2h0.75v0.75h-0.75zM295.2 429.8h0.75v0.75h-0.75zM291.3 434.6h0.75v0.75h-0.75zM290.3 431.2h0.75v0.75h-0.75zM273.5 434.1h0.75v0.75h-0.75zM285.9 434.5h0.75v0.75h-0.75zM289.3 435.4h0.75v0.75h-0.75zM270.9 433.1h0.75v0.75h-0.75zM276.7 433.1h0.75v0.75h-0.75zM271.6 434.7h0.75v0.75h-0.75zM268.4 429.4h0.75v0.75h-0.75zM282.5 432.4h0.75v0.75h-0.75zM279.2 434.5h0.75v0.75h-0.75zM288.2 432.6h0.75v0.75h-0.75zM290.7 433.6h0.75v0.75h-0.75zM292.7 433.5h0.75v0.75h-0.75zM282.8 432.6h0.75v0.75h-0.75zM287.6 430.9h0.75v0.75h-0.75zM290.6 435.1h0.75v0.75h-0.75zM286.7 431.8h0.75v0.75h-0.75zM289.3 433.7h0.75v0.75h-0.75zM283.2 433.5h0.75v0.75h-0.75zM297.7 436.8h0.75v0.75h-0.75zM288.0 433.9h0.75v0.75h-0.75zM290.9 430.9h0.75v0.75h-0.75zM283.6 434.1h0.75v0.75h-0.75zM282.5 430.9h0.75v0.75h-0.75zM294.8 432.6h0.75v0.75h-0.75zM277.8 429.7h0.75v0.75h-0.75zM291.6 431.6h0.75v0.75h-0.75zM289.2 433.9h0.75v0.75h-0.75zM286.7 433.1h0.75v0.75h-0.75zM289.2 429.5h0.75v0.75h-0.75zM289.8 431.8h0.75v0.75h-0.75zM280.0 432.9h0.75v0.75h-0.75zM281.5 433.3h0.75v0.75h-0.75zM270.4 433.3h0.75v0.75h-0.75zM287.3 437.0h0.75v0.75h-0.75zM279.7 436.9h0.75v0.75h-0.75zM271.0 433.2h0.75v0.75h-0.75zM276.7 430.3h0.75v0.75h-0.75zM282.8 431.0h0.75v0.75h-0.75zM277.2 432.6h0.75v0.75h-0.75zM291.4 433.0h0.75v0.75h-0.75zM274.5 434.4h0.75v0.75h-0.75zM289.5 429.7h0.75v0.75h-0.75zM295.3 437.1h0.75v0.75h-0.75zM297.2 433.6h0.75v0.75h-0.75zM277.3 431.7h0.75v0.75h-0.75zM269.4 431.6h0.75v0.75h-0.75zM287.0 431.1h0.75v0.75h-0.75zM295.9 434.4h0.75v0.75h-0.75zM286.5 430.3h0.75v0.75h-0.75zM291.9 431.8h0.75v0.75h-0.75zM289.2 435.6h0.75v0.75h-0.75zM288.7 433.2h0.75v0.75h-0.75zM271.7 431.3h0.75v0.75h-0.75zM283.6 431.6h0.75v0.75h-0.75zM289.9 429.0h0.75v0.75h-0.75zM275.5 434.9h0.75v0.75h-0.75zM294.2 430.8h0.75v0.75h-0.75zM296.5 432.7h0.75v0.75h-0.75zM279.8 435.0h0.75v0.75h-0.75zM288.9 437.0h0.75v0.75h-0.75zM276.2 433.5h0.75v0.75h-0.75zM274.9 432.9h0.75v0.75h-0.75zM275.3 434.6h0.75v0.75h-0.75zM277.5 432.7h0.75v0.75h-0.75zM287.2 430.2h0.75v0.75h-0.75zM280.0 433.9h0.75v0.75h-0.75zM288.5 431.9h0.75v0.75h-0.75zM293.2 434.9h0.75v0.75h-0.75zM277.4 433.5h0.75v0.75h-0.75zM289.9 429.1h0.75v0.75h-0.75zM276.3 433.6h0.75v0.75h-0.75zM282.4 435.3h0.75v0.75h-0.75zM290.6 431.5h0.75v0.75h-0.75zM294.6 433.1h0.75v0.75h-0.75zM293.7 431.1h0.75v0.75h-0.75zM278.6 436.2h0.75v0.75h-0.75zM297.3 432.1h0.75v0.75h-0.75zM276.5 433.9h0.75v0.75h-0.75zM285.8 430.5h0.75v0.75h-0.75zM292.6 429.2h0.75v0.75h-0.75zM287.0 431.8h0.75v0.75h-0.75zM290.5 434.5h0.75v0.75h-0.75zM276.5 431.2h0.75v0.75h-0.75zM292.8 435.9h0.75v0.75h-0.75zM287.7 428.5h0.75v0.75h-0.75zM280.8 432.3h0.75v0.75h-0.75zM288.2 430.4h0.75v0.75h-0.75zM295.9 430.6h0.75v0.75h-0.75zM296.5 436.6h0.75v0.75h-0.75zM274.4 430.0h0.75v0.75h-0.75zM277.9 432.8h0.75v0.75h-0.75zM287.3 430.0h0.75v0.75h-0.75zM280.4 432.5h0.75v0.75h-0.75zM290.0 430.3h0.75v0.75h-0.75zM287.5 434.4h0.75v0.75h-0.75zM293.9 430.8h0.75v0.75h-0.75zM288.3 433.1h0.75v0.75h-0.75zM290.1 431.8h0.75v0.75h-0.75zM284.6 435.8h0.75v0.75h-0.75zM282.4 432.3h0.75v0.75h-0.75zM283.9 433.5h0.75v0.75h-0.75zM294.8 436.0h0.75v0.75h-0.75zM272.8 433.2h0.75v0.75h-0.75zM284.4 435.6h0.75v0.75h-0.75zM295.7 432.0h0.75v0.75h-0.75zM290.7 434.4h0.75v0.75h-0.75zM284.9 429.2h0.75v0.75h-0.75zM284.2 431.7h0.75v0.75h-0.75zM277.7 432.4h0.75v0.75h-0.75zM270.1 430.6h0.75v0.75h-0.75zM289.1 432.7h0.75v0.75h-0.75zM279.9 435.3h0.75v0.75h-0.75zM271.5 433.8h0.75v0.75h-0.75zM279.6 432.2h0.75v0.75h-0.75zM268.2 432.2h0.75v0.75h-0.75zM288.9 432.9h0.75v0.75h-0.75zM266.8 436.0h0.75v0.75h-0.75zM287.7 433.7h0.75v0.75h-0.75zM291.3 431.1h0.75v0.75h-0.75zM294.1 433.9h0.75v0.75h-0.75zM281.3 432.6h0.75v0.75h-0.75zM287.4 430.2h0.75v0.75h-0.75zM281.8 431.3h0.75v0.75h-0.75zM289.3 433.1h0.75v0.75h-0.75zM276.4 431.7h0.75v0.75h-0.75zM276.9 431.9h0.75v0.75h-0.75zM282.7 435.3h0.75v0.75h-0.75zM274.3 434.3h0.75v0.75h-0.75zM297.3 433.8h0.75v0.75h-0.75zM280.3 436.9h0.75v0.75h-0.75zM275.0 432.7h0.75v0.75h-0.75z" fill="#b2b2e8"/>
<path d="M264.9 428.7h0.8v0.8h-0.8zM267.9 429.5h0.8v0.8h-0.8zM262.2 435.9h0.8v0.8h-0.8zM267.2 430.2h0.8v0.8h-0.8zM263.1 429.1h0.8v0.8h-0.8zM259.8 432.1h0.8v0.8h-0.8zM259.0 429.4h0.8v0.8h-0.8zM267.4 432.4h0.8v0.8h-0.8zM265.2 435.5h0.8v0.8h-0.8zM260.3 435.6h0.8v0.8h-0.8zM261.6 435.5h0.8v0.8h-0.8zM259.1 434.6h0.8v0.8h-0.8zM266.5 432.6h0.8v0.8h-0.8zM266.5 432.9h0.8v0.8h-0.8zM264.0 435.3h0.8v0.8h-0.8zM267.3 433.2h0.8v0.8h-0.8zM266.6 431.4h0.8v0.8h-0.8zM262.2 435.7h0.8v0.8h-0.8zM263.4 436.7h0.8v0.8h-0.8zM266.2 433.6h0.8v0.8h-0.8zM266.7 433.1h0.8v0.8h-0.8zM266.7 431.8h0.8v0.8h-0.8zM259.2 431.0h0.8v0.8h-0.8zM263.8 435.5h0.8v0.8h-0.8zM263.7 427.8h0.8v0.8h-0.8zM262.1 427.6h0.8v0.8h-0.8zM265.6 428.6h0.8v0.8h-0.8zM267.7 434.6h0.8v0.8h-0.8zM262.6 428.5h0.8v0.8h-0.8zM258.2 433.1h0.8v0.8h-0.8zM263.1 427.4h0.8v0.8h-0.8zM259.7 434.1h0.8v0.8h-0.8zM267.2 432.6h0.8v0.8h-0.8zM259.0 432.8h0.8v0.8h-0.8zM265.5 436.3h0.8v0.8h-0.8zM259.5 432.9h0.8v0.8h-0.8zM258.9 430.3h0.8v0.8h-0.8zM267.7 432.9h0.8v0.8h-0.8zM260.4 436.1h0.8v0.8h-0.8zM266.4 430.3h0.8v0.8h-0.8zM264.3 436.1h0.8v0.8h-0.8zM265.4 436.2h0.8v0.8h-0.8zM260.3 435.4h0.8v0.8h-0.8zM261.8 436.5h0.8v0.8h-0.8zM259.8 431.1h0.8v0.8h-0.8zM263.2 435.9h0.8v0.8h-0.8zM263.6 435.5h0.8v0.8h-0.8zM266.4 430.1h0.8v0.8h-0.8zM264.0 435.9h0.8v0.8h-0.8zM262.2 429.0h0.8v0.8h-0.8zM259.1 430.7h0.8v0.8h-0.8zM266.2 433.9h0.8v0.8h-0.8zM263.0 436.9h0.8v0.8h-0.8zM258.8 433.8h0.8v0.8h-0.8zM262.0 435.4h0.8v0.8h-0.8zM260.4 436.8h0.8v0.8h-0.8zM261.6 435.7h0.8v0.8h-0.8zM259.6 434.7h0.8v0.8h-0.8zM263.3 435.5h0.8v0.8h-0.8zM266.5 432.5h0.8v0.8h-0.8zM267.5 432.3h0.8v0.8h-0.8zM263.4 437.0h0.8v0.8h-0.8zM267.1 434.0h0.8v0.8h-0.8zM263.7 435.4h0.8v0.8h-0.8zM262.7 436.2h0.8v0.8h-0.8zM265.9 427.7h0.8v0.8h-0.8zM261.2 428.9h0.8v0.8h-0.8zM263.2 435.5h0.8v0.8h-0.8zM266.4 430.1h0.8v0.8h-0.8zM259.7 431.8h0.8v0.8h-0.8zM262.2 429.1h0.8v0.8h-0.8zM258.3 433.2h0.8v0.8h-0.8zM265.4 427.6h0.8v0.8h-0.8zM260.2 436.8h0.8v0.8h-0.8zM263.3 429.2h0.8v0.8h-0.8zM267.0 429.3h0.8v0.8h-0.8zM268.0 432.3h0.8v0.8h-0.8zM266.9 429.2h0.8v0.8h-0.8zM258.6 433.6h0.8v0.8h-0.8z" fill="#9494dc"/>
<path d="M264.7 430.4h0.85v0.85h-0.85zM261.4 431.0h0.85v0.85h-0.85zM263.2 431.1h0.85v0.85h-0.85zM264.3 433.3h0.85v0.85h-0.85zM260.8 432.3h0.85v0.85h-0.85zM262.7 429.4h0.85v0.85h-0.85zM265.3 432.4h0.85v0.85h-0.85zM261.4 433.0h0.85v0.85h-0.85zM261.0 434.3h0.85v0.85h-0.85zM263.2 430.1h0.85v0.85h-0.85zM265.0 432.0h0.85v0.85h-0.85zM264.6 433.1h0.85v0.85h-0.85zM260.6 430.1h0.85v0.85h-0.85zM265.6 432.4h0.85v0.85h-0.85zM265.4 430.9h0.85v0.85h-0.85zM260.9 434.9h0.85v0.85h-0.85zM264.3 434.0h0.85v0.85h-0.85zM261.1 430.1h0.85v0.85h-0.85zM263.1 431.1h0.85v0.85h-0.85zM262.9 431.1h0.85v0.85h-0.85zM264.6 432.1h0.85v0.85h-0.85zM265.6 432.0h0.85v0.85h-0.85zM265.4 430.9h0.85v0.85h-0.85zM262.8 429.9h0.85v0.85h-0.85zM262.0 432.1h0.85v0.85h-0.85zM261.0 431.5h0.85v0.85h-0.85zM263.5 430.7h0.85v0.85h-0.85zM260.7 430.9h0.85v0.85h-0.85zM261.0 434.8h0.85v0.85h-0.85zM265.4 429.9h0.85v0.85h-0.85zM265.6 431.7h0.85v0.85h-0.85zM261.7 431.9h0.85v0.85h-0.85zM260.4 433.7h0.85v0.85h-0.85zM260.6 432.6h0.85v0.85h-0.85zM263.4 430.7h0.85v0.85h-0.85zM266.0 433.0h0.85v0.85h-0.85zM261.5 429.5h0.85v0.85h-0.85zM264.1 429.6h0.85v0.85h-0.85zM262.2 430.1h0.85v0.85h-0.85zM261.9 431.6h0.85v0.85h-0.85zM265.9 429.9h0.85v0.85h-0.85zM265.7 434.2h0.85v0.85h-0.85zM265.8 431.5h0.85v0.85h-0.85zM261.6 433.0h0.85v0.85h-0.85zM264.6 434.0h0.85v0.85h-0.85zM265.7 431.6h0.85v0.85h-0.85zM261.3 431.4h0.85v0.85h-0.85zM261.4 433.2h0.85v0.85h-0.85zM261.7 430.6h0.85v0.85h-0.85zM265.9 432.6h0.85v0.85h-0.85zM261.4 434.1h0.85v0.85h-0.85zM261.5 430.7h0.85v0.85h-0.85zM265.1 431.7h0.85v0.85h-0.85zM261.8 429.7h0.85v0.85h-0.85zM264.3 433.1h0.85v0.85h-0.85zM261.9 432.2h0.85v0.85h-0.85zM261.6 429.6h0.85v0.85h-0.85zM263.5 430.4h0.85v0.85h-0.85zM262.1 433.4h0.85v0.85h-0.85zM265.0 433.1h0.85v0.85h-0.85zM261.1 430.9h0.85v0.85h-0.85zM265.3 433.4h0.85v0.85h-0.85zM261.8 429.5h0.85v0.85h-0.85zM261.5 432.3h0.85v0.85h-0.85zM260.8 433.2h0.85v0.85h-0.85zM261.6 433.3h0.85v0.85h-0.85zM264.4 434.8h0.85v0.85h-0.85zM261.1 431.3h0.85v0.85h-0.85zM260.6 433.6h0.85v0.85h-0.85zM265.6 430.6h0.85v0.85h-0.85zM264.7 432.4h0.85v0.85h-0.85zM260.8 434.9h0.85v0.85h-0.85zM265.4 432.9h0.85v0.85h-0.85zM265.6 430.7h0.85v0.85h-0.85zM261.6 432.9h0.85v0.85h-0.85zM265.4 430.9h0.85v0.85h-0.85zM261.4 433.0h0.85v0.85h-0.85zM263.2 430.8h0.85v0.85h-0.85zM264.4 433.8h0.85v0.85h-0.85zM265.5 431.1h0.85v0.85h-0.85zM260.9 432.9h0.85v0.85h-0.85zM261.9 430.9h0.85v0.85h-0.85zM260.8 431.7h0.85v0.85h-0.85zM265.4 434.2h0.85v0.85h-0.85zM264.2 434.6h0.85v0.85h-0.85zM265.7 434.9h0.85v0.85h-0.85zM266.1 431.5h0.85v0.85h-0.85zM260.7 431.0h0.85v0.85h-0.85zM261.8 430.0h0.85v0.85h-0.85zM265.7 431.8h0.85v0.85h-0.85zM261.1 434.6h0.85v0.85h-0.85zM265.3 434.0h0.85v0.85h-0.85zM265.3 431.9h0.85v0.85h-0.85zM265.2 430.0h0.85v0.85h-0.85zM263.3 429.3h0.85v0.85h-0.85zM265.7 431.0h0.85v0.85h-0.85zM261.1 431.4h0.85v0.85h-0.85z" fill="#7c7cd2"/>
<path d="M262.3 434.0h0.9v0.9h-0.9zM263.6 433.1h0.9v0.9h-0.9zM262.4 434.5h0.9v0.9h-0.9zM262.9 432.1h0.9v0.9h-0.9zM264.1 433.0h0.9v0.9h-0.9zM262.7 434.8h0.9v0.9h-0.9zM263.1 432.3h0.9v0.9h-0.9zM264.2 432.8h0.9v0.9h-0.9zM263.1 432.8h0.9v0.9h-0.9zM263.8 434.5h0.9v0.9h-0.9zM262.7 434.8h0.9v0.9h-0.9zM263.7 434.2h0.9v0.9h-0.9zM263.9 433.5h0.9v0.9h-0.9zM262.5 434.9h0.9v0.9h-0.9zM263.8 432.6h0.9v0.9h-0.9zM263.8 431.9h0.9v0.9h-0.9zM262.5 431.9h0.9v0.9h-0.9zM262.8 431.9h0.9v0.9h-0.9zM262.4 433.3h0.9v0.9h-0.9zM263.0 433.3h0.9v0.9h-0.9zM263.8 433.9h0.9v0.9h-0.9zM263.0 434.0h0.9v0.9h-0.9zM263.6 434.0h0.9v0.9h-0.9zM263.0 432.0h0.9v0.9h-0.9zM263.3 433.6h0.9v0.9h-0.9zM263.3 431.8h0.9v0.9h-0.9zM262.7 431.7h0.9v0.9h-0.9zM263.7 433.7h0.9v0.9h-0.9zM263.6 433.4h0.9v0.9h-0.9zM263.1 432.1h0.9v0.9h-0.9zM263.6 432.8h0.9v0.9h-0.9zM262.3 431.8h0.9v0.9h-0.9zM262.4 434.3h0.9v0.9h-0.9zM263.6 432.2h0.9v0.9h-0.9zM264.2 432.8h0.9v0.9h-0.9zM263.4 431.5h0.9v0.9h-0.9zM263.3 432.1h0.9v0.9h-0.9zM262.6 433.1h0.9v0.9h-0.9zM262.5 433.8h0.9v0.9h-0.9zM263.5 432.0h0.9v0.9h-0.9zM262.2 433.6h0.9v0.9h-0.9zM262.8 433.1h0.9v0.9h-0.9zM262.3 433.3h0.9v0.9h-0.9zM263.3 432.1h0.9v0.9h-0.9zM264.1 434.4h0.9v0.9h-0.9zM263.9 434.1h0.9v0.9h-0.9zM263.6 433.5h0.9v0.9h-0.9zM262.7 433.9h0.9v0.9h-0.9z" fill="#a872a8"/>
<path d="M257.0 516.2h0.7v0.7h-0.7zM259.3 525.6h0.7v0.7h-0.7zM265.0 528.7h0.7v0.7h-0.7zM266.8 528.5h0.7v0.7h-0.7zM269.8 513.5h0.7v0.7h-0.7zM265.5 527.6h0.7v0.7h-0.7zM300.6 526.3h0.7v0.7h-0.7zM292.2 526.0h0.7v0.7h-0.7zM299.1 521.3h0.7v0.7h-0.7zM298.5 520.6h0.7v0.7h-0.7zM305.1 520.8h0.7v0.7h-0.7zM298.5 521.1h0.7v0.7h-0.7zM285.3 526.5h0.7v0.7h-0.7zM258.7 527.2h0.7v0.7h-0.7zM287.0 526.3h0.7v0.7h-0.7zM274.6 525.0h0.7v0.7h-0.7zM291.7 524.9h0.7v0.7h-0.7zM288.8 513.7h0.7v0.7h-0.7zM292.7 525.9h0.7v0.7h-0.7zM277.6 514.2h0.7v0.7h-0.7zM270.1 515.4h0.7v0.7h-0.7zM299.0 517.6h0.7v0.7h-0.7zM297.3 518.8h0.7v0.7h-0.7zM308.3 524.6h0.7v0.7h-0.7zM294.6 522.3h0.7v0.7h-0.7zM291.7 525.4h0.7v0.7h-0.7zM299.7 518.5h0.7v0.7h-0.7zM281.1 514.9h0.7v0.7h-0.7zM302.4 518.3h0.7v0.7h-0.7zM279.6 525.9h0.7v0.7h-0.7zM295.4 521.6h0.7v0.7h-0.7zM309.3 521.6h0.7v0.7h-0.7zM296.8 523.9h0.7v0.7h-0.7zM298.0 520.7h0.7v0.7h-0.7zM310.7 523.9h0.7v0.7h-0.7zM297.0 500.8h0.7v0.7h-0.7zM263.1 533.6h0.7v0.7h-0.7zM258.1 515.2h0.7v0.7h-0.7zM308.1 498.8h0.7v0.7h-0.7zM270.1 546.6h0.7v0.7h-0.7zM277.8 534.8h0.7v0.7h-0.7zM274.5 539.0h0.7v0.7h-0.7zM294.4 550.6h0.7v0.7h-0.7zM267.3 503.4h0.7v0.7h-0.7zM305.4 513.8h0.7v0.7h-0.7zM291.1 531.4h0.7v0.7h-0.7zM284.5 523.9h0.7v0.7h-0.7zM257.0 503.7h0.7v0.7h-0.7z" fill="#d2d2f2"/>
<path d="M270.1 524.6h0.75v0.75h-0.75zM264.2 525.6h0.75v0.75h-0.75zM272.0 519.7h0.75v0.75h-0.75zM270.2 525.4h0.75v0.75h-0.75zM267.2 526.1h0.75v0.75h-0.75zM258.7 521.2h0.75v0.75h-0.75zM259.0 521.5h0.75v0.75h-0.75zM266.0 527.4h0.75v0.75h-0.75zM260.1 523.7h0.75v0.75h-0.75zM260.0 524.4h0.75v0.75h-0.75zM268.1 525.6h0.75v0.75h-0.75zM259.2 522.0h0.75v0.75h-0.75zM260.6 516.9h0.75v0.75h-0.75zM272.0 523.3h0.75v0.75h-0.75zM266.9 525.6h0.75v0.75h-0.75zM257.9 523.4h0.75v0.75h-0.75zM268.3 525.6h0.75v0.75h-0.75zM271.3 519.4h0.75v0.75h-0.75zM262.7 517.0h0.75v0.75h-0.75zM274.7 519.9h0.75v0.75h-0.75zM259.0 525.3h0.75v0.75h-0.75zM270.2 524.1h0.75v0.75h-0.75zM263.6 526.5h0.75v0.75h-0.75zM271.4 524.0h0.75v0.75h-0.75zM259.1 520.5h0.75v0.75h-0.75zM265.3 527.0h0.75v0.75h-0.75zM262.4 526.9h0.75v0.75h-0.75zM272.3 520.6h0.75v0.75h-0.75zM289.0 523.7h0.75v0.75h-0.75zM280.0 519.7h0.75v0.75h-0.75zM285.7 521.7h0.75v0.75h-0.75zM283.8 516.7h0.75v0.75h-0.75zM273.9 519.7h0.75v0.75h-0.75zM280.0 522.8h0.75v0.75h-0.75zM285.6 519.5h0.75v0.75h-0.75zM271.6 523.2h0.75v0.75h-0.75zM283.9 519.1h0.75v0.75h-0.75zM271.5 520.8h0.75v0.75h-0.75zM277.1 518.3h0.75v0.75h-0.75zM287.8 519.3h0.75v0.75h-0.75zM289.8 524.0h0.75v0.75h-0.75zM279.8 520.6h0.75v0.75h-0.75zM282.8 519.7h0.75v0.75h-0.75zM287.1 519.2h0.75v0.75h-0.75zM277.8 517.3h0.75v0.75h-0.75zM285.1 522.5h0.75v0.75h-0.75zM291.5 520.2h0.75v0.75h-0.75zM279.8 516.3h0.75v0.75h-0.75zM284.8 522.9h0.75v0.75h-0.75zM287.4 521.1h0.75v0.75h-0.75zM274.1 519.6h0.75v0.75h-0.75zM287.9 521.1h0.75v0.75h-0.75zM289.7 518.9h0.75v0.75h-0.75zM274.1 523.4h0.75v0.75h-0.75zM291.3 515.7h0.75v0.75h-0.75zM288.7 522.8h0.75v0.75h-0.75zM278.6 520.2h0.75v0.75h-0.75zM290.1 517.5h0.75v0.75h-0.75zM287.7 520.7h0.75v0.75h-0.75zM278.7 517.4h0.75v0.75h-0.75zM282.5 524.0h0.75v0.75h-0.75zM289.3 524.4h0.75v0.75h-0.75zM279.1 523.9h0.75v0.75h-0.75zM277.7 521.5h0.75v0.75h-0.75zM274.6 518.1h0.75v0.75h-0.75zM279.0 524.2h0.75v0.75h-0.75zM287.5 524.0h0.75v0.75h-0.75zM290.4 520.7h0.75v0.75h-0.75zM281.3 523.6h0.75v0.75h-0.75zM290.2 521.0h0.75v0.75h-0.75zM286.1 520.3h0.75v0.75h-0.75zM282.3 522.7h0.75v0.75h-0.75zM290.9 521.8h0.75v0.75h-0.75zM281.4 522.7h0.75v0.75h-0.75zM272.5 523.3h0.75v0.75h-0.75zM289.9 519.0h0.75v0.75h-0.75zM281.3 524.3h0.75v0.75h-0.75zM293.3 520.9h0.75v0.75h-0.75zM285.7 524.5h0.75v0.75h-0.75zM280.8 525.0h0.75v0.75h-0.75zM289.8 521.3h0.75v0.75h-0.75zM290.6 524.6h0.75v0.75h-0.75zM286.5 517.3h0.75v0.75h-0.75zM270.6 524.9h0.75v0.75h-0.75zM291.8 517.7h0.75v0.75h-0.75zM294.2 517.8h0.75v0.75h-0.75zM287.7 521.7h0.75v0.75h-0.75zM278.1 520.3h0.75v0.75h-0.75zM277.5 520.5h0.75v0.75h-0.75zM292.2 518.1h0.75v0.75h-0.75zM289.2 517.6h0.75v0.75h-0.75zM271.4 519.9h0.75v0.75h-0.75zM280.6 520.0h0.75v0.75h-0.75zM285.8 516.2h0.75v0.75h-0.75zM280.1 518.7h0.75v0.75h-0.75zM280.8 524.4h0.75v0.75h-0.75zM282.9 522.4h0.75v0.75h-0.75zM289.2 516.9h0.75v0.75h-0.75zM291.4 523.9h0.75v0.75h-0.75zM283.8 516.2h0.75v0.75h-0.75zM281.8 518.4h0.75v0.75h-0.75zM286.5 518.5h0.75v0.75h-0.75zM277.5 523.4h0.75v0.75h-0.75zM286.5 521.0h0.75v0.75h-0.75zM289.8 518.1h0.75v0.75h-0.75zM282.2 519.3h0.75v0.75h-0.75zM292.0 517.1h0.75v0.75h-0.75zM278.1 520.8h0.75v0.75h-0.75zM287.8 520.5h0.75v0.75h-0.75zM286.7 520.1h0.75v0.75h-0.75zM273.3 521.1h0.75v0.75h-0.75zM295.5 520.7h0.75v0.75h-0.75zM283.4 521.6h0.75v0.75h-0.75zM287.7 521.1h0.75v0.75h-0.75zM270.2 523.9h0.75v0.75h-0.75zM278.8 522.0h0.75v0.75h-0.75zM296.5 520.0h0.75v0.75h-0.75zM279.4 517.1h0.75v0.75h-0.75zM283.3 521.6h0.75v0.75h-0.75zM296.7 521.2h0.75v0.75h-0.75zM283.0 521.3h0.75v0.75h-0.75zM277.2 523.2h0.75v0.75h-0.75zM294.7 521.2h0.75v0.75h-0.75zM287.9 521.5h0.75v0.75h-0.75zM275.9 523.4h0.75v0.75h-0.75zM292.2 518.1h0.75v0.75h-0.75zM291.3 516.4h0.75v0.75h-0.75zM292.4 516.3h0.75v0.75h-0.75zM267.6 517.1h0.75v0.75h-0.75zM276.3 518.9h0.75v0.75h-0.75zM277.7 519.5h0.75v0.75h-0.75zM284.0 517.4h0.75v0.75h-0.75zM280.7 520.7h0.75v0.75h-0.75zM275.7 521.8h0.75v0.75h-0.75zM281.2 523.9h0.75v0.75h-0.75zM291.9 519.5h0.75v0.75h-0.75zM284.8 517.8h0.75v0.75h-0.75zM287.4 524.9h0.75v0.75h-0.75z" fill="#b2b2e8"/>
<path d="M261.2 523.4h0.8v0.8h-0.8zM260.9 521.3h0.8v0.8h-0.8zM259.5 518.0h0.8v0.8h-0.8zM266.8 523.8h0.8v0.8h-0.8zM262.6 524.4h0.8v0.8h-0.8zM261.1 521.4h0.8v0.8h-0.8zM264.5 516.1h0.8v0.8h-0.8zM268.6 517.6h0.8v0.8h-0.8zM261.5 523.5h0.8v0.8h-0.8zM261.3 521.9h0.8v0.8h-0.8zM262.5 523.8h0.8v0.8h-0.8zM263.0 518.0h0.8v0.8h-0.8zM267.2 524.1h0.8v0.8h-0.8zM263.1 519.4h0.8v0.8h-0.8zM262.2 524.6h0.8v0.8h-0.8zM262.1 525.1h0.8v0.8h-0.8zM266.3 525.0h0.8v0.8h-0.8zM264.0 517.2h0.8v0.8h-0.8zM262.9 525.2h0.8v0.8h-0.8zM267.0 524.4h0.8v0.8h-0.8zM269.0 517.6h0.8v0.8h-0.8zM266.5 523.6h0.8v0.8h-0.8zM265.9 517.0h0.8v0.8h-0.8zM259.4 519.0h0.8v0.8h-0.8zM261.4 521.3h0.8v0.8h-0.8zM269.2 524.7h0.8v0.8h-0.8zM262.6 523.7h0.8v0.8h-0.8zM265.5 524.3h0.8v0.8h-0.8zM261.8 525.3h0.8v0.8h-0.8zM269.3 519.1h0.8v0.8h-0.8zM269.5 522.7h0.8v0.8h-0.8zM265.5 524.5h0.8v0.8h-0.8zM269.1 517.7h0.8v0.8h-0.8zM260.2 519.7h0.8v0.8h-0.8zM260.7 521.6h0.8v0.8h-0.8zM263.1 517.5h0.8v0.8h-0.8zM267.6 523.7h0.8v0.8h-0.8zM269.6 522.3h0.8v0.8h-0.8zM261.9 518.3h0.8v0.8h-0.8zM262.8 525.1h0.8v0.8h-0.8zM268.6 523.8h0.8v0.8h-0.8zM265.3 517.4h0.8v0.8h-0.8zM263.1 524.0h0.8v0.8h-0.8zM266.1 517.1h0.8v0.8h-0.8zM260.2 519.5h0.8v0.8h-0.8zM268.8 524.2h0.8v0.8h-0.8zM265.3 516.3h0.8v0.8h-0.8zM261.8 523.8h0.8v0.8h-0.8zM261.3 521.7h0.8v0.8h-0.8zM267.1 523.8h0.8v0.8h-0.8zM263.0 519.2h0.8v0.8h-0.8zM269.9 521.7h0.8v0.8h-0.8zM260.6 519.6h0.8v0.8h-0.8zM270.2 519.8h0.8v0.8h-0.8zM266.3 524.2h0.8v0.8h-0.8zM267.0 524.4h0.8v0.8h-0.8zM262.4 524.6h0.8v0.8h-0.8zM267.0 523.8h0.8v0.8h-0.8zM270.4 521.4h0.8v0.8h-0.8zM271.3 520.2h0.8v0.8h-0.8zM262.8 519.1h0.8v0.8h-0.8zM263.7 517.4h0.8v0.8h-0.8zM265.9 523.9h0.8v0.8h-0.8zM271.2 521.3h0.8v0.8h-0.8zM262.1 518.6h0.8v0.8h-0.8zM262.9 524.3h0.8v0.8h-0.8zM269.4 524.4h0.8v0.8h-0.8zM271.2 520.9h0.8v0.8h-0.8zM269.8 521.9h0.8v0.8h-0.8zM270.5 522.5h0.8v0.8h-0.8z" fill="#9494dc"/>
<path d="M268.2 523.3h0.85v0.85h-0.85zM263.7 518.9h0.85v0.85h-0.85zM263.1 521.4h0.85v0.85h-0.85zM264.3 523.6h0.85v0.85h-0.85zM264.6 523.9h0.85v0.85h-0.85zM265.9 519.9h0.85v0.85h-0.85zM268.4 520.7h0.85v0.85h-0.85zM265.0 524.3h0.85v0.85h-0.85zM265.6 521.1h0.85v0.85h-0.85zM268.0 523.3h0.85v0.85h-0.85zM263.6 525.4h0.85v0.85h-0.85zM268.3 521.9h0.85v0.85h-0.85zM268.9 519.9h0.85v0.85h-0.85zM263.3 519.9h0.85v0.85h-0.85zM262.1 520.2h0.85v0.85h-0.85zM269.2 523.2h0.85v0.85h-0.85zM263.6 524.4h0.85v0.85h-0.85zM263.0 522.9h0.85v0.85h-0.85zM263.6 518.4h0.85v0.85h-0.85zM266.7 519.2h0.85v0.85h-0.85zM267.2 520.3h0.85v0.85h-0.85zM263.3 522.1h0.85v0.85h-0.85zM265.7 521.6h0.85v0.85h-0.85zM266.9 519.1h0.85v0.85h-0.85zM269.4 520.0h0.85v0.85h-0.85zM261.9 521.4h0.85v0.85h-0.85zM264.7 518.0h0.85v0.85h-0.85zM263.4 518.0h0.85v0.85h-0.85zM267.3 520.7h0.85v0.85h-0.85zM269.0 521.2h0.85v0.85h-0.85zM262.6 520.2h0.85v0.85h-0.85zM267.7 521.3h0.85v0.85h-0.85zM262.5 522.4h0.85v0.85h-0.85zM265.5 517.7h0.85v0.85h-0.85zM265.7 522.0h0.85v0.85h-0.85zM262.5 520.4h0.85v0.85h-0.85zM265.1 518.9h0.85v0.85h-0.85zM264.5 519.3h0.85v0.85h-0.85zM267.3 523.2h0.85v0.85h-0.85zM266.0 522.6h0.85v0.85h-0.85zM265.9 519.9h0.85v0.85h-0.85zM266.6 519.6h0.85v0.85h-0.85zM266.1 523.4h0.85v0.85h-0.85zM266.0 523.0h0.85v0.85h-0.85zM267.4 521.2h0.85v0.85h-0.85zM267.3 520.8h0.85v0.85h-0.85zM265.3 524.1h0.85v0.85h-0.85zM265.1 523.7h0.85v0.85h-0.85zM267.1 518.7h0.85v0.85h-0.85zM262.4 519.6h0.85v0.85h-0.85zM268.3 521.2h0.85v0.85h-0.85zM266.6 521.8h0.85v0.85h-0.85zM269.2 523.1h0.85v0.85h-0.85zM262.6 522.4h0.85v0.85h-0.85zM266.3 517.9h0.85v0.85h-0.85zM262.2 520.2h0.85v0.85h-0.85zM263.0 522.8h0.85v0.85h-0.85zM268.6 520.5h0.85v0.85h-0.85zM266.2 519.4h0.85v0.85h-0.85zM268.6 521.7h0.85v0.85h-0.85zM266.6 522.4h0.85v0.85h-0.85zM265.5 519.3h0.85v0.85h-0.85zM268.5 519.6h0.85v0.85h-0.85zM262.6 519.7h0.85v0.85h-0.85zM265.2 523.8h0.85v0.85h-0.85zM266.7 521.3h0.85v0.85h-0.85zM264.2 524.6h0.85v0.85h-0.85zM265.8 521.8h0.85v0.85h-0.85zM265.3 518.0h0.85v0.85h-0.85zM267.8 521.7h0.85v0.85h-0.85zM266.9 521.7h0.85v0.85h-0.85zM261.7 523.3h0.85v0.85h-0.85zM266.9 523.2h0.85v0.85h-0.85zM268.9 521.2h0.85v0.85h-0.85zM265.5 520.5h0.85v0.85h-0.85zM267.8 520.0h0.85v0.85h-0.85zM265.4 523.7h0.85v0.85h-0.85zM264.3 517.6h0.85v0.85h-0.85zM263.2 523.1h0.85v0.85h-0.85zM267.1 518.5h0.85v0.85h-0.85zM265.6 520.3h0.85v0.85h-0.85zM265.1 519.1h0.85v0.85h-0.85zM267.3 522.9h0.85v0.85h-0.85zM268.4 521.8h0.85v0.85h-0.85zM264.5 519.1h0.85v0.85h-0.85zM261.7 521.6h0.85v0.85h-0.85zM263.7 519.2h0.85v0.85h-0.85zM268.8 520.4h0.85v0.85h-0.85zM266.8 520.3h0.85v0.85h-0.85zM269.1 521.6h0.85v0.85h-0.85zM264.8 518.9h0.85v0.85h-0.85zM265.8 522.9h0.85v0.85h-0.85zM268.4 522.4h0.85v0.85h-0.85z" fill="#7c7cd2"/>
<path d="M264.1 521.1h0.9v0.9h-0.9zM264.4 523.5h0.9v0.9h-0.9zM264.8 522.3h0.9v0.9h-0.9zM264.6 523.1h0.9v0.9h-0.9zM264.8 520.2h0.9v0.9h-0.9zM264.0 520.6h0.9v0.9h-0.9zM264.8 522.4h0.9v0.9h-0.9zM265.1 521.2h0.9v0.9h-0.9zM264.4 522.4h0.9v0.9h-0.9zM264.2 521.6h0.9v0.9h-0.9zM265.2 520.2h0.9v0.9h-0.9zM263.9 521.7h0.9v0.9h-0.9zM263.9 523.3h0.9v0.9h-0.9zM264.9 522.8h0.9v0.9h-0.9zM264.2 523.4h0.9v0.9h-0.9zM263.9 520.7h0.9v0.9h-0.9zM264.4 521.5h0.9v0.9h-0.9zM264.2 522.5h0.9v0.9h-0.9zM264.8 520.2h0.9v0.9h-0.9zM264.0 519.9h0.9v0.9h-0.9zM264.6 523.1h0.9v0.9h-0.9zM263.5 520.8h0.9v0.9h-0.9zM264.8 520.6h0.9v0.9h-0.9zM265.3 523.3h0.9v0.9h-0.9zM263.4 521.9h0.9v0.9h-0.9zM263.7 519.9h0.9v0.9h-0.9zM263.8 523.0h0.9v0.9h-0.9zM263.8 522.1h0.9v0.9h-0.9zM264.7 522.3h0.9v0.9h-0.9zM263.4 522.8h0.9v0.9h-0.9zM264.3 519.8h0.9v0.9h-0.9zM263.6 522.8h0.9v0.9h-0.9zM264.7 522.6h0.9v0.9h-0.9zM264.3 522.1h0.9v0.9h-0.9zM264.8 523.2h0.9v0.9h-0.9zM265.0 521.0h0.9v0.9h-0.9zM264.4 521.7h0.9v0.9h-0.9zM264.5 520.0h0.9v0.9h-0.9zM263.7 523.2h0.9v0.9h-0.9zM263.4 522.4h0.9v0.9h-0.9zM264.8 520.2h0.9v0.9h-0.9zM264.9 523.0h0.9v0.9h-0.9zM264.2 522.0h0.9v0.9h-0.9zM264.4 523.4h0.9v0.9h-0.9zM263.9 520.7h0.9v0.9h-0.9zM265.1 522.1h0.9v0.9h-0.9z" fill="#a872a8"/>
<rect x="256.20" y="409.20" width="60.50" height="60.20" stroke="#1a1a1a" stroke-width="1.0" fill="none"/>
<path d="M253.4 469.4H256.2M254.4 464.9H256.2M254.4 462.2H256.2M254.4 460.4H256.2M254.4 458.9H256.2M254.4 457.7H256.2M254.4 456.6H256.2M254.4 455.9H256.2M254.4 455.1H256.2M253.4 454.3H256.2M254.4 449.8H256.2M254.4 447.1H256.2M254.4 445.3H256.2M254.4 443.8H256.2M254.4 442.6H256.2M254.4 441.6H256.2M254.4 440.8H256.2M254.4 440.1H256.2M253.4 439.3H256.2M254.4 434.8H256.2M254.4 432.1H256.2M254.4 430.3H256.2M254.4 428.8H256.2M254.4 427.6H256.2M254.4 426.5H256.2M254.4 425.8H256.2M254.4 425.0H256.2M253.4 424.2H256.2M254.4 419.7H256.2M254.4 417.0H256.2M254.4 415.2H256.2M254.4 413.7H256.2M254.4 412.5H256.2M254.4 411.5H256.2M254.4 410.7H256.2M254.4 410.0H256.2M256.2 469.4V472.2M260.7 469.4V471.2M263.5 469.4V471.2M265.3 469.4V471.2M266.8 469.4V471.2M268.0 469.4V471.2M269.1 469.4V471.2M269.8 469.4V471.2M270.6 469.4V471.2M271.3 469.4V472.2M275.9 469.4V471.2M278.6 469.4V471.2M280.4 469.4V471.2M281.9 469.4V471.2M283.1 469.4V471.2M284.2 469.4V471.2M284.9 469.4V471.2M285.7 469.4V471.2M286.4 469.4V472.2M291.0 469.4V471.2M293.7 469.4V471.2M295.5 469.4V471.2M297.0 469.4V471.2M298.2 469.4V471.2M299.3 469.4V471.2M300.1 469.4V471.2M300.8 469.4V471.2M301.6 469.4V472.2M306.1 469.4V471.2M308.8 469.4V471.2M310.6 469.4V471.2M312.2 469.4V471.2M313.4 469.4V471.2M314.4 469.4V471.2M315.2 469.4V471.2M315.9 469.4V471.2" stroke="#000" stroke-width="0.7" fill="none"/>
<rect x="255.40" y="497.50" width="60.40" height="60.90" stroke="#1a1a1a" stroke-width="1.0" fill="none"/>
<path d="M252.6 558.4H255.4M253.6 553.8H255.4M253.6 551.1H255.4M253.6 549.3H255.4M253.6 547.7H255.4M253.6 546.5H255.4M253.6 545.5H255.4M253.6 544.7H255.4M253.6 543.9H255.4M252.6 543.2H255.4M253.6 538.6H255.4M253.6 535.9H255.4M253.6 534.0H255.4M253.6 532.5H255.4M253.6 531.3H255.4M253.6 530.2H255.4M253.6 529.5H255.4M253.6 528.7H255.4M252.6 528.0H255.4M253.6 523.4H255.4M253.6 520.6H255.4M253.6 518.8H255.4M253.6 517.3H255.4M253.6 516.1H255.4M253.6 515.0H255.4M253.6 514.2H255.4M253.6 513.5H255.4M252.6 512.7H255.4M253.6 508.2H255.4M253.6 505.4H255.4M253.6 503.6H255.4M253.6 502.1H255.4M253.6 500.8H255.4M253.6 499.8H255.4M253.6 499.0H255.4M253.6 498.3H255.4M255.4 558.4V561.2M259.9 558.4V560.2M262.6 558.4V560.2M264.5 558.4V560.2M266.0 558.4V560.2M267.2 558.4V560.2M268.2 558.4V560.2M269.0 558.4V560.2M269.7 558.4V560.2M270.5 558.4V561.2M275.0 558.4V560.2M277.7 558.4V560.2M279.6 558.4V560.2M281.1 558.4V560.2M282.3 558.4V560.2M283.3 558.4V560.2M284.1 558.4V560.2M284.8 558.4V560.2M285.6 558.4V561.2M290.1 558.4V560.2M292.8 558.4V560.2M294.7 558.4V560.2M296.2 558.4V560.2M297.4 558.4V560.2M298.4 558.4V560.2M299.2 558.4V560.2M299.9 558.4V560.2M300.7 558.4V561.2M305.2 558.4V560.2M307.9 558.4V560.2M309.8 558.4V560.2M311.3 558.4V560.2M312.5 558.4V560.2M313.5 558.4V560.2M314.3 558.4V560.2M315.0 558.4V560.2" stroke="#000" stroke-width="0.7" fill="none"/>
<rect x="271.90" y="422.70" width="31.80" height="18.80" stroke="#222" stroke-width="0.95" fill="none"/>
<rect x="271.20" y="511.00" width="31.70" height="19.00" stroke="#222" stroke-width="0.95" fill="none"/>
<text x="282.70" y="421.00" font-size="6.8" textLength="14.20" lengthAdjust="spacingAndGlyphs">28.1</text>
<text x="281.70" y="509.40" font-size="6.8" textLength="13.50" lengthAdjust="spacingAndGlyphs">18.5</text>
<text x="247.60" y="555.60" font-size="9.2" textLength="25.00" lengthAdjust="spacingAndGlyphs" transform="rotate(-90 247.60 555.60)">CD45.1</text>
<line x1="244.20" y1="526.70" x2="244.20" y2="510.00" stroke="#1c1c1c" stroke-width="1.1"/>
<path d="M244.20,506.30 L242.10,510.50 L246.30,510.50 Z" fill="#1c1c1c"/>
<text x="254.20" y="572.40" font-size="9.2" textLength="27.00" lengthAdjust="spacingAndGlyphs">GM-CSF</text>
<line x1="284.00" y1="569.20" x2="302.70" y2="569.20" stroke="#1c1c1c" stroke-width="1.1"/>
<path d="M306.40,569.20 L302.20,567.10 L302.20,571.30 Z" fill="#1c1c1c"/>
<g transform="translate(47.2,315.9)"><path d="M10.6,0.6 C9.5,-2 7.5,-3.4 4.4,-3.4 C1,-3.4 -1.5,-0.8 -3.2,0.5 C-4.5,1.5 -6,1.8 -7.4,1.4" fill="none" stroke="#111" stroke-width="1.3" stroke-linecap="round"/><path d="M10.5,0.5 C16.5,0.5 20.4,5 20.4,10 C20.4,11 21.2,12 21.1,13.6 C21,15.5 19.5,16.6 18,17.6 C16,19.5 13.5,22 12,23.4 C11.3,24.1 9.8,24.1 9,23.4 C7.5,22 5,19.5 3,17.6 C1.5,16.6 0,15.5 0,13.6 C0,12 0.6,11 0.6,10 C0.6,5 4.5,0.5 10.5,0.5 Z" fill="#787878" stroke="#111" stroke-width="1.0"/><path d="M0.9,13.8 C1.4,10.2 6.6,9.2 8.8,13.9 M20.2,13.8 C19.7,10.2 14.5,9.2 12.3,13.9" fill="none" stroke="#2e2e2e" stroke-width="1.5"/><path d="M1.6,15 C2.5,12.6 6,12.2 8,14.6 M19.5,15 C18.6,12.6 15.1,12.2 13.1,14.6" fill="none" stroke="#5e5e5e" stroke-width="0.6"/><circle cx="7.9" cy="19.3" r="1.0" fill="#000"/><circle cx="13.2" cy="19.3" r="1.0" fill="#000"/><path d="M9.4,22.8 L11.8,22.8 L10.6,24.4 Z" fill="#000"/><path d="M6.8,21.2 L2.4,19.6 M6.9,21.9 L2,22.6 M7.4,22.5 L3.4,25 M14.3,21.2 L18.7,19.6 M14.2,21.9 L19.1,22.6 M13.7,22.5 L17.7,25" stroke="#a0a0a0" stroke-width="0.5"/></g>
<g transform="translate(84.9,316.3)"><path d="M10.6,0.6 C9.5,-2 7.5,-3.4 4.4,-3.4 C1,-3.4 -1.5,-0.8 -3.2,0.5 C-4.5,1.5 -6,1.8 -7.4,1.4" fill="none" stroke="#111" stroke-width="1.3" stroke-linecap="round"/><path d="M10.5,0.5 C16.5,0.5 20.4,5 20.4,10 C20.4,11 21.2,12 21.1,13.6 C21,15.5 19.5,16.6 18,17.6 C16,19.5 13.5,22 12,23.4 C11.3,24.1 9.8,24.1 9,23.4 C7.5,22 5,19.5 3,17.6 C1.5,16.6 0,15.5 0,13.6 C0,12 0.6,11 0.6,10 C0.6,5 4.5,0.5 10.5,0.5 Z" fill="#ffffff" stroke="#111" stroke-width="1.0"/><path d="M0.9,13.8 C1.4,10.2 6.6,9.2 8.8,13.9 M20.2,13.8 C19.7,10.2 14.5,9.2 12.3,13.9" fill="none" stroke="#909090" stroke-width="1.5"/><path d="M1.6,15 C2.5,12.6 6,12.2 8,14.6 M19.5,15 C18.6,12.6 15.1,12.2 13.1,14.6" fill="none" stroke="#c0c0c0" stroke-width="0.6"/><circle cx="7.9" cy="19.3" r="1.0" fill="#000"/><circle cx="13.2" cy="19.3" r="1.0" fill="#000"/><path d="M9.4,22.8 L11.8,22.8 L10.6,24.4 Z" fill="#000"/><path d="M6.8,21.2 L2.4,19.6 M6.9,21.9 L2,22.6 M7.4,22.5 L3.4,25 M14.3,21.2 L18.7,19.6 M14.2,21.9 L19.1,22.6 M13.7,22.5 L17.7,25" stroke="#a0a0a0" stroke-width="0.5"/></g>
<g transform="translate(126.2,350.7)"><path d="M10.6,0.6 C9.5,-2 7.5,-3.4 4.4,-3.4 C1,-3.4 -1.5,-0.8 -3.2,0.5 C-4.5,1.5 -6,1.8 -7.4,1.4" fill="none" stroke="#111" stroke-width="1.3" stroke-linecap="round"/><path d="M10.5,0.5 C16.5,0.5 20.4,5 20.4,10 C20.4,11 21.2,12 21.1,13.6 C21,15.5 19.5,16.6 18,17.6 C16,19.5 13.5,22 12,23.4 C11.3,24.1 9.8,24.1 9,23.4 C7.5,22 5,19.5 3,17.6 C1.5,16.6 0,15.5 0,13.6 C0,12 0.6,11 0.6,10 C0.6,5 4.5,0.5 10.5,0.5 Z" fill="#787878" stroke="#111" stroke-width="1.0"/><path d="M0.9,13.8 C1.4,10.2 6.6,9.2 8.8,13.9 M20.2,13.8 C19.7,10.2 14.5,9.2 12.3,13.9" fill="none" stroke="#2e2e2e" stroke-width="1.5"/><path d="M1.6,15 C2.5,12.6 6,12.2 8,14.6 M19.5,15 C18.6,12.6 15.1,12.2 13.1,14.6" fill="none" stroke="#5e5e5e" stroke-width="0.6"/><circle cx="7.9" cy="19.3" r="1.0" fill="#000"/><circle cx="13.2" cy="19.3" r="1.0" fill="#000"/><path d="M9.4,22.8 L11.8,22.8 L10.6,24.4 Z" fill="#000"/><path d="M6.8,21.2 L2.4,19.6 M6.9,21.9 L2,22.6 M7.4,22.5 L3.4,25 M14.3,21.2 L18.7,19.6 M14.2,21.9 L19.1,22.6 M13.7,22.5 L17.7,25" stroke="#a0a0a0" stroke-width="0.5"/></g>
<text x="41.10" y="279.60" font-size="8.3" textLength="33.20" lengthAdjust="spacingAndGlyphs">B6 WT or</text>
<text x="30.70" y="289.50" font-size="8.3" textLength="53.50" lengthAdjust="spacingAndGlyphs">GM-CSF<tspan font-size="5.15" dy="-3.15">-/-</tspan><tspan dy="3.15"> CD4</tspan></text>
<text x="39.70" y="298.80" font-size="8.3" textLength="30.70" lengthAdjust="spacingAndGlyphs">(CD45.2)</text>
<text x="99.20" y="301.25" font-size="8.3" textLength="64.50" lengthAdjust="spacingAndGlyphs">1*10<tspan font-size="5.15" dy="-3.15">6</tspan><tspan dy="3.15"> Sorted Vα2</tspan><tspan font-size="5.15" dy="-3.15">+</tspan></text>
<text x="104.50" y="311.25" font-size="8.3" textLength="53.50" lengthAdjust="spacingAndGlyphs">Vβ6<tspan font-size="5.15" dy="-3.15">+</tspan><tspan dy="3.15"> Cells D12</tspan></text>
<text x="25.80" y="350.50" font-size="8.3" textLength="47.60" lengthAdjust="spacingAndGlyphs">B6 Rag-1<tspan font-size="5.15" dy="-3.15">-/-</tspan><tspan dy="3.15"> or</tspan></text>
<text x="27.70" y="359.70" font-size="8.3" textLength="43.80" lengthAdjust="spacingAndGlyphs">H2-ab1<tspan font-size="5.15" dy="-3.15">-/-</tspan><tspan dy="3.15"> BM</tspan></text>
<text x="32.30" y="368.60" font-size="8.3" textLength="31.20" lengthAdjust="spacingAndGlyphs">(CD45.2)</text>
<text x="85.40" y="350.50" font-size="8.3" textLength="23.10" lengthAdjust="spacingAndGlyphs">Balb/c</text>
<text x="81.20" y="359.70" font-size="8.3" textLength="30.80" lengthAdjust="spacingAndGlyphs">(CD45.2)</text>
<text x="157.00" y="328.00" font-size="8.3" textLength="51.00" lengthAdjust="spacingAndGlyphs">Harvest Colon</text>
<text x="157.00" y="337.00" font-size="8.3" textLength="46.80" lengthAdjust="spacingAndGlyphs">LP On D12+7</text>
<text x="155.50" y="359.50" font-size="8.3" textLength="52.50" lengthAdjust="spacingAndGlyphs">TEa Transgenic</text>
<text x="165.50" y="369.50" font-size="8.3" textLength="32.00" lengthAdjust="spacingAndGlyphs">(CD45.1)</text>
<line x1="71.00" y1="330.70" x2="79.50" y2="330.70" stroke="#1c1c1c" stroke-width="1.2"/>
<path d="M82.80,330.70 L79.00,328.70 L79.00,332.70 Z" fill="#1c1c1c"/>
<line x1="110.30" y1="330.60" x2="127.60" y2="330.60" stroke="#1c1c1c" stroke-width="1.2"/>
<path d="M130.90,330.60 L127.10,328.60 L127.10,332.60 Z" fill="#1c1c1c"/>
<line x1="134.10" y1="330.60" x2="150.90" y2="330.60" stroke="#1c1c1c" stroke-width="1.0"/>
<path d="M154.20,330.60 L150.40,328.60 L150.40,332.60 Z" fill="#1c1c1c"/>
<line x1="133.40" y1="345.90" x2="133.40" y2="338.30" stroke="#1c1c1c" stroke-width="1.0"/>
<path d="M133.40,335.30 L131.50,338.80 L135.30,338.80 Z" fill="#1c1c1c"/>
<rect x="0.5" y="0.5" width="519" height="579" fill="none" stroke="#000" stroke-width="1.2"/>
</svg>
</body></html>
